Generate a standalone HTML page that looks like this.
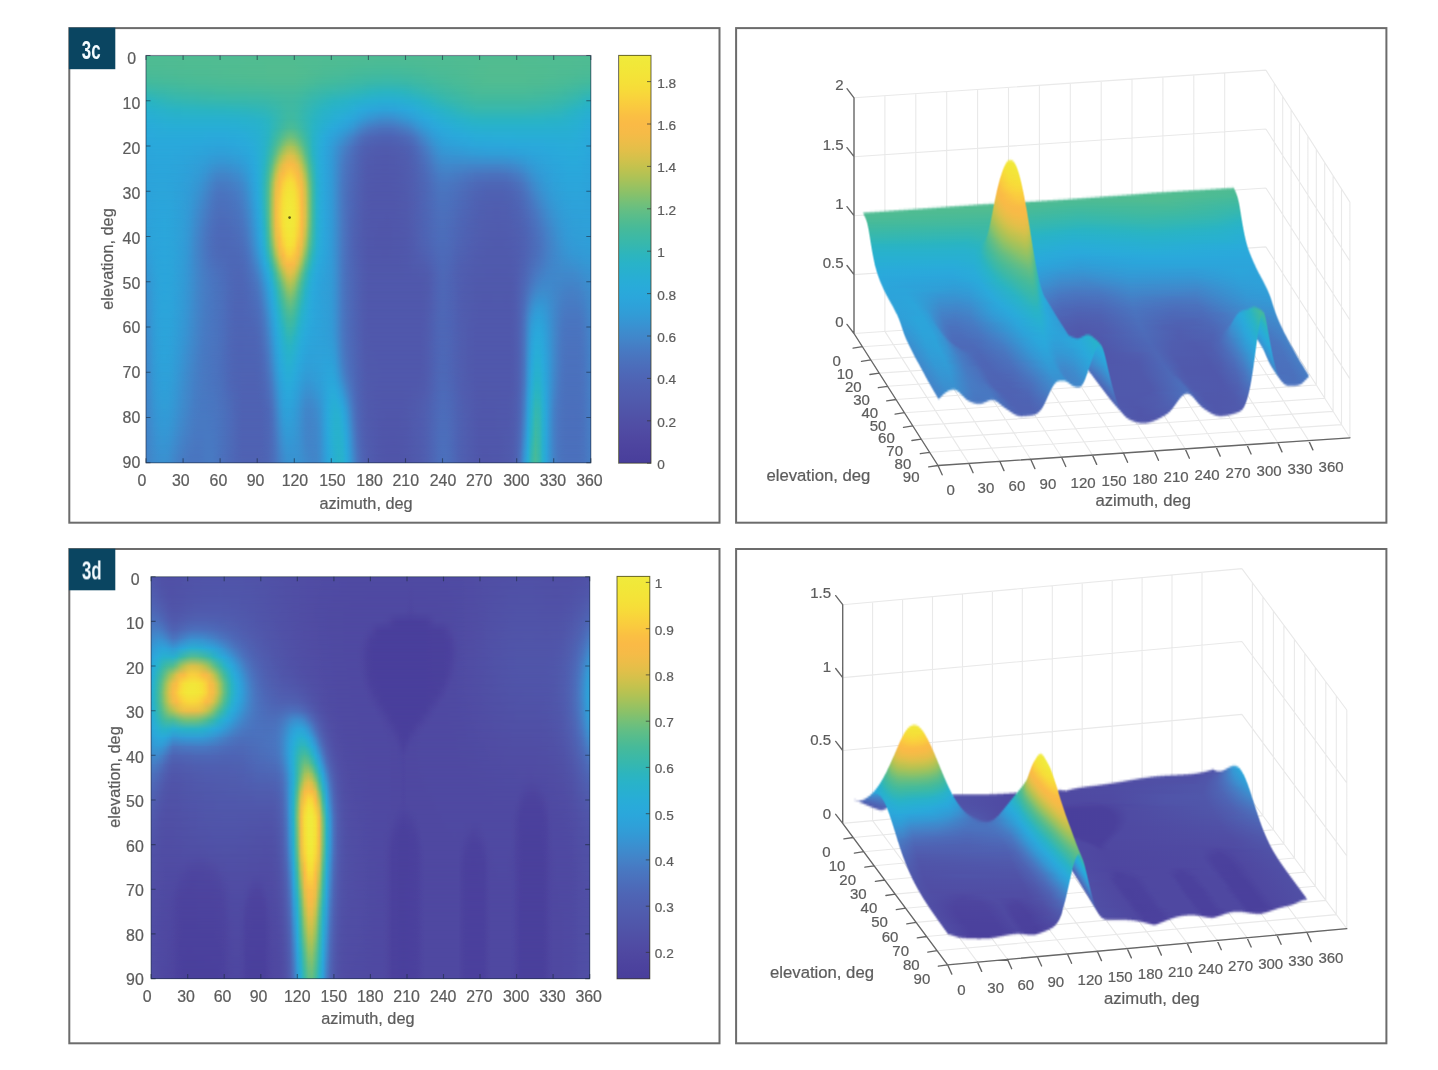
<!DOCTYPE html>
<html><head><meta charset="utf-8"><title>fig3</title>
<style>
html,body{margin:0;padding:0;background:#fff}
#c{position:relative;width:1438px;height:1070px;overflow:hidden;background:#fff;font-family:"Liberation Sans",sans-serif}
svg.l{position:absolute;left:0;top:0;will-change:transform}
svg text{font-family:"Liberation Sans",sans-serif;stroke:#5c5c5c;stroke-width:.22px}
.h{position:absolute;overflow:hidden}
.h div{position:absolute;left:0;width:100%}
.m{-webkit-mask-image:linear-gradient(180deg,transparent,#000);mask-image:linear-gradient(180deg,transparent,#000)}
.r{position:absolute;isolation:isolate;overflow:hidden}
.r div{position:absolute;left:0;width:100%;height:2px}
.u{-webkit-mask-image:linear-gradient(180deg,#000,transparent);mask-image:linear-gradient(180deg,#000,transparent)}
.d{-webkit-mask-image:linear-gradient(180deg,transparent,#000);mask-image:linear-gradient(180deg,transparent,#000);mix-blend-mode:plus-lighter}
#c{--c0:linear-gradient(90deg,#4fbc92,#4fbc92,#4fbc92,#4fbc92,#4fbc92,#4fbc92,#4fbc92,#4fbc92,#4fbc92,#50bc92,#50bc92,#50bc92,#50bc92,#50bc92,#50bc92,#50bc92,#50bc92,#50bc92,#50bc92,#50bc92,#50bc92,#50bc92,#50bc92,#50bc92,#50bc92,#50bc92,#50bc92,#50bc91,#50bc91,#50bc91,#50bc91,#50bc91,#50bc91,#50bc91,#50bc91,#50bc91,#50bc91,#50bc91,#50bc91,#50bc91,#50bc91,#50bc91,#50bc91,#50bc92,#50bc92,#50bc92,#50bc92,#50bc92,#4fbc92,#4fbc92,#4fbc92,#4fbc92,#4fbc92,#4fbc92,#4fbc92,#4fbc92,#4fbb92,#4fbb92,#4fbb92,#4fbb93,#4fbb93,#4fbb93,#4fbb93,#4ebb93,#4ebb93,#4ebb93,#4ebb93,#4ebb93,#4fbb93,#4fbb93,#4fbb93,#4fbb93,#4fbb92,#4fbb92,#4fbb92,#4fbc92,#4fbc92,#4fbc92,#4fbc92,#4fbc92,#4fbc92,#4fbc92,#4fbc92,#4fbc92,#50bc92,#50bc92,#50bc92,#50bc92,#50bc92,#50bc92,#50bc91,#50bc91,#50bc91,#50bc91,#50bc91,#50bc91,#50bc91,#50bc91,#50bc91,#50bc91,#50bc91,#50bc91,#50bc91,#50bc91,#50bc91,#50bc91,#50bc92,#50bc92,#50bc92,#50bc92,#50bc92,#50bc92,#50bc92,#50bc92,#50bc92,#50bc92,#50bc92,#4fbc92,#4fbc92,#4fbc92,#4fbc92);--c1:linear-gradient(90deg,#4ebb93,#4ebb93,#4ebb93,#4ebb93,#4ebb93,#4ebb93,#4fbb93,#4fbb93,#4fbb93,#4fbb92,#4fbb92,#4fbc92,#4fbc92,#4fbc92,#4fbc92,#4fbc92,#4fbc92,#4fbc92,#50bc92,#50bc92,#50bc92,#50bc92,#50bc92,#50bc91,#50bc91,#50bc91,#51bc91,#51bc91,#51bc91,#51bc91,#51bc91,#51bc91,#51bc90,#52bc90,#52bc90,#52bc90,#52bc90,#52bc90,#52bc90,#52bc90,#52bc90,#51bc91,#51bc91,#50bc91,#50bc92,#4fbc92,#4fbc92,#4fbb93,#4ebb93,#4ebb93,#4ebb93,#4ebb93,#4dbb94,#4dbb94,#4dbb94,#4cbb94,#4cbb95,#4cbb95,#4bbb95,#4bbb95,#4bbb96,#4bbb96,#4abb96,#4abb96,#4abb96,#4abb96,#4abb96,#4abb96,#4abb96,#4bbb96,#4bbb96,#4bbb95,#4bbb95,#4cbb95,#4cbb95,#4cbb94,#4dbb94,#4dbb94,#4dbb94,#4ebb93,#4ebb93,#4ebb93,#4ebb93,#4fbb93,#4fbb92,#4fbc92,#4fbc92,#50bc92,#50bc92,#50bc91,#51bc91,#51bc91,#51bc91,#52bc90,#52bc90,#52bc90,#52bc90,#52bc90,#52bc90,#52bc90,#52bc90,#51bc90,#51bc91,#51bc91,#51bc91,#51bc91,#51bc91,#50bc91,#50bc91,#50bc92,#50bc92,#50bc92,#4fbc92,#4fbc92,#4fbc92,#4fbb92,#4fbb93,#4fbb93,#4ebb93,#4ebb93,#4ebb93);--c2:linear-gradient(90deg,#4abb96,#4abb96,#4bbb96,#4bbb96,#4bbb95,#4cbb95,#4cbb95,#4cbb95,#4cbb94,#4dbb94,#4dbb94,#4dbb94,#4dbb94,#4ebb93,#4ebb93,#4ebb93,#4ebb93,#4ebb93,#4fbb93,#4fbb93,#4fbb92,#4fbc92,#4fbc92,#50bc92,#50bc92,#50bc92,#50bc91,#50bc91,#51bc91,#51bc91,#51bc91,#51bc91,#51bc91,#52bc90,#52bc90,#52bc90,#52bc90,#52bc90,#52bc90,#52bc90,#52bc90,#51bc91,#51bc91,#50bc92,#4fbb92,#4ebb93,#4dbb94,#4cbb94,#4bbb95,#4bbb96,#4abb96,#49bb97,#49bb97,#48bb98,#47bb99,#47ba99,#46ba9a,#45ba9b,#45ba9b,#44ba9c,#44ba9c,#43ba9d,#43ba9d,#43ba9d,#42ba9e,#42ba9e,#42ba9e,#43ba9d,#43ba9d,#43ba9d,#44ba9c,#44ba9c,#45ba9b,#46ba9a,#46ba9a,#47ba99,#48bb98,#49bb98,#49bb97,#4abb96,#4bbb96,#4bbb95,#4cbb95,#4cbb94,#4dbb94,#4ebb93,#4ebb93,#4fbb92,#4fbc92,#50bc91,#51bc91,#51bc91,#52bc90,#52bc90,#52bc90,#52bc90,#52bc90,#52bc90,#52bc90,#52bc90,#52bc90,#52bc90,#52bc90,#51bc91,#51bc91,#51bc91,#50bc91,#50bc91,#50bc92,#4fbc92,#4fbc92,#4fbb93,#4ebb93,#4ebb93,#4dbb93,#4dbb94,#4cbb94,#4cbb95,#4bbb95,#4bbb96,#4abb96);--c3:linear-gradient(90deg,#42ba9f,#42ba9e,#43ba9d,#43ba9d,#44ba9c,#45ba9b,#45ba9b,#46ba9a,#46ba9a,#47ba99,#47ba99,#48bb98,#48bb98,#48bb98,#49bb97,#49bb97,#49bb97,#4abb97,#4abb96,#4abb96,#4bbb96,#4bbb96,#4bbb95,#4bbb95,#4bbb95,#4cbb95,#4cbb95,#4cbb95,#4cbb94,#4cbb94,#4dbb94,#4dbb94,#4dbb94,#4dbb93,#4ebb93,#4ebb93,#4ebb93,#4ebb93,#4ebb93,#4ebb93,#4ebb93,#4dbb94,#4cbb95,#4bbb96,#49bb97,#48bb98,#46ba9a,#45ba9b,#44ba9c,#43ba9d,#42ba9e,#41ba9f,#41b9a0,#40b9a1,#3fb9a2,#3eb9a3,#3db9a4,#3cb9a5,#3cb9a6,#3bb8a7,#3ab8a8,#3ab8a9,#39b8aa,#39b8aa,#39b8ab,#39b8ab,#39b8ab,#39b8aa,#39b8aa,#3ab8a9,#3ab8a8,#3bb8a7,#3cb9a6,#3db9a4,#3eb9a3,#3fb9a2,#40b9a0,#41ba9f,#43ba9e,#44ba9c,#45ba9b,#46ba9a,#47ba99,#48bb98,#49bb97,#4abb97,#4bbb96,#4cbb95,#4dbb94,#4ebb93,#4ebb93,#4fbc92,#4fbc92,#50bc92,#50bc92,#50bc92,#50bc92,#50bc92,#50bc92,#50bc92,#50bc92,#4fbc92,#4fbc92,#4fbb92,#4ebb93,#4ebb93,#4ebb93,#4dbb94,#4dbb94,#4cbb95,#4cbb95,#4bbb96,#4abb96,#49bb97,#48bb98,#47ba99,#46ba9a,#45ba9b,#44ba9c,#43ba9d,#42ba9e);--c4:linear-gradient(90deg,#36b8ae,#37b8ad,#38b8ac,#39b8aa,#3ab8a9,#3ab8a8,#3bb9a7,#3cb9a6,#3db9a5,#3db9a4,#3eb9a3,#3eb9a3,#3fb9a2,#3fb9a2,#3fb9a1,#40b9a1,#40b9a1,#40b9a0,#41b9a0,#41ba9f,#41ba9f,#41ba9f,#42ba9f,#42ba9e,#42ba9e,#42ba9e,#42ba9e,#42ba9e,#43ba9d,#43ba9d,#43ba9d,#43ba9d,#44ba9c,#44ba9c,#45ba9b,#46ba9a,#46ba9a,#46ba9a,#46ba9a,#46ba9a,#46ba9a,#45ba9b,#43ba9d,#41ba9f,#3fb9a1,#3db9a4,#3cb9a6,#3bb8a8,#39b8a9,#38b8ab,#37b8ac,#37b8ae,#36b7af,#35b7b1,#34b7b2,#33b7b4,#32b6b6,#30b6b7,#2fb6b9,#2eb5bb,#2cb5bd,#2bb5bf,#2bb4c0,#2ab4c1,#2ab4c2,#2ab4c2,#2ab4c2,#2ab4c1,#2bb4c0,#2bb5bf,#2cb5bd,#2eb5bb,#30b6b8,#32b6b6,#33b7b3,#35b7b0,#37b8ae,#38b8ab,#3ab8a9,#3bb8a7,#3cb9a5,#3eb9a3,#3fb9a2,#40b9a0,#41ba9f,#43ba9d,#44ba9c,#46ba9a,#47ba99,#48bb98,#49bb98,#49bb97,#49bb97,#49bb97,#49bb97,#49bb97,#49bb97,#49bb97,#49bb97,#49bb97,#49bb97,#49bb97,#49bb97,#48bb98,#48bb98,#47ba99,#47ba99,#46ba9a,#45ba9b,#44ba9c,#44ba9c,#43ba9d,#42ba9f,#40b9a0,#3fb9a2,#3eb9a3,#3cb9a5,#3bb8a7,#39b8aa,#38b8ac,#36b8ae);--c5:linear-gradient(90deg,#2ab4c3,#2ab4c2,#2bb5bf,#2db5bd,#2eb6bb,#30b6b9,#31b6b7,#32b6b5,#33b7b4,#33b7b3,#34b7b2,#34b7b1,#35b7b1,#35b7b0,#35b7af,#36b7af,#36b7ae,#36b8ae,#37b8ae,#37b8ad,#37b8ad,#37b8ad,#37b8ac,#38b8ac,#38b8ac,#38b8ac,#38b8ab,#38b8ab,#39b8ab,#39b8aa,#39b8aa,#3ab8a9,#3ab8a8,#3bb8a7,#3cb9a5,#3db9a4,#3eb9a2,#40b9a1,#40b9a0,#41b9a0,#40b9a1,#3eb9a3,#3cb9a6,#3ab8a9,#37b8ad,#35b7b0,#33b7b3,#31b6b6,#2fb6b9,#2db5bc,#2bb5bf,#2ab4c1,#2ab4c3,#29b3c5,#29b3c7,#29b2c9,#28b2cb,#28b1cc,#28b1ce,#28b0d0,#28b0d1,#28afd2,#28afd3,#28aed3,#28aed4,#28aed4,#28aed4,#28aed3,#28afd3,#28afd2,#28b0d0,#28b0cf,#28b1cd,#28b2cb,#29b2c8,#29b3c5,#2ab4c2,#2cb5be,#2fb6ba,#31b6b6,#33b7b3,#35b7b0,#36b8ae,#38b8ac,#39b8aa,#3bb8a8,#3cb9a6,#3db9a4,#3fb9a2,#40b9a1,#40b9a0,#40b9a0,#40b9a0,#40b9a0,#40b9a0,#40b9a0,#40b9a0,#40b9a0,#40b9a0,#40b9a0,#40b9a0,#40b9a0,#40b9a1,#40b9a1,#3fb9a2,#3fb9a2,#3eb9a3,#3db9a4,#3cb9a5,#3cb9a6,#3bb8a7,#3ab8a9,#39b8aa,#37b8ac,#36b7af,#34b7b1,#32b7b4,#30b6b8,#2db5bc,#2bb4c0,#2ab4c3);--c6:linear-gradient(90deg,#28b1ce,#28b1ce,#28b1cc,#28b2cb,#29b2ca,#29b2c9,#29b3c7,#29b3c6,#29b3c5,#29b3c5,#2ab4c4,#2ab4c4,#2ab4c3,#2ab4c3,#2ab4c2,#2ab4c2,#2ab4c2,#2ab4c1,#2ab4c1,#2bb4c1,#2bb4c0,#2bb4c0,#2bb5c0,#2bb5bf,#2cb5be,#2cb5be,#2db5bd,#2db5bc,#2eb5bb,#2eb6ba,#2fb6b9,#30b6b8,#31b6b6,#33b7b3,#35b7b0,#37b8ad,#39b8aa,#3cb9a6,#3eb9a3,#3fb9a2,#3eb9a3,#3cb9a6,#38b8ab,#35b7b0,#32b7b5,#2fb6b9,#2cb5be,#2ab4c2,#29b3c6,#29b3c8,#28b2cb,#28b1cd,#28b1cf,#28b0d0,#28afd2,#28aed4,#29add7,#29abd9,#2aa9db,#2aa8db,#2ba6db,#2ba5da,#2ca4da,#2da3da,#2da2d9,#2da2d9,#2da3da,#2ca3da,#2ca5da,#2ba6db,#2aa7db,#2aa9db,#29aada,#29acd8,#28add6,#28afd3,#28b0d1,#28b1ce,#28b2cc,#29b2c9,#29b3c6,#2ab4c3,#2bb4c0,#2db5bd,#2fb6b9,#31b6b7,#33b7b4,#34b7b2,#35b7b0,#36b8ae,#37b8ae,#37b8ae,#37b8ae,#37b8ae,#37b8ae,#37b8ae,#37b8ae,#37b8ae,#37b8ae,#37b8ae,#37b8ae,#36b8ae,#36b8ae,#36b7af,#36b7af,#35b7b0,#35b7b1,#34b7b2,#33b7b3,#33b7b4,#32b6b5,#31b6b7,#30b6b9,#2eb5bc,#2bb5bf,#2ab4c2,#29b3c5,#29b3c8,#28b2ca,#28b1cd,#28b1ce);--c7:linear-gradient(90deg,#28aed5,#28aed5,#28aed4,#28afd3,#28afd2,#28b0d1,#28b0d0,#28b0d0,#28b0cf,#28b0cf,#28b1cf,#28b1cf,#28b1ce,#28b1ce,#28b1ce,#28b1ce,#28b1ce,#28b1ce,#28b1ce,#28b1ce,#28b1ce,#28b1ce,#28b1cd,#28b1cd,#28b1cd,#28b1cc,#28b2cb,#28b2cb,#29b2ca,#29b2c9,#29b3c8,#29b3c6,#2ab4c3,#2bb5bf,#2fb6b9,#33b7b3,#37b8ad,#3bb8a7,#3eb9a2,#40b9a0,#3fb9a2,#3bb9a7,#37b8ac,#33b7b3,#2fb6b9,#2bb4c0,#29b3c5,#29b2c9,#28b1cd,#28b0cf,#28afd2,#28aed5,#29add7,#29abd9,#2aa9db,#2aa7db,#2ca4da,#2ea0d9,#319cd7,#3498d4,#3794d3,#3992d1,#3b8fcf,#3c8dce,#3d8cce,#3e8ccd,#3d8cce,#3c8ecf,#3a91d0,#3794d2,#3597d4,#329ad6,#309ed7,#2ea1d9,#2ca5da,#2aa7db,#2aa9db,#29abd9,#29add7,#28aed4,#28afd2,#28b0d0,#28b1ce,#28b1cc,#28b2ca,#29b2c9,#29b3c7,#29b3c5,#2ab4c3,#2ab4c2,#2ab4c1,#2ab4c1,#2ab4c1,#2ab4c1,#2ab4c1,#2ab4c1,#2ab4c1,#2ab4c1,#2ab4c1,#2ab4c1,#2ab4c1,#2ab4c1,#2ab4c2,#2ab4c2,#2ab4c2,#2ab4c3,#2ab4c3,#2ab4c4,#2ab3c4,#29b3c5,#29b3c5,#29b3c6,#29b3c7,#29b2c9,#28b2cb,#28b1cc,#28b1ce,#28b0d0,#28afd2,#28aed4,#28aed5);--c8:linear-gradient(90deg,#29abd9,#29abd9,#29acd9,#29acd8,#29acd7,#29add7,#28add7,#28add6,#28add6,#28add6,#28add6,#28add6,#28add6,#28add6,#28add6,#28add6,#28add6,#28add6,#28add6,#28add6,#28add6,#28add6,#28add6,#28aed5,#28aed5,#28aed4,#28afd3,#28afd2,#28b0d1,#28b0d0,#28b1ce,#28b2cc,#29b3c8,#2ab4c3,#2fb6ba,#34b7b1,#3ab8a8,#41b9a0,#47ba99,#4abb96,#48bb98,#42ba9f,#3bb9a7,#35b7b0,#2fb6ba,#2ab4c4,#28b2ca,#28b0cf,#28aed3,#29acd7,#29aada,#2aa8db,#2ba5db,#2da2d9,#2f9fd8,#329ad6,#3795d3,#3c8dce,#4186ca,#4580c6,#477bc3,#4878c2,#4976c0,#4a74bf,#4a73be,#4a73be,#4a73bf,#4a75c0,#4978c1,#477bc3,#457fc5,#4383c8,#3f89cc,#3b90d0,#3696d3,#329bd6,#2f9fd8,#2da3da,#2ba6db,#2aa8db,#29aada,#29abd9,#29acd8,#28add6,#28aed5,#28aed4,#28afd2,#28b0d1,#28b0d0,#28b0cf,#28b1cf,#28b1ce,#28b1ce,#28b1ce,#28b1ce,#28b1ce,#28b1ce,#28b1ce,#28b1ce,#28b1ce,#28b1ce,#28b1ce,#28b1ce,#28b1ce,#28b1ce,#28b1ce,#28b1ce,#28b1ce,#28b1cf,#28b1cf,#28b0cf,#28b0cf,#28b0d0,#28b0d0,#28b0d1,#28afd2,#28afd3,#28aed5,#28add6,#29acd8,#29abd9);--c9:linear-gradient(90deg,#2aa9db,#2aa9db,#2aa9db,#29aada,#29aada,#29aada,#29aada,#29aada,#29aada,#29aada,#29aada,#29aada,#29aada,#29aada,#29aada,#29aada,#2aaadb,#2aa9db,#2aa9db,#2aa9db,#2aa9db,#2aa9db,#2aaadb,#29aada,#29aada,#29abda,#29abd9,#29acd8,#28add6,#28aed4,#28afd2,#28b1ce,#29b2c9,#2ab4c1,#33b7b3,#3cb9a5,#48bb98,#58bd8c,#67be81,#6ebf7c,#68be81,#59bd8b,#49bb97,#3cb9a6,#32b6b5,#29b3c5,#28b1cf,#28aed5,#29abda,#2aa7db,#2da3da,#309fd8,#339ad5,#3794d2,#3c8dce,#4186ca,#457fc6,#4977c1,#4b70bc,#4d6bb9,#4d68b7,#4e66b6,#4e65b5,#4e64b4,#4e63b4,#4e63b4,#4e63b4,#4e64b5,#4e66b6,#4d68b7,#4d6ab9,#4c6ebb,#4a73be,#477ac3,#4383c8,#3f8acc,#3a91d0,#3597d4,#319cd7,#2ea0d8,#2da3da,#2ca5da,#2ba6db,#2aa7db,#2aa8db,#2aa9db,#2aaadb,#29aada,#29abd9,#29acd8,#29acd8,#29acd8,#29acd7,#29acd7,#29add7,#29add7,#29add7,#29add7,#29add7,#28add7,#28add6,#28add6,#28add6,#28add6,#28add6,#28add6,#28add6,#28add6,#28add6,#28add6,#28add6,#28add6,#28add5,#28add5,#28add5,#28add6,#28add7,#29acd8,#29abd9,#29aada,#2aa9db);--c10:linear-gradient(90deg,#2aa7db,#2aa7db,#2aa8db,#2aa8db,#2aa8db,#2aa8db,#2aa8db,#2aa8db,#2aa8db,#2aa8db,#2aa7db,#2aa7db,#2aa7db,#2ba6db,#2ba6db,#2ba6db,#2ba5db,#2ba5da,#2ca5da,#2ca4da,#2ca4da,#2ca4da,#2ca5da,#2ba5db,#2ba6db,#2ba7db,#2aa8db,#2aa9db,#29abda,#29acd8,#28aed4,#28b0d0,#29b2c9,#2eb5bb,#3ab8a9,#4cbb95,#66be82,#85c16c,#9fc25d,#a9c258,#9fc25d,#85c16c,#65be83,#49bb97,#37b8ad,#29b3c5,#28b0d0,#29acd8,#2aa8db,#2da3da,#319dd7,#3696d4,#3c8ecf,#4186ca,#457fc5,#4977c1,#4b70bd,#4d6ab9,#4e65b5,#4f61b2,#4f5fb1,#505eb0,#505daf,#505caf,#505cae,#505cae,#505caf,#505daf,#505eb0,#4f5fb1,#4f61b2,#4e63b4,#4d67b7,#4c6dbb,#4a74bf,#477bc4,#4383c8,#3e8bcd,#3992d1,#3597d4,#329bd6,#319dd7,#309ed7,#2f9fd8,#2fa0d8,#2ea1d9,#2da2d9,#2da3da,#2ca4da,#2ca5da,#2ba5da,#2ba5db,#2ba6db,#2ba6db,#2ba6db,#2ba6db,#2ba6db,#2ba7db,#2aa7db,#2aa7db,#2aa7db,#2aa8db,#2aa8db,#2aa8db,#2aa9db,#2aa9db,#2aa9db,#2aa9db,#29aada,#29aada,#29aada,#29abda,#29abd9,#29abd9,#29acd9,#29acd9,#29abd9,#29abda,#29aada,#2aa9db,#2aa7db);--c11:linear-gradient(90deg,#2ba6db,#2ba6db,#2ba6db,#2ba7db,#2aa7db,#2aa7db,#2aa7db,#2ba7db,#2ba6db,#2ba6db,#2ba5db,#2ca5da,#2ca4da,#2ca3da,#2da2d9,#2ea2d9,#2ea1d9,#2f9fd8,#309ed8,#309dd7,#319dd7,#319dd7,#309ed7,#309fd8,#2fa0d8,#2ea1d9,#2da3da,#2ba5da,#2aa7db,#29aada,#28add6,#28b0d0,#29b3c7,#34b7b2,#45ba9b,#68be81,#95c263,#bac251,#d3c14b,#dcc04a,#d2c14b,#b6c252,#8ec267,#5fbd87,#3eb9a3,#2bb4c0,#28b0d0,#29abd9,#2ba7db,#2ea1d9,#329bd6,#3892d1,#3f89cc,#4580c6,#4977c1,#4b71bd,#4d6bb9,#4e66b5,#4f61b2,#505eb0,#505cae,#505bae,#505aad,#505aad,#5059ad,#5059ac,#505aad,#505aad,#505bae,#505cae,#505daf,#4f5fb1,#4e63b3,#4d67b7,#4c6dba,#4a73be,#4879c2,#4481c7,#4088cb,#3c8ecf,#3992d1,#3893d2,#3794d3,#3695d3,#3696d3,#3696d4,#3597d4,#3498d4,#3499d5,#3399d5,#339ad5,#339ad6,#329ad6,#329bd6,#329bd6,#329bd6,#329bd6,#319cd6,#319cd7,#319dd7,#309ed7,#2f9fd8,#2ea0d8,#2ea2d9,#2da3da,#2ca4da,#2ca5da,#2ba6db,#2ba6db,#2aa7db,#2aa8db,#2aa8db,#2aa9db,#2aa9db,#29aada,#29aada,#29aada,#2aa9db,#2aa9db,#2aa7db,#2ba6db);--c12:linear-gradient(90deg,#2ca5da,#2ba5da,#2ba5db,#2ba6db,#2ba6db,#2ba6db,#2ba6db,#2ba5db,#2ca5da,#2ca4da,#2ca3da,#2da2d9,#2ea1d9,#2fa0d8,#309fd8,#319dd7,#329bd6,#3498d5,#3696d3,#3794d2,#3893d2,#3893d2,#3794d2,#3695d3,#3597d4,#3399d5,#319cd6,#2f9fd8,#2ca4da,#2aa8db,#29acd8,#28b0d0,#2ab4c2,#3bb8a7,#5abd8b,#93c263,#c7c24d,#e7be48,#f6bb47,#f9ba46,#f4bb47,#e1bf49,#b9c251,#80c16f,#4cbb95,#32b6b5,#28b1ce,#29acd9,#2ba7db,#2ea1d9,#329ad6,#3991d1,#4186ca,#477cc4,#4a74bf,#4c6ebb,#4d69b8,#4e64b4,#4f60b1,#505caf,#505aad,#505aad,#5059ac,#5059ac,#5058ac,#5058ac,#5059ac,#5059ac,#505aad,#505bae,#505cae,#505eb0,#4f61b2,#4e64b4,#4d69b7,#4c6dbb,#4a73be,#4879c2,#4580c6,#4285c9,#4088cb,#3f89cc,#3f8acc,#3f89cc,#3f89cc,#4089cb,#4089cb,#4088cb,#4088cb,#4088cb,#4088cb,#4088cb,#4088cb,#4088cb,#4088cb,#4088cb,#4089cb,#3f8acc,#3e8bcd,#3d8dce,#3b8fcf,#3992d1,#3695d3,#3499d5,#329bd6,#309ed7,#2fa0d8,#2ea1d9,#2da3da,#2ca4da,#2ba5db,#2ba6db,#2aa7db,#2aa8db,#2aa8db,#2aa9db,#2aa9db,#2aa8db,#2aa7db,#2ba6db,#2ba5da);--c13:linear-gradient(90deg,#2ca4da,#2ca4da,#2ca5da,#2ba5da,#2ba5db,#2ba5db,#2ba5da,#2ca4da,#2ca4da,#2da3da,#2da2d9,#2ea0d9,#2f9fd8,#319dd7,#329bd6,#3498d5,#3795d3,#3a90d0,#3e8ccd,#4088cb,#4187ca,#4187ca,#4088cb,#3f8acc,#3d8cce,#3b8fcf,#3894d2,#3399d5,#2f9fd8,#2ba5db,#29abd9,#28b0d0,#2eb5bb,#44ba9c,#76c077,#bec24f,#ecbd48,#faba46,#fac640,#facc3e,#fac342,#f8ba47,#ddc049,#a4c25b,#5fbd87,#38b8ab,#28b2cc,#29acd8,#2ba7db,#2ea1d9,#329ad6,#3a90d0,#4285c9,#487ac3,#4b72be,#4c6cba,#4e67b7,#4e63b3,#4f5fb0,#505bae,#5059ad,#5059ac,#5058ac,#5058ac,#5058ab,#5058ab,#5058ac,#5058ac,#5059ac,#505aad,#505bae,#505daf,#4f5fb1,#4f62b3,#4e66b5,#4d69b8,#4c6ebb,#4a73be,#4878c2,#467dc4,#457fc6,#4580c6,#457fc6,#457ec5,#467dc4,#477cc4,#477ac3,#4879c2,#4978c1,#4976c0,#4976c0,#4a75c0,#4a75bf,#4a74bf,#4a74bf,#4a74bf,#4a75c0,#4976c0,#4878c2,#477bc3,#467ec5,#4382c8,#4087cb,#3d8dce,#3893d1,#3597d4,#329ad6,#319dd7,#2f9fd8,#2ea1d9,#2da3da,#2ca4da,#2ba5db,#2ba6db,#2aa7db,#2aa7db,#2aa7db,#2aa7db,#2ba6db,#2ba5da,#2ca4da);--c14:linear-gradient(90deg,#2da3da,#2ca4da,#2ca4da,#2ca5da,#2ca5da,#2ca5da,#2ca4da,#2ca4da,#2da3da,#2da2d9,#2ea0d9,#309fd8,#319dd7,#339ad5,#3597d4,#3893d2,#3c8ecf,#4088cb,#4383c8,#457ec5,#467dc4,#467dc4,#467ec5,#4480c6,#4383c8,#4186ca,#3e8bcd,#3992d1,#329bd6,#2da3da,#29aada,#28b0d0,#31b6b6,#4ebb93,#91c265,#dcc04a,#faba46,#facd3e,#f7da39,#f6de38,#f8d63b,#fac242,#f1bc47,#bfc24f,#72bf79,#3eb9a3,#29b2c9,#29acd8,#2ba7db,#2ea1d9,#329ad6,#3a90d0,#4284c9,#4878c2,#4b71bd,#4d6bb9,#4e66b6,#4f62b3,#505eb0,#505bae,#5059ac,#5058ac,#5058ab,#5058ab,#5057ab,#5057ab,#5058ab,#5058ac,#5059ac,#505aad,#505bae,#505caf,#505eb0,#4f61b2,#4e64b4,#4e67b6,#4d6ab9,#4c6fbc,#4a73be,#4977c1,#4878c2,#4878c2,#4977c1,#4976c0,#4a74bf,#4b72be,#4b70bd,#4c6ebb,#4c6dba,#4d6bb9,#4d6ab8,#4d69b8,#4d69b7,#4d68b7,#4d68b7,#4d68b7,#4d68b7,#4d69b8,#4d6bb9,#4c6ebb,#4b71bd,#4a75bf,#477bc3,#4382c8,#3f89cc,#3b8fcf,#3794d2,#3498d5,#319cd6,#309ed8,#2ea1d9,#2da2d9,#2ca4da,#2ba5da,#2ba6db,#2ba6db,#2ba6db,#2ba6db,#2ba5da,#2ca4da,#2ca3da);--c15:linear-gradient(90deg,#2da2d9,#2ca3da,#2ca4da,#2ca4da,#2ca5da,#2ca5da,#2ca4da,#2ca4da,#2da2d9,#2ea1d9,#2f9fd8,#309dd7,#329ad6,#3597d4,#3893d1,#3c8ecf,#4088cb,#4382c7,#477cc4,#4977c1,#4a75c0,#4976c0,#4977c1,#4879c2,#477bc4,#457fc6,#4284c9,#3d8ccd,#3696d3,#2fa0d8,#2aa8db,#28b0d0,#33b7b4,#54bc8e,#9fc25d,#e9be48,#fac242,#f8d83a,#f4e238,#f3e438,#f5e038,#face3e,#f9ba47,#cdc24c,#7ec171,#41ba9f,#29b3c8,#29acd8,#2ba7db,#2ea1d9,#329ad6,#3b90d0,#4383c8,#4978c1,#4b70bc,#4d6ab8,#4e65b5,#4f61b2,#505daf,#505aad,#5058ac,#5058ab,#5057ab,#5057ab,#5057ab,#5057ab,#5057ab,#5058ab,#5058ac,#5059ac,#505aad,#505cae,#505eb0,#4f60b1,#4f63b3,#4e65b5,#4d69b7,#4c6cba,#4b70bc,#4a73be,#4a74bf,#4a74bf,#4a72be,#4b71bd,#4c6fbc,#4c6dba,#4d6bb9,#4d69b7,#4e67b6,#4e65b5,#4e64b4,#4e63b4,#4f62b3,#4f62b3,#4f62b3,#4f62b3,#4f62b3,#4e63b4,#4e64b5,#4e66b6,#4d69b8,#4c6dba,#4b72be,#4879c2,#4481c7,#4088cb,#3c8ece,#3893d2,#3597d4,#329bd6,#309ed7,#2fa0d8,#2ea2d9,#2da3da,#2ca4da,#2ca4da,#2ca5da,#2ca4da,#2ca4da,#2ca3da,#2da2d9);--c16:linear-gradient(90deg,#2da2d9,#2da3da,#2ca4da,#2ca5da,#2ba5da,#2ba5da,#2ca5da,#2ca4da,#2da2d9,#2ea1d9,#309fd8,#319cd6,#3499d5,#3794d2,#3b8fcf,#3f89cc,#4383c8,#467dc4,#4977c1,#4a73be,#4b71bd,#4b71bd,#4b72be,#4a74bf,#4976c1,#487ac3,#457fc6,#4187cb,#3992d1,#319dd7,#2ba7db,#28afd2,#32b7b5,#56bc8d,#a5c25a,#eebd47,#fac940,#f6de38,#f3e638,#f2e739,#f4e338,#f9d43b,#faba46,#d3c14b,#82c16e,#42ba9e,#29b3c8,#29acd8,#2ba7db,#2ea1d9,#329ad6,#3b90d0,#4383c8,#4978c1,#4b6fbc,#4d69b8,#4e64b5,#4f60b2,#505daf,#505aad,#5058ac,#5057ab,#5057ab,#5057ab,#5057ab,#5057ab,#5057ab,#5057ab,#5058ac,#5059ac,#505aad,#505bae,#505daf,#4f5fb1,#4f62b3,#4e65b5,#4d68b7,#4d6bb9,#4c6ebb,#4b71bd,#4b72bd,#4b71bd,#4b70bc,#4c6ebb,#4c6cba,#4d6ab8,#4d68b7,#4e66b5,#4e64b4,#4f62b3,#4f61b2,#4f60b2,#4f60b1,#4f5fb1,#4f5fb1,#4f5fb1,#4f5fb1,#4f60b1,#4f61b2,#4e63b3,#4e65b5,#4d68b7,#4c6dba,#4a72be,#4879c2,#4480c6,#4187ca,#3d8dce,#3992d1,#3597d4,#339ad6,#319dd7,#2f9fd8,#2ea1d9,#2da2d9,#2da3da,#2da3da,#2da3da,#2da3da,#2da2d9,#2da2d9);--c17:linear-gradient(90deg,#2da2d9,#2da3da,#2ca4da,#2ca5da,#2ba5db,#2ba5db,#2ba5da,#2ca4da,#2da2d9,#2ea0d9,#309ed7,#329bd6,#3597d4,#3991d1,#3e8bcd,#4285c9,#457fc6,#4879c2,#4a74bf,#4b70bc,#4c6fbb,#4c6fbc,#4b70bc,#4b71bd,#4a73be,#4976c0,#477bc3,#4383c8,#3c8dce,#3399d5,#2ca4da,#28aed4,#30b6b7,#55bc8e,#a7c259,#f0bc47,#facc3e,#f5e038,#f2e739,#f1e93a,#f3e538,#f8d73a,#fabb45,#d6c14b,#83c16d,#42ba9e,#29b3c8,#29acd8,#2ba7db,#2ea1d9,#329ad6,#3b90d0,#4383c8,#4978c1,#4c6fbc,#4d69b8,#4e64b4,#4f60b1,#505caf,#505aad,#5058ac,#5057ab,#5057ab,#5057ab,#5057ab,#5057ab,#5057ab,#5057ab,#5058ab,#5059ac,#5059ad,#505bae,#505daf,#4f5fb1,#4f62b3,#4e64b4,#4e67b6,#4d6ab8,#4c6dba,#4c6fbc,#4b70bc,#4b70bc,#4c6ebb,#4c6cba,#4d6ab8,#4d68b7,#4e66b6,#4e64b4,#4f62b3,#4f61b2,#4f5fb1,#4f5fb0,#505eb0,#505eb0,#505daf,#505daf,#505eb0,#505eb0,#4f5fb1,#4f61b2,#4f62b3,#4e65b5,#4d69b8,#4c6ebb,#4a73bf,#4879c2,#4580c6,#4186ca,#3d8cce,#3992d1,#3696d3,#339ad5,#319cd7,#309fd8,#2fa0d8,#2ea1d9,#2ea1d9,#2ea2d9,#2ea2d9,#2ea1d9,#2ea1d9);--c18:linear-gradient(90deg,#2ea1d9,#2da3da,#2ca4da,#2ba5da,#2ba5db,#2ba6db,#2ba5da,#2ca4da,#2da2d9,#2ea0d8,#309ed7,#339ad6,#3695d3,#3b8fcf,#4088cb,#4382c8,#477cc4,#4976c0,#4b71bd,#4c6ebb,#4c6cba,#4c6cba,#4c6dbb,#4c6fbb,#4b70bd,#4a73be,#4977c1,#457fc6,#3f89cc,#3696d3,#2da2d9,#29add7,#2db5bc,#52bc90,#a5c25a,#f0bc47,#facc3e,#f5e138,#f2e839,#f1e93a,#f3e638,#f8d83a,#fabb45,#d5c14b,#82c16e,#41ba9f,#29b3c8,#29acd8,#2ba7db,#2ea1d9,#329ad6,#3a90d0,#4384c8,#4978c1,#4c6fbc,#4d68b7,#4e63b4,#4f5fb1,#505cae,#5059ac,#5058ab,#5057ab,#5057ab,#5057ab,#5057ab,#5056aa,#5057ab,#5057ab,#5058ab,#5058ac,#5059ac,#505bad,#505daf,#4f5fb1,#4f61b2,#4e64b4,#4e66b6,#4d69b8,#4c6cba,#4c6ebb,#4c6fbc,#4c6ebb,#4c6dba,#4d6bb9,#4d68b7,#4e66b6,#4e64b5,#4f63b3,#4f61b2,#4f5fb1,#505eb0,#505eb0,#505daf,#505daf,#505caf,#505caf,#505daf,#505daf,#505eb0,#4f5fb1,#4f61b2,#4f63b3,#4e66b6,#4d6ab9,#4c6fbc,#4a74bf,#477ac3,#4481c7,#4087cb,#3d8dce,#3992d1,#3696d3,#339ad5,#319cd7,#309ed7,#2f9fd8,#2fa0d8,#2ea0d8,#2ea1d9,#2ea1d9,#2ea1d9);--c19:linear-gradient(90deg,#2ea1d9,#2da2d9,#2ca4da,#2ba5da,#2ba5db,#2ba6db,#2ba5da,#2ca4da,#2da2d9,#2fa0d8,#319dd7,#3399d5,#3794d2,#3d8dce,#4186ca,#457fc6,#4879c2,#4a73bf,#4c6fbc,#4c6cba,#4d6ab9,#4d6ab9,#4d6bb9,#4c6cba,#4c6ebb,#4b70bc,#4a74bf,#477bc3,#4186ca,#3992d1,#2f9fd8,#29abd9,#2ab4c2,#4dbb94,#9ec25e,#ecbd48,#fac840,#f6df38,#f2e739,#f1e839,#f3e438,#f9d43b,#faba46,#cec24c,#7ac074,#3fb9a2,#29b2c9,#29acd8,#2ba7db,#2ea1d9,#329ad6,#3a90d0,#4384c8,#4978c1,#4c6fbc,#4d68b7,#4f63b3,#4f5fb1,#505cae,#5059ac,#5058ab,#5057ab,#5057ab,#5056aa,#5056aa,#5056aa,#5056aa,#5057ab,#5057ab,#5058ac,#5059ac,#505aad,#505caf,#4f5fb0,#4f61b2,#4e63b4,#4e66b6,#4d69b7,#4d6bb9,#4c6dba,#4c6ebb,#4c6dba,#4d6bb9,#4d69b8,#4e67b6,#4e65b5,#4e63b4,#4f61b2,#4f60b1,#4f5fb0,#505eb0,#505daf,#505caf,#505cae,#505cae,#505bae,#505cae,#505caf,#505daf,#505eb0,#4f5fb1,#4f61b2,#4e64b4,#4d67b7,#4c6cba,#4b70bd,#4976c0,#477cc4,#4382c8,#4088cb,#3c8ece,#3893d1,#3597d4,#339ad6,#319cd7,#309ed7,#309fd8,#2f9fd8,#2fa0d8,#2fa0d8,#2fa0d8);--c20:linear-gradient(90deg,#2fa0d8,#2da2d9,#2ca4da,#2ca5da,#2ba5db,#2ba6db,#2ba5da,#2ca4da,#2da2d9,#2fa0d8,#319dd7,#3499d5,#3893d1,#3e8bcd,#4284c9,#467dc5,#4977c1,#4b72bd,#4c6dbb,#4d6ab9,#4d69b8,#4d69b8,#4d69b8,#4d6ab9,#4d6bb9,#4c6dbb,#4b71bd,#4977c1,#4482c7,#3c8ecf,#319cd7,#2aa9db,#29b3c8,#45ba9b,#8fc266,#e2bf49,#fabe44,#f8d83a,#f4e338,#f3e638,#f5e138,#facc3e,#f5bb47,#bec24f,#6cbf7e,#3bb9a7,#28b2cb,#29acd8,#2ba6db,#2ea1d9,#329ad6,#3a90d0,#4284c8,#4978c1,#4c6fbc,#4d68b7,#4f62b3,#4f5fb0,#505bae,#5059ac,#5057ab,#5057ab,#5056aa,#5056aa,#5056aa,#5056aa,#5056aa,#5057ab,#5057ab,#5058ab,#5058ac,#505aad,#505cae,#505eb0,#4f61b2,#4e63b4,#4e65b5,#4d68b7,#4d6ab9,#4c6cba,#4c6dba,#4c6cba,#4d6ab9,#4d68b7,#4e66b6,#4e64b4,#4f62b3,#4f61b2,#4f5fb1,#505eb0,#505daf,#505caf,#505cae,#505bae,#505bae,#505bae,#505bae,#505bae,#505caf,#505daf,#505eb0,#4f60b1,#4f62b3,#4e66b5,#4d69b8,#4c6ebb,#4a73be,#4878c2,#457fc6,#4285c9,#3e8acc,#3b90d0,#3794d2,#3498d5,#329bd6,#319cd7,#309dd7,#309ed7,#309ed8,#2f9fd8,#2f9fd8);--c21:linear-gradient(90deg,#309fd8,#2ea1d9,#2da3da,#2ca4da,#2ba5db,#2ba6db,#2ba5da,#2ca4da,#2da2d9,#2f9fd8,#319cd7,#3498d5,#3992d1,#3f8acc,#4383c8,#467cc4,#4976c0,#4b71bd,#4c6dba,#4d6ab8,#4d69b7,#4d68b7,#4d69b7,#4d69b8,#4d6ab8,#4d6bb9,#4c6ebb,#4a74bf,#467dc5,#3f8acc,#3498d5,#2ba6db,#28b1ce,#3cb9a5,#77c076,#ccc24c,#f9ba47,#facc3e,#f6dd39,#f5e038,#f8d83a,#fabf43,#e7be48,#a6c25a,#5bbd8a,#36b7af,#28b1ce,#29abd9,#2ba6db,#2ea1d9,#329ad6,#3a90d0,#4284c9,#4978c1,#4c6fbc,#4d68b7,#4f62b3,#4f5eb0,#505bae,#5059ac,#5057ab,#5057ab,#5056aa,#5056aa,#5056aa,#5056aa,#5056aa,#5057aa,#5057ab,#5057ab,#5058ac,#5059ad,#505bae,#505eb0,#4f60b1,#4f62b3,#4e64b4,#4e67b6,#4d69b8,#4d6bb9,#4c6bb9,#4d6bb9,#4d69b8,#4e67b6,#4e64b5,#4f63b3,#4f61b2,#4f5fb1,#505eb0,#505daf,#505caf,#505cae,#505bae,#505bad,#505aad,#505aad,#505aad,#505bae,#505bae,#505caf,#505db0,#4f5fb1,#4f62b3,#4e65b5,#4d69b8,#4c6dba,#4b71bd,#4977c1,#467dc5,#4383c8,#4088cb,#3d8dce,#3992d1,#3696d3,#3498d5,#339ad6,#329bd6,#319cd7,#319dd7,#309dd7,#309ed7);--c22:linear-gradient(90deg,#319cd7,#2f9fd8,#2da2d9,#2ca4da,#2ba5db,#2ba6db,#2ba5da,#2ca4da,#2da2d9,#2f9fd8,#319cd6,#3498d4,#3991d1,#3f8acc,#4383c8,#467dc4,#4977c1,#4b72be,#4c6ebb,#4d6bb9,#4d6ab8,#4d69b8,#4d69b8,#4d68b7,#4d68b7,#4d69b8,#4c6cb9,#4b70bd,#4878c2,#4284c9,#3992d1,#2ea1d9,#28add5,#31b6b6,#59bd8b,#a8c259,#e5be48,#faba46,#facc3f,#fad13c,#fac641,#f5bb47,#cac24d,#82c16e,#47ba99,#2cb5bd,#28afd2,#29aada,#2ba5da,#2ea0d9,#339ad6,#3a90d0,#4284c9,#4978c1,#4c6fbc,#4d68b7,#4e63b3,#4f5fb1,#505cae,#5059ac,#5057ab,#5057ab,#5057ab,#5057ab,#5056aa,#5056aa,#5057aa,#5057ab,#5057ab,#5058ab,#5058ac,#5059ac,#505bad,#505caf,#505eb0,#4f60b1,#4f62b3,#4e64b5,#4e67b6,#4d69b8,#4d6ab9,#4d69b8,#4d68b7,#4e65b5,#4e63b3,#4f61b2,#4f60b1,#505eb0,#505daf,#505cae,#505bae,#505bae,#505aad,#505aad,#505aad,#505aad,#505aad,#505aad,#505bae,#505cae,#505daf,#4f5fb1,#4f62b3,#4e66b5,#4d6ab8,#4c6ebb,#4a73be,#4878c1,#467ec5,#4383c8,#4087cb,#3e8bcd,#3b8fcf,#3992d1,#3795d3,#3596d4,#3498d4,#3399d5,#339ad6,#329bd6,#329bd6);--c23:linear-gradient(90deg,#3399d5,#319dd7,#2ea1d9,#2ca4da,#2ba5da,#2ba6db,#2ba5da,#2ca4da,#2ea1d9,#2f9fd8,#329cd6,#3597d4,#3991d1,#3e8acc,#4284c9,#467ec5,#4879c2,#4a74bf,#4b71bd,#4c6ebb,#4c6cba,#4d6bb9,#4d69b8,#4d68b7,#4d67b7,#4d68b7,#4d69b8,#4c6dbb,#4a74bf,#467dc5,#3f89cc,#3399d5,#2aa8db,#28b1cc,#3db9a4,#73bf79,#b8c252,#e6be48,#f9ba47,#faba46,#f6bb47,#d6c14a,#9bc25f,#59bd8b,#36b8ae,#28b2cb,#29acd7,#2aa7db,#2ca3da,#2f9fd8,#339ad6,#3a91d0,#4284c9,#4878c1,#4c6fbc,#4d69b8,#4e64b4,#4f60b1,#505caf,#5059ad,#5058ab,#5057ab,#5057ab,#5057ab,#5057ab,#5057ab,#5057ab,#5057ab,#5057ab,#5058ab,#5058ac,#5059ac,#505aad,#505bae,#505cae,#505daf,#4f5fb1,#4f62b3,#4e65b5,#4d67b7,#4d69b8,#4d68b7,#4e66b6,#4e64b4,#4f61b2,#4f5fb1,#505eb0,#505daf,#505cae,#505bae,#505bad,#505aad,#505aad,#505aad,#505aad,#505aad,#505aad,#505aad,#505aad,#505bae,#505daf,#4f60b1,#4e63b4,#4d68b7,#4c6dba,#4b72bd,#4976c0,#477bc4,#4480c6,#4284c9,#4087cb,#3f89cc,#3e8ccd,#3c8ece,#3b8fcf,#3a91d0,#3992d1,#3794d2,#3696d3,#3597d4,#3598d4);--c24:linear-gradient(90deg,#3696d3,#329bd6,#2fa0d8,#2da3da,#2ba5da,#2ba5db,#2ba5da,#2ca4da,#2ea1d9,#309ed8,#329bd6,#3597d4,#3991d1,#3e8bcd,#4285c9,#457fc6,#477bc3,#4977c1,#4a74bf,#4b71bd,#4c6fbc,#4c6cba,#4d6ab9,#4d68b7,#4e67b6,#4e66b6,#4d68b7,#4d6bb9,#4b70bc,#4976c1,#4481c7,#3b8fcf,#2f9fd8,#29acd8,#2ab4c1,#49bb97,#7ec171,#b5c252,#dac04a,#e5bf48,#d3c14b,#a5c25a,#68be80,#3eb9a3,#29b3c5,#28aed4,#2aa9db,#2ba5da,#2ea2d9,#309ed8,#339ad6,#3a91d1,#4285c9,#4878c2,#4b6fbc,#4d69b8,#4e65b5,#4f61b2,#505daf,#505aad,#5058ac,#5058ab,#5058ab,#5058ab,#5058ab,#5058ab,#5058ab,#5058ab,#5058ab,#5058ab,#5058ac,#5058ac,#5059ac,#5059ac,#505aad,#505aad,#505cae,#4f5fb1,#4f63b3,#4e66b6,#4d68b7,#4e67b6,#4e65b5,#4f62b3,#4f60b1,#505eb0,#505daf,#505cae,#505bae,#505aad,#505aad,#505aad,#5059ad,#5059ad,#5059ac,#5059ac,#5059ad,#5059ad,#505aad,#505bae,#505daf,#4f61b2,#4e65b5,#4d6bb9,#4b71bd,#4977c1,#477cc4,#4480c6,#4284c9,#4186ca,#4087cb,#4088cb,#4089cb,#3f89cc,#3f8acc,#3f8acc,#3e8ccd,#3c8ecf,#3a90d0,#3992d1,#3893d2);--c25:linear-gradient(90deg,#3893d2,#3499d5,#309ed8,#2da2d9,#2ca5da,#2ba5db,#2ba5da,#2ca3da,#2ea1d9,#309ed7,#329bd6,#3597d4,#3a91d0,#3e8bcd,#4285c9,#4580c6,#477cc4,#4878c2,#4a75c0,#4a73be,#4b70bc,#4c6dbb,#4d6ab9,#4d68b7,#4e66b6,#4e66b5,#4e66b6,#4d69b8,#4c6dba,#4b72be,#4879c2,#4186ca,#3596d4,#2ba5db,#28b0d1,#36b7af,#55bc8e,#85c16c,#aec256,#bcc250,#a7c259,#76c077,#49bb97,#31b6b6,#28b0cf,#29abd9,#2aa7db,#2ca3da,#2ea0d9,#309ed7,#339ad5,#3991d1,#4285c9,#4878c2,#4b70bc,#4d6ab8,#4e65b5,#4f61b2,#505daf,#505aad,#5058ac,#5058ac,#5058ac,#5058ac,#5058ac,#5058ac,#5058ac,#5058ac,#5058ac,#5058ac,#5058ac,#5058ac,#5058ac,#5058ac,#5058ac,#5059ac,#505bad,#505eb0,#4f62b3,#4e65b5,#4e67b6,#4e66b6,#4e64b4,#4f62b3,#4f5fb1,#505eb0,#505caf,#505bae,#505aad,#5059ad,#5059ac,#5059ac,#5059ac,#5059ac,#5059ac,#5059ac,#5059ac,#5059ac,#5059ac,#505aad,#505db0,#4f62b3,#4e67b7,#4c6ebb,#4976c0,#467dc5,#4382c8,#4186ca,#4087cb,#4088cb,#4087cb,#4187ca,#4186ca,#4285c9,#4285c9,#4285c9,#4186ca,#4088cb,#3e8bcd,#3c8ece,#3b90d0);--c26:linear-gradient(90deg,#3a91d0,#3597d4,#309ed7,#2da2d9,#2ca4da,#2ba5db,#2ca5da,#2da3da,#2ea1d9,#309ed7,#329ad6,#3696d3,#3a91d0,#3e8bcd,#4285c9,#4580c6,#477cc4,#4879c2,#4976c0,#4a73be,#4b71bd,#4c6ebb,#4d6bb9,#4d68b7,#4e66b6,#4e65b5,#4e66b5,#4d67b7,#4d6ab9,#4c6ebb,#4a74bf,#457fc5,#3c8ecf,#2f9fd8,#29abd9,#2ab4c4,#40b9a0,#61bd86,#86c16b,#95c262,#7fc170,#57bc8d,#3bb8a8,#29b3c5,#28aed4,#2aa9db,#2ba6db,#2da2d9,#2fa0d8,#309ed7,#339ad5,#3991d1,#4285c9,#4878c2,#4b70bc,#4d6ab8,#4e65b5,#4f61b2,#505daf,#505aad,#5058ac,#5058ac,#5058ac,#5058ac,#5058ac,#5058ac,#5058ac,#5058ac,#5058ac,#5058ac,#5058ac,#5058ac,#5058ac,#5058ac,#5058ac,#5059ac,#505aad,#505eb0,#4f62b3,#4e65b5,#4e67b6,#4e66b6,#4e64b4,#4f62b3,#4f5fb1,#505daf,#505cae,#505bae,#505aad,#5059ac,#5059ac,#5059ac,#5059ac,#5059ac,#5059ac,#5059ac,#5059ac,#5059ac,#5059ac,#505aad,#505eb0,#4f63b3,#4d6ab8,#4a73be,#467dc5,#4285c9,#3f8acc,#3e8ccd,#3e8bcd,#3f8acc,#4087cb,#4285c9,#4383c8,#4481c7,#4480c6,#4580c6,#4481c7,#4383c8,#4187ca,#3f8acc,#3d8dce);--c27:linear-gradient(90deg,#3b8fcf,#3696d3,#319dd7,#2ea1d9,#2ca4da,#2ba5da,#2ca5da,#2da3da,#2ea0d9,#319dd7,#339ad5,#3695d3,#3a90d0,#3f8acc,#4284c9,#4580c6,#477cc4,#4878c2,#4976c0,#4a73be,#4b71bd,#4c6ebb,#4d6ab9,#4d68b7,#4e66b5,#4e65b5,#4e65b5,#4e66b6,#4d69b8,#4c6cba,#4b70bd,#4879c2,#4088cb,#3499d5,#2aa7db,#28b1ce,#35b7b0,#4abb96,#65be82,#72bf7a,#60bd86,#44ba9c,#31b6b6,#28b1cc,#29add7,#2aa8db,#2ba5da,#2da2d9,#2fa0d8,#309ed7,#339ad5,#3991d1,#4285c9,#4878c2,#4b70bc,#4d6ab8,#4e65b5,#4f61b2,#505daf,#505aad,#5058ac,#5058ac,#5058ac,#5058ac,#5058ac,#5058ac,#5058ac,#5058ac,#5058ac,#5058ac,#5058ac,#5058ac,#5058ac,#5058ac,#5058ac,#5059ac,#505bae,#505eb0,#4f62b3,#4e65b5,#4e67b6,#4e66b6,#4e64b4,#4f62b3,#4f5fb1,#505daf,#505cae,#505bad,#505aad,#5059ac,#5059ac,#5058ac,#5058ac,#5058ac,#5059ac,#5059ac,#5059ac,#5058ac,#5059ac,#505aad,#505eb0,#4e64b4,#4c6cba,#4879c2,#4186ca,#3b8fcf,#3892d1,#3892d1,#3a90d0,#3d8ccd,#4088cb,#4384c8,#4580c6,#467dc5,#477cc4,#477cc4,#467dc4,#457fc6,#4382c8,#4187ca,#3e8acc);--c28:linear-gradient(90deg,#3c8ece,#3795d3,#319cd7,#2ea1d9,#2ca4da,#2ca5da,#2ca4da,#2da3da,#2fa0d8,#319dd7,#3399d5,#3795d3,#3b8fcf,#3f89cc,#4284c9,#457fc6,#477bc3,#4878c2,#4976c0,#4a73be,#4b71bd,#4c6ebb,#4d6ab9,#4d67b7,#4e65b5,#4e65b5,#4e65b5,#4e66b6,#4d67b7,#4d6ab8,#4c6dbb,#4a74bf,#4482c7,#3893d1,#2da3da,#28aed4,#2bb4c0,#3db9a5,#4fbb93,#58bd8c,#4bbb96,#38b8ab,#2ab3c4,#28b0d1,#29abd9,#2aa7db,#2ca4da,#2da2d9,#2fa0d8,#309ed7,#339ad5,#3991d1,#4285c9,#4878c2,#4b70bc,#4d6ab8,#4e65b5,#4f61b2,#505daf,#505aad,#5058ac,#5058ac,#5058ac,#5058ac,#5058ac,#5058ac,#5058ac,#5058ac,#5058ac,#5058ac,#5058ac,#5058ac,#5058ac,#5058ac,#5058ac,#5059ac,#505bae,#4f5eb0,#4f62b3,#4e65b5,#4e67b6,#4e66b6,#4e64b4,#4f62b3,#4f5fb1,#505daf,#505cae,#505bad,#5059ad,#5059ac,#5058ac,#5058ac,#5058ac,#5058ac,#5058ac,#5058ac,#5058ac,#5058ac,#5058ac,#505aad,#505eb0,#4e65b5,#4b6fbc,#4580c6,#3b8fcf,#3498d5,#329bd6,#3399d5,#3795d3,#3c8ecf,#4088cb,#4382c8,#467dc4,#487ac3,#4879c2,#4879c2,#4879c2,#477bc3,#457ec5,#4284c8,#4089cb);--c29:linear-gradient(90deg,#3d8cce,#3794d2,#329cd6,#2ea1d9,#2ca3da,#2ca4da,#2ca4da,#2da2d9,#2f9fd8,#319cd6,#3498d5,#3794d2,#3c8ecf,#4089cb,#4383c8,#457fc5,#477bc3,#4878c1,#4975c0,#4a73be,#4b70bd,#4c6dbb,#4d6ab9,#4e67b7,#4e65b5,#4e64b5,#4e64b5,#4e65b5,#4e66b6,#4d68b7,#4d6bb9,#4b71bd,#467cc4,#3d8dce,#309ed7,#29abd9,#28b2ca,#34b7b3,#40b9a1,#45ba9b,#3db9a4,#2fb6ba,#28b1cc,#28aed5,#29aada,#2ba7db,#2ca4da,#2da2d9,#2fa0d8,#309ed7,#339ad5,#3992d1,#4285c9,#4878c2,#4b70bc,#4d6ab8,#4e65b5,#4f61b2,#505daf,#505aad,#5058ac,#5058ac,#5058ac,#5058ac,#5058ac,#5058ac,#5058ac,#5058ac,#5058ac,#5058ac,#5058ac,#5058ac,#5058ac,#5058ac,#5058ac,#5059ad,#505cae,#4f5fb1,#4f63b3,#4e66b5,#4e67b6,#4e66b6,#4e64b5,#4f62b3,#4f5fb1,#505daf,#505cae,#505bad,#5059ad,#5059ac,#5058ac,#5058ac,#5058ac,#5058ac,#5058ac,#5058ac,#5058ac,#5058ac,#5058ac,#505aad,#505eb0,#4e65b5,#4b72be,#4186ca,#3597d4,#2f9fd8,#2ea1d9,#309ed7,#3498d5,#3a90d0,#4088cb,#4481c7,#477bc3,#4977c1,#4976c0,#4976c0,#4976c0,#4977c1,#477bc3,#4481c7,#4187ca);--c30:linear-gradient(90deg,#3e8bcd,#3893d2,#329bd6,#2fa0d8,#2da3da,#2ca4da,#2ca4da,#2da2d9,#2f9fd8,#329bd6,#3597d4,#3893d2,#3c8dce,#4088cb,#4382c8,#467ec5,#477ac3,#4978c1,#4a75c0,#4a73be,#4b70bd,#4c6dbb,#4d6ab8,#4e67b6,#4e65b5,#4e64b4,#4e64b4,#4e65b5,#4e65b5,#4e66b6,#4d69b7,#4c6ebb,#4878c1,#4088cb,#3399d5,#2aa8db,#28b0d1,#2ab4c1,#37b8ae,#3ab8a8,#34b7b2,#29b3c7,#28afd2,#29acd9,#2aa8db,#2ba5db,#2ca3da,#2ea2d9,#2fa0d8,#309ed7,#339ad6,#3992d1,#4285c9,#4878c2,#4b70bc,#4d6ab8,#4e65b5,#4f61b2,#505daf,#505aad,#5058ac,#5058ac,#5058ac,#5058ac,#5058ac,#5058ac,#5058ac,#5058ac,#5058ac,#5058ac,#5058ac,#5058ac,#5058ac,#5058ac,#5058ac,#5059ad,#505cae,#4f5fb1,#4e63b3,#4e66b6,#4e67b6,#4e66b6,#4e64b5,#4f62b3,#4f5fb1,#505daf,#505cae,#505aad,#5059ad,#5058ac,#5058ac,#5058ac,#5058ac,#5058ac,#5058ac,#5058ac,#5058ac,#5058ac,#5058ac,#505aad,#505eb0,#4e66b5,#4a73bf,#3e8acc,#319dd7,#2ca4da,#2ba6db,#2da2d9,#329bd6,#3992d1,#4088cb,#4580c6,#4879c2,#4975c0,#4a74bf,#4a74bf,#4a74bf,#4a75c0,#4879c2,#457fc6,#4186ca);--c31:linear-gradient(90deg,#3f8acc,#3992d1,#329ad6,#2fa0d8,#2da3da,#2ca4da,#2da3da,#2ea1d9,#309ed7,#329ad6,#3596d4,#3992d1,#3d8cce,#4187ca,#4482c7,#467dc5,#487ac3,#4977c1,#4a75c0,#4a73be,#4b70bd,#4c6dbb,#4d6ab8,#4e67b6,#4e65b5,#4e64b4,#4e64b4,#4e64b4,#4e65b5,#4e65b5,#4e67b6,#4c6cb9,#4a75bf,#4383c8,#3795d3,#2ca4da,#28add6,#29b2c9,#2eb6ba,#32b6b6,#2ab4c1,#28b1ce,#28add7,#2aa9db,#2ba6db,#2ca4da,#2da3da,#2ea1d9,#2ea0d8,#309ed8,#329bd6,#3893d2,#4186ca,#4879c2,#4b70bd,#4d6ab9,#4e66b5,#4f61b2,#505daf,#505aad,#5059ac,#5058ac,#5058ac,#5058ac,#5058ac,#5058ac,#5058ac,#5058ac,#5058ac,#5058ac,#5058ac,#5058ac,#5058ac,#5058ac,#5058ac,#505aad,#505cae,#4f5fb1,#4e63b4,#4e66b6,#4e67b7,#4e67b6,#4e65b5,#4f62b3,#4f60b1,#505daf,#505cae,#505aad,#5059ad,#5058ac,#5058ac,#5058ac,#5058ac,#5058ac,#5058ac,#5058ac,#5058ac,#5058ac,#5058ac,#505aad,#505eb0,#4e66b6,#4a74bf,#3c8dce,#2ea0d8,#2aa8db,#2aa9db,#2ca5da,#319dd7,#3893d2,#4089cb,#4580c6,#4878c2,#4a74bf,#4a73bf,#4a73be,#4a73be,#4a74bf,#4978c1,#467ec5,#4284c9);--c32:linear-gradient(90deg,#3f89cc,#3991d1,#339ad5,#2f9fd8,#2da2d9,#2ca3da,#2da3da,#2ea0d9,#319dd7,#3399d5,#3695d3,#3a90d0,#3e8bcd,#4186ca,#4481c7,#467cc4,#4879c2,#4977c1,#4a75bf,#4a73be,#4b70bc,#4c6dba,#4d69b8,#4e66b6,#4e64b5,#4e63b4,#4e63b4,#4e64b4,#4e64b4,#4e64b5,#4e66b6,#4d6ab8,#4b72be,#457fc6,#3a90d0,#2ea1d9,#29abd9,#28b0cf,#29b3c6,#2ab4c3,#28b2cb,#28aed3,#29aada,#2aa7db,#2ca4da,#2da3da,#2da2d9,#2ea2d9,#2ea1d9,#2fa0d8,#319dd7,#3696d3,#4088cb,#477bc3,#4b71bd,#4d6bb9,#4e66b6,#4f62b3,#505eb0,#505aad,#5059ac,#5058ac,#5058ac,#5058ac,#5058ac,#5058ac,#5058ac,#5058ac,#5058ac,#5058ac,#5058ac,#5058ac,#5058ac,#5058ac,#5058ac,#505aad,#505caf,#4f60b1,#4e63b4,#4e66b6,#4d67b7,#4e67b6,#4e65b5,#4f62b3,#4f60b1,#505daf,#505cae,#505aad,#5059ad,#5058ac,#5058ac,#5058ac,#5058ac,#5058ac,#5058ac,#5058ac,#5058ac,#5058ac,#5058ac,#505aad,#505eb0,#4e66b6,#4a75bf,#3b8fcf,#2da3da,#29abda,#29abd9,#2ba7db,#309ed8,#3794d2,#4089cb,#457fc6,#4978c1,#4a74bf,#4b72be,#4b72be,#4b72be,#4a73bf,#4977c1,#467dc5,#4384c8);--c33:linear-gradient(90deg,#4089cb,#3a91d0,#3399d5,#309fd8,#2da2d9,#2da3da,#2da2d9,#2fa0d8,#319cd7,#3498d5,#3893d2,#3c8ecf,#3f89cc,#4284c9,#457fc6,#477bc3,#4878c2,#4976c0,#4a74bf,#4b72be,#4b70bc,#4c6cba,#4d69b8,#4e66b6,#4e64b4,#4e63b4,#4e63b4,#4e63b4,#4e63b4,#4e64b4,#4e65b5,#4d68b7,#4b6fbc,#477bc3,#3d8ccd,#309dd7,#2aa8db,#28aed3,#28b1cc,#28b2cb,#28b0d1,#29acd8,#2aa8db,#2ca4da,#2da2d9,#2da2d9,#2ea2d9,#2ea2d9,#2da2d9,#2ea2d9,#2f9fd8,#3499d5,#3e8bcd,#467dc5,#4a73be,#4c6cba,#4e67b6,#4f62b3,#505eb0,#505bad,#5059ac,#5059ac,#5058ac,#5058ac,#5058ac,#5058ac,#5058ac,#5058ac,#5058ac,#5058ac,#5058ac,#5058ac,#5058ac,#5058ac,#5058ac,#505aad,#505caf,#4f60b1,#4e63b4,#4e66b6,#4d68b7,#4e67b6,#4e65b5,#4f62b3,#4f60b1,#505daf,#505cae,#505aad,#5059ac,#5058ac,#5058ac,#5058ac,#5058ac,#5058ac,#5058ac,#5058ac,#5058ac,#5058ac,#5058ac,#505aad,#505eb0,#4e66b5,#4a75c0,#3a91d0,#2ba5db,#29add7,#28add6,#2aa8db,#2fa0d8,#3795d3,#4089cb,#457fc6,#4977c1,#4a73be,#4b72be,#4b72be,#4b72be,#4a73be,#4976c0,#467cc4,#4383c8);--c34:linear-gradient(90deg,#4088cb,#3a90d0,#3499d5,#309ed7,#2ea1d9,#2da2d9,#2ea1d9,#2f9fd8,#329bd6,#3597d4,#3992d1,#3d8dce,#4088cb,#4383c8,#457ec5,#477bc3,#4978c1,#4976c0,#4a74bf,#4b72be,#4b6fbc,#4c6cba,#4d69b8,#4e66b6,#4e64b4,#4e63b4,#4e63b3,#4e63b4,#4e63b4,#4e63b4,#4e64b4,#4e67b6,#4c6dbb,#4978c1,#4088cb,#339ad5,#2ba6db,#29acd7,#28b0d1,#28b0d1,#28add6,#2aa9db,#2ba5da,#2ea1d9,#2fa0d8,#2fa0d8,#2ea1d9,#2ea2d9,#2da3da,#2ca3da,#2da2d9,#319cd7,#3b8fcf,#4480c6,#4a75c0,#4c6dbb,#4d68b7,#4f63b3,#505eb0,#505bae,#5059ac,#5059ac,#5059ac,#5058ac,#5058ac,#5058ac,#5058ac,#5058ac,#5058ac,#5058ac,#5058ac,#5058ac,#5058ac,#5058ac,#5058ac,#505aad,#505caf,#4f60b1,#4e63b4,#4e67b6,#4d68b7,#4d67b7,#4e65b5,#4f62b3,#4f60b1,#505db0,#505cae,#505aad,#5059ac,#5058ac,#5058ac,#5058ac,#5058ac,#5058ac,#5058ac,#5058ac,#5058ac,#5058ac,#5058ac,#505aad,#505eb0,#4e66b5,#4975c0,#3893d2,#2aa7db,#28afd3,#28afd3,#2aaadb,#2ea1d9,#3695d3,#4089cb,#457fc5,#4977c1,#4b72be,#4b71bd,#4b71bd,#4b71bd,#4b72be,#4975c0,#477cc4,#4382c7);--c35:linear-gradient(90deg,#4087cb,#3b8fcf,#3498d4,#309dd7,#2ea0d9,#2ea1d9,#2ea1d9,#309ed7,#339ad6,#3695d3,#3a90d0,#3e8bcd,#4186ca,#4482c7,#467dc5,#487ac3,#4978c1,#4976c0,#4a74bf,#4b72be,#4b6fbc,#4c6cba,#4d69b8,#4e66b6,#4e64b4,#4e63b4,#4f63b3,#4f63b3,#4f63b3,#4f63b3,#4e63b4,#4e66b5,#4d6bb9,#4a75bf,#4383c8,#3696d3,#2da3da,#29aada,#28add6,#28add6,#29abda,#2ba6db,#2ea2d9,#309ed7,#319dd7,#309ed7,#2f9fd8,#2ea1d9,#2da3da,#2ca5da,#2ca5da,#2fa0d8,#3794d2,#4285c9,#4878c2,#4b6fbc,#4d69b8,#4e63b4,#4f5fb1,#505bae,#5059ad,#5059ac,#5059ac,#5059ac,#5058ac,#5058ac,#5058ac,#5058ac,#5058ac,#5058ac,#5058ac,#5058ac,#5058ac,#5058ac,#5058ac,#505aad,#505caf,#4f60b1,#4e64b4,#4e67b6,#4d68b7,#4d68b7,#4e65b5,#4f63b3,#4f60b1,#505eb0,#505cae,#505aad,#5059ad,#5058ac,#5058ac,#5058ac,#5058ac,#5058ac,#5058ac,#5058ac,#5058ac,#5058ac,#5058ac,#505aad,#505eb0,#4e66b6,#4976c0,#3795d3,#2aa9db,#28b0cf,#28b0cf,#29abd9,#2da2d9,#3695d3,#4088cb,#467ec5,#4976c0,#4b72be,#4b71bd,#4b71bd,#4b71bd,#4b72be,#4a75c0,#477bc3,#4481c7);--c36:linear-gradient(90deg,#4187ca,#3c8ecf,#3597d4,#319cd7,#2f9fd8,#2ea0d9,#2f9fd8,#319dd7,#3499d5,#3894d2,#3b8fcf,#3f8acc,#4285c9,#4480c7,#467dc4,#487ac3,#4978c1,#4976c0,#4a74bf,#4a72be,#4b70bc,#4c6dba,#4d69b8,#4e66b6,#4e64b4,#4e63b4,#4f63b3,#4f62b3,#4f62b3,#4f62b3,#4f63b3,#4e65b5,#4d69b8,#4b71bd,#457ec5,#3a91d0,#2f9fd8,#2aa7db,#29abd9,#29abda,#2aa8db,#2da3da,#309dd7,#3399d5,#3498d5,#339ad6,#319dd7,#2f9fd8,#2da3da,#2ba6db,#2aa7db,#2ca4da,#329bd6,#3d8ccd,#467ec5,#4a73be,#4d6bb9,#4e64b4,#4f5fb1,#505cae,#505aad,#5059ac,#5059ac,#5058ac,#5058ac,#5058ac,#5058ac,#5058ac,#5058ac,#5058ac,#5058ac,#5058ac,#5058ac,#5058ac,#5059ac,#505aad,#505daf,#4f61b2,#4e64b5,#4d68b7,#4d69b8,#4d68b7,#4e66b6,#4e63b4,#4f60b2,#505eb0,#505cae,#505bad,#5059ad,#5058ac,#5058ac,#5058ab,#5058ab,#5058ac,#5058ac,#5058ac,#5058ac,#5058ac,#5058ac,#505aad,#505eb0,#4e66b6,#4977c1,#3597d4,#29abd9,#28b2ca,#28b2cb,#29acd8,#2da2d9,#3695d3,#4087cb,#467dc4,#4a75c0,#4b71bd,#4b70bd,#4b70bd,#4b70bd,#4b71bd,#4a74bf,#477ac3,#4481c7);--c37:linear-gradient(90deg,#4186ca,#3d8dce,#3696d3,#329bd6,#309ed8,#2f9fd8,#309ed7,#329bd6,#3597d4,#3992d1,#3d8dce,#4088cb,#4284c9,#457fc6,#477cc4,#487ac2,#4978c1,#4976c0,#4a75c0,#4a73be,#4b71bd,#4c6dbb,#4d6ab9,#4e67b7,#4e65b5,#4e63b4,#4f62b3,#4f62b3,#4f62b3,#4f62b3,#4f62b3,#4e64b4,#4e67b7,#4c6ebb,#4879c2,#3e8bcd,#329bd6,#2ca4da,#2aa8db,#2aa8db,#2ca4da,#2f9fd8,#3498d5,#3893d2,#3992d1,#3794d2,#3498d5,#319cd7,#2ea2d9,#2ba7db,#2aaadb,#2aa9db,#2da3da,#3597d4,#4187ca,#4878c2,#4c6dbb,#4e65b5,#4f60b1,#505cae,#505aad,#5059ac,#5058ac,#5058ac,#5058ab,#5058ab,#5058ab,#5058ab,#5058ab,#5058ab,#5058ac,#5058ac,#5059ac,#5059ac,#505aad,#505bae,#505eb0,#4f61b2,#4e65b5,#4d68b7,#4d6ab8,#4d69b8,#4e67b6,#4e64b4,#4f61b2,#505eb0,#505caf,#505bae,#505aad,#5058ac,#5058ab,#5058ab,#5058ab,#5058ab,#5058ab,#5058ab,#5058ac,#5058ac,#5058ac,#505aad,#4f5eb0,#4e67b6,#4879c2,#339ad6,#28add6,#2ab4c4,#29b3c5,#28aed5,#2da3da,#3794d2,#4186ca,#477bc3,#4a74bf,#4b71bd,#4b70bc,#4b70bc,#4b70bc,#4b71bd,#4a74bf,#487ac3,#4580c6);--c38:linear-gradient(90deg,#4285c9,#3d8ccd,#3794d2,#339ad5,#319dd7,#309ed7,#319dd7,#339ad5,#3696d3,#3a90d0,#3e8ccd,#4187ca,#4383c8,#457ec5,#477bc3,#4879c2,#4878c2,#4977c1,#4976c0,#4a74bf,#4b71bd,#4c6fbb,#4c6cb9,#4d69b7,#4e66b5,#4e64b4,#4f62b3,#4f62b3,#4f62b3,#4f62b3,#4f62b3,#4e63b3,#4e66b5,#4d6bb9,#4a75bf,#4186ca,#3597d4,#2ea1d9,#2ba5db,#2ca5da,#2ea1d9,#329bd6,#3893d2,#3d8dce,#3e8bcd,#3c8ece,#3992d1,#3498d5,#2fa0d8,#2aa7db,#29acd8,#29add7,#2aa9db,#2ea0d9,#3a91d0,#457fc6,#4b70bd,#4e66b6,#4f60b2,#505caf,#505aad,#5059ac,#5058ac,#5058ab,#5057ab,#5057ab,#5057ab,#5057ab,#5057ab,#5057ab,#5058ab,#5058ac,#5059ac,#505aad,#505bae,#505daf,#4f5fb1,#4f63b3,#4e66b6,#4d69b8,#4d6bb9,#4d6ab9,#4d68b7,#4e65b5,#4f62b3,#4f5fb1,#505daf,#505bae,#505aad,#5058ac,#5058ab,#5057ab,#5058ab,#5058ab,#5058ab,#5058ab,#5058ac,#5058ac,#5059ac,#505bad,#4f5fb1,#4d68b7,#477cc4,#319dd7,#28afd3,#2eb5bb,#2cb5be,#28afd3,#2ca3da,#3893d2,#4383c8,#4879c2,#4a73bf,#4b70bd,#4b70bc,#4b6fbc,#4b70bc,#4b70bd,#4a73bf,#4879c2,#457fc6);--c39:linear-gradient(90deg,#4284c9,#3e8bcd,#3893d1,#3498d5,#329bd6,#319cd6,#329bd6,#3498d5,#3894d2,#3b8fcf,#3f8acc,#4186ca,#4481c7,#467dc5,#477bc3,#4879c2,#4878c2,#4977c1,#4976c0,#4a75bf,#4b72be,#4b70bc,#4c6dba,#4d6ab8,#4e66b6,#4e64b4,#4f62b3,#4f62b3,#4f62b3,#4f62b3,#4f62b3,#4f62b3,#4e64b5,#4d68b7,#4b71bd,#4482c7,#3893d2,#309ed7,#2da2d9,#2ea1d9,#309dd7,#3597d4,#3b8fcf,#4088cb,#4186ca,#4088cb,#3d8dce,#3794d2,#309fd8,#2aa8db,#28add6,#28afd2,#28aed5,#2aa7db,#339ad5,#4186ca,#4a74bf,#4d68b7,#4f61b2,#505daf,#505aad,#5059ac,#5058ac,#5058ab,#5057ab,#5057ab,#5057ab,#5057ab,#5057ab,#5057ab,#5058ab,#5059ac,#5059ad,#505bad,#505cae,#505eb0,#4f60b2,#4e64b4,#4e67b7,#4d6ab9,#4c6cba,#4d6bb9,#4d69b8,#4e66b5,#4f62b3,#4f60b1,#505daf,#505cae,#505aad,#5058ac,#5058ab,#5057ab,#5057ab,#5057ab,#5057ab,#5058ab,#5058ac,#5058ac,#5059ac,#505bae,#4f5fb1,#4d69b8,#457ec5,#2fa0d8,#28b0cf,#33b7b3,#31b6b6,#28b0d1,#2ca4da,#3992d1,#4481c7,#4978c1,#4a73be,#4b70bc,#4b6fbc,#4b6fbc,#4b6fbc,#4b70bd,#4a73be,#4879c2,#457fc6);--c40:linear-gradient(90deg,#4384c8,#3f8acc,#3991d1,#3596d4,#3399d5,#329ad6,#3399d5,#3696d3,#3991d1,#3d8cce,#4088cb,#4384c8,#457fc6,#477cc4,#487ac3,#4879c2,#4879c2,#4878c1,#4977c1,#4a75c0,#4a73be,#4b70bc,#4c6dbb,#4d6ab9,#4e67b6,#4e64b4,#4f62b3,#4f62b3,#4f62b3,#4f62b3,#4f62b3,#4f62b3,#4e64b4,#4d67b7,#4b6fbc,#457ec5,#3b8fcf,#329bd6,#2f9fd8,#309ed8,#329bd6,#3795d3,#3d8dce,#4186ca,#4284c9,#4186ca,#3f8acc,#3992d1,#309ed7,#2aa8db,#28aed5,#28b0cf,#28b0d0,#29abd9,#2f9fd8,#3d8ccd,#4977c1,#4d69b8,#4f62b3,#505daf,#505aad,#5059ac,#5058ac,#5057ab,#5057ab,#5056aa,#5056aa,#5056aa,#5056aa,#5057ab,#5058ab,#5059ac,#505aad,#505bae,#505caf,#505eb0,#4f61b2,#4e64b4,#4d68b7,#4d6bb9,#4c6dba,#4c6cba,#4d6ab8,#4e66b6,#4e63b3,#4f60b1,#505eb0,#505cae,#505aad,#5058ac,#5057ab,#5057ab,#5057ab,#5057ab,#5057ab,#5058ab,#5058ac,#5058ac,#5059ac,#505bae,#4f60b1,#4d6ab8,#4482c7,#2da2d9,#28b2cb,#38b8ac,#34b7b2,#28b0d0,#2ca4da,#3a91d1,#4480c7,#4977c1,#4b72be,#4b70bc,#4b6fbc,#4c6fbc,#4b6fbc,#4b70bc,#4a73be,#4879c2,#457ec5);--c41:linear-gradient(90deg,#4383c8,#3f89cc,#3b90d0,#3795d3,#3498d4,#3498d5,#3597d4,#3794d2,#3b8fcf,#3f8acc,#4186ca,#4482c7,#467ec5,#477bc3,#4879c2,#4879c2,#4879c2,#4878c2,#4977c1,#4975c0,#4a73be,#4b70bc,#4c6dbb,#4d6ab9,#4e67b6,#4e64b4,#4f62b3,#4f62b3,#4f62b3,#4f62b3,#4f62b3,#4f62b3,#4e64b4,#4e67b6,#4c6ebb,#477cc4,#3e8bcd,#3597d4,#319cd6,#329cd6,#3499d5,#3894d2,#3d8ccd,#4186ca,#4383c8,#4285c9,#4088cb,#3a90d0,#319dd7,#2aa8db,#28aed5,#28b1ce,#28b1ce,#28add6,#2da3da,#3a91d0,#477bc3,#4d6bb9,#4f62b3,#505eb0,#505bae,#5059ac,#5058ac,#5057ab,#5056aa,#5056aa,#5056aa,#5056aa,#5056aa,#5057ab,#5057ab,#5058ac,#505aad,#505bae,#505caf,#505eb0,#4f61b2,#4e65b5,#4d68b7,#4c6cba,#4c6dbb,#4c6dba,#4d6ab9,#4e67b6,#4e63b4,#4f60b1,#505eb0,#505cae,#505aad,#5058ac,#5057ab,#5057ab,#5057ab,#5057ab,#5057ab,#5058ab,#5058ac,#5058ac,#5059ad,#505cae,#4f61b2,#4c6cba,#4285c9,#2ba5da,#29b3c7,#3bb9a7,#36b7af,#28b0cf,#2ca4da,#3a91d0,#4480c6,#4977c1,#4b72be,#4b70bc,#4b6fbc,#4b6fbc,#4b6fbc,#4b70bd,#4a73be,#4879c2,#467ec5);--c42:linear-gradient(90deg,#4383c8,#4088cb,#3c8ecf,#3893d2,#3696d3,#3596d4,#3795d3,#3991d1,#3d8cce,#4087cb,#4383c8,#457fc6,#477cc4,#4879c2,#4878c2,#4878c2,#4879c2,#4879c2,#4878c1,#4976c0,#4a73be,#4b70bc,#4c6dba,#4d6ab8,#4e67b6,#4e64b4,#4f62b3,#4f62b3,#4f62b3,#4f62b3,#4f62b3,#4f62b3,#4e64b4,#4e67b6,#4c6dbb,#4879c2,#4088cb,#3893d2,#3399d5,#3399d5,#3597d4,#3893d1,#3d8cce,#4186ca,#4384c8,#4285c9,#4088cb,#3b8fcf,#319cd6,#2aa7db,#28aed5,#28b1ce,#28b1cc,#28afd3,#2ba6db,#3795d3,#457fc6,#4c6dbb,#4e64b4,#505eb0,#505bae,#5059ad,#5058ac,#5057ab,#5056aa,#5056aa,#5055aa,#5055aa,#5056aa,#5056aa,#5057ab,#5058ac,#5059ad,#505bae,#505caf,#505eb0,#4f61b2,#4e65b5,#4d69b8,#4c6cba,#4c6ebb,#4c6ebb,#4d6bb9,#4e67b7,#4e63b4,#4f60b1,#505eb0,#505cae,#505aad,#5058ac,#5057ab,#5057ab,#5057ab,#5057ab,#5057ab,#5057ab,#5058ab,#5059ac,#5059ad,#505cae,#4f62b3,#4c6ebb,#3f89cc,#2aa8db,#2ab4c1,#3fb9a2,#37b8ad,#28b0cf,#2ca4da,#3a91d0,#4480c7,#4977c1,#4b72be,#4b70bc,#4b6fbc,#4b6fbc,#4b6fbc,#4b70bd,#4a73bf,#4879c2,#467ec5);--c43:linear-gradient(90deg,#4382c8,#4088cb,#3d8dce,#3991d1,#3894d2,#3794d2,#3892d1,#3c8ecf,#3f89cc,#4284c9,#4580c6,#467cc4,#487ac2,#4978c1,#4977c1,#4978c1,#4879c2,#4879c2,#4878c2,#4976c0,#4a73be,#4b70bc,#4c6dba,#4d6ab8,#4e67b6,#4e64b4,#4f62b3,#4f62b3,#4f62b3,#4f62b3,#4f62b3,#4f62b3,#4e64b4,#4e67b6,#4c6dba,#4977c1,#4285c9,#3b90d0,#3696d3,#3596d4,#3795d3,#3992d1,#3d8dce,#4187ca,#4284c9,#4285c9,#4087cb,#3c8ecf,#329bd6,#2ba6db,#28add6,#28b1ce,#28b2cb,#28b0d0,#2aa8db,#3498d5,#4382c8,#4b70bc,#4e65b5,#4f5fb1,#505cae,#505aad,#5058ac,#5057ab,#5056aa,#5055aa,#5055aa,#5055a9,#5055aa,#5056aa,#5057ab,#5058ac,#5059ac,#505bad,#505cae,#505eb0,#4f61b2,#4e65b5,#4d69b8,#4c6dba,#4c6fbc,#4c6ebb,#4c6bb9,#4d67b7,#4e63b4,#4f60b1,#505eb0,#505cae,#505aad,#5058ac,#5057ab,#5057ab,#5057ab,#5057ab,#5057ab,#5057ab,#5058ab,#5059ac,#505aad,#505daf,#4e63b4,#4b70bd,#3c8ecf,#29aada,#30b6b8,#43ba9d,#38b8ab,#28b0cf,#2ca4da,#3991d1,#4481c7,#4977c1,#4a73be,#4b70bd,#4b70bc,#4b70bc,#4b70bc,#4b71bd,#4a74bf,#4879c2,#467ec5);--c44:linear-gradient(90deg,#4382c7,#4187ca,#3e8ccd,#3b8fd0,#3991d1,#3992d1,#3a90d0,#3e8bcd,#4186ca,#4481c7,#467dc4,#487ac3,#4977c1,#4976c0,#4976c0,#4977c1,#4879c2,#487ac2,#4879c2,#4976c0,#4a72be,#4c6fbc,#4c6cba,#4d69b8,#4e66b6,#4e64b4,#4f62b3,#4f62b3,#4f62b3,#4f62b3,#4f62b3,#4f63b3,#4e64b4,#4e67b6,#4c6dba,#4976c0,#4382c8,#3d8cce,#3893d1,#3794d2,#3894d2,#3992d1,#3c8ece,#4089cb,#4186ca,#4285c9,#4187ca,#3c8ece,#339ad6,#2ba5da,#29acd8,#28b0cf,#29b2ca,#28b1cf,#29aada,#329bd6,#4186ca,#4a73be,#4e67b6,#4f60b2,#505caf,#505aad,#5058ac,#5057ab,#5056aa,#5055aa,#5055a9,#5055a9,#5055a9,#5056aa,#5057ab,#5058ab,#5059ac,#505aad,#505cae,#505eb0,#4f61b2,#4e65b5,#4d69b8,#4c6dbb,#4b6fbc,#4c6fbc,#4c6cba,#4d68b7,#4e63b4,#4f60b1,#505eb0,#505cae,#505aad,#5058ac,#5057ab,#5056aa,#5056aa,#5057ab,#5057ab,#5057ab,#5058ab,#5059ac,#505aad,#505daf,#4e64b4,#4a74bf,#3893d2,#29acd8,#34b7b1,#47ba99,#39b8aa,#28b1cf,#2ca4da,#3992d1,#4481c7,#4878c1,#4a73be,#4b71bd,#4b70bd,#4b70bd,#4b70bd,#4b71bd,#4a74bf,#4879c2,#467ec5);--c45:linear-gradient(90deg,#4482c7,#4186ca,#3e8bcd,#3c8ecf,#3b90d0,#3a90d0,#3c8ecf,#3f89cc,#4383c8,#467ec5,#477ac3,#4978c1,#4976c0,#4a75c0,#4a75c0,#4977c1,#4879c2,#487ac3,#4879c2,#4976c0,#4b72be,#4c6fbb,#4d6bb9,#4d69b7,#4e66b6,#4e64b4,#4f63b3,#4f62b3,#4f62b3,#4f62b3,#4f62b3,#4f63b3,#4e64b4,#4e67b6,#4c6cba,#4a75c0,#4480c6,#3f8acc,#3a90d0,#3893d1,#3893d2,#3992d1,#3b8fcf,#3e8bcd,#4088cb,#4186ca,#4187ca,#3c8dce,#3399d5,#2ca4da,#29abd9,#28b0cf,#29b2c9,#28b1ce,#29abda,#319dd7,#4089cb,#4a75c0,#4d68b7,#4f61b2,#505daf,#505aad,#5058ac,#5057ab,#5056aa,#5055aa,#5055a9,#5055a9,#5055a9,#5055aa,#5056aa,#5057ab,#5059ac,#505aad,#505bae,#505eb0,#4f61b2,#4e65b5,#4d69b8,#4c6dbb,#4b70bc,#4c6fbc,#4c6cba,#4d68b7,#4e64b4,#4f60b1,#505eb0,#505cae,#505aad,#5058ac,#5057ab,#5056aa,#5056aa,#5056aa,#5057ab,#5057ab,#5058ab,#5059ac,#505aad,#505db0,#4e65b5,#4976c0,#3597d4,#28aed5,#38b8ac,#4abb97,#3ab8a9,#28b1cf,#2ca4da,#3992d1,#4482c7,#4879c2,#4a74bf,#4b71bd,#4b71bd,#4b71bd,#4b71bd,#4b72bd,#4a74bf,#4879c2,#467ec5);--d0:linear-gradient(90deg,#5057ab,#5055a9,#5053a8,#5051a7,#5051a6,#5050a6,#5051a6,#5051a7,#5051a7,#5052a7,#5052a7,#5053a8,#5053a8,#5053a8,#5054a8,#5054a9,#5054a9,#5054a9,#5054a9,#5054a9,#5055a9,#5054a9,#5054a9,#5054a9,#5054a9,#5054a9,#5053a8,#5053a8,#5053a8,#5052a8,#5052a7,#5052a7,#5051a7,#5051a6,#5050a6,#5050a6,#504fa5,#504fa5,#504ea5,#504ea5,#504da4,#504da4,#504da4,#504ca4,#504ca4,#504ca3,#504ca3,#4f4ba3,#4f4ba3,#4f4ba3,#4f4ba3,#4f4ba3,#4f4aa3,#4f4aa3,#4f4aa3,#4f4aa2,#4f4aa2,#4f4aa2,#4f4aa2,#4f4aa2,#4f4aa2,#4f4aa2,#4f4aa2,#4f4aa2,#4f4aa2,#4f4aa2,#4f4aa2,#4f4aa2,#4f4aa2,#4f4aa2,#4f4aa2,#4f4aa2,#4f4aa2,#4f4aa2,#4f4aa2,#4f4aa2,#4f4aa2,#4f4aa2,#4f4aa2,#4f4aa2,#4f4aa3,#4f4aa3,#4f4ba3,#4f4ba3,#4f4ba3,#4f4ba3,#504ca3,#504ca3,#504ca4,#504da4,#504da4,#504da4,#504ea5,#504ea5,#504fa5,#504fa5,#504fa5,#504fa6,#5050a6,#5050a6,#5050a6,#5050a6,#5050a6,#5050a6,#5050a6,#5050a6,#5050a6,#5050a6,#504fa6,#504fa5,#504fa5,#504fa5,#504fa5,#504fa5,#504fa5,#504fa6,#5050a6,#5050a6,#5051a7,#5052a7,#5053a8);--d1:linear-gradient(90deg,#505aad,#5058ab,#5055aa,#5053a8,#5052a7,#5051a7,#5051a7,#5052a7,#5052a7,#5053a8,#5053a8,#5053a8,#5054a9,#5054a9,#5055a9,#5055a9,#5055a9,#5055aa,#5055aa,#5055aa,#5055aa,#5055aa,#5055aa,#5055aa,#5055a9,#5055a9,#5054a9,#5054a9,#5054a8,#5053a8,#5053a8,#5052a7,#5052a7,#5051a7,#5051a6,#5050a6,#5050a6,#504fa5,#504fa5,#504ea5,#504ea5,#504da4,#504da4,#504ca4,#504ca4,#504ca3,#504ca3,#4f4ba3,#4f4ba3,#4f4ba3,#4f4ba3,#4f4ba3,#4f4aa3,#4f4aa3,#4f4aa2,#4f4aa2,#4f4aa2,#4f4aa2,#4f4aa2,#4f4aa2,#4f4aa2,#4f4aa2,#4f4aa2,#4f4aa2,#4f4aa2,#4f4aa2,#4f4aa2,#4f4aa2,#4f4aa2,#4f4aa2,#4f4aa2,#4f49a2,#4f4aa2,#4f4aa2,#4f4aa2,#4f4aa2,#4f4aa2,#4f4aa2,#4f4aa2,#4f4aa2,#4f4aa3,#4f4aa3,#4f4ba3,#4f4ba3,#4f4ba3,#4f4ba3,#504ca3,#504ca4,#504ca4,#504da4,#504da4,#504ea5,#504ea5,#504fa5,#504fa5,#504fa6,#5050a6,#5050a6,#5050a6,#5051a6,#5051a7,#5051a7,#5051a7,#5051a7,#5051a7,#5051a6,#5051a6,#5050a6,#5050a6,#5050a6,#5050a6,#5050a6,#5050a6,#5050a6,#5050a6,#5051a6,#5051a7,#5052a7,#5053a8,#5054a9,#5056aa);--d2:linear-gradient(90deg,#505eb0,#505cae,#5059ac,#5056aa,#5054a8,#5052a8,#5052a7,#5052a8,#5053a8,#5053a8,#5054a9,#5055a9,#5055a9,#5055aa,#5056aa,#5056aa,#5056aa,#5056aa,#5056aa,#5057ab,#5056aa,#5056aa,#5056aa,#5056aa,#5056aa,#5055aa,#5055a9,#5055a9,#5054a9,#5054a8,#5053a8,#5053a8,#5052a7,#5051a7,#5051a7,#5050a6,#5050a6,#504fa5,#504fa5,#504ea5,#504ea5,#504da4,#504da4,#504ca4,#504ca4,#504ca3,#4f4ba3,#4f4ba3,#4f4ba3,#4f4ba3,#4f4aa3,#4f4aa3,#4f4aa2,#4f4aa2,#4f4aa2,#4f4aa2,#4f4aa2,#4f4aa2,#4f4aa2,#4f49a2,#4f49a2,#4f49a2,#4f49a2,#4f49a2,#4f49a2,#4f49a2,#4f49a2,#4f49a2,#4f49a2,#4f49a2,#4f49a2,#4f48a1,#4f49a2,#4f49a2,#4f49a2,#4f49a2,#4f4aa2,#4f4aa2,#4f4aa2,#4f4aa2,#4f4aa2,#4f4aa2,#4f4aa3,#4f4ba3,#4f4ba3,#4f4ba3,#504ca3,#504ca4,#504ca4,#504da4,#504da4,#504ea5,#504ea5,#504fa5,#504fa6,#5050a6,#5050a6,#5051a6,#5051a7,#5051a7,#5051a7,#5052a7,#5052a7,#5052a7,#5052a7,#5051a7,#5051a7,#5051a7,#5051a6,#5051a6,#5050a6,#5050a6,#5051a6,#5051a7,#5051a7,#5052a7,#5053a8,#5054a9,#5055aa,#5057ab,#5059ac);--d3:linear-gradient(90deg,#4f62b3,#4f60b2,#505daf,#505aad,#5057ab,#5054a9,#5053a8,#5054a8,#5054a9,#5055a9,#5056aa,#5056aa,#5057ab,#5057ab,#5058ab,#5058ab,#5058ac,#5058ac,#5058ac,#5058ac,#5058ac,#5058ab,#5057ab,#5057ab,#5057ab,#5056aa,#5056aa,#5055aa,#5055a9,#5054a9,#5054a8,#5053a8,#5052a8,#5052a7,#5051a7,#5051a6,#5050a6,#504fa6,#504fa5,#504ea5,#504ea5,#504da4,#504da4,#504ca4,#504ca3,#504ba3,#4f4ba3,#4f4ba3,#4f4ba3,#4f4aa3,#4f4aa2,#4f4aa2,#4f4aa2,#4f4aa2,#4f4aa2,#4f49a2,#4f49a2,#4f49a2,#4f49a2,#4f49a2,#4f49a2,#4f49a2,#4f49a2,#4f49a2,#4f49a2,#4f49a2,#4f49a2,#4f49a2,#4f49a2,#4f49a2,#4f49a2,#4e47a1,#4f49a2,#4f49a2,#4f49a2,#4f49a2,#4f49a2,#4f49a2,#4f49a2,#4f4aa2,#4f4aa2,#4f4aa2,#4f4aa2,#4f4aa3,#4f4ba3,#4f4ba3,#504ca3,#504ca4,#504ca4,#504da4,#504ea4,#504ea5,#504fa5,#504fa6,#5050a6,#5050a6,#5051a6,#5051a7,#5052a7,#5052a7,#5052a7,#5052a7,#5052a7,#5052a7,#5052a7,#5052a7,#5052a7,#5052a7,#5051a7,#5051a7,#5051a7,#5051a7,#5051a7,#5052a7,#5052a8,#5053a8,#5055a9,#5056aa,#5058ac,#505bad,#505daf);--d4:linear-gradient(90deg,#4d69b8,#4e67b6,#4e64b4,#4f60b1,#505cae,#5058ac,#5056aa,#5056aa,#5057ab,#5058ac,#5059ac,#505aad,#505bad,#505bae,#505bae,#505bae,#505bae,#505bae,#505bae,#505bae,#505aad,#505aad,#5059ad,#5059ac,#5058ac,#5058ab,#5057ab,#5056aa,#5056aa,#5055a9,#5054a9,#5054a8,#5053a8,#5052a7,#5052a7,#5051a7,#5050a6,#5050a6,#504fa5,#504ea5,#504ea5,#504da4,#504da4,#504ca4,#504ca3,#4f4ba3,#4f4ba3,#4f4ba3,#4f4aa3,#4f4aa2,#4f4aa2,#4f4aa2,#4f4aa2,#4f49a2,#4f49a2,#4f49a2,#4f49a2,#4f49a2,#4f49a2,#4f49a2,#4f49a2,#4f49a2,#4f49a2,#4f49a2,#4f49a2,#4f49a2,#4f49a2,#4f49a2,#4f49a2,#4f49a2,#4f48a1,#4e46a0,#4f48a1,#4f49a2,#4f49a2,#4f49a2,#4f49a2,#4f49a2,#4f49a2,#4f49a2,#4f4aa2,#4f4aa2,#4f4aa2,#4f4aa3,#4f4ba3,#4f4ba3,#504ca3,#504ca4,#504da4,#504da4,#504ea5,#504ea5,#504fa5,#5050a6,#5050a6,#5051a6,#5051a7,#5052a7,#5052a7,#5052a8,#5053a8,#5053a8,#5053a8,#5053a8,#5053a8,#5053a8,#5052a8,#5052a7,#5052a7,#5052a7,#5052a7,#5052a7,#5052a8,#5053a8,#5054a9,#5055aa,#5057ab,#5059ac,#505cae,#4f5fb0,#4f62b3);--d5:linear-gradient(90deg,#4b71bd,#4b71bd,#4c6ebb,#4d69b8,#4e63b4,#505eb0,#505bae,#505bae,#505daf,#505eb0,#4f60b1,#4f61b2,#4f62b3,#4f62b3,#4f62b3,#4f62b3,#4f61b2,#4f61b2,#4f60b2,#4f5fb1,#4f5fb0,#505eb0,#505daf,#505cae,#505bae,#505aad,#5059ac,#5058ac,#5057ab,#5056aa,#5055aa,#5054a9,#5054a8,#5053a8,#5052a7,#5051a7,#5051a6,#5050a6,#504fa6,#504fa5,#504ea5,#504da4,#504da4,#504ca4,#504ca3,#504ba3,#4f4ba3,#4f4ba3,#4f4aa3,#4f4aa2,#4f4aa2,#4f4aa2,#4f4aa2,#4f49a2,#4f49a2,#4f49a2,#4f49a2,#4f49a2,#4f49a2,#4f49a2,#4f49a2,#4f49a2,#4f49a2,#4f49a2,#4f48a1,#4e46a0,#4c429d,#4a409c,#493f9c,#493f9c,#493f9c,#493f9c,#493f9c,#493f9c,#4a3f9c,#4a409c,#4c429e,#4e46a0,#4f49a2,#4f49a2,#4f49a2,#4f4aa2,#4f4aa2,#4f4aa3,#4f4ba3,#4f4ba3,#504ca3,#504ca4,#504da4,#504da4,#504ea5,#504fa5,#504fa6,#5050a6,#5051a6,#5051a7,#5052a7,#5052a7,#5053a8,#5053a8,#5053a8,#5053a8,#5053a8,#5053a8,#5053a8,#5053a8,#5053a8,#5053a8,#5053a8,#5053a8,#5053a8,#5053a8,#5054a8,#5055a9,#5056aa,#5057ab,#505aad,#505caf,#4f60b1,#4e64b4,#4d69b8);--d6:linear-gradient(90deg,#467dc4,#457fc6,#467ec5,#4879c2,#4b71bd,#4d69b8,#4e64b4,#4e65b5,#4d68b7,#4d6bb9,#4c6ebb,#4b70bc,#4b71bd,#4b71bd,#4b70bd,#4b6fbc,#4c6ebb,#4c6cba,#4d6ab9,#4d68b7,#4e66b6,#4e64b4,#4f62b3,#4f61b2,#4f5fb1,#505daf,#505cae,#505aad,#5059ac,#5058ab,#5057ab,#5056aa,#5055a9,#5054a9,#5053a8,#5052a7,#5051a7,#5050a6,#5050a6,#504fa5,#504ea5,#504ea5,#504da4,#504da4,#504ca4,#504ca3,#4f4ba3,#4f4ba3,#4f4aa3,#4f4aa2,#4f4aa2,#4f4aa2,#4f4aa2,#4f49a2,#4f49a2,#4f49a2,#4f49a2,#4f49a2,#4f49a2,#4f48a1,#4e47a1,#4d439e,#4a409c,#493f9c,#493f9c,#493f9c,#493f9c,#493f9c,#493f9c,#493f9c,#493f9c,#493f9c,#493f9c,#493f9c,#493f9c,#493f9c,#4a3f9c,#4a409c,#4a409c,#4a409c,#4b419d,#4d449f,#4f48a1,#4f4aa2,#4f4ba3,#4f4ba3,#504ca3,#504ca4,#504da4,#504ea4,#504ea5,#504fa5,#5050a6,#5050a6,#5051a7,#5052a7,#5052a7,#5053a8,#5053a8,#5054a8,#5054a9,#5054a9,#5054a9,#5054a9,#5054a9,#5054a9,#5054a9,#5054a8,#5053a8,#5054a8,#5054a9,#5054a9,#5055a9,#5056aa,#5058ab,#505aad,#505daf,#4f60b1,#4e65b5,#4d6bb9,#4b72be);--d7:linear-gradient(90deg,#3f8acc,#3b8fcf,#3992d1,#3b90d0,#3f89cc,#4580c6,#4977c1,#487ac3,#4481c7,#4087cb,#3d8dce,#3a91d1,#3992d1,#3991d1,#3b90d0,#3d8dce,#3f89cc,#4285c9,#4580c6,#477ac3,#4a75c0,#4b71bd,#4c6cba,#4d68b7,#4e65b5,#4f62b3,#4f60b1,#505eb0,#505cae,#505aad,#5059ac,#5057ab,#5056aa,#5055a9,#5054a9,#5053a8,#5052a7,#5051a7,#5050a6,#504fa6,#504fa5,#504ea5,#504da4,#504da4,#504ca4,#504ca3,#4f4ba3,#4f4ba3,#4f4ba3,#4f4aa3,#4f4aa2,#4f4aa2,#4f4aa2,#4f49a2,#4f49a2,#4f49a2,#4f49a2,#4f49a2,#4f48a1,#4e459f,#4b419d,#4a409c,#493f9c,#493f9c,#493f9c,#493f9c,#493f9c,#493f9c,#493f9c,#493f9c,#493f9c,#493f9c,#493f9c,#493f9c,#493f9c,#493f9c,#4a3f9c,#4a409c,#4a409c,#4a409c,#4a409c,#4b419d,#4d439e,#4f48a1,#4f4aa3,#4f4ba3,#504ca3,#504ca4,#504da4,#504ea5,#504ea5,#504fa5,#5050a6,#5051a6,#5051a7,#5052a7,#5053a8,#5053a8,#5054a8,#5054a9,#5054a9,#5054a9,#5055a9,#5055a9,#5055a9,#5054a9,#5054a9,#5054a9,#5054a9,#5054a9,#5055a9,#5055aa,#5056aa,#5058ab,#505aad,#505caf,#4f60b1,#4e64b4,#4d6ab9,#4a73be,#467ec5);--d8:linear-gradient(90deg,#3596d4,#309ed7,#2da2d9,#2ca4da,#2da3da,#2f9fd8,#339ad5,#309ed8,#2ca5da,#2aa9db,#29acd7,#28afd3,#28afd3,#28aed4,#28add6,#29abd9,#2aa8db,#2ca4da,#2f9fd8,#3498d5,#3b90d0,#4187ca,#467ec5,#4976c0,#4b70bc,#4d6ab9,#4e66b6,#4f62b3,#4f60b1,#505daf,#505bae,#5059ac,#5058ab,#5056aa,#5055a9,#5054a8,#5053a8,#5052a7,#5051a6,#5050a6,#504fa5,#504ea5,#504ea5,#504da4,#504ca4,#504ca3,#504ba3,#4f4ba3,#4f4ba3,#4f4aa3,#4f4aa2,#4f4aa2,#4f4aa2,#4f49a2,#4f49a2,#4f49a2,#4f49a2,#4f48a1,#4e46a0,#4c429e,#4a409c,#493f9c,#493f9c,#493f9c,#493f9c,#493f9c,#493f9c,#493f9c,#493f9c,#493f9c,#493f9c,#493f9c,#493f9c,#493f9c,#493f9c,#493f9c,#4a3f9c,#4a409c,#4a409c,#4a409c,#4a409c,#4a409d,#4c429e,#4e46a0,#4f4aa2,#4f4ba3,#504ca3,#504da4,#504da4,#504ea5,#504fa5,#504fa6,#5050a6,#5051a7,#5052a7,#5052a7,#5053a8,#5053a8,#5054a9,#5054a9,#5055a9,#5055a9,#5055a9,#5055a9,#5055a9,#5055a9,#5055a9,#5055a9,#5055a9,#5055a9,#5055aa,#5056aa,#5057ab,#5059ac,#505cae,#4f5fb0,#4e63b4,#4d69b8,#4b71bd,#467cc4,#3f8acc);--d9:linear-gradient(90deg,#2fa0d8,#2aa8db,#29add7,#28b0d0,#28b1cd,#28b1cd,#28b1ce,#2ab4c4,#35b7b0,#40b9a1,#4cbb95,#57bc8d,#57bc8d,#52bc90,#4abb96,#41b9a0,#37b8ac,#2cb5bd,#28b2cc,#28add6,#2aa8db,#2fa0d8,#3696d4,#3e8bcd,#4580c6,#4976c0,#4c6ebb,#4d69b8,#4e64b4,#4f61b2,#505eb0,#505cae,#505aad,#5058ab,#5056aa,#5055a9,#5054a8,#5052a8,#5051a7,#5050a6,#504fa6,#504fa5,#504ea5,#504da4,#504da4,#504ca4,#504ca3,#4f4ba3,#4f4ba3,#4f4aa3,#4f4aa2,#4f4aa2,#4f4aa2,#4f49a2,#4f49a2,#4f49a2,#4f49a2,#4f48a1,#4e45a0,#4b419d,#4a409c,#493f9c,#493f9c,#493f9c,#493f9c,#493f9c,#493f9c,#493f9c,#493f9c,#493f9c,#493f9c,#493f9c,#493f9c,#493f9c,#493f9c,#493f9c,#4a3f9c,#4a409c,#4a409c,#4a409c,#4a409c,#4b409d,#4c429e,#4e47a0,#4f4aa2,#4f4ba3,#504ca4,#504da4,#504da4,#504ea5,#504fa5,#504fa6,#5050a6,#5051a7,#5052a7,#5052a8,#5053a8,#5054a8,#5054a9,#5054a9,#5055a9,#5055a9,#5055a9,#5055a9,#5055a9,#5055a9,#5055a9,#5055a9,#5055a9,#5055aa,#5056aa,#5057ab,#5058ac,#505bad,#505daf,#4f61b2,#4e66b6,#4c6ebb,#4878c1,#4186ca,#3695d3);--d10:linear-gradient(90deg,#2ba6db,#28aed5,#29b3c7,#34b7b2,#3fb9a1,#4abb96,#54bc8e,#71bf7a,#97c261,#b6c252,#ccc24c,#dac04a,#d9c04a,#d2c14b,#c3c24e,#adc256,#8fc266,#6bbf7e,#4ebb93,#39b8aa,#2ab4c4,#28afd3,#2aa8db,#309ed7,#3992d1,#4285c9,#4879c2,#4b71bd,#4d6ab8,#4e65b5,#4f61b2,#505eb0,#505cae,#505aad,#5058ab,#5056aa,#5055a9,#5053a8,#5052a7,#5051a7,#5050a6,#504fa5,#504ea5,#504ea4,#504da4,#504ca4,#504ca3,#4f4ba3,#4f4ba3,#4f4ba3,#4f4aa2,#4f4aa2,#4f4aa2,#4f4aa2,#4f49a2,#4f49a2,#4f49a2,#4f48a1,#4e46a0,#4c429d,#4a409c,#493f9c,#493f9c,#493f9c,#493f9c,#493f9c,#493f9c,#493f9c,#493f9c,#493f9c,#493f9c,#493f9c,#493f9c,#493f9c,#493f9c,#493f9c,#4a3f9c,#4a409c,#4a409c,#4a409c,#4a409c,#4b419d,#4d449f,#4f48a1,#4f4ba3,#4f4ba3,#504ca3,#504da4,#504da4,#504ea5,#504fa5,#504fa6,#5050a6,#5051a7,#5052a7,#5052a7,#5053a8,#5053a8,#5054a9,#5054a9,#5055a9,#5055a9,#5055a9,#5055a9,#5055a9,#5055a9,#5055a9,#5055a9,#5055aa,#5056aa,#5056aa,#5058ab,#5059ac,#505cae,#4f5fb1,#4e63b4,#4d69b8,#4b72be,#457fc6,#3c8ecf,#309ed7);--d11:linear-gradient(90deg,#29aada,#28b1cc,#35b7b0,#4bbb96,#6dbf7d,#96c262,#b8c251,#dec049,#f5bb47,#fabc45,#fac840,#facf3d,#face3e,#fac93f,#fabe44,#f8ba47,#e8be48,#c7c24d,#9bc25f,#6abe7f,#45ba9a,#31b6b7,#28b0cf,#2aa9db,#2f9fd8,#3892d1,#4285c9,#4879c2,#4b70bd,#4d6ab8,#4e65b5,#4f61b2,#505eb0,#505cae,#505aad,#5058ac,#5056aa,#5055a9,#5054a9,#5053a8,#5051a7,#5050a6,#504fa6,#504ea5,#504ea4,#504da4,#504ca4,#504ba3,#4f4ba3,#4f4ba3,#4f4aa3,#4f4aa2,#4f4aa2,#4f4aa2,#4f49a2,#4f49a2,#4f49a2,#4f49a2,#4e47a0,#4c439e,#4a409c,#4a3f9c,#493f9c,#493f9c,#493f9c,#493f9c,#493f9c,#493f9c,#493f9c,#493f9c,#493f9c,#493f9c,#493f9c,#493f9c,#493f9c,#493f9c,#4a3f9c,#4a409c,#4a409c,#4a409c,#4a409c,#4c429d,#4e46a0,#4f49a2,#4f4ba3,#4f4ba3,#504ca3,#504ca4,#504da4,#504ea5,#504ea5,#504fa5,#5050a6,#5051a6,#5051a7,#5052a7,#5053a8,#5053a8,#5054a8,#5054a9,#5054a9,#5055a9,#5055a9,#5055a9,#5055a9,#5055a9,#5055a9,#5055a9,#5055aa,#5056aa,#5057ab,#5058ab,#505aad,#505caf,#4f60b1,#4e65b5,#4c6cba,#4976c0,#4285c9,#3795d3,#2da3da);--d12:linear-gradient(90deg,#29add7,#2ab4c4,#3fb9a2,#64be83,#9bc25f,#cdc24c,#efbd47,#fabd44,#fad13d,#f6df38,#f3e438,#f2e639,#f3e639,#f4e338,#f6de38,#fad03d,#fabd44,#efbd47,#ccc24c,#99c260,#63be84,#40b9a1,#2ab4c1,#28aed4,#2ba6db,#329ad6,#3d8dce,#4480c6,#4976c0,#4c6ebb,#4d68b7,#4e64b4,#4f61b2,#4f5fb0,#505daf,#505bae,#5059ac,#5058ac,#5057ab,#5056aa,#5054a9,#5053a8,#5052a7,#5050a6,#504fa5,#504ea5,#504da4,#504ca4,#4f4ba3,#4f4ba3,#4f4aa3,#4f4aa2,#4f4aa2,#4f4aa2,#4f4aa2,#4f49a2,#4f49a2,#4f49a2,#4f48a1,#4e45a0,#4b419d,#4a409c,#493f9c,#493f9c,#493f9c,#493f9c,#493f9c,#493f9c,#493f9c,#493f9c,#493f9c,#493f9c,#493f9c,#493f9c,#493f9c,#493f9c,#4a3f9c,#4a3f9c,#4a409c,#4a409c,#4b419d,#4e45a0,#4f49a2,#4f4aa2,#4f4ba3,#4f4ba3,#504ca3,#504ca4,#504da4,#504ea4,#504ea5,#504fa5,#5050a6,#5050a6,#5051a7,#5052a7,#5052a7,#5053a8,#5053a8,#5054a8,#5054a9,#5054a9,#5054a9,#5054a9,#5054a9,#5054a9,#5054a9,#5055a9,#5055a9,#5055aa,#5056aa,#5058ab,#505aad,#505daf,#4f60b2,#4e66b6,#4c6dbb,#4879c2,#4088cb,#3399d5,#2ba6db);--d13:linear-gradient(90deg,#28aed5,#2bb5bf,#44ba9c,#71bf7a,#adc256,#dfbf49,#f9ba47,#fac840,#f7da39,#f4e338,#f2e739,#f2e839,#f2e739,#f3e538,#f5e038,#f9d33c,#fabf43,#f3bc47,#d2c14b,#a0c25d,#68be80,#42ba9e,#2cb5be,#28afd2,#2aa7db,#319dd7,#3a90d0,#4384c8,#4879c2,#4b71bd,#4c6cba,#4d67b7,#4e64b4,#4f62b3,#4f60b1,#505eb0,#505daf,#505caf,#505bae,#505aad,#5059ac,#5057ab,#5055aa,#5053a8,#5051a7,#504fa6,#504ea5,#504da4,#504ca3,#4f4ba3,#4f4ba3,#4f4aa2,#4f4aa2,#4f4aa2,#4f4aa2,#4f49a2,#4f49a2,#4f49a2,#4f49a2,#4f48a1,#4e45a0,#4b419d,#4a409c,#493f9c,#493f9c,#493f9c,#493f9c,#493f9c,#493f9c,#493f9c,#493f9c,#493f9c,#493f9c,#493f9c,#493f9c,#493f9c,#4a3f9c,#4a409c,#4a409c,#4c429e,#4e46a0,#4f49a2,#4f4aa2,#4f4aa2,#4f4ba3,#4f4ba3,#504ca3,#504ca4,#504da4,#504da4,#504ea5,#504fa5,#504fa5,#5050a6,#5051a6,#5051a7,#5052a7,#5052a7,#5053a8,#5053a8,#5053a8,#5053a8,#5054a8,#5054a8,#5054a8,#5054a9,#5054a9,#5054a9,#5054a9,#5055a9,#5056aa,#5058ab,#505aad,#505daf,#4f61b2,#4e66b6,#4c6ebb,#487ac3,#3f8acc,#329bd6,#2aa7db);--d14:linear-gradient(90deg,#28aed5,#2bb4c0,#42ba9e,#6abe7f,#a0c25c,#cfc14c,#edbd48,#faba46,#fac640,#fad13c,#f8d73a,#f8d93a,#f8d83a,#f9d33c,#fac93f,#fabb45,#f2bc47,#d8c04a,#adc256,#7bc073,#50bc92,#37b8ad,#29b2c9,#29acd8,#2ca4da,#339ad5,#3c8ecf,#4383c8,#487ac3,#4a73bf,#4c6ebb,#4d6ab9,#4d67b7,#4e65b5,#4e63b4,#4f62b3,#4f61b2,#4f61b2,#4f61b2,#4f60b1,#4f5fb0,#505daf,#505aad,#5057ab,#5054a9,#5052a7,#504fa6,#504da4,#504ca4,#4f4ba3,#4f4ba3,#4f4aa3,#4f4aa2,#4f4aa2,#4f4aa2,#4f49a2,#4f49a2,#4f49a2,#4f49a2,#4f49a2,#4f48a1,#4e46a0,#4c429e,#4a409c,#493f9c,#493f9c,#493f9c,#493f9c,#493f9c,#493f9c,#493f9c,#493f9c,#493f9c,#493f9c,#493f9c,#493f9c,#4a409c,#4b419d,#4d449f,#4f48a1,#4f49a2,#4f4aa2,#4f4aa2,#4f4aa2,#4f4aa3,#4f4ba3,#4f4ba3,#504ca3,#504ca4,#504da4,#504da4,#504ea5,#504fa5,#504fa6,#5050a6,#5050a6,#5051a7,#5051a7,#5052a7,#5052a7,#5052a8,#5053a8,#5053a8,#5053a8,#5053a8,#5053a8,#5053a8,#5053a8,#5054a9,#5054a9,#5056aa,#5057ab,#5059ad,#505caf,#4f60b1,#4e66b5,#4c6ebb,#4879c2,#3f89cc,#339ad6,#2aa7db);--d15:linear-gradient(90deg,#29acd8,#29b3c7,#3ab8a9,#53bc8f,#77c076,#99c261,#b0c255,#cac24d,#dfbf49,#eabe48,#eebd47,#eebd47,#edbd47,#e9be48,#ddc049,#c9c24d,#acc257,#88c16b,#61be85,#44ba9c,#33b7b4,#28b2cb,#29acd8,#2ba5da,#319cd6,#3992d1,#4088cb,#4580c6,#4879c2,#4a74bf,#4b70bd,#4c6dbb,#4d6bb9,#4d6ab8,#4d69b8,#4d6ab8,#4d6bb9,#4c6dba,#4c6fbc,#4b6fbc,#4c6ebb,#4d6bb9,#4e66b6,#4f60b2,#505bae,#5056aa,#5052a8,#504fa6,#504da4,#504ca3,#4f4ba3,#4f4aa3,#4f4aa2,#4f4aa2,#4f4aa2,#4f4aa2,#4f49a2,#4f49a2,#4f49a2,#4f49a2,#4f49a2,#4f49a2,#4e47a1,#4d449f,#4b419d,#4a3f9c,#493f9c,#493f9c,#493f9c,#493f9c,#493f9c,#493f9c,#493f9c,#493f9c,#4a3f9c,#4a409c,#4d439e,#4e47a1,#4f49a2,#4f49a2,#4f49a2,#4f49a2,#4f4aa2,#4f4aa2,#4f4aa3,#4f4ba3,#4f4ba3,#504ba3,#504ca4,#504ca4,#504da4,#504ea4,#504ea5,#504fa5,#504fa6,#5050a6,#5050a6,#5051a6,#5051a7,#5051a7,#5052a7,#5052a7,#5052a7,#5052a7,#5052a7,#5052a7,#5052a8,#5053a8,#5053a8,#5054a9,#5055a9,#5056aa,#5058ac,#505bae,#4f5fb1,#4e64b5,#4c6cba,#4977c1,#4186ca,#3597d4,#2ba5db);--d16:linear-gradient(90deg,#2aa9db,#28b0cf,#2db5bd,#3bb8a7,#46ba9a,#4dbb94,#4dbb94,#5abd8b,#68be80,#73bf78,#78c075,#76c077,#76c076,#70bf7b,#64be83,#56bc8d,#46ba9a,#3ab8a9,#2eb5bc,#28b1cc,#28add6,#2aa7db,#2fa0d8,#3597d4,#3c8ecf,#4186ca,#457fc6,#487ac3,#4976c0,#4a73bf,#4b71bd,#4b70bc,#4c6fbc,#4c6fbc,#4b70bc,#4a73be,#4978c1,#457fc6,#4187ca,#3d8dce,#3b8fcf,#3d8cce,#4284c8,#4976c1,#4d6ab8,#4f60b2,#5059ac,#5054a9,#5050a6,#504da4,#504ca3,#4f4ba3,#4f4aa3,#4f4aa2,#4f4aa2,#4f4aa2,#4f4aa2,#4f49a2,#4f49a2,#4f49a2,#4f49a2,#4f49a2,#4f49a2,#4f48a1,#4e46a0,#4c429e,#4a409c,#493f9c,#493f9c,#493f9c,#493f9c,#493f9c,#493f9c,#4a409c,#4c429e,#4e46a0,#4f48a1,#4f49a2,#4f49a2,#4f49a2,#4f49a2,#4f49a2,#4f4aa2,#4f4aa2,#4f4aa2,#4f4aa3,#4f4ba3,#4f4ba3,#504ca3,#504ca4,#504da4,#504da4,#504ea4,#504ea5,#504fa5,#504fa5,#504fa6,#5050a6,#5050a6,#5050a6,#5051a6,#5051a7,#5051a7,#5051a7,#5051a7,#5051a7,#5051a7,#5052a7,#5052a7,#5053a8,#5054a9,#5055aa,#5057ab,#505aad,#505eb0,#4f63b3,#4d69b8,#4a73bf,#4482c7,#3992d1,#2ea1d9);--d17:linear-gradient(90deg,#2ca5da,#29acd8,#28b0d0,#29b2c9,#29b3c7,#28b2ca,#28b0d1,#28b1ce,#29b2ca,#29b3c7,#29b3c6,#29b3c7,#29b3c6,#29b3c8,#28b2cb,#28b0cf,#28aed4,#29abd9,#2aa7db,#2da2d9,#329bd6,#3794d2,#3d8ccd,#4285c9,#457fc6,#487ac3,#4977c1,#4a75bf,#4a73bf,#4b72be,#4b72be,#4b71bd,#4b71bd,#4b72be,#4a74bf,#4879c2,#4481c7,#3d8ccd,#3498d4,#2fa0d8,#2ca5da,#2ca5da,#2fa0d8,#3794d2,#4481c7,#4c6ebb,#4f61b2,#5059ac,#5053a8,#504fa6,#504da4,#4f4ba3,#4f4ba3,#4f4aa2,#4f4aa2,#4f4aa2,#4f4aa2,#4f49a2,#4f49a2,#4f49a2,#4f49a2,#4f49a2,#4f49a2,#4f49a2,#4f48a1,#4e47a1,#4d449f,#4b419d,#4a3f9c,#493f9c,#493f9c,#4a409c,#4c429d,#4e46a0,#4f48a1,#4f49a2,#4f49a2,#4f49a2,#4f49a2,#4f49a2,#4f49a2,#4f49a2,#4f49a2,#4f4aa2,#4f4aa2,#4f4aa2,#4f4aa3,#4f4ba3,#4f4ba3,#504ca3,#504ca4,#504da4,#504da4,#504da4,#504ea5,#504ea5,#504fa5,#504fa5,#504fa6,#5050a6,#5050a6,#5050a6,#5050a6,#5050a6,#5050a6,#5050a6,#5050a6,#5051a6,#5051a7,#5052a7,#5053a8,#5054a9,#5056aa,#5059ac,#505caf,#4f60b2,#4e66b6,#4c6fbc,#477bc4,#3e8bcd,#329bd6);--d18:linear-gradient(90deg,#309ed7,#2ca5da,#2aa8db,#2aa9db,#2aa7db,#2ea1d9,#3498d4,#3498d5,#329bd6,#319cd7,#319dd7,#319dd7,#319dd7,#319dd7,#329cd6,#3399d5,#3696d3,#3992d1,#3d8dce,#4087cb,#4482c7,#467dc4,#4878c2,#4a75bf,#4b72be,#4b71bd,#4b70bc,#4b70bc,#4b70bd,#4b71bd,#4b71bd,#4b72be,#4a73be,#4a74bf,#4976c1,#477cc4,#4186ca,#3893d2,#2fa0d8,#2aa9db,#28aed5,#28b0d1,#28aed5,#2aa8db,#339ad6,#4383c8,#4c6dba,#4f60b1,#5057ab,#5052a7,#504ea5,#504ca4,#4f4ba3,#4f4aa3,#4f4aa2,#4f4aa2,#4f4aa2,#4f4aa2,#4f49a2,#4f49a2,#4f49a2,#4f49a2,#4f49a2,#4f49a2,#4f49a2,#4f48a1,#4f48a1,#4e459f,#4b419d,#4a409c,#4a409d,#4d449f,#4e47a1,#4f48a1,#4f49a2,#4f49a2,#4f49a2,#4f49a2,#4f49a2,#4f49a2,#4f49a2,#4f49a2,#4f49a2,#4f49a2,#4f4aa2,#4f4aa2,#4f4aa2,#4f4ba3,#4f4ba3,#4f4ba3,#504ca3,#504ca4,#504ca4,#504da4,#504da4,#504ea4,#504ea5,#504ea5,#504ea5,#504fa5,#504fa5,#504fa5,#504fa5,#504fa5,#504fa5,#504fa6,#504fa6,#5050a6,#5050a6,#5051a6,#5052a7,#5053a8,#5055a9,#5057ab,#505aad,#505eb0,#4e63b4,#4d6ab9,#4a74bf,#4383c8,#3992d1);--d19:linear-gradient(90deg,#3794d2,#339ad5,#329bd6,#3498d5,#3b90d0,#4383c8,#4976c0,#4976c0,#4978c1,#4879c2,#487ac3,#487ac3,#477bc3,#477bc4,#477bc3,#487ac3,#4878c1,#4976c0,#4a74bf,#4b71bd,#4c6fbc,#4c6dbb,#4c6cba,#4d6bb9,#4d6ab8,#4d6ab8,#4d6bb9,#4c6cba,#4c6dba,#4c6ebb,#4b70bc,#4b71bd,#4b72be,#4a73bf,#4976c0,#467cc4,#4187ca,#3696d3,#2ca4da,#28add5,#29b3c7,#30b6b8,#2fb6b9,#29b2c9,#29abd9,#329bd6,#4480c6,#4d6ab8,#505daf,#5055aa,#5050a6,#504da4,#504ca3,#4f4ba3,#4f4aa3,#4f4aa2,#4f4aa2,#4f4aa2,#4f49a2,#4f49a2,#4f49a2,#4f49a2,#4f49a2,#4f49a2,#4f49a2,#4f49a2,#4f48a1,#4f48a1,#4d459f,#4b419d,#4d459f,#4f48a1,#4f48a1,#4f49a1,#4f49a2,#4f49a2,#4f49a2,#4f49a2,#4f49a2,#4f49a2,#4f49a2,#4f49a2,#4f49a2,#4f49a2,#4f4aa2,#4f4aa2,#4f4aa2,#4f4aa2,#4f4aa3,#4f4ba3,#4f4ba3,#4f4ba3,#504ca3,#504ca4,#504ca4,#504da4,#504da4,#504da4,#504ea4,#504ea5,#504ea5,#504ea5,#504ea5,#504ea5,#504ea5,#504ea5,#504ea5,#504fa5,#504fa5,#5050a6,#5050a6,#5052a7,#5053a8,#5055aa,#5058ac,#505cae,#4f60b1,#4e66b6,#4c6ebb,#4879c2,#4187ca);--d20:linear-gradient(90deg,#4088cb,#3e8bcd,#4088cb,#4481c7,#4976c0,#4d6bb9,#4e64b4,#4e64b4,#4e65b5,#4e66b6,#4e66b6,#4e67b6,#4d68b7,#4d68b7,#4d68b7,#4d68b7,#4d68b7,#4e67b7,#4e67b6,#4e66b6,#4e65b5,#4e65b5,#4e64b5,#4e64b5,#4e65b5,#4e65b5,#4e67b6,#4d68b7,#4d6ab8,#4d6bb9,#4c6dba,#4c6ebb,#4b6fbc,#4b71bd,#4a73bf,#4879c2,#4285c9,#3695d3,#2ba5da,#28b0d1,#31b6b6,#41b9a0,#48bb98,#3fb9a2,#2bb5bf,#29acd8,#3498d5,#487ac3,#4e65b5,#505aad,#5053a8,#504fa6,#504da4,#4f4ba3,#4f4ba3,#4f4aa3,#4f4aa2,#4f4aa2,#4f4aa2,#4f49a2,#4f49a2,#4f49a2,#4f49a2,#4f49a2,#4f49a2,#4f49a2,#4f48a1,#4f48a1,#4e47a1,#4e46a0,#4f48a1,#4f48a1,#4f48a1,#4f49a1,#4f49a2,#4f49a2,#4f49a2,#4f49a2,#4f49a2,#4f49a2,#4f49a2,#4f49a2,#4f49a2,#4f49a2,#4f49a2,#4f4aa2,#4f4aa2,#4f4aa2,#4f4aa2,#4f4aa3,#4f4ba3,#4f4ba3,#4f4ba3,#504ca3,#504ca3,#504ca4,#504ca4,#504da4,#504da4,#504da4,#504da4,#504da4,#504da4,#504da4,#504da4,#504da4,#504ea4,#504ea5,#504ea5,#504fa5,#504fa6,#5050a6,#5052a7,#5053a8,#5056aa,#5059ac,#505daf,#4f62b3,#4d68b7,#4b70bd,#477bc3);--d21:linear-gradient(90deg,#467cc4,#477cc4,#4976c0,#4c6fbc,#4e66b6,#4f60b1,#505cae,#505cae,#505caf,#505daf,#505eb0,#505eb0,#4f5fb1,#4f5fb1,#4f60b1,#4f60b2,#4f60b2,#4f60b2,#4f60b2,#4f60b1,#4f60b1,#4f60b1,#4f60b2,#4f61b2,#4f61b2,#4f62b3,#4e63b4,#4e65b5,#4e66b6,#4d68b7,#4d69b8,#4d6ab8,#4d6bb9,#4c6cba,#4c6ebb,#4a73be,#467ec5,#3b8fcf,#2da3da,#28b0d0,#37b8ac,#55bc8e,#6ebf7c,#6abe7f,#4cbb95,#2db5bc,#2aa9db,#3b8fd0,#4b71bd,#4f60b1,#5057ab,#5051a7,#504ea5,#504ca4,#4f4ba3,#4f4ba3,#4f4aa3,#4f4aa2,#4f4aa2,#4f49a2,#4f49a2,#4f49a2,#4f49a2,#4f49a2,#4f49a2,#4f49a2,#4f48a1,#4f48a1,#4e48a1,#4e46a0,#4f48a1,#4f48a1,#4f48a1,#4f48a1,#4f49a2,#4f49a2,#4f49a2,#4f49a2,#4f49a2,#4f49a2,#4f49a2,#4f49a2,#4f49a2,#4f49a2,#4f49a2,#4f49a2,#4f49a2,#4f4aa2,#4f4aa2,#4f4aa2,#4f4aa3,#4f4ba3,#4f4ba3,#4f4ba3,#4f4ba3,#4f4ba3,#504ca3,#504ca3,#504ca4,#504ca4,#504ca4,#504ca4,#504ca4,#504ca4,#504ca4,#504ca4,#504da4,#504da4,#504da4,#504ea4,#504ea5,#504fa5,#5050a6,#5052a7,#5054a9,#5056aa,#505aad,#505eb0,#4e63b4,#4d69b8,#4b71bd);--d22:linear-gradient(90deg,#4b72be,#4b6fbc,#4d6ab8,#4e63b4,#505eb0,#5059ad,#5057ab,#5057ab,#5058ac,#5059ac,#5059ad,#505aad,#505bad,#505bae,#505cae,#505caf,#505caf,#505daf,#505daf,#505daf,#505daf,#505daf,#505eb0,#505eb0,#4f5fb0,#4f5fb1,#4f60b2,#4f61b2,#4f63b3,#4e64b4,#4e65b5,#4e65b5,#4e66b6,#4e67b6,#4d68b7,#4c6cba,#4a75c0,#4187ca,#309ed7,#28afd3,#3ab8a8,#6abe7f,#9cc25f,#aac258,#8ec267,#53bc8f,#2ab4c3,#2ca4da,#4384c8,#4d68b7,#505bae,#5054a9,#504fa6,#504da4,#504ca3,#4f4ba3,#4f4ba3,#4f4aa3,#4f4aa2,#4f4aa2,#4f49a2,#4f49a2,#4f49a2,#4f49a2,#4f49a2,#4f49a2,#4f48a1,#4f48a1,#4f48a1,#4e46a0,#4f48a1,#4f48a1,#4f48a1,#4f48a1,#4f49a1,#4f49a2,#4f49a2,#4f49a2,#4f49a2,#4f49a2,#4f49a2,#4f49a2,#4f49a2,#4f49a2,#4f49a2,#4f49a2,#4f49a2,#4f49a2,#4f4aa2,#4f4aa2,#4f4aa2,#4f4aa2,#4f4aa3,#4f4aa3,#4f4ba3,#4f4ba3,#4f4ba3,#4f4ba3,#4f4ba3,#4f4ba3,#504ba3,#504ca3,#504ca3,#504ba3,#504ba3,#504ca3,#504ca3,#504ca4,#504ca4,#504da4,#504da4,#504ea5,#504fa5,#5050a6,#5052a7,#5054a9,#5057ab,#505bae,#4f5fb1,#4e64b4,#4d69b8);--d23:linear-gradient(90deg,#4d6ab9,#4e67b6,#4f62b3,#505daf,#5058ac,#5056aa,#5054a9,#5055a9,#5055aa,#5056aa,#5057ab,#5057ab,#5058ac,#5059ac,#5059ac,#505aad,#505aad,#505aad,#505bad,#505bae,#505bae,#505bae,#505cae,#505cae,#505caf,#505daf,#505eb0,#4f5eb0,#4f5fb1,#4f60b1,#4f61b2,#4f61b2,#4f61b2,#4f62b3,#4e63b4,#4e67b6,#4c6fbc,#4481c7,#319cd6,#28afd2,#41ba9f,#8bc268,#ccc24c,#e2bf49,#d3c14b,#98c261,#46ba9a,#28afd2,#3696d3,#4b72be,#4f60b1,#5056aa,#5051a7,#504ea5,#504ca4,#4f4ba3,#4f4ba3,#4f4aa3,#4f4aa2,#4f4aa2,#4f49a2,#4f49a2,#4f49a2,#4f49a2,#4f49a2,#4f49a2,#4f48a1,#4f48a1,#4f48a1,#4e46a0,#4f48a1,#4f48a1,#4f48a1,#4f48a1,#4f48a1,#4f49a1,#4f49a2,#4f49a2,#4f49a2,#4f49a2,#4f49a2,#4f49a2,#4f49a2,#4f49a2,#4f49a2,#4f49a2,#4f49a2,#4f49a2,#4f49a2,#4f49a2,#4f4aa2,#4f4aa2,#4f4aa2,#4f4aa2,#4f4aa2,#4f4aa3,#4f4aa3,#4f4ba3,#4f4ba3,#4f4ba3,#4f4ba3,#4f4ba3,#4f4aa3,#4f4aa2,#4f49a2,#4f4aa2,#4f4aa3,#4f4ba3,#4f4ba3,#504ca3,#504ca4,#504da4,#504ea4,#504fa5,#5050a6,#5052a7,#5055a9,#5058ac,#505cae,#4f5fb1,#4e63b3);--d24:linear-gradient(90deg,#4e64b5,#4f61b2,#505daf,#5058ac,#5055a9,#5053a8,#5053a8,#5053a8,#5054a9,#5055a9,#5055aa,#5056aa,#5057ab,#5057ab,#5058ab,#5058ac,#5058ac,#5059ac,#5059ac,#5059ac,#5059ad,#505aad,#505aad,#505aad,#505aad,#505bae,#505bae,#505cae,#505caf,#505daf,#505daf,#505daf,#505daf,#505eb0,#4f5fb1,#4e63b4,#4c6cba,#457fc6,#309dd7,#28b2cc,#56bc8d,#bcc250,#f5bb47,#fabe44,#faba46,#dcc04a,#79c074,#2eb5bb,#2ea2d9,#477cc4,#4e63b4,#5058ac,#5052a7,#504ea5,#504da4,#504ca3,#4f4ba3,#4f4ba3,#4f4aa3,#4f4aa2,#4f49a2,#4f49a2,#4f49a2,#4f49a2,#4f49a2,#4f49a2,#4f48a1,#4f48a1,#4f48a1,#4e46a0,#4f48a1,#4f48a1,#4f48a1,#4f48a1,#4f48a1,#4f48a1,#4f49a1,#4f49a2,#4f49a2,#4f49a2,#4f49a2,#4f49a2,#4f49a2,#4f49a2,#4f49a2,#4f49a2,#4f49a2,#4f49a2,#4f49a2,#4f49a2,#4f49a2,#4f49a2,#4f4aa2,#4f4aa2,#4f4aa2,#4f4aa2,#4f4aa2,#4f4aa2,#4f4aa2,#4f4aa3,#4f4aa2,#4f49a2,#4e47a1,#4e45a0,#4d459f,#4e459f,#4e47a0,#4f49a2,#4f4aa3,#4f4ba3,#4f4ba3,#504ca3,#504ca4,#504da4,#504fa5,#5050a6,#5053a8,#5056aa,#5059ac,#505cae,#505eb0);--d25:linear-gradient(90deg,#4f60b1,#505daf,#5059ac,#5055a9,#5053a8,#5052a7,#5052a7,#5052a7,#5053a8,#5054a8,#5054a9,#5055a9,#5055aa,#5056aa,#5056aa,#5057ab,#5057ab,#5057ab,#5058ab,#5058ac,#5058ac,#5058ac,#5058ac,#5058ac,#5059ac,#5059ac,#5059ac,#5059ac,#5059ad,#505aad,#505aad,#505aad,#505aad,#505aad,#505cae,#4f60b1,#4d68b7,#477cc4,#309dd7,#29b3c7,#69be80,#dcc04a,#fac441,#f7da39,#f9d53b,#faba46,#b1c254,#40b9a0,#2aa9db,#4285c9,#4e67b6,#505aad,#5053a8,#504fa5,#504da4,#504ca4,#4f4ba3,#4f4ba3,#4f4aa3,#4f4aa2,#4f4aa2,#4f49a2,#4f49a2,#4f49a2,#4f49a2,#4f49a2,#4f48a1,#4f48a1,#4f48a1,#4e46a0,#4f48a1,#4f48a1,#4f48a1,#4f48a1,#4f48a1,#4f48a1,#4f48a1,#4f49a1,#4f49a2,#4f49a2,#4f49a2,#4f49a2,#4f49a2,#4f49a2,#4f49a2,#4f49a2,#4f49a2,#4f49a2,#4f49a2,#4f49a2,#4f49a2,#4f49a2,#4f49a2,#4f49a2,#4f4aa2,#4f4aa2,#4f4aa2,#4f4aa2,#4f4aa2,#4f4aa2,#4f49a2,#4e46a0,#4c439e,#4c429d,#4c429d,#4c429d,#4c439e,#4e459f,#4f48a1,#4f4aa2,#4f4ba3,#4f4ba3,#504ca3,#504ca4,#504da4,#504fa5,#5051a7,#5053a8,#5056aa,#5059ac,#505bae);--d26:linear-gradient(90deg,#505caf,#5059ac,#5056aa,#5053a8,#5051a7,#5051a6,#5051a7,#5051a7,#5052a7,#5053a8,#5053a8,#5054a9,#5054a9,#5055a9,#5055aa,#5056aa,#5056aa,#5056aa,#5057aa,#5057ab,#5057ab,#5057ab,#5057ab,#5057ab,#5057ab,#5057ab,#5057ab,#5057ab,#5057ab,#5057ab,#5057ab,#5057ab,#5057ab,#5057ab,#5059ac,#505daf,#4e66b5,#4879c2,#319dd7,#2ab3c4,#78c075,#ecbd48,#f9d53b,#f3e639,#f3e538,#facd3e,#dbc04a,#5abd8b,#28afd3,#3c8ecf,#4d6bb9,#505cae,#5054a9,#5050a6,#504ea4,#504ca4,#504ca3,#4f4ba3,#4f4ba3,#4f4aa2,#4f4aa2,#4f49a2,#4f49a2,#4f49a2,#4f49a2,#4f49a2,#4f48a1,#4f48a1,#4e47a1,#4e46a0,#4e47a1,#4f48a1,#4f48a1,#4f48a1,#4f48a1,#4f48a1,#4f48a1,#4f48a1,#4f49a1,#4f49a2,#4f49a2,#4f49a2,#4f49a2,#4f49a2,#4f49a2,#4f49a2,#4f49a2,#4f49a2,#4f49a2,#4f49a2,#4f49a2,#4f49a2,#4f49a2,#4f49a2,#4f49a2,#4f49a2,#4f49a2,#4f49a2,#4f49a2,#4f49a2,#4e47a0,#4c439e,#4b419d,#4b419d,#4b419d,#4b419d,#4b419d,#4c429e,#4e45a0,#4f49a2,#4f4aa2,#4f4aa3,#4f4ba3,#4f4ba3,#504ca4,#504ea4,#504fa6,#5052a7,#5054a9,#5056aa,#5058ab);--d27:linear-gradient(90deg,#5059ad,#5057aa,#5053a8,#5051a7,#5050a6,#5050a6,#5050a6,#5051a6,#5051a7,#5052a7,#5052a7,#5053a8,#5053a8,#5054a9,#5054a9,#5055a9,#5055a9,#5055a9,#5055aa,#5055aa,#5056aa,#5056aa,#5056aa,#5056aa,#5055aa,#5055aa,#5055aa,#5055a9,#5055a9,#5055a9,#5054a9,#5054a9,#5054a9,#5055a9,#5057ab,#505bae,#4e63b4,#4976c0,#329bd6,#2ab3c4,#80c170,#f4bc47,#f5df38,#f0ea3c,#f0ea3c,#f6de38,#f2bc47,#77c076,#29b2ca,#3596d4,#4b6fbc,#505eb0,#5055a9,#5050a6,#504ea5,#504da4,#504ca4,#4f4ba3,#4f4ba3,#4f4aa3,#4f4aa2,#4f49a2,#4f49a2,#4f49a2,#4f49a2,#4f48a1,#4f48a1,#4e46a0,#4d449f,#4c429e,#4d439e,#4d459f,#4e47a0,#4f48a1,#4f48a1,#4f48a1,#4f48a1,#4f48a1,#4f48a1,#4f48a1,#4f49a2,#4f49a2,#4f49a2,#4f49a2,#4f49a2,#4f49a2,#4f49a2,#4f49a2,#4f49a2,#4f49a2,#4f49a2,#4f49a2,#4f49a2,#4f49a2,#4f49a2,#4f49a2,#4f49a2,#4f49a2,#4f49a2,#4f48a1,#4d459f,#4b419d,#4b419d,#4b419d,#4b419d,#4b419d,#4b419d,#4b419d,#4d439e,#4f48a1,#4f49a2,#4f4aa2,#4f4aa2,#4f4ba3,#4f4ba3,#504da4,#504ea5,#5050a6,#5053a8,#5054a9,#5055aa);--d28:linear-gradient(90deg,#5057ab,#5054a9,#5052a7,#5050a6,#504fa5,#504fa5,#504fa5,#5050a6,#5050a6,#5051a6,#5051a7,#5052a7,#5052a7,#5053a8,#5053a8,#5053a8,#5054a8,#5054a9,#5054a9,#5054a9,#5054a9,#5054a9,#5054a9,#5054a9,#5054a9,#5054a9,#5054a8,#5053a8,#5053a8,#5053a8,#5053a8,#5052a8,#5052a8,#5053a8,#5055a9,#5059ac,#4f61b2,#4a73be,#3498d5,#29b3c8,#79c075,#f2bc47,#f6de38,#f0ea3c,#f0ea3c,#f5e038,#f6bb47,#81c16f,#29b3c6,#3499d5,#4b71bd,#505eb0,#5056aa,#5051a7,#504ea5,#504da4,#504ca4,#504ca3,#4f4ba3,#4f4aa3,#4f4aa2,#4f49a2,#4f49a2,#4f49a2,#4f49a2,#4f48a1,#4e46a0,#4c439e,#4b419d,#4a409c,#4b419d,#4b429d,#4d449e,#4e47a0,#4f48a1,#4f48a1,#4f48a1,#4f48a1,#4f48a1,#4f48a1,#4f48a1,#4f49a1,#4f49a2,#4f49a2,#4f49a2,#4f49a2,#4f48a1,#4f48a1,#4e47a1,#4e47a1,#4f48a1,#4f49a2,#4f49a2,#4f49a2,#4f49a2,#4f49a2,#4f49a2,#4f49a2,#4f49a2,#4f48a1,#4d449f,#4b419d,#4b409d,#4a409d,#4b409d,#4b409d,#4b409d,#4b419d,#4c429e,#4e47a1,#4f49a2,#4f49a2,#4f4aa2,#4f4aa2,#4f4ba3,#504ca3,#504da4,#504fa6,#5051a7,#5053a8,#5054a8);--d29:linear-gradient(90deg,#5055a9,#5053a8,#5051a6,#504fa5,#504ea5,#504ea5,#504ea5,#504fa5,#504fa6,#5050a6,#5050a6,#5051a6,#5051a7,#5052a7,#5052a7,#5052a7,#5052a8,#5053a8,#5053a8,#5053a8,#5053a8,#5053a8,#5053a8,#5053a8,#5053a8,#5052a8,#5052a7,#5052a7,#5052a7,#5051a7,#5051a7,#5051a7,#5051a7,#5051a7,#5053a8,#5057ab,#4f5fb1,#4b71bd,#3696d3,#28b2ca,#73bf79,#efbd47,#f6dc39,#f0ea3b,#f0ea3c,#f5df38,#f5bb47,#7ec171,#29b3c7,#3498d5,#4b71bd,#4f5eb0,#5056aa,#5051a7,#504fa5,#504da4,#504da4,#504ca3,#4f4ba3,#4f4aa3,#4f4aa2,#4f49a2,#4f49a2,#4f49a2,#4f48a1,#4e47a1,#4d439e,#4b419d,#4a409c,#4a409c,#4a409c,#4b419d,#4b419d,#4d449f,#4f48a1,#4f48a1,#4f48a1,#4f48a1,#4f48a1,#4f48a1,#4f48a1,#4f48a1,#4f48a1,#4f49a1,#4f48a1,#4f48a1,#4e47a1,#4d459f,#4d439e,#4d449f,#4e46a0,#4f48a1,#4f49a2,#4f49a2,#4f49a2,#4f49a2,#4f49a2,#4f49a2,#4f49a2,#4f48a1,#4d449e,#4b419d,#4a409c,#4a409c,#4a409c,#4a409c,#4a409c,#4b419d,#4c429e,#4e47a0,#4f49a2,#4f49a2,#4f49a2,#4f4aa2,#4f4aa2,#4f4ba3,#504da4,#504fa5,#5050a6,#5052a7,#5052a7);--d30:linear-gradient(90deg,#5053a8,#5052a7,#5050a6,#504ea5,#504da4,#504da4,#504ea4,#504ea5,#504ea5,#504fa5,#504fa6,#5050a6,#5050a6,#5050a6,#5051a6,#5051a7,#5051a7,#5051a7,#5052a7,#5052a7,#5052a7,#5052a7,#5052a7,#5052a7,#5051a7,#5051a7,#5051a7,#5051a6,#5050a6,#5050a6,#5050a6,#504fa6,#5050a6,#5050a6,#5052a7,#5056aa,#505eb0,#4c6fbc,#3893d2,#28b1cc,#6cbf7d,#ebbd48,#f8d93a,#f1e93a,#f1ea3b,#f6dd38,#f3bc47,#7bc073,#29b3c8,#3498d4,#4b71bd,#4f5eb0,#5056aa,#5051a7,#504fa5,#504ea4,#504da4,#504ca4,#4f4ba3,#4f4ba3,#4f4aa2,#4f49a2,#4f49a2,#4f49a2,#4f48a1,#4e46a0,#4c429d,#4b419d,#4a409c,#4a409c,#4a409c,#4b409d,#4b419d,#4c439e,#4e47a1,#4f48a1,#4f48a1,#4f48a1,#4f48a1,#4f48a1,#4f48a1,#4f48a1,#4f48a1,#4f48a1,#4f48a1,#4e47a1,#4d449f,#4b429d,#4b419d,#4b419d,#4c429e,#4e45a0,#4f48a1,#4f49a2,#4f49a2,#4f49a2,#4f49a2,#4f49a2,#4f49a2,#4e48a1,#4d439e,#4b419d,#4a409c,#4a409c,#4a409c,#4a409c,#4a409c,#4b409d,#4c429e,#4e47a0,#4f49a2,#4f49a2,#4f49a2,#4f49a2,#4f4aa2,#4f4ba3,#504ca4,#504ea5,#5050a6,#5051a7,#5051a7);--d31:linear-gradient(90deg,#5052a7,#5050a6,#504fa5,#504da4,#504da4,#504da4,#504da4,#504da4,#504da4,#504ea5,#504ea5,#504ea5,#504ea5,#504ea5,#504fa5,#504fa5,#5050a6,#5050a6,#5050a6,#5050a6,#5051a6,#5051a6,#5050a6,#5050a6,#5050a6,#5050a6,#5050a6,#504fa6,#504fa5,#504fa5,#504fa5,#504ea5,#504ea5,#504fa5,#5051a6,#5055a9,#505caf,#4d6bb9,#3c8ecf,#28b0d1,#5fbd87,#e2bf49,#fad23c,#f2e739,#f2e839,#f8d73a,#ebbd48,#6ebf7c,#28b1cc,#3795d3,#4c6fbc,#505eb0,#5055aa,#5051a7,#504fa5,#504ea5,#504da4,#504ca4,#504ba3,#4f4ba3,#4f4aa2,#4f49a2,#4f49a2,#4f49a2,#4f48a1,#4e459f,#4b419d,#4b419d,#4a409c,#4a409c,#4a409c,#4b409d,#4b419d,#4c429e,#4e46a0,#4f48a1,#4f48a1,#4f48a1,#4f48a1,#4f48a1,#4f48a1,#4f48a1,#4f48a1,#4f48a1,#4f48a1,#4e46a0,#4c429d,#4b419d,#4b419d,#4b419d,#4b419d,#4c439e,#4e47a1,#4f48a1,#4f49a2,#4f49a2,#4f49a2,#4f49a2,#4f49a1,#4e47a1,#4d439e,#4b419d,#4a409c,#4a409c,#4a409c,#4a409c,#4a409c,#4a409c,#4c429e,#4e46a0,#4f48a1,#4f49a2,#4f49a2,#4f49a2,#4f49a2,#4f4aa3,#504ca3,#504da4,#504fa6,#5050a6,#5050a6);--d32:linear-gradient(90deg,#5051a7,#5050a6,#504ea5,#504da4,#504ca4,#504ca3,#504ca3,#504ca4,#504ca4,#504ca4,#504ba3,#4f4ba3,#4f4aa3,#4f4aa2,#4f4aa3,#4f4ba3,#504ca3,#504da4,#504ea5,#504fa5,#504fa5,#504fa6,#504fa6,#504fa6,#504fa5,#504fa5,#504fa5,#504ea5,#504ea5,#504ea5,#504da4,#504da4,#504da4,#504ea5,#5050a6,#5053a8,#505bad,#4d68b7,#4088cb,#28add6,#50bc91,#cfc14c,#fac640,#f4e138,#f4e338,#facd3e,#dfbf49,#5fbd87,#28b0d1,#3a90d0,#4c6cba,#505daf,#5055a9,#5051a7,#504fa5,#504ea5,#504da4,#504ca4,#504ca3,#4f4ba3,#4f4aa2,#4f4aa2,#4f49a2,#4f49a2,#4f48a1,#4e459f,#4b419d,#4b419d,#4a409c,#4a409c,#4a409c,#4b409d,#4b419d,#4c429e,#4e46a0,#4f48a1,#4f48a1,#4f48a1,#4f48a1,#4f48a1,#4f48a1,#4f48a1,#4f48a1,#4f48a1,#4f48a1,#4d449f,#4b419d,#4b419d,#4b409d,#4b419d,#4b419d,#4b419d,#4e46a0,#4f48a1,#4f49a2,#4f49a2,#4f49a2,#4f49a2,#4f48a1,#4e47a1,#4d439e,#4b419d,#4a409c,#4a409c,#4a409c,#4a409c,#4a409c,#4a409c,#4c429d,#4e46a0,#4f48a1,#4f49a2,#4f49a2,#4f49a2,#4f49a2,#4f4aa2,#4f4ba3,#504da4,#504fa5,#5050a6,#5050a6);--d33:linear-gradient(90deg,#5050a6,#504fa5,#504da4,#504ca4,#4f4ba3,#4f4ba3,#4f4ba3,#4f4ba3,#4f4aa2,#4f49a2,#4e47a1,#4e46a0,#4e46a0,#4e46a0,#4e46a0,#4e47a0,#4e47a1,#4f48a1,#4f4aa2,#504ca4,#504da4,#504ea5,#504ea5,#504ea5,#504ea5,#504ea5,#504ea4,#504da4,#504da4,#504da4,#504ca4,#504ca4,#504ca4,#504da4,#504fa5,#5052a7,#5059ac,#4e65b5,#4382c8,#29aada,#43ba9d,#bac251,#fabb45,#f8d93a,#f7db39,#fac043,#ccc24c,#50bc91,#28add6,#3e8ccd,#4d6ab8,#505cae,#5054a9,#5051a6,#504fa5,#504ea5,#504da4,#504ca4,#504ca3,#4f4ba3,#4f4aa2,#4f4aa2,#4f49a2,#4f49a2,#4f48a1,#4e459f,#4b419d,#4b419d,#4a409c,#4a409c,#4a409c,#4b409d,#4b419d,#4c429e,#4e46a0,#4f48a1,#4f48a1,#4f48a1,#4f48a1,#4f48a1,#4f48a1,#4f48a1,#4f48a1,#4f48a1,#4f48a1,#4d439e,#4b419d,#4b409d,#4b409d,#4b409d,#4b419d,#4b419d,#4e45a0,#4f48a1,#4f48a1,#4f49a2,#4f49a2,#4f49a2,#4f48a1,#4e47a1,#4d439e,#4b409d,#4a409c,#4a409c,#4a409c,#4a409c,#4a409c,#4a409c,#4c429d,#4e46a0,#4f48a1,#4f49a2,#4f49a2,#4f49a2,#4f49a2,#4f4aa2,#4f4ba3,#504da4,#504fa5,#5050a6,#5050a6);--d34:linear-gradient(90deg,#5050a6,#504ea5,#504da4,#504ca3,#4f4ba3,#4f4aa3,#4f4aa2,#4f49a2,#4e47a1,#4e45a0,#4d459f,#4d449f,#4d449f,#4d459f,#4d459f,#4e459f,#4e459f,#4e46a0,#4e47a0,#4f48a1,#4f4ba3,#504ca4,#504da4,#504da4,#504da4,#504da4,#504ca4,#504ca3,#4f4aa3,#4f4aa2,#4f4aa3,#4f4ba3,#504ba3,#504ca4,#504ea4,#5051a7,#5057ab,#4f62b3,#477cc4,#2ba6db,#39b8aa,#a0c25d,#f5bb47,#facb3f,#facd3e,#f9ba46,#b5c253,#43ba9d,#29aada,#4187ca,#4d68b7,#505bad,#5054a9,#5050a6,#504fa5,#504ea5,#504da4,#504ca4,#504ca3,#4f4ba3,#4f4aa2,#4f4aa2,#4f49a2,#4f49a2,#4f48a1,#4e459f,#4b419d,#4b419d,#4a409c,#4a409c,#4a409d,#4b409d,#4b419d,#4c429e,#4e46a0,#4f48a1,#4f48a1,#4f48a1,#4f48a1,#4f48a1,#4f48a1,#4f48a1,#4f48a1,#4f48a1,#4f48a1,#4d439e,#4b419d,#4b409d,#4b409d,#4b409d,#4b419d,#4b419d,#4e45a0,#4f48a1,#4f48a1,#4f48a1,#4f48a1,#4f48a1,#4f48a1,#4e47a1,#4d439e,#4b409d,#4a409c,#4a409c,#4a409c,#4a409c,#4a409c,#4a409c,#4c429d,#4e46a0,#4f48a1,#4f49a2,#4f49a2,#4f49a2,#4f49a2,#4f4aa2,#4f4ba3,#504da4,#504ea5,#504fa6,#504fa6);--d35:linear-gradient(90deg,#504fa5,#504ea5,#504ca4,#4f4ba3,#4f4aa2,#4f4aa2,#4f49a2,#4e47a0,#4d459f,#4d449f,#4d439e,#4d439e,#4d449e,#4d449f,#4d449f,#4d449f,#4d449f,#4d449f,#4d459f,#4e46a0,#4f48a1,#4f4aa3,#504ca3,#504ca4,#504ca4,#504ca3,#4f4ba3,#4f48a1,#4e46a0,#4e459f,#4e46a0,#4f49a2,#4f4ba3,#4f4ba3,#504da4,#5050a6,#5056aa,#4f60b1,#4976c0,#2da2d9,#31b6b7,#85c16c,#e6be48,#fabc45,#fabf44,#eebd47,#9cc25f,#3ab8a9,#2aa7db,#4482c7,#4e65b5,#505aad,#5053a8,#5050a6,#504ea5,#504ea5,#504da4,#504ca4,#504ca3,#4f4ba3,#4f4aa2,#4f4aa2,#4f49a2,#4f49a2,#4f48a1,#4e459f,#4b419d,#4b419d,#4a409c,#4a409c,#4a409d,#4b409d,#4b419d,#4c429e,#4e46a0,#4f48a1,#4f48a1,#4f48a1,#4f48a1,#4f48a1,#4f48a1,#4f48a1,#4f48a1,#4f48a1,#4f48a1,#4d439e,#4b419d,#4b409d,#4b409d,#4b409d,#4b409d,#4b419d,#4e459f,#4f48a1,#4f48a1,#4f48a1,#4f48a1,#4f48a1,#4f48a1,#4e47a1,#4d439e,#4b409d,#4a409c,#4a409c,#4a409c,#4a409c,#4a409c,#4a409c,#4c429d,#4e46a0,#4f48a1,#4f48a1,#4f49a2,#4f49a2,#4f49a2,#4f4aa2,#4f4ba3,#504da4,#504ea5,#504fa6,#504fa5);--d36:linear-gradient(90deg,#504fa5,#504da4,#504ca3,#4f4ba3,#4f4aa2,#4f49a2,#4e47a1,#4e459f,#4d439e,#4c439e,#4c439e,#4c439e,#4c439e,#4d439e,#4d439e,#4d439e,#4d439e,#4d449e,#4d449f,#4d449f,#4e46a0,#4f49a2,#4f4aa3,#4f4ba3,#4f4ba3,#4f4ba3,#4f48a1,#4d449f,#4d439e,#4d439e,#4d439e,#4e45a0,#4f49a2,#4f4aa3,#504ca3,#504fa5,#5054a9,#505eb0,#4b72be,#319dd7,#2ab3c4,#6dbf7d,#d2c14b,#f7bb47,#f9ba46,#e0bf49,#86c16c,#33b7b4,#2ca4da,#467dc5,#4e64b4,#5059ac,#5053a8,#5050a6,#504ea5,#504ea5,#504da4,#504ca4,#504ca3,#4f4ba3,#4f4aa2,#4f4aa2,#4f49a2,#4f49a2,#4f48a1,#4e459f,#4b419d,#4b419d,#4a409c,#4a409c,#4a409d,#4b409d,#4b419d,#4c429e,#4e46a0,#4f48a1,#4f48a1,#4f48a1,#4f48a1,#4f48a1,#4f48a1,#4f48a1,#4f48a1,#4f48a1,#4f48a1,#4d439e,#4b419d,#4b409d,#4b409d,#4b409d,#4b409d,#4b419d,#4e459f,#4f48a1,#4f48a1,#4f48a1,#4f48a1,#4f48a1,#4f48a1,#4e47a1,#4d439e,#4b409d,#4a409c,#4a409c,#4a409c,#4a409c,#4a409c,#4a409c,#4c429d,#4e46a0,#4f48a1,#4f48a1,#4f49a2,#4f49a2,#4f49a2,#4f4aa2,#4f4ba3,#504da4,#504ea5,#504fa6,#504fa5);--d37:linear-gradient(90deg,#504ea5,#504da4,#504ca3,#4f4aa2,#4f49a2,#4f48a1,#4e47a0,#4d449f,#4c439e,#4c429e,#4c429e,#4c429e,#4c429e,#4c439e,#4c439e,#4c439e,#4c439e,#4c439e,#4d439e,#4d449f,#4e459f,#4e48a1,#4f4aa2,#4f4aa3,#4f4aa3,#4f49a2,#4d459f,#4c439e,#4c429e,#4c429e,#4c429e,#4d439e,#4e47a1,#4f4aa2,#4f4ba3,#504ea5,#5053a8,#505caf,#4c6ebb,#3498d5,#28b1cc,#5bbd8a,#bdc250,#ecbd48,#efbd47,#cdc24c,#70bf7b,#2bb4c0,#2fa0d8,#4879c2,#4f62b3,#5058ab,#5052a7,#504fa6,#504ea5,#504da4,#504da4,#504ca4,#504ca3,#4f4ba3,#4f4aa2,#4f4aa2,#4f49a2,#4f49a2,#4f48a1,#4e459f,#4b419d,#4b419d,#4a409c,#4a409c,#4a409d,#4b409d,#4b419d,#4c429e,#4e46a0,#4f48a1,#4f48a1,#4f48a1,#4f48a1,#4f48a1,#4f48a1,#4f48a1,#4f48a1,#4f48a1,#4f48a1,#4d439e,#4b419d,#4b409d,#4b409d,#4b409d,#4b409d,#4b419d,#4e459f,#4f48a1,#4f48a1,#4f48a1,#4f48a1,#4f48a1,#4f48a1,#4e47a1,#4d439e,#4a409d,#4a409c,#4a409c,#4a409c,#4a409c,#4a409c,#4a409c,#4c429d,#4e46a0,#4f48a1,#4f48a1,#4f49a1,#4f49a2,#4f49a2,#4f4aa2,#4f4ba3,#504da4,#504ea5,#504fa5,#504fa5);--d38:linear-gradient(90deg,#504ea5,#504da4,#4f4ba3,#4f4aa2,#4f49a2,#4f48a1,#4e46a0,#4d449f,#4c429e,#4c429d,#4c429d,#4c429d,#4c429d,#4c429e,#4c429e,#4c429e,#4c429e,#4c429e,#4c439e,#4d439e,#4d449f,#4e47a1,#4f49a2,#4f4aa2,#4f4aa2,#4f48a1,#4d439e,#4c429e,#4c429d,#4c429d,#4c429d,#4c429e,#4e46a0,#4f49a2,#4f4aa3,#504da4,#5052a7,#505bad,#4d6bb9,#3893d2,#28afd2,#4cbb95,#a7c259,#ddc049,#e2bf49,#b9c251,#5fbd87,#29b2c8,#319cd6,#4a75c0,#4f60b2,#5057ab,#5051a7,#504fa5,#504ea5,#504da4,#504da4,#504ca4,#504ba3,#4f4ba3,#4f4aa2,#4f49a2,#4f49a2,#4f49a2,#4f48a1,#4e459f,#4b419d,#4b419d,#4a409c,#4a409c,#4a409d,#4b409d,#4b419d,#4c429e,#4e46a0,#4f48a1,#4f48a1,#4f48a1,#4f48a1,#4f48a1,#4f48a1,#4f48a1,#4f48a1,#4f48a1,#4f48a1,#4d439e,#4b419d,#4b409d,#4b409d,#4b409d,#4b409d,#4b419d,#4e459f,#4f48a1,#4f48a1,#4f48a1,#4f48a1,#4f48a1,#4f48a1,#4e47a1,#4d439e,#4a409d,#4a409c,#4a409c,#4a409c,#4a409c,#4a409c,#4a409c,#4c429d,#4e46a0,#4f48a1,#4f48a1,#4f48a1,#4f49a2,#4f49a2,#4f4aa2,#4f4ba3,#504da4,#504ea5,#504fa5,#504fa5);--d39:linear-gradient(90deg,#504ea5,#504ca4,#4f4ba3,#4f49a2,#4f48a1,#4e48a1,#4e46a0,#4d449e,#4c429d,#4b419d,#4b419d,#4b419d,#4b419d,#4b429d,#4c429d,#4c429d,#4c429d,#4c429d,#4c429e,#4c439e,#4d449f,#4e46a0,#4f48a1,#4f49a2,#4f49a2,#4e47a1,#4c429e,#4c429d,#4b419d,#4b419d,#4b419d,#4b429d,#4d459f,#4f48a1,#4f4aa2,#504ca4,#5051a7,#5059ac,#4d68b7,#3c8ece,#29add7,#41ba9f,#93c264,#cbc24c,#d1c14b,#a6c25a,#51bc91,#28b1ce,#3498d4,#4b72be,#4f5fb1,#5056aa,#5051a7,#504ea5,#504da4,#504da4,#504da4,#504ca4,#4f4ba3,#4f4ba3,#4f4aa2,#4f49a2,#4f49a2,#4f49a2,#4f48a1,#4e459f,#4b419d,#4b419d,#4a409d,#4a409c,#4a409d,#4b409d,#4b419d,#4c429e,#4e46a0,#4f48a1,#4f48a1,#4f48a1,#4f48a1,#4f48a1,#4f48a1,#4f48a1,#4f48a1,#4f48a1,#4f48a1,#4d439e,#4b419d,#4b409d,#4b409d,#4b409d,#4b409d,#4b419d,#4e459f,#4f48a1,#4f48a1,#4f48a1,#4f48a1,#4f48a1,#4f48a1,#4e47a1,#4d439e,#4a409d,#4a409c,#4a409c,#4a409c,#4a409c,#4a409c,#4a409c,#4c429d,#4e46a0,#4f48a1,#4f48a1,#4f48a1,#4f49a2,#4f49a2,#4f4aa2,#4f4ba3,#504da4,#504ea5,#504fa5,#504fa5);--d40:linear-gradient(90deg,#504da4,#504ca4,#4f4ba3,#4f49a2,#4f48a1,#4e47a1,#4e46a0,#4d439e,#4c429d,#4b419d,#4b419d,#4b419d,#4b419d,#4b419d,#4b419d,#4b419d,#4b419d,#4b419d,#4c429d,#4c429e,#4d439e,#4e46a0,#4f48a1,#4f49a2,#4f49a2,#4e47a0,#4c429e,#4b419d,#4b419d,#4b419d,#4b419d,#4b419d,#4d449f,#4f48a1,#4f49a2,#504ba3,#5050a6,#5058ab,#4e65b5,#4088cb,#29aada,#3ab8a9,#7dc171,#b9c251,#bfc24f,#92c264,#46ba9a,#28afd3,#3893d2,#4c6fbc,#505eb0,#5055a9,#5050a6,#504ea5,#504da4,#504da4,#504ca4,#504ca3,#4f4ba3,#4f4aa3,#4f4aa2,#4f49a2,#4f49a2,#4f49a2,#4f48a1,#4e459f,#4b419d,#4b419d,#4a409d,#4a409c,#4a409d,#4b409d,#4b419d,#4c429e,#4e46a0,#4f48a1,#4f48a1,#4f48a1,#4f48a1,#4f48a1,#4f48a1,#4f48a1,#4f48a1,#4f48a1,#4f48a1,#4d439e,#4b419d,#4b409d,#4b409d,#4b409d,#4b409d,#4b419d,#4e459f,#4f48a1,#4f48a1,#4f48a1,#4f48a1,#4f48a1,#4f48a1,#4e47a1,#4d439e,#4a409d,#4a409c,#4a409c,#4a409c,#4a409c,#4a409c,#4a409c,#4c429d,#4e46a0,#4f48a1,#4f48a1,#4f48a1,#4f49a2,#4f49a2,#4f4aa2,#4f4ba3,#504da4,#504ea5,#504fa5,#504fa5);--d41:linear-gradient(90deg,#504da4,#504ca4,#4f4aa3,#4f49a2,#4f48a1,#4e47a1,#4e45a0,#4d439e,#4b419d,#4b419d,#4b419d,#4b419d,#4b419d,#4b419d,#4b419d,#4b419d,#4b419d,#4b419d,#4b419d,#4c429d,#4d439e,#4e45a0,#4e47a1,#4f48a1,#4f48a1,#4e46a0,#4c429d,#4b419d,#4b419d,#4b419d,#4b419d,#4b419d,#4d449f,#4f48a1,#4f49a2,#4f4ba3,#504fa5,#5056aa,#4e63b4,#4383c8,#2ba7db,#32b7b5,#69be80,#a3c25b,#aac257,#7dc072,#3db9a4,#29acd7,#3c8ecf,#4c6cba,#505caf,#5054a9,#5050a6,#504ea5,#504da4,#504ca4,#504ca4,#504ca3,#4f4ba3,#4f4aa3,#4f4aa2,#4f49a2,#4f49a2,#4f49a2,#4f48a1,#4e459f,#4b419d,#4b419d,#4a409d,#4a409c,#4a409d,#4b409d,#4b419d,#4c429e,#4e46a0,#4f48a1,#4f48a1,#4f48a1,#4f48a1,#4f48a1,#4f48a1,#4f48a1,#4f48a1,#4f48a1,#4f48a1,#4d439e,#4b419d,#4b409d,#4b409d,#4b409d,#4b409d,#4b419d,#4e459f,#4f48a1,#4f48a1,#4f48a1,#4f48a1,#4f48a1,#4f48a1,#4e47a1,#4d439e,#4a409d,#4a409c,#4a409c,#4a409c,#4a409c,#4a409c,#4a409c,#4c429d,#4e46a0,#4f48a1,#4f48a1,#4f48a1,#4f49a2,#4f49a2,#4f4aa2,#4f4ba3,#504da4,#504ea5,#504fa5,#504fa5);--d42:linear-gradient(90deg,#504da4,#504ca3,#4f4aa3,#4f49a2,#4f48a1,#4e47a0,#4e45a0,#4c439e,#4b419d,#4b419d,#4b409d,#4b409d,#4b419d,#4b419d,#4b419d,#4b419d,#4b419d,#4b419d,#4b419d,#4b419d,#4c439e,#4e459f,#4e47a1,#4f48a1,#4f48a1,#4e46a0,#4b419d,#4b419d,#4b419d,#4b409d,#4b409d,#4b419d,#4d449f,#4e47a1,#4f48a1,#4f4aa3,#504ea5,#5055aa,#4f61b2,#457ec5,#2da3da,#2ab4c2,#58bd8c,#8dc267,#95c263,#69be80,#36b8ae,#29aada,#3f8acc,#4d6ab8,#505bae,#5053a8,#504fa5,#504da4,#504ca4,#504ca4,#504ca3,#4f4ba3,#4f4ba3,#4f4aa2,#4f4aa2,#4f49a2,#4f49a2,#4f49a2,#4f48a1,#4e459f,#4b419d,#4b419d,#4a409d,#4a409c,#4a409d,#4b409d,#4b419d,#4c429e,#4e46a0,#4f48a1,#4f48a1,#4f48a1,#4f48a1,#4f48a1,#4f48a1,#4f48a1,#4f48a1,#4f48a1,#4f48a1,#4d439e,#4b419d,#4b409d,#4b409d,#4b409d,#4b409d,#4b419d,#4e459f,#4f48a1,#4f48a1,#4f48a1,#4f48a1,#4f48a1,#4f48a1,#4e47a1,#4d439e,#4a409d,#4a409c,#4a409c,#4a409c,#4a409c,#4a409c,#4a409c,#4c429d,#4e46a0,#4f48a1,#4f48a1,#4f48a1,#4f49a2,#4f49a2,#4f4aa2,#4f4ba3,#504da4,#504ea5,#504fa5,#504fa5);--d43:linear-gradient(90deg,#504da4,#504ca3,#4f4aa2,#4f49a2,#4e48a1,#4e47a0,#4e459f,#4c439e,#4b419d,#4a409d,#4a409c,#4a409c,#4a409c,#4a409d,#4a409d,#4b409d,#4b409d,#4b419d,#4b419d,#4b419d,#4c429e,#4e459f,#4e47a0,#4e47a1,#4e47a1,#4e46a0,#4b419d,#4a409d,#4a409c,#4a409c,#4a409c,#4b409d,#4d449f,#4e47a1,#4f48a1,#4f4aa2,#504da4,#5054a9,#4f5fb1,#487ac2,#2f9fd8,#29b2c9,#4bbb96,#79c075,#81c16f,#5abd8a,#30b6b8,#2aa7db,#4285c9,#4d68b7,#505aad,#5053a8,#504fa5,#504da4,#504ca4,#504ca3,#4f4ba3,#4f4ba3,#4f4ba3,#4f4aa2,#4f4aa2,#4f49a2,#4f49a2,#4f49a2,#4f48a1,#4e459f,#4b419d,#4b419d,#4a409d,#4a409c,#4a409d,#4b409d,#4b419d,#4c429e,#4e46a0,#4f48a1,#4f48a1,#4f48a1,#4f48a1,#4f48a1,#4f48a1,#4f48a1,#4f48a1,#4f48a1,#4f48a1,#4d439e,#4b419d,#4b409d,#4b409d,#4b409d,#4b409d,#4b419d,#4e459f,#4f48a1,#4f48a1,#4f48a1,#4f48a1,#4f48a1,#4f48a1,#4e47a1,#4d439e,#4a409d,#4a409c,#4a409c,#4a409c,#4a409c,#4a409c,#4a409c,#4c429d,#4e46a0,#4f48a1,#4f48a1,#4f48a1,#4f49a2,#4f49a2,#4f4aa2,#4f4ba3,#504da4,#504ea5,#504fa5,#504fa5);--d44:linear-gradient(90deg,#504da4,#504ca3,#4f4aa2,#4f48a1,#4e47a1,#4e46a0,#4e459f,#4c429e,#4b419d,#4a409c,#4a409c,#4a409c,#4a409c,#4a409c,#4a409c,#4a409c,#4a409c,#4a409c,#4a409d,#4b419d,#4c429e,#4d459f,#4e46a0,#4e47a1,#4e47a1,#4e45a0,#4b419d,#4a409c,#4a409c,#4a409c,#4a409c,#4a409c,#4d439e,#4e47a1,#4f48a1,#4f49a2,#504da4,#5053a8,#505eb0,#4976c0,#329bd6,#28b0cf,#41ba9f,#68be81,#6fbf7b,#4ebb93,#2ab4c2,#2ca4da,#4481c7,#4e66b5,#5059ac,#5052a7,#504ea5,#504ca4,#504ca3,#4f4ba3,#4f4ba3,#4f4ba3,#4f4aa3,#4f4aa2,#4f49a2,#4f49a2,#4f49a2,#4f49a2,#4f48a1,#4e459f,#4b419d,#4b419d,#4a409d,#4a409c,#4a409d,#4b409d,#4b419d,#4c429e,#4e46a0,#4f48a1,#4f48a1,#4f48a1,#4f48a1,#4f48a1,#4f48a1,#4f48a1,#4f48a1,#4f48a1,#4f48a1,#4d439e,#4b419d,#4b409d,#4b409d,#4b409d,#4b409d,#4b419d,#4e459f,#4f48a1,#4f48a1,#4f48a1,#4f48a1,#4f48a1,#4f48a1,#4e47a1,#4d439e,#4a409d,#4a409c,#4a409c,#4a409c,#4a409c,#4a409c,#4a409c,#4c429d,#4e46a0,#4f48a1,#4f48a1,#4f48a1,#4f49a2,#4f49a2,#4f4aa2,#4f4ba3,#504da4,#504ea5,#504fa5,#504fa5);--d45:linear-gradient(90deg,#504da4,#504ba3,#4f4aa2,#4f48a1,#4e47a1,#4e46a0,#4d459f,#4c429e,#4b419d,#4a409c,#4a409c,#4a409c,#4a409c,#4a409c,#4a409c,#4a409c,#4a409c,#4a409c,#4a409c,#4b419d,#4c429d,#4d449f,#4e46a0,#4e47a1,#4e47a1,#4e459f,#4b419d,#4a409c,#4a409c,#4a409c,#4a409c,#4a409c,#4d439e,#4e47a0,#4f48a1,#4f49a2,#504ca4,#5052a7,#505caf,#4a72be,#3597d4,#28aed3,#3bb8a7,#5bbd8a,#61be85,#45ba9b,#29b2c9,#2ea1d9,#467dc5,#4e64b4,#5058ac,#5051a7,#504ea4,#504ca3,#4f4ba3,#4f4ba3,#4f4ba3,#4f4aa3,#4f4aa2,#4f4aa2,#4f49a2,#4f49a2,#4f49a2,#4f49a2,#4f48a1,#4e459f,#4b419d,#4b419d,#4a409d,#4a409c,#4a409d,#4b409d,#4b419d,#4c429e,#4e46a0,#4f48a1,#4f48a1,#4f48a1,#4f48a1,#4f48a1,#4f48a1,#4f48a1,#4f48a1,#4f48a1,#4f48a1,#4d439e,#4b419d,#4b409d,#4b409d,#4b409d,#4b409d,#4b419d,#4e459f,#4f48a1,#4f48a1,#4f48a1,#4f48a1,#4f48a1,#4f48a1,#4e47a1,#4d439e,#4a409d,#4a409c,#4a409c,#4a409c,#4a409c,#4a409c,#4a409c,#4c429d,#4e46a0,#4f48a1,#4f48a1,#4f48a1,#4f49a2,#4f49a2,#4f4aa2,#4f4ba3,#504da4,#504ea5,#504fa5,#504fa5);--p9:linear-gradient(90deg,#0000 151px,#f2e7390e 152px,#f2e83915 153px,#f1e93a15 154px,#f1e93a07 155px,#0000 156px);--p10:linear-gradient(90deg,#0000 149px,#f3e5382a 150px,#f2e73987 151px,#f2e839cd 152px,#f1e839d4 153px,#f1e93ad4 154px,#f1e93ac6 155px,#f1e93a6a 156px,#f1e93a15 157px,#0000 158px);--p11:linear-gradient(90deg,#0000 148px,#f4e43863 149px,#f3e538ea 150px,#f2e639 151px,#f1e93a 156px,#f1e93ad4 157px,#f1e93a39 158px,#0000 159px);--p12:linear-gradient(90deg,#0000 147px,#f4e23871 148px,#f4e338f8 149px,#f3e538 150px,#f1e93a 157px,#f1e93aea 158px,#f2e8394e 159px,#0000 160px);--p13:linear-gradient(90deg,#0000 146px,#f5df3871 147px,#f4e138f8 148px,#f4e338 149px,#f2e839 158px,#f2e839f1 159px,#f2e73932 160px,#0000 161px);--p14:linear-gradient(90deg,#0000 145px,#f6dc3947 146px,#f5df38f8 147px,#f5e138 148px,#f2e739 159px,#f2e739d4 160px,#f3e6390e 161px,#0000 162px);--p15:linear-gradient(90deg,#0000 144px,#f8d83a15 145px,#f7db39ea 146px,#f6de38 147px,#f3e438 153px,#f2e639 160px,#f3e6388e 161px,#0000 162px);--p16:linear-gradient(90deg,#0000 144px,#f8d63baa 145px,#f7da39 146px,#f5e138 150px,#f3e538 157px,#f3e638 160px,#f3e538f8 161px,#f3e43840 162px,#0000 163px);--p17:linear-gradient(90deg,#0000 143px,#fad13c55 144px,#f9d53b 145px,#f5e038 151px,#f3e438 161px,#f4e338c6 162px,#f5e13807 163px,#0000 164px);--p18:linear-gradient(90deg,#0000 142px,#facc3e15 143px,#facf3dea 144px,#f9d33c 145px,#f5e038 152px,#f4e338 162px,#f4e1385c 163px,#0000 164px);--p19:linear-gradient(90deg,#0000 142px,#faca3fa3 143px,#face3e 144px,#f6de38 152px,#f4e238 162px,#f5e138dc 163px,#f6de3807 164px,#0000 165px);--p20:linear-gradient(90deg,#0000 141px,#fac34239 142px,#fac840f8 143px,#facc3e 144px,#f7dc39 152px,#f5e038 163px,#f6de385c 164px,#0000 165px);--p21:linear-gradient(90deg,#0000 141px,#fac242b1 142px,#fac641 143px,#f7da39 153px,#f6df38 163px,#f6dd39dc 164px,#0000 165px);--p22:linear-gradient(90deg,#0000 140px,#fabc4539 141px,#fac043 142px,#facc3e 146px,#f9d53b 151px,#f7dc39 158px,#f7dc39 164px,#f8d83a4e 165px,#0000 166px);--p23:linear-gradient(90deg,#0000 140px,#fabb45b1 141px,#fabd44 142px,#facb3f 147px,#f9d33c 152px,#f7da39 160px,#f7da39 164px,#f8d73ab8 165px,#0000 166px,#0000 369px,#4fbc9215 370px,#4fbc9215 374px,#4fbc9223 375px,#4fbc922a 376px,#4fbc9207 377px,#0000 378px);--p24:linear-gradient(90deg,#0000 139px,#f9ba4639 140px,#faba46 141px,#facc3e 149px,#f9d43c 155px,#f8d83a 162px,#f9d53b 165px,#fad23c23 166px,#0000 167px,#0000 336px,#50bc9207 337px,#50bc9215 338px,#50bc9215 342px,#50bc9223 343px,#50bc922a 344px,#50bc922a 347px,#50bc9232 348px,#50bc9240 349px,#50bc9240 353px,#50bc926a 354px,#50bc926a 358px,#4fbc9287 359px,#4fbc9295 360px,#4fbc9295 363px,#4fbc92a3 364px,#4fbc92bf 365px,#4fbc92bf 369px,#4fbc92d4 370px,#4fbc92d4 374px,#4fbc92e3 375px,#4fbb92ea 376px,#4fbb92aa 377px,#4ebb930e 378px,#0000 379px);--p25:linear-gradient(90deg,#0000 139px,#f9ba47aa 140px,#faba46 141px,#fad03d 154px,#f9d53b 161px,#f9d43c 165px,#fad03d9c 166px,#0000 167px,#0000 182px,#0000 304px,#51bc9115 305px,#51bc9115 309px,#51bc912a 310px,#51bc912a 314px,#51bc9139 315px,#51bc9140 316px,#51bc9140 319px,#51bc914e 320px,#50bc916a 321px,#50bc916a 325px,#50bc9187 326px,#50bc9195 327px,#50bc9195 331px,#50bc91bf 332px,#50bc91bf 336px,#50bc91c6 337px,#50bc92d4 338px,#50bc92d4 342px,#50bc92e3 343px,#50bc92ea 344px,#50bc92ea 347px,#50bc92f1 348px,#50bc92 349px,#4ebb93 377px,#4ebb93b1 378px,#4dbb940e 379px,#0000 380px);--p26:linear-gradient(90deg,#0000 138px,#f3bc4723 139px,#f7bb47f8 140px,#f9ba46 141px,#fabc45 144px,#face3e 155px,#fad13c 165px,#face3df1 166px,#fac93f0e 167px,#0000 168px,#0000 172px,#0000 277px,#50bc9207 278px,#50bc9215 279px,#50bc9215 281px,#50bc921c 282px,#50bc912a 283px,#50bc912a 285px,#50bc9132 286px,#50bc9140 287px,#51bc9140 289px,#51bc914e 290px,#51bc916a 291px,#51bc916a 294px,#51bc9195 295px,#51bc9195 299px,#51bc91bf 300px,#51bc91bf 304px,#51bc91d4 305px,#51bc91d4 309px,#51bc91ea 310px,#51bc91ea 314px,#51bc91f8 315px,#51bc91 316px,#4cbb94 378px,#4cbb9595 379px,#0000 380px);--p27:linear-gradient(90deg,#0000 138px,#f2bc4787 139px,#f5bb47 140px,#fabb45 145px,#face3e 159px,#facd3e 166px,#fac93f63 167px,#0000 168px,#0000 250px,#4fbc9207 251px,#4fbc9215 252px,#4fbc9215 255px,#4fbc9223 256px,#4fbc922a 257px,#4fbc922a 260px,#4fbc9240 261px,#4fbc9240 264px,#4fbc925c 265px,#4fbc926a 266px,#4fbc926a 269px,#50bc9295 270px,#50bc9295 273px,#50bc92a3 274px,#50bc92bf 275px,#50bc92bf 277px,#50bc92c6 278px,#50bc92d4 279px,#50bc92d4 281px,#50bc91dc 282px,#50bc91ea 283px,#50bc91ea 285px,#51bc91f1 286px,#51bc91 287px,#51bc91 326px,#4abb96 379px,#49bb9755 380px,#0000 381px);--p28:linear-gradient(90deg,#0000 137px,#e9be4807 138px,#efbd47ea 139px,#f3bc47 140px,#faba46 144px,#faca3f 158px,#facb3f 166px,#fac740cd 167px,#0000 168px,#0000 224px,#4fbb930e 225px,#4fbb9315 226px,#4ebb9315 228px,#4fbb931c 229px,#4fbb932a 230px,#4fbb932a 233px,#4fbb9340 234px,#4fbb9340 237px,#4fbb935c 238px,#4fbb936a 239px,#4fbb936a 242px,#4fbb9295 243px,#4fbb9295 246px,#4fbb92b1 247px,#4fbb92bf 248px,#4fbb92bf 250px,#4fbb92c6 251px,#4fbb92d4 252px,#4fbb92d4 255px,#4fbb92e3 256px,#4fbb92ea 257px,#4fbc92ea 260px,#4fbc92 261px,#52bc90 315px,#48bb98 379px,#47bb99ea 380px,#46ba9a15 381px,#0000 382px);--p29:linear-gradient(90deg,#0000 137px,#e7be485c 138px,#ecbd48 139px,#f6bb47 142px,#faba46 145px,#fac940 161px,#fac93f 165px,#fac541 167px,#fac04323 168px,#0000 169px,#0000 173px,#0000 195px,#4ebb930e 196px,#4ebb9315 197px,#4ebb9315 200px,#4ebb9323 201px,#4ebb932a 202px,#4ebb932a 205px,#4ebb9332 206px,#4ebb9340 207px,#4ebb9340 210px,#4ebb935c 211px,#4ebb936a 212px,#4ebb936a 215px,#4ebb9395 216px,#4ebb9395 219px,#4ebb93a3 220px,#4ebb93bf 221px,#4ebb93bf 224px,#4ebb93cd 225px,#4ebb93d4 226px,#4ebb93d4 228px,#4ebb93dc 229px,#4ebb93ea 230px,#4ebb93ea 233px,#4ebb93 234px,#51bc91 307px,#45ba9b 380px,#44ba9c87 381px,#0000 382px);--p30:linear-gradient(90deg,#0000 137px,#e4bf48cd 138px,#e9be48 139px,#f5bb47 143px,#f9ba46 146px,#fac641 162px,#fac342 167px,#eabe4b95 168px,#4fbc922a 169px,#4fbb922a 172px,#4fbb9232 173px,#4fbb9340 174px,#4fbb9340 178px,#4fbb935c 179px,#4fbb936a 180px,#4ebb936a 184px,#4ebb9395 185px,#4ebb9395 189px,#4ebb93a3 190px,#4ebb93bf 191px,#4ebb93bf 195px,#4ebb93cd 196px,#4ebb93d4 197px,#4dbb94d4 200px,#4dbb94e3 201px,#4dbb94ea 202px,#4dbb94ea 205px,#4dbb94f1 206px,#4dbb94 207px,#50bc92 303px,#42ba9e 380px,#42ba9eea 381px,#41b9a015 382px,#0000 383px);--p31:linear-gradient(90deg,#0000 125px,#51bc910e 126px,#51bc9115 127px,#51bc9115 131px,#50bc912a 132px,#50bc912a 136px,#a8bf644e 137px,#e1bf49 138px,#f2bc47 143px,#f9ba46 147px,#fac342 163px,#fac043 167px,#f0bd49f8 168px,#4fbb93ea 169px,#4ebb93ea 172px,#4ebb93f1 173px,#4ebb93 174px,#4abb96 230px,#4dbb94 304px,#40b9a1 381px,#3fb9a178 382px,#0000 383px);--p32:linear-gradient(90deg,#0000 97px,#50bc9115 98px,#50bc9115 101px,#50bc911c 102px,#50bc912a 103px,#51bc912a 106px,#51bc9139 107px,#51bc9140 108px,#51bc9140 111px,#51bc916a 112px,#51bc916a 115px,#51bc9178 116px,#51bc9195 117px,#51bc9195 120px,#51bc91b1 121px,#51bc91bf 122px,#51bc91bf 125px,#51bc91cd 126px,#51bc91d4 127px,#51bc91d4 131px,#51bc91ea 132px,#51bc91ea 136px,#a7bf63f1 137px,#ddc049 138px,#ecbd48 142px,#f8ba47 148px,#fabf43 164px,#fabc45 168px,#7dbb7e 169px,#4dbb94 170px,#48bb98 224px,#4abb97 314px,#3db9a4 381px,#3db9a4dc 382px,#0000 383px);--p33:linear-gradient(90deg,#0000 70px,#50bc9215 71px,#50bc9215 74px,#50bc9223 75px,#50bc922a 76px,#50bc922a 79px,#50bc9240 80px,#50bc9140 83px,#50bc915c 84px,#50bc916a 85px,#50bc916a 88px,#50bc9195 89px,#50bc9195 92px,#50bc91b1 93px,#50bc91bf 94px,#51bc91bf 97px,#51bc91d4 98px,#51bc91d4 101px,#51bc91dc 102px,#51bc91ea 103px,#51bc91ea 106px,#51bc91f8 107px,#51bc91 108px,#51bc90 135px,#58bc8d 136px,#cac14f 137px,#d9c04a 138px,#ecbd48 143px,#f7bb47 149px,#fabb46 168px,#bbba63 169px,#4cbb95 170px,#45ba9b 221px,#47ba99 313px,#3bb8a8 382px,#3ab8a932 383px,#0000 384px);--p34:linear-gradient(90deg,#0000 41px,#50bc9215 42px,#50bc9215 46px,#50bc922a 47px,#50bc922a 50px,#50bc9232 51px,#50bc9240 52px,#50bc9240 55px,#50bc925c 56px,#50bc926a 57px,#50bc926a 60px,#50bc9287 61px,#50bc9295 62px,#50bc9295 65px,#50bc92b1 66px,#50bc92bf 67px,#50bc92bf 70px,#50bc92d4 71px,#50bc92d4 74px,#50bc92e3 75px,#50bc92ea 76px,#50bc92ea 79px,#50bc91 80px,#51bc91 135px,#7ebe77 136px,#cdc24c 137px,#d9c04a 139px,#e8be48 143px,#f6bb47 150px,#faba46 168px,#efba4b 169px,#53bb92 170px,#49bb97 171px,#43ba9e 221px,#45ba9b 308px,#40b9a0 346px,#38b8ab 382px,#38b8ab87 383px,#0000 384px);--p35:linear-gradient(90deg,#0000 12px,#4fbc920e 13px,#4fbc9215 14px,#4fbc9215 17px,#4fbc922a 18px,#4fbc922a 22px,#4fbc9240 23px,#4fbc9240 26px,#4fbc924e 27px,#4fbc926a 28px,#4fbc926a 31px,#4fbc9287 32px,#4fbc9295 33px,#4fbc9295 36px,#4fbc92b1 37px,#4fbc92bf 38px,#4fbc92bf 41px,#4fbc92d4 42px,#4fbc92d4 46px,#4fbc92ea 47px,#4fbc92ea 50px,#4fbc92f1 51px,#4fbc92 52px,#50bc92 135px,#a4c05f 136px,#c9c24d 137px,#cfc14c 138px,#e4bf48 143px,#f3bc47 150px,#f8ba47 156px,#faba46 166px,#f8ba47 169px,#86bb7b 170px,#47ba99 171px,#40b9a0 220px,#44ba9d 289px,#41ba9f 321px,#36b8ae 382px,#36b7afdc 383px,#0000 384px);--p36:linear-gradient(90deg,#0000 5px,#4fbc9232 6px,#4fbc9295 7px,#4fbc92a3 8px,#4fbc92bf 9px,#4fbc92bf 12px,#4fbc92cd 13px,#4fbc92d4 14px,#4fbc92d4 17px,#4fbc92ea 18px,#4fbc92ea 22px,#4fbc92 23px,#4dbb93 134px,#5bbc8b 135px,#bcc250 136px,#c9c24d 138px,#e0bf49 143px,#eebd47 149px,#f6bb47 156px,#f9ba46 166px,#f7bb47 169px,#bebb61 170px,#44ba9b 171px,#3eb9a3 223px,#41ba9f 290px,#3fb9a2 320px,#3ab8a8 355px,#34b7b2 383px,#33b7b332 384px,#0000 385px);--p37:linear-gradient(90deg,#0000 5px,#4fbc9207 6px,#4fbb938e 7px,#4ebb93 8px,#4bbb96 134px,#b7c252 136px,#bec24f 137px,#d7c14a 142px,#e7be48 147px,#f3bc47 156px,#f8bb47 165px,#f5bb47 169px,#ecbc4a 170px,#4bba99 171px,#42ba9f 172px,#3bb9a7 224px,#3fb9a2 289px,#3cb9a5 321px,#38b8ac 357px,#31b6b6 383px,#31b6b678 384px,#0000 385px);--p38:linear-gradient(90deg,#0000 6px,#4ebb9307 7px,#4dbb948e 8px,#4dbb94 9px,#48bb98 133px,#4bbb96 134px,#a1c15e 135px,#b2c254 136px,#b9c251 137px,#d5c14b 143px,#e5bf48 148px,#f0bc47 156px,#f5bb47 166px,#efbd47 170px,#7dbb81 171px,#3fb9a1 172px,#39b8aa 224px,#3cb9a5 290px,#3ab8a9 323px,#36b7af 358px,#2fb6ba 383px,#2eb6bacd 384px,#0000 385px);--p39:linear-gradient(90deg,#0000 7px,#4dbb9407 8px,#4bbb95aa 9px,#4bbb95 10px,#46ba9a 133px,#62bd87 134px,#a4c25b 135px,#b8c251 138px,#d3c14b 144px,#e2bf49 149px,#edbd48 157px,#f2bc47 165px,#ecbd48 170px,#b4bc64 171px,#3db9a5 172px,#37b8ad 222px,#3ab8a9 289px,#37b8ad 329px,#33b7b3 360px,#2cb5bf 384px,#2bb4c023 385px,#0000 386px);--p40:linear-gradient(90deg,#0000 8px,#4abb9615 9px,#49bb97ea 10px,#49bb98 11px,#44ba9d 133px,#82c070 134px,#9fc25d 135px,#b2c254 138px,#cec24c 144px,#e0bf49 150px,#e9be48 157px,#efbd47 166px,#e9be48 170px,#e0be4b 171px,#44b9a2 172px,#3ab8a8 173px,#35b7b1 220px,#38b8ac 289px,#35b7b0 325px,#31b6b7 361px,#2ab4c2 384px,#2ab4c378 385px,#0000 386px);--p41:linear-gradient(90deg,#0000 9px,#47ba995c 10px,#46ba9a 11px,#42ba9f 132px,#4fbb95 133px,#90c265 134px,#a0c25d 136px,#b6c252 140px,#cfc14c 146px,#ddc049 151px,#e7be48 158px,#ebbd48 166px,#e9be48 169px,#e2bf49 171px,#73bb88 172px,#38b8ab 173px,#32b7b5 222px,#36b7af 289px,#33b7b3 324px,#2fb6ba 359px,#29b3c5 384px,#29b3c6cd 385px,#0000 386px);--p42:linear-gradient(90deg,#0000 9px,#46ba9a07 10px,#43ba9ddc 11px,#43ba9d 12px,#40b9a1 132px,#69be81 133px,#8cc268 134px,#9ac260 136px,#b5c253 141px,#ccc24c 147px,#dbc04a 153px,#e3bf49 159px,#e8be48 167px,#dfbf49 171px,#a6be69 172px,#36b7af 173px,#2fb6b9 227px,#33b7b4 301px,#2db5bc 351px,#29b3c8 385px,#29b2c923 386px,#0000 387px);--p43:linear-gradient(90deg,#0000 10px,#41ba9f78 11px,#41b9a0 12px,#3db9a5 110px,#3eb9a3 131px,#42ba9f 132px,#79c074 133px,#86c16c 134px,#aec256 141px,#c6c24d 147px,#d3c14b 152px,#dec049 159px,#e4bf49 166px,#dfbf49 170px,#dbc04a 171px,#cfc14e 172px,#3cb8ad 173px,#34b7b2 174px,#2cb5be 229px,#31b6b7 298px,#2bb4c0 353px,#28b2ca 385px,#28b2cb87 386px,#0000 387px);--p44:linear-gradient(90deg,#0000 10px,#40b9a115 11px,#3eb9a3f8 12px,#3eb9a3 13px,#3ab8a8 111px,#3db9a5 131px,#57bc8f 132px,#77c076 133px,#8dc267 136px,#acc257 142px,#c0c24f 147px,#cdc24c 152px,#dbc04a 161px,#dfbf49 167px,#dbc04a 170px,#d0c14b 172px,#68bb90 173px,#31b6b6 174px,#2ab4c2 225px,#2eb5bb 296px,#29b3c5 359px,#28b1cd 385px,#28b1cddc 386px,#0000 387px);--p45:linear-gradient(90deg,#0000 11px,#3cb9a6b1 12px,#3cb9a6 13px,#38b8ab 112px,#3bb8a7 130px,#3eb9a4 131px,#65be83 132px,#72bf79 133px,#8dc267 137px,#aac258 143px,#c7c24d 152px,#d7c14a 162px,#dac04a 167px,#d6c14b 170px,#ccc24c 172px,#96be6f 173px,#2eb6ba 174px,#29b3c5 215px,#2bb5bf 294px,#29b3c8 360px,#28b1cf 386px,#28b0cf47 387px,#0000 388px);--p46:linear-gradient(90deg,#0000 11px,#3ab8a95c 12px,#39b8aa 13px,#36b7af 111px,#39b8a9 130px,#65be83 132px,#6dbf7d 133px,#8bc268 138px,#a3c25b 143px,#b9c251 149px,#c4c24e 154px,#d5c14b 167px,#d3c14b 169px,#cdc24c 171px,#c7c24d 172px,#bbc252 173px,#2fb5bc 174px,#2bb5bf 175px,#29b3c8 215px,#2ab4c3 294px,#29b2ca 361px,#28b0d0 386px,#28b0d1aa 387px,#0000 388px);--p47:linear-gradient(90deg,#0000 11px,#39b8ab0e 12px,#37b8adf8 13px,#37b8ad 14px,#34b7b2 110px,#38b8ac 129px,#3db9a5 130px,#57bc8d 131px,#62be85 132px,#8ac269 139px,#a5c25a 145px,#bec24f 154px,#cfc14c 167px,#ccc24c 170px,#bcc250 173px,#54b8a0 174px,#2ab4c3 175px,#28b2cb 216px,#29b3c6 294px,#28b2cc 359px,#28afd2 386px,#28afd2f8 387px,#28afd315 388px,#0000 389px);--p48:linear-gradient(90deg,#0000 12px,#35b7b0b1 13px,#35b7b1 14px,#32b6b6 111px,#36b7af 128px,#38b8ac 129px,#49bb98 130px,#56bc8d 131px,#5ebd88 132px,#88c16a 140px,#9ec25e 145px,#b5c253 153px,#c9c24d 167px,#c6c24d 170px,#b7c252 173px,#7ebd7e 174px,#29b3c6 175px,#28b1cd 214px,#29b2c9 295px,#28b1cf 366px,#28aed4 387px,#28aed487 388px,#0000 389px);--p49:linear-gradient(90deg,#0000 12px,#32b7b463 13px,#32b7b4 14px,#2fb6b9 112px,#34b7b2 127px,#36b7af 128px,#4bbb95 130px,#53bc8f 131px,#93c264 144px,#a4c25b 149px,#b0c255 154px,#bec24f 162px,#c4c24e 168px,#c1c24e 170px,#b9c251 172px,#b2c254 173px,#a2c15e 174px,#2cb3c5 175px,#29b2c8 176px,#28b0cf 217px,#28b2cb 296px,#28b0d0 368px,#28aed5 387px,#28add5ea 388px,#28add60e 389px,#0000 390px);--p50:linear-gradient(90deg,#0000 12px,#31b6b615 13px,#30b6b8 14px,#2cb5be 110px,#31b6b7 125px,#34b7b1 127px,#42ba9e 129px,#50bc91 131px,#8cc268 144px,#9dc25e 149px,#a9c258 154px,#bbc251 164px,#bec24f 168px,#b9c251 171px,#a5c25a 174px,#48b6ad 175px,#28b2cb 176px,#28afd2 218px,#28b1cd 297px,#28afd2 371px,#29add7 388px,#29add771 389px,#0000 390px);--p51:linear-gradient(90deg,#0000 13px,#2db5bdbf 14px,#2db5bd 15px,#2ab4c1 109px,#2eb5bc 123px,#33b7b4 126px,#4dbb94 131px,#8cc268 146px,#a2c25c 154px,#b8c252 168px,#b4c253 171px,#a0c25c 174px,#69bb8e 175px,#28b1cd 176px,#28aed4 221px,#28b0cf 295px,#28aed4 372px,#29acd8 388px,#29acd8ea 389px,#29abd90e 390px,#0000 391px);--p52:linear-gradient(90deg,#0000 13px,#2bb4c16a 14px,#2ab4c1 15px,#29b3c4 108px,#2bb5bf 122px,#30b6b8 125px,#49bb97 131px,#88c16a 147px,#a1c25c 157px,#b2c254 168px,#b1c255 170px,#a9c258 172px,#9cc25f 174px,#89c06d 175px,#28b1cf 176px,#28add6 219px,#28afd1 295px,#29abd9 389px,#29abd987 390px,#0000 391px);--p53:linear-gradient(90deg,#0000 13px,#2ab4c315 14px,#2ab3c4 15px,#29b3c7 107px,#2ab4c1 122px,#30b6b8 125px,#46ba9a 131px,#81c16f 147px,#96c262 155px,#acc257 168px,#a9c258 171px,#9ec25e 173px,#8ec267 175px,#3fb4b8 176px,#28b0d1 177px,#29acd8 216px,#28afd3 295px,#29abda 389px,#29aadaf1 390px,#29aada2a 391px,#0000 392px);--p54:linear-gradient(90deg,#0000 14px,#29b3c7bf 15px,#29b3c7 16px,#29b2ca 108px,#29b3c7 118px,#2ab4c1 123px,#43ba9d 131px,#7dc072 148px,#97c262 159px,#a5c25a 169px,#9fc25d 172px,#89c16a 175px,#5ab999 176px,#28afd2 177px,#29abd9 219px,#28aed5 294px,#29aada 390px,#2aa9dbbf 391px,#2aa9db07 392px,#0000 393px);--p55:linear-gradient(90deg,#0000 14px,#29b2c96a 15px,#29b2ca 16px,#28b2cc 107px,#29b2ca 117px,#2ab4c2 123px,#40b9a1 131px,#6fbf7b 146px,#8dc267 158px,#9fc25d 169px,#9ac260 172px,#84c16d 175px,#72bf7d 176px,#28aed4 177px,#29aada 215px,#29add7 295px,#2aa9db 391px,#2aa9db87 392px,#0000 393px);--p56:linear-gradient(90deg,#0000 14px,#28b2cb15 15px,#28b1ccf8 16px,#28b1cc 17px,#28b1ce 107px,#28b2cb 117px,#2ab4c4 123px,#3bb9a7 130px,#47ba99 135px,#60bd86 143px,#81c16f 156px,#96c262 166px,#99c260 170px,#8fc266 173px,#75c077 176px,#39b2c0 177px,#28add6 178px,#2aa9db 208px,#29acd8 298px,#2aa8db 391px,#2aa8dbf8 392px,#2aa8db47 393px,#0000 394px);--p57:linear-gradient(90deg,#0000 15px,#28b1ceaa 16px,#28b1ce 17px,#28b0cf 109px,#28b1cc 118px,#2ab4c3 124px,#39b8aa 130px,#43ba9d 135px,#5abd8a 143px,#89c26a 163px,#93c264 170px,#8bc269 173px,#71bf7a 176px,#4db7a5 177px,#29acd8 178px,#2ba7db 222px,#29abda 296px,#2aa8db 392px,#2aa7dbea 393px,#2aa7db2a 394px,#0000 395px);--p58:linear-gradient(90deg,#0000 15px,#28b0cf47 16px,#28b0d0 17px,#28b0d1 107px,#28b1ce 118px,#29b3c4 124px,#39b8ab 131px,#52bc90 142px,#80c170 162px,#8cc268 170px,#86c16c 173px,#6dbf7d 176px,#5ebc8b 177px,#2aacd7 178px,#29abd9 179px,#2ba5da 224px,#2aa9db 295px,#2aa7db 393px,#2aa7dbcd 394px,#2ba6db0e 395px,#0000 396px);--p59:linear-gradient(90deg,#0000 16px,#28afd1dc 17px,#28afd2 18px,#28afd3 96px,#28b0cf 118px,#28b2ca 122px,#2bb4c0 126px,#38b8ac 132px,#53bc90 144px,#7fc171 165px,#86c16c 170px,#81c16f 173px,#60bd86 177px,#37b0c2 178px,#29aada 179px,#2ca3da 223px,#2aa8db 294px,#2ba6db 394px,#2ba6dbb1 395px,#2ba6db07 396px,#0000 397px);--p60:linear-gradient(90deg,#0000 16px,#28afd378 17px,#28afd3 18px,#28aed5 98px,#28b0d1 117px,#28b1cc 122px,#2bb4c0 127px,#39b8aa 134px,#4ebb93 144px,#7ac074 166px,#7fc170 171px,#7cc073 173px,#76c077 174px,#5dbd88 177px,#46b6a8 178px,#2aa9db 179px,#2ea1d9 223px,#2ba6db 282px,#2ba6db 395px,#2ba5db8e 396px,#0000 397px);--p61:linear-gradient(90deg,#0000 16px,#28aed415 17px,#28aed5f8 18px,#28aed5 19px,#28add7 98px,#28afd2 117px,#28b1cc 123px,#2bb4c0 128px,#3ab8a9 136px,#49bb97 144px,#74c078 167px,#79c075 171px,#72bf79 174px,#50bb93 178px,#2ca9d7 179px,#2aa7db 180px,#2f9fd8 222px,#2ba5da 276px,#2ba5db 396px,#2ba5da71 397px,#0000 398px);--p62:linear-gradient(90deg,#0000 17px,#28add6a3 18px,#28add6 19px,#29acd8 95px,#28aed4 116px,#28b1ce 123px,#2ab4c1 129px,#37b8ac 136px,#47ba99 145px,#73bf79 171px,#6ebf7d 174px,#4fbb93 178px,#36aec1 179px,#2ba6db 180px,#309dd7 224px,#2ca3da 277px,#2ba5da 396px,#2ca5daf8 397px,#2ca4da71 398px,#0000 399px);--p63:linear-gradient(90deg,#0000 17px,#29acd723 18px,#29acd8f1 19px,#29acd8 20px,#29abd9 96px,#28add6 116px,#28b0cf 123px,#2ab4c2 130px,#38b8ab 138px,#45ba9b 146px,#68be81 167px,#6dbf7d 172px,#64be83 175px,#4cbb94 178px,#40b6a8 179px,#2ca4da 180px,#329bd6 224px,#2ea2d9 274px,#2ca4da 397px,#2ca4daf8 398px,#2ca4da4e 399px,#0000 400px);--p64:linear-gradient(90deg,#0000 18px,#29abd978 19px,#29abd9 20px,#29aada 97px,#29acd7 116px,#28b1ce 125px,#2bb4c1 132px,#36b7af 138px,#40b9a1 145px,#67be81 172px,#61be85 175px,#43ba9d 179px,#30a7cf 180px,#2da2d9 181px,#3499d5 223px,#2fa0d8 274px,#2f9fd8 337px,#2ba5db 382px,#2ca4da 398px,#2ca4daf1 399px,#2ca3da4e 400px,#0000 401px);--p65:linear-gradient(90deg,#0000 18px,#29abd90e 19px,#29abdaea 20px,#29aada 21px,#2aa9db 95px,#29acd8 117px,#28b1cf 126px,#2ab4c2 133px,#3db9a5 145px,#62be85 172px,#5ebd88 175px,#41ba9f 179px,#2ea1d9 181px,#3499d5 204px,#3596d4 225px,#309ed7 273px,#319dd7 338px,#2ca5da 382px,#2ca3da 399px,#2da3daf1 400px,#2da3da4e 401px,#0000 402px);--p66:linear-gradient(90deg,#0000 19px,#29aada55 20px,#29aada 21px,#2aa8db 94px,#29acd9 118px,#28b1ce 128px,#2bb4c1 135px,#3bb8a7 146px,#55bc8e 165px,#5ebd88 173px,#56bc8d 176px,#40b9a1 179px,#3ab7ab 180px,#30a0d6 181px,#309ed8 182px,#3596d4 203px,#3894d2 226px,#319cd6 271px,#329bd6 337px,#2ca4da 383px,#2da3da 400px,#2da3daf1 401px,#2da2d94e 402px,#0000 403px);--p67:linear-gradient(90deg,#0000 20px,#2aa9dbaa 21px,#2aa9db 22px,#2ba7db 95px,#29abd9 119px,#28b1ce 129px,#2ab4c2 136px,#39b8aa 147px,#52bc90 166px,#59bd8b 173px,#53bc8f 176px,#3ab8a9 180px,#33a9c6 181px,#319dd7 182px,#3893d2 204px,#3a91d0 225px,#339ad6 271px,#3399d5 336px,#2da3da 383px,#2da2d9 401px,#2da2d9f1 402px,#2da2d971 403px,#0000 404px);--p68:linear-gradient(90deg,#0000 20px,#2aa9db15 21px,#2aa8dbea 22px,#2aa8db 23px,#2ba5db 96px,#29abda 120px,#28b1ce 131px,#2ab4c1 138px,#37b8ac 148px,#4bbb95 165px,#55bc8e 173px,#51bc91 176px,#44ba9c 178px,#38b8ab 180px,#33b3b7 181px,#329bd5 182px,#339ad6 183px,#3a91d0 204px,#3c8ecf 226px,#3498d5 272px,#3597d4 336px,#2da2d9 383px,#2da2d9 402px,#2da2d9f8 403px,#2da2d971 404px,#0000 405px);--p69:linear-gradient(90deg,#0000 21px,#2aa8db47 22px,#2aa7dbf8 23px,#2aa7db 24px,#2ca4da 97px,#29aada 121px,#28b0d0 131px,#2ab4c3 139px,#39b8ab 152px,#49bb97 166px,#50bc91 174px,#4abb97 177px,#33b7b4 181px,#32a2cc 182px,#3498d5 183px,#3c8fcf 202px,#3e8bcd 227px,#3696d3 272px,#3794d2 336px,#2ea1d9 383px,#2ea1d9 403px,#2ea1d9f8 404px,#2ea1d987 405px,#2ea1d907 406px,#0000 407px);--p70:linear-gradient(90deg,#0000 22px,#2aa7db87 23px,#2aa7db 24px,#2da2d9 98px,#29aada 122px,#28b0cf 133px,#2ab4c3 141px,#40b9a0 162px,#4cbb94 174px,#48bb98 177px,#31b6b6 181px,#2eaec3 182px,#3696d3 183px,#3e8bcd 203px,#4088cb 227px,#3794d2 273px,#3992d1 339px,#2fa0d8 384px,#2ea1d9 405px,#2ea1d98e 406px,#2ea1d907 407px,#0000 408px);--p71:linear-gradient(90deg,#0000 22px,#2ba7db07 23px,#2ba6dba3 24px,#2ba6db 25px,#2ea1d9 96px,#2da3da 111px,#29aada 124px,#2ab4c1 144px,#3eb9a3 163px,#49bb98 174px,#48bb98 176px,#42ba9f 178px,#2bb4c0 182px,#339dce 183px,#3893d2 184px,#4089cb 203px,#4285c9 230px,#3992d1 273px,#3b8fcf 339px,#309fd8 384px,#2ea1d9 406px,#2ea0d98e 407px,#2ea0d807 408px,#0000 409px);--p72:linear-gradient(90deg,#0000 23px,#2ba6db0e 24px,#2ba6dbbf 25px,#2ba6db 26px,#2f9fd8 97px,#2ea1d9 110px,#2aa9db 125px,#2ab4c2 146px,#3fb9a2 166px,#45ba9b 175px,#41b9a0 178px,#37b8ae 180px,#2ab4c2 182px,#2cadc9 183px,#3992d0 184px,#4285c9 205px,#4383c8 234px,#3b8fcf 273px,#3d8cce 339px,#309ed7 385px,#2fa0d8 407px,#2fa0d88e 408px,#2fa0d807 409px,#0000 410px);--p73:linear-gradient(90deg,#0000 24px,#2ba5db1c 25px,#2ba5dacd 26px,#2ba5da 27px,#309dd7 98px,#2ea1d9 113px,#29aada 127px,#2ab4c2 149px,#3bb8a7 165px,#42ba9e 175px,#41ba9f 177px,#3cb9a6 179px,#37b8ad 180px,#2ab4c3 182px,#29b3c8 183px,#359bce 184px,#3c8ece 185px,#3d8dce 186px,#4384c8 201px,#4580c6 218px,#4481c7 241px,#3d8dce 274px,#3f8acc 340px,#319dd7 386px,#2fa0d8 408px,#2f9fd88e 409px,#2f9fd807 410px,#0000 411px);--p74:linear-gradient(90deg,#0000 25px,#2ca5da2a 26px,#2ca4dae3 27px,#2ca4da 28px,#2ba5da 46px,#329cd6 98px,#2f9fd8 113px,#29aada 129px,#2ab4c2 152px,#3ab8a8 167px,#40b9a1 175px,#3bb8a8 179px,#37b8ae 180px,#2ab4c4 182px,#2aaecd 184px,#3c8ecd 185px,#3e8acc 186px,#4480c7 202px,#467dc4 218px,#467ec5 242px,#3e8bcd 274px,#4187cb 340px,#319cd6 387px,#2f9fd8 409px,#2f9fd88e 410px,#309fd807 411px,#0000 412px);--p75:linear-gradient(90deg,#0000 26px,#2ca4da32 27px,#2ca4dae3 28px,#2ca4da 29px,#2ca5da 48px,#339ad5 96px,#319dd7 112px,#2aa9db 130px,#2ab4c3 154px,#39b8ab 168px,#3db9a4 176px,#3ab8a9 179px,#31b6b6 181px,#2ab4c3 182px,#28b1ce 184px,#30a3d0 185px,#4088cb 186px,#467ec5 201px,#4879c2 221px,#477bc3 242px,#4088cb 274px,#4284c9 340px,#329bd6 388px,#309ed8 410px,#309ed778 411px,#0000 412px);--p76:linear-gradient(90deg,#0000 27px,#2ca4da32 28px,#2ca3dae3 29px,#2ca4da 30px,#2ca4da 49px,#3499d5 82px,#3498d4 99px,#329bd6 113px,#2aa9db 132px,#2ab4c4 156px,#36b7af 168px,#3bb8a7 176px,#3ab8a8 178px,#36b7af 180px,#28b2cb 183px,#28afd2 185px,#3895ce 186px,#4285c9 187px,#477bc3 202px,#4977c1 218px,#4878c2 243px,#4186ca 274px,#4481c7 338px,#329bd6 390px,#309dd7 410px,#309dd7f8 411px,#319dd75c 412px,#0000 413px);--p77:linear-gradient(90deg,#0000 28px,#2ca3da32 29px,#2da3dae3 30px,#2da3da 31px,#2ca4da 50px,#3596d4 82px,#3695d3 97px,#3499d5 112px,#2aa9db 133px,#2ab3c4 158px,#34b7b1 169px,#39b8aa 176px,#35b7b0 180px,#29b2ca 183px,#2aabd5 186px,#3d8ccc 187px,#4382c8 188px,#4878c2 201px,#4a74bf 218px,#4976c0 244px,#4284c8 275px,#457fc5 338px,#3399d5 390px,#319cd7 411px,#319cd7f1 412px,#319cd632 413px,#0000 414px);--p78:linear-gradient(90deg,#0000 29px,#2da3da23 30px,#2da3dacd 31px,#2da3da 32px,#2ca5da 51px,#3794d2 83px,#3893d2 98px,#3597d4 112px,#2aa9db 135px,#29b3c5 160px,#35b7b0 173px,#36b7af 179px,#30b6b7 181px,#29b3c8 183px,#28b0d0 184px,#28add6 186px,#2ca7d7 187px,#3c8dcd 188px,#457fc6 189px,#4a75c0 203px,#4b72bd 224px,#4a74bf 247px,#4481c7 274px,#477bc4 316px,#477cc4 339px,#3498d5 391px,#329bd6 412px,#329bd6d4 413px,#329bd60e 414px,#0000 415px);--p79:linear-gradient(90deg,#0000 30px,#2da2d91c 31px,#2da2d9c6 32px,#2da3da 33px,#2ca5da 53px,#3992d1 82px,#3a91d0 98px,#3695d3 113px,#2aa9db 137px,#29b3c7 161px,#33b7b4 173px,#34b7b2 179px,#30b6b8 181px,#29b3c6 183px,#28aed3 185px,#2ba7d9 188px,#467dc5 190px,#477bc3 191px,#4a73be 202px,#4b6fbc 224px,#4b72be 247px,#457fc6 275px,#4878c2 318px,#4879c2 339px,#3597d4 391px,#339ad6 413px,#339ad58e 414px,#0000 415px);--p80:linear-gradient(90deg,#0000 31px,#2da2d915 32px,#2da2d9b1 33px,#2da2d9 34px,#2ba5da 54px,#3b90d0 83px,#3b8fcf 102px,#3894d2 114px,#2aa9db 139px,#28aed4 150px,#29b3c7 163px,#32b6b5 175px,#31b6b6 180px,#2bb4c0 182px,#28afd3 185px,#2aa8db 189px,#3695d2 190px,#467dc4 191px,#4978c1 192px,#4b71bd 202px,#4c6dbb 223px,#4c6fbc 245px,#467dc4 275px,#4976c0 319px,#4977c1 339px,#3795d3 390px,#3499d5 413px,#3499d5f8 414px,#3498d540 415px,#0000 416px);--p81:linear-gradient(90deg,#0000 32px,#2da2d90e 33px,#2da2d99c 34px,#2da2d9 35px,#2ba5da 56px,#3c8ece 83px,#3d8ccd 101px,#3a90d0 113px,#2aa9db 142px,#29b2ca 163px,#30b6b8 176px,#2fb6b9 180px,#29b3c6 183px,#29add7 186px,#2aa7db 190px,#329bd5 191px,#457dc4 192px,#4a75c0 193px,#4c6ebb 204px,#4d6bb9 224px,#4c6dba 244px,#477bc3 276px,#4a74bf 314px,#4a75bf 340px,#3893d2 390px,#3597d4 414px,#3597d4c6 415px,#3596d407 416px,#0000 417px);--p82:linear-gradient(90deg,#0000 33px,#2da2d907 34px,#2da2d987 35px,#2da2d9f8 36px,#2da2d9 37px,#2ca5da 58px,#3d8ccd 82px,#3f89cc 99px,#3c8ecf 113px,#2da2d9 134px,#2aa9db 144px,#28aed4 155px,#2db5bc 177px,#2db5bc 180px,#29abd9 187px,#2ba6db 191px,#2f9ed7 192px,#4182c7 193px,#4a73be 194px,#4c6cba 204px,#4d69b8 223px,#4d6ab9 243px,#4879c2 276px,#4b71bd 320px,#4b72be 340px,#3a91d0 390px,#3696d3 415px,#3695d371 416px,#0000 417px);--p83:linear-gradient(90deg,#0000 35px,#2ea1d971 36px,#2ea1d9f8 37px,#2da2d9 38px,#2ca5da 59px,#4089cb 84px,#4087cb 101px,#3e8ccd 113px,#2da2d9 136px,#2aa9db 146px,#29acd8 153px,#2bb4c0 177px,#2bb4c0 180px,#28b1ce 185px,#29aada 188px,#2ea0d8 193px,#4a71bd 195px,#4c6fbc 196px,#4d6ab8 205px,#4e67b6 222px,#4d69b8 244px,#4977c1 277px,#4c6fbc 319px,#4b71bd 343px,#3a90d0 392px,#3798cd 394px,#37a8bd 397px,#39a0c2 399px,#3994ce 401px,#3992d1 402px,#3794d2 415px,#3794d2f1 416px,#3893d22a 417px,#0000 418px);--p84:linear-gradient(90deg,#0000 36px,#2ea1d971 37px,#2ea1d9f8 38px,#2ea1d9 39px,#2ca5da 60px,#4187ca 84px,#4285c9 99px,#3f8acc 114px,#2ea1d9 136px,#2aa8db 148px,#29acd7 156px,#2ab4c3 177px,#2ab4c4 181px,#29aada 188px,#2ea0d8 194px,#4a71bd 196px,#4c6dba 197px,#4d67b7 206px,#4e65b5 223px,#4e67b7 245px,#4975c0 277px,#4c6dbb 317px,#4b70bc 345px,#3e8bcd 386px,#3896ce 390px,#359bcd 391px,#30a6c9 392px,#2eb3be 394px,#3ab8a8 399px,#3eb1ab 401px,#3d9dc0 403px,#3a90d0 405px,#3992d1 416px,#3992d1bf 417px,#3991d107 418px,#0000 419px);--p85:linear-gradient(90deg,#0000 37px,#2ea1d971 38px,#2ea1d9f8 39px,#2ea1d9 40px,#2ca4da 62px,#309ed8 68px,#3a90d0 75px,#4285c9 84px,#4382c8 99px,#4187ca 113px,#309ed7 135px,#2aa8db 150px,#29acd8 157px,#29b3c6 177px,#29b3c7 182px,#2aa9db 189px,#2ea1d9 195px,#3890cf 196px,#4971bd 197px,#4d6ab9 198px,#4e66b6 206px,#4e64b4 223px,#4e65b5 243px,#4a74bf 278px,#4d6bb9 317px,#4c6ebb 344px,#4187ca 381px,#4088cb 382px,#2ea4d4 386px,#29b0cd 390px,#2ab4c3 393px,#34b7b1 397px,#43ba9d 403px,#44b4a2 404px,#42a8af 405px,#3e96c6 406px,#3c8ecf 407px,#3a91d0 417px,#3a90d071 418px,#0000 419px);--p86:linear-gradient(90deg,#0000 38px,#2ea0d871 39px,#2fa0d8f1 40px,#2ea0d9 41px,#2ca4da 63px,#309ed8 69px,#3c8fcf 76px,#4382c8 85px,#4580c6 99px,#4285c9 113px,#319dd7 136px,#2aa8db 152px,#29acd8 159px,#29b3c8 178px,#29b2c9 182px,#2aa8db 190px,#2fa0d8 196px,#3594d2 197px,#4774be 198px,#4d68b7 199px,#4f62b3 222px,#4e64b4 243px,#4a73be 278px,#4d69b8 317px,#4c6cba 345px,#4977c1 365px,#4383c8 379px,#4185c9 380px,#3b8ece 381px,#309ed6 382px,#2ba7da 383px,#29aada 384px,#2ab4c2 394px,#44ba9c 404px,#42b6a2 406px,#41a4b4 407px,#3d8dce 408px,#3b8fcf 417px,#3b8fcff1 418px,#3b8fcf32 419px,#0000 420px);--p87:linear-gradient(90deg,#0000 39px,#2fa0d84e 40px,#2fa0d8f8 41px,#2fa0d8 42px,#2ca4da 64px,#319dd7 71px,#3d8dce 77px,#4481c7 85px,#467dc5 98px,#4383c8 113px,#339ad5 135px,#2aa7db 153px,#29abd9 160px,#28b2ca 178px,#28b2cb 183px,#2aa9da 190px,#2f9fd8 197px,#3398d4 198px,#4578c1 199px,#4e67b6 200px,#4f61b2 221px,#4f62b3 244px,#4b72be 279px,#4d68b7 316px,#4d6bb9 345px,#4976c0 366px,#4481c7 378px,#4087ca 379px,#339bd5 380px,#2ca5da 381px,#2aa9db 383px,#28add6 387px,#29b3c5 394px,#3fb9a1 403px,#40b9a1 404px,#39b8aa 405px,#40b8a2 407px,#3f96c1 408px,#3e8bcd 409px,#3c8ece 418px,#3c8ecfd4 419px,#3c8dce0e 420px,#0000 421px);--p88:linear-gradient(90deg,#0000 40px,#2f9fd871 41px,#2f9fd8 42px,#2ba5db 59px,#2ca4da 66px,#319cd7 72px,#3e8bcd 78px,#457fc6 85px,#477bc3 98px,#4480c6 113px,#3399d5 137px,#2ba7db 155px,#29abd9 162px,#28b1cc 178px,#28b1cd 183px,#2aa9db 191px,#2f9fd8 198px,#329bd5 199px,#4d66b6 201px,#4e64b4 202px,#4f5fb1 221px,#4f61b2 243px,#4b71bd 280px,#4e67b6 313px,#4d6ab8 346px,#4a75c0 367px,#457fc6 377px,#3e8acc 378px,#309dd7 379px,#2ca3da 380px,#2aa8db 383px,#29add7 387px,#2ab4c4 395px,#3db9a4 403px,#36b7b0 404px,#34b7b2 405px,#3bb8a8 407px,#3eaeac 408px,#3f89cb 409px,#3d8cce 419px,#3d8ccea3 420px,#3d8ccd07 421px,#0000 422px);--p89:linear-gradient(90deg,#0000 41px,#309ed795 42px,#309ed7 43px,#2ba5da 60px,#2ca4da 67px,#319cd7 73px,#3e8bcd 78px,#467dc4 86px,#4879c2 98px,#457fc6 114px,#3498d4 138px,#2ba6db 157px,#28b1ce 183px,#2aa9db 191px,#309dd7 200px,#3c87c9 201px,#4c68b7 202px,#4f62b3 203px,#505eb0 222px,#4f60b1 244px,#4b70bc 281px,#4e65b5 318px,#4e65b5 336px,#4d6ab9 351px,#477bc3 375px,#467dc5 376px,#319dd7 378px,#2aa8db 384px,#28add7 388px,#2ab4c4 396px,#38b8ab 402px,#38b8ac 403px,#2cb5bf 404px,#39b8a9 408px,#3f96c0 409px,#4087cb 410px,#3e8bcd 420px,#3e8bcd78 421px,#0000 422px);--p90:linear-gradient(90deg,#0000 41px,#309dd70e 42px,#319dd7cd 43px,#319dd7 44px,#2ba5da 61px,#2ca4da 68px,#329ad6 75px,#3f8acc 79px,#477cc4 86px,#4977c1 91px,#4977c1 98px,#467dc5 115px,#3696d3 138px,#2ba6db 159px,#29aada 165px,#28b0d0 179px,#28b0d0 184px,#2aa9db 191px,#309ed7 201px,#3890cf 202px,#486fbb 203px,#4f61b2 204px,#505daf 223px,#4f5fb0 243px,#4b6fbc 281px,#4e65b5 305px,#4e63b4 321px,#4e64b4 338px,#4d6ab9 354px,#4879c2 374px,#467cc4 375px,#329bd6 377px,#2aa8db 385px,#28add6 389px,#2ab4c3 397px,#36b8ae 402px,#29b3c6 404px,#35b7b0 408px,#3aaab4 409px,#4285c9 410px,#3f8acc 420px,#3f8accf8 421px,#3f8acc5c 422px,#0000 423px);--p91:linear-gradient(90deg,#0000 42px,#319cd62a 43px,#329cd6f1 44px,#319cd6 45px,#2ca4da 61px,#2ca4da 69px,#329ad6 76px,#4088cb 80px,#487ac2 87px,#4a75c0 99px,#477cc4 116px,#2ba6db 160px,#28b0d1 184px,#2aa9db 191px,#309ed7 202px,#3497d4 203px,#4574be 204px,#4f60b1 205px,#505cae 222px,#505eb0 244px,#4c6fbb 282px,#4f62b3 319px,#4f63b3 336px,#4d69b8 355px,#4977c1 373px,#477bc3 374px,#3d8ccd 375px,#3597d4 376px,#2aa9db 386px,#28b2cc 395px,#2ab4c3 398px,#34b7b2 402px,#2ab2ca 403px,#28b2cb 404px,#2ab4c3 406px,#34b7b2 409px,#418bc5 410px,#4384c8 411px,#4088cb 421px,#3f89ccf1 422px,#3f89cb40 423px,#0000 424px);--p92:linear-gradient(90deg,#0000 43px,#329bd671 44px,#329bd6 45px,#2ca4da 62px,#2ca4da 70px,#329bd6 77px,#4186ca 81px,#4879c2 87px,#4a74bf 92px,#4a74bf 99px,#487ac3 116px,#2ba6db 162px,#28aed4 177px,#28afd3 185px,#2aa8db 192px,#329bd6 204px,#4e62b2 206px,#505eb0 207px,#505bad 222px,#505daf 244px,#4c6ebb 283px,#4e63b3 307px,#4f61b2 323px,#4e63b3 342px,#4d6ab8 359px,#4a74bf 371px,#477cc4 373px,#3e8acc 374px,#3893d1 375px,#2aa7db 386px,#29abd9 389px,#28b1ce 395px,#2ab4c3 399px,#2fb6ba 401px,#30b5bc 402px,#28afd2 403px,#29b3c5 407px,#2fb6ba 409px,#4482c7 411px,#4087cb 422px,#4088cbe3 423px,#4088cb40 424px,#0000 425px);--p93:linear-gradient(90deg,#0000 43px,#339ad607 44px,#3399d5bf 45px,#3399d5 46px,#2ca4da 64px,#2ca3da 72px,#3498d5 79px,#4285c9 82px,#4977c1 88px,#4b72be 93px,#4b72be 100px,#4879c2 118px,#2ca4da 162px,#28aed4 185px,#2aa9db 191px,#319dd7 205px,#398ccd 206px,#4c64b4 207px,#505daf 208px,#505aad 223px,#505daf 246px,#4c6dbb 284px,#4f62b3 307px,#4f60b1 321px,#4e67b6 356px,#4b71bd 369px,#4977c1 371px,#4088cb 373px,#3991d1 375px,#2aa7db 387px,#28b0d0 395px,#2cb5be 401px,#28add6 403px,#2ab4c2 409px,#30aebe 410px,#4580c6 411px,#4186ca 423px,#4187cae3 424px,#4187ca32 425px,#0000 426px);--p94:linear-gradient(90deg,#0000 44px,#3498d52a 45px,#3498d4f1 46px,#3498d5 47px,#2ca4da 64px,#2ca3da 73px,#3498d5 80px,#4480c6 84px,#4977c1 88px,#4b71bd 93px,#4b71bd 100px,#4878c2 119px,#2ca4da 164px,#28add5 185px,#2aa8db 191px,#309ed7 206px,#3693d1 207px,#486cb9 208px,#505cae 209px,#5059ac 223px,#505caf 247px,#4c6dba 285px,#4f61b2 308px,#4f5fb1 321px,#4e66b6 357px,#4b70bc 368px,#4977c1 370px,#3f89cc 373px,#3b8fcf 375px,#2ba6db 387px,#29acd8 392px,#2ab4c2 401px,#2aabd6 402px,#29abd9 403px,#2ab4c3 410px,#4088c4 411px,#467ec5 412px,#4185ca 424px,#4186cae3 425px,#4186ca32 426px,#0000 427px);--p95:linear-gradient(90deg,#0000 45px,#3596d471 46px,#3596d4 47px,#2ca3da 65px,#2da3da 74px,#3498d5 81px,#3695d3 82px,#457fc6 85px,#4a75c0 89px,#4b70bc 94px,#4b70bc 101px,#4977c1 120px,#2ca3da 165px,#29acd9 178px,#29add7 186px,#2aa8db 191px,#309ed8 207px,#3399d5 208px,#4378c0 209px,#4f5daf 210px,#5059ac 224px,#505caf 248px,#4c6cba 286px,#505eb0 321px,#4f60b1 340px,#4e66b5 358px,#4c6fbc 367px,#3e8bcd 374px,#2ca5da 387px,#29abd9 392px,#29b2c8 400px,#2ab1c8 401px,#2aa7db 402px,#29acd7 405px,#29b2c9 410px,#359cc5 411px,#477cc4 412px,#4285c9 425px,#4285c9d4 426px,#4285c91c 427px,#0000 428px);--p96:linear-gradient(90deg,#0000 45px,#3696d307 46px,#3695d3bf 47px,#3695d3 48px,#2da3da 65px,#2da3da 75px,#3696d3 83px,#457fc6 86px,#4a74bf 90px,#4c6fbc 95px,#4c6fbc 103px,#4976c0 121px,#3e8bcd 144px,#2ca3da 167px,#29acd8 186px,#2aa8db 191px,#2f9fd8 208px,#319cd6 209px,#3d83c7 210px,#4d60b1 211px,#505aad 212px,#5058ac 225px,#505cae 250px,#4d6bb9 287px,#505eb0 322px,#4e64b4 357px,#4d6bb9 365px,#4089cb 374px,#2ca5da 388px,#29abd9 393px,#28b2cb 400px,#2ca4da 402px,#2aa9db 404px,#28b1cd 410px,#2badc9 411px,#477ac3 412px,#4284c9 426px,#4284c9cd 427px,#4284c91c 428px,#0000 429px);--p97:linear-gradient(90deg,#0000 46px,#3794d21c 47px,#3794d2ea 48px,#3794d2 49px,#2da2d9 66px,#2da3da 76px,#3696d3 84px,#3992d1 85px,#487ac3 88px,#4a74bf 90px,#4c6ebb 95px,#4c6ebb 104px,#4a75c0 123px,#4088cb 144px,#2ca3da 169px,#29abd9 187px,#2ca3da 196px,#2ea1d9 210px,#3691cf 211px,#4670bb 212px,#4f5bae 214px,#5058ab 225px,#4f5aad 226px,#4a64b1 227px,#4472b7 228px,#3b86bf 229px,#398cc0 231px,#3b87be 232px,#4f5bad 235px,#5058ac 236px,#4d6bb9 288px,#505daf 321px,#4f62b3 356px,#4c6cba 365px,#4186ca 374px,#2ca5da 389px,#29aada 393px,#28b1cd 400px,#2ea3d4 401px,#2ea1d9 402px,#29aada 406px,#28b1ce 411px,#3f89c5 412px,#4879c2 413px,#4383c8 427px,#4284c9cd 428px,#4284c932 429px,#0000 430px);--p98:linear-gradient(90deg,#0000 47px,#3893d147 48px,#3893d1f1 49px,#3893d2 50px,#2da2d9 67px,#2da3da 77px,#3696d3 85px,#3d8dce 87px,#477cc4 89px,#4a73be 91px,#4c6dbb 95px,#4c6cba 102px,#4a75c0 125px,#3f89cc 147px,#319cd6 163px,#2aa9db 179px,#29aada 187px,#2da2d9 198px,#2da2d9 212px,#3493d0 214px,#3d80c4 215px,#4374bd 216px,#4c61b1 218px,#5058ac 220px,#5058ab 221px,#4b63b2 223px,#4471b9 224px,#319acc 226px,#28afd3 228px,#28b1ce 233px,#2baaca 234px,#319dc5 235px,#4c62af 237px,#5058ac 238px,#4d6ab8 289px,#505daf 322px,#4f62b3 356px,#4e67b6 362px,#4a73bf 368px,#4186ca 375px,#2da3da 389px,#29aada 394px,#28afd1 399px,#29afcf 400px,#3498d4 401px,#2aa7db 406px,#28afd1 411px,#349cca 412px,#4977c1 413px,#4382c8 428px,#4383c8e3 429px,#4383c832 430px,#0000 431px);--p99:linear-gradient(90deg,#0000 48px,#3992d16a 49px,#3992d1f8 50px,#3893d1 51px,#2ea2d9 68px,#2da2d9 78px,#3992d1 87px,#4088cb 89px,#4877c1 91px,#4b70bc 93px,#4c6cba 98px,#4c6cba 107px,#4b70bc 120px,#4480c7 141px,#2ba6db 177px,#2aaadb 187px,#2ea1d9 200px,#2ca5da 216px,#2ca3d9 217px,#309bd4 218px,#3494cf 220px,#3394cf 221px,#29abd9 224px,#28b1cc 236px,#2ea5c7 237px,#398cbe 238px,#476cb3 239px,#4f5bad 240px,#5058ac 241px,#4d69b8 290px,#505caf 323px,#4f61b2 356px,#4d68b7 363px,#4a75c0 369px,#2ea1d9 389px,#2aa9db 394px,#28aed3 399px,#2da7d0ea 400px,#3b90d0f8 401px,#3596d4 402px,#2ca4da 406px,#29aada 409px,#2aacd1 412px,#4779c1 413px,#4976c0 414px,#4482c7 429px,#4383c8e3 430px,#4383c832 431px,#0000 432px);--p100:linear-gradient(90deg,#0000 49px,#3a91d080 50px,#3a91d0f8 51px,#3992d1 52px,#2ea1d9 69px,#2da2d9 79px,#3992d1 88px,#4284c9 91px,#4a74bf 93px,#4c6dbb 95px,#4d6bb9 109px,#4b6fbc 122px,#457fc6 142px,#339ad5 165px,#2ba6db 179px,#2aa8db 188px,#2ea1d9 196px,#2fa0d8 202px,#2aa9db 222px,#28b2cb 238px,#2aafca 239px,#3399c2 240px,#4571b4 241px,#4f5bac 242px,#5058ac 243px,#4d69b7 292px,#505eb0 315px,#505cae 336px,#4f5fb0 352px,#4e65b5 361px,#467dc4 373px,#2f9fd8 389px,#2aa9db 395px,#28aed5 399px,#28aed46a 400px,#3f89cc55 401px,#3c8ecfea 402px,#3695d3 403px,#2ba6db 408px,#28add6 412px,#3e8ac7 413px,#4a75c0 414px,#4878c1 421px,#4481c7 430px,#4382c7e3 431px,#4382c84e 432px,#0000 433px);--p101:linear-gradient(90deg,#0000 50px,#3b90d078 51px,#3a90d0 52px,#2fa0d8 68px,#2da2d9 79px,#3992d1 89px,#4482c7 93px,#4a73be 95px,#4d6bb9 97px,#4d6bb9 111px,#4c6ebb 122px,#467dc5 143px,#329bd6 168px,#2ba6db 181px,#2aa8db 188px,#2f9fd8 197px,#2f9fd8 205px,#2aa9db 223px,#28b2cb 240px,#2ab0c9 241px,#3499c1 242px,#476cb2 243px,#5058ac 244px,#4d68b7 293px,#505daf 316px,#505bae 337px,#505eb0 353px,#4e66b6 362px,#467cc4 374px,#329cd6 388px,#2aa8db 395px,#29add7 399px,#28aed523 400px,#0000 401px,#4087cb39 402px,#3d8dcecd 403px,#3794d2 404px,#2da3da 408px,#29abd9 412px,#329dd1 413px,#4a74bf 414px,#4976c1 421px,#4481c7 431px,#4481c7f1 432px,#4482c74e 433px,#0000 434px);--p102:linear-gradient(90deg,#0000 50px,#3b8fcf07 51px,#3b8fcf8e 52px,#3b8fcf 53px,#2f9fd8 69px,#2da2d9 80px,#3991d1 90px,#4580c6 95px,#4d6bb9 99px,#4d6ab9 116px,#467cc4 145px,#339ad6 169px,#2ba5da 182px,#2ba7db 189px,#309ed8 197px,#309ed7 205px,#2aa9db 224px,#28b2cc 240px,#28b0ce 242px,#2ca9cb 243px,#3b87bd 244px,#4f5aac 245px,#5058ac 246px,#4d67b7 294px,#505daf 316px,#505bad 337px,#505eb0 353px,#4e66b6 363px,#477cc4 375px,#3399d5 388px,#29aada 398px,#29abd9dc 399px,#0000 400px,#0000 402px,#4187ca1c 403px,#3e8ccdb1 404px,#3893d2 405px,#2da2d9 409px,#29abd9 413px,#467bc2 414px,#4a74bf 415px,#4976c0 422px,#4580c6 432px,#4481c7f1 433px,#4481c76a 434px,#4481c707 435px,#0000 436px);--p103:linear-gradient(90deg,#0000 51px,#3c8ecf07 52px,#3c8ecf8e 53px,#3c8ecf 54px,#2f9fd8 70px,#2ea2d9 81px,#3894d2 90px,#4383c8 95px,#4d69b7 103px,#4d6ab8 118px,#477cc4 147px,#339ad6 171px,#2ca5da 184px,#2ba6db 189px,#319dd7 198px,#319dd7 205px,#2aa9db 225px,#28b1ce 239px,#29add7 241px,#28b0d1 244px,#3593c3 245px,#4f5aac 246px,#5058ab 247px,#4e67b6 295px,#505daf 316px,#505aad 339px,#505daf 353px,#4e67b6 364px,#477bc4 376px,#3399d5 389px,#2aa9db 398px,#29aada9c 399px,#0000 400px,#0000 403px,#4285c90e 404px,#3d8ccd8e 405px,#3893d2f8 406px,#3498d5 407px,#2aa8db 413px,#4a73be 415px,#4a75c0 423px,#4480c7 434px,#4481c78e 435px,#4481c707 436px,#0000 437px);--p104:linear-gradient(90deg,#0000 52px,#3c8dce07 53px,#3c8dce8e 54px,#3c8ece 55px,#309ed8 71px,#2ea1d9 82px,#3893d2 91px,#4481c7 97px,#4878c2 101px,#4d6bb9 105px,#4d69b8 119px,#477bc3 148px,#3399d5 172px,#2ca3da 184px,#2ca4da 190px,#329cd6 198px,#329bd6 205px,#2f9fd8 215px,#2aa9db 226px,#28b0d1 238px,#2aa9da 240px,#28afd2 245px,#5057ab 247px,#4e67b6 296px,#505daf 315px,#505aad 340px,#505daf 354px,#4e67b6 365px,#467dc5 378px,#3399d5 390px,#2aa8db 398px,#2aa9db55 399px,#0000 400px,#0000 404px,#4383c807 405px,#3d8dce71 406px,#3992d1f8 407px,#3597d4 408px,#2ba6db 413px,#2fa0d7 414px,#4a73be 415px,#4a75bf 424px,#4580c6 435px,#4480c69c 436px,#4480c70e 437px,#0000 438px);--p105:linear-gradient(90deg,#0000 53px,#3d8dce07 54px,#3d8dce8e 55px,#3d8dce 56px,#309ed7 72px,#2ea1d9 83px,#3992d1 92px,#457ec5 99px,#4d6bb9 109px,#4d68b7 121px,#4976c0 146px,#3498d5 173px,#2da2d9 184px,#2ca4da 190px,#329ad6 198px,#339ad5 205px,#309dd7 215px,#2aa8db 227px,#28aed4 237px,#2ba6da 239px,#29aada 243px,#29acd3 246px,#4966b2 247px,#5057ab 248px,#4e67b6 298px,#505caf 315px,#505aad 343px,#505daf 355px,#4d68b7 367px,#467dc4 379px,#3597d4 390px,#2ba6db 398px,#2aa8db0e 399px,#0000 400px,#0000 406px,#3c8dce71 407px,#3991d1 408px,#2ba5da 414px,#4281c6 415px,#4b72be 416px,#4a74bf 425px,#457fc6 436px,#4580c6b1 437px,#4580c60e 438px,#0000 439px);--p106:linear-gradient(90deg,#0000 54px,#3d8ccd07 55px,#3d8ccd8e 56px,#3d8cce 57px,#309dd7 73px,#2fa0d8 84px,#3a91d1 93px,#457ec5 100px,#4c6cb9 112px,#4d68b7 122px,#4976c0 148px,#3597d4 174px,#2ea1d9 186px,#2da2d9 191px,#3498d5 199px,#3498d4 204px,#319cd6 215px,#2aa7db 227px,#28add6 236px,#29acd5 237px,#2da2d8 238px,#2da2d9 239px,#29acd8 246px,#3298cb 247px,#5057ab 248px,#505eb0 281px,#4e67b6 299px,#505caf 315px,#505aad 346px,#4f5fb1 359px,#4c6ebb 372px,#457fc5 381px,#2ca3da 397px,#2ca5dacd 398px,#0000 399px,#0000 407px,#3d8cce8e 408px,#3a91d0 409px,#2da2d9 414px,#3693d1 415px,#4b72be 416px,#4a74bf 426px,#457fc6 437px,#457fc6bf 438px,#457fc61c 439px,#0000 440px);--p107:linear-gradient(90deg,#0000 55px,#3e8bcd07 56px,#3e8bcd8e 57px,#3e8ccd 58px,#319dd7 74px,#2f9fd8 85px,#339ad6 89px,#477bc3 103px,#4d69b8 116px,#4e67b6 124px,#4a75bf 149px,#3597d4 176px,#2ea0d9 187px,#2ea1d9 192px,#3597d4 199px,#3696d3 205px,#329bd6 216px,#2ba7db 228px,#29acd9 235px,#29acd8 236px,#2fa0d7 237px,#309ed7 238px,#2aa7db 244px,#29abd9 247px,#4471b9 248px,#5057ab 249px,#505daf 282px,#4e67b6 300px,#505cae 316px,#505aad 347px,#505eb0 359px,#4c6cba 372px,#457ec5 382px,#2ea1d9 397px,#2da3da87 398px,#0000 399px,#0000 407px,#3f89cc07 408px,#3e8bcdb1 409px,#3b90d0 410px,#2fa0d8 415px,#4875c0 416px,#4b71bd 417px,#4a73bf 427px,#467ec5 438px,#457fc6cd 439px,#457fc61c 440px,#0000 441px);--p108:linear-gradient(90deg,#0000 56px,#3e8bcd07 57px,#3e8bcd8e 58px,#3e8bcd 59px,#329cd6 74px,#309fd8 86px,#3399d5 90px,#477bc3 104px,#4d68b7 118px,#4e67b6 125px,#4a74bf 150px,#3597d4 178px,#2f9fd8 188px,#309fd8 194px,#3794d2 201px,#3794d2 207px,#3399d5 216px,#2ba5db 228px,#29abda 235px,#3399d5 237px,#2aa9db 247px,#3298cf 248px,#5057ab 249px,#505caf 282px,#4e67b6 301px,#505bae 318px,#5059ad 349px,#4f5fb1 361px,#4c6fbc 375px,#467ec5 383px,#2fa0d8 397px,#2ea1d947 398px,#0000 399px,#0000 408px,#4088cb0e 409px,#3f8acccd 410px,#3c8ecf 411px,#309ed7 415px,#4b71bd 417px,#4b72be 427px,#467ec5 439px,#457ec5dc 440px,#457fc532 441px,#0000 442px);--p109:linear-gradient(90deg,#0000 57px,#3f8acc07 58px,#3f8acc78 59px,#3e8accf8 60px,#3e8ccd 61px,#329bd6 75px,#309ed7 87px,#3499d5 91px,#467cc4 104px,#4d68b7 119px,#4e66b6 126px,#4a73be 151px,#3795d3 178px,#309ed7 188px,#309ed7 194px,#3893d2 200px,#3992d1 206px,#3597d4 216px,#2aa9db 234px,#2da3d8 235px,#3794d2 236px,#2aa8db 248px,#4470b9 249px,#5057ab 250px,#505bae 282px,#4e67b6 303px,#505aad 319px,#5059ac 350px,#4f5fb0 362px,#4c6ebb 376px,#4480c6 385px,#329cd6 396px,#309ed7f8 397px,#2ea1d907 398px,#0000 399px,#0000 409px,#4186ca1c 410px,#4088cbd4 411px,#3c8dce 412px,#339ad5 415px,#3399d5 416px,#4a72be 417px,#4b71bd 418px,#4b72be 428px,#467dc5 440px,#467ec5e3 441px,#457ec54e 442px,#0000 443px);--p110:linear-gradient(90deg,#0000 59px,#3f89cc71 60px,#3f8accf1 61px,#3e8bcd 62px,#329ad6 76px,#319dd7 88px,#477cc4 105px,#4e67b7 121px,#4e66b5 127px,#4b71bd 152px,#319dd7 189px,#319dd7 195px,#3a91d0 201px,#3a90d0 207px,#3795d3 216px,#2aa7db 233px,#2ba6da 234px,#3992d0 235px,#3b8fcf 236px,#2ba6db 248px,#3395d0 249px,#5057ab 250px,#505aad 281px,#4e67b6 304px,#505aad 321px,#5059ac 351px,#4f5fb0 363px,#4c6ebb 377px,#467ec5 385px,#339ad5 396px,#329cd6b8 397px,#0000 398px,#0000 410px,#4284c932 411px,#4187cae3 412px,#3d8ccd 413px,#3499d5 416px,#4280c6 417px,#4b71bd 418px,#4b72be 429px,#467dc4 441px,#467ec5f1 442px,#467ec563 443px,#0000 444px);--p111:linear-gradient(90deg,#0000 60px,#3f89cc4e 61px,#3f89ccea 62px,#3f8acc 63px,#329ad6 78px,#319cd6 89px,#477cc4 106px,#4d67b7 122px,#4e65b5 129px,#4b71bd 153px,#4580c6 166px,#319cd6 190px,#329bd6 196px,#3b90d0 201px,#3c8ecf 207px,#3893d1 216px,#2ba6db 233px,#3992d0 234px,#3f89cc 235px,#2ca5da 249px,#4869b6 250px,#5057ab 251px,#5059ad 281px,#4e67b7 305px,#505aad 322px,#5059ac 352px,#505eb0 364px,#4c6cba 377px,#467dc5 386px,#3597d4 396px,#3399d56a 397px,#0000 398px,#0000 411px,#4383c832 412px,#4285c9e3 413px,#3e8acc 414px,#3894d2 416px,#3892d1 417px,#4b71bd 418px,#4b70bd 419px,#4b71bd 430px,#477cc4 442px,#467dc5f8 443px,#467ec587 444px,#467ec50e 445px,#0000 446px);--p112:linear-gradient(90deg,#0000 61px,#4089cb39 62px,#3f89cce3 63px,#3f8acc 64px,#3399d5 78px,#329cd6 89px,#3498d4 93px,#477bc3 107px,#4e66b6 124px,#4e65b5 130px,#4c6fbc 153px,#467dc5 166px,#3893d2 183px,#329bd6 192px,#3399d5 198px,#3d8cce 203px,#3d8ccd 208px,#3a91d0 216px,#2ca3da 232px,#3498d4 233px,#4383c8 234px,#2ea2d9 249px,#378ccc 250px,#5058ab 251px,#5059ac 281px,#4d67b7 307px,#505aad 323px,#5058ac 352px,#505daf 363px,#4d6ab9 377px,#477bc3 386px,#3795d3 396px,#3597d432 397px,#0000 398px,#0000 412px,#4480c732 413px,#4284c9cd 414px,#3f89cb 415px,#3992d1 417px,#447dc4 418px,#4b70bd 419px,#4b71bd 431px,#467dc4 444px,#467ec5bf 445px,#467ec51c 446px,#0000 447px);--p113:linear-gradient(90deg,#0000 62px,#4088cb32 63px,#4088cbe3 64px,#3f89cc 65px,#3498d5 79px,#329bd6 90px,#3596d4 94px,#477cc4 107px,#4b72bd 118px,#4e66b6 125px,#4e65b5 131px,#4c6fbc 155px,#477cc4 167px,#3893d2 185px,#339ad6 193px,#3399d5 198px,#3e8bcd 203px,#3f8acc 207px,#3c8ecf 216px,#2ea1d9 231px,#309ed7 232px,#457fc6 233px,#467ec5 234px,#3e8bcd 241px,#2ea0d8 250px,#4b62b2 251px,#5058ac 252px,#5059ac 282px,#4d68b7 308px,#5059ac 325px,#5058ac 353px,#505cae 363px,#4d69b8 377px,#4878c2 386px,#3a90d0 395px,#3893d1ea 396px,#0000 397px,#0000 413px,#4580c61c 414px,#4382c8bf 415px,#4087ca 416px,#3d8cce 417px,#3d8ccd 418px,#4b71bd 419px,#4b70bc 420px,#4b71bd 432px,#467cc4 445px,#467dc5dc 446px,#467ec539 447px,#0000 448px);--p114:linear-gradient(90deg,#0000 63px,#4088cb23 64px,#4088cbcd 65px,#4089cb 66px,#3597d4 80px,#339ad5 91px,#3695d3 95px,#477cc4 108px,#4b72bd 119px,#4e67b6 126px,#4e65b5 133px,#4c6ebb 156px,#457fc5 171px,#3498d4 192px,#3498d4 199px,#3794d2 201px,#3f89cc 204px,#4088cb 208px,#3c8dce 217px,#2f9fd8 231px,#4182c7 232px,#4976c0 233px,#4089cb 242px,#319dd7 250px,#3c83c6 251px,#5058ac 252px,#5059ac 282px,#4d68b7 310px,#505daf 319px,#5059ac 326px,#5058ac 354px,#505cae 364px,#4d68b7 378px,#4878c2 387px,#3c8dce 395px,#3b90d09c 396px,#0000 397px,#0000 414px,#457fc60e 415px,#4481c78e 416px,#4185c9f8 417px,#3e8bcd 418px,#4b70bc 420px,#4b70bd 433px,#477cc4 446px,#467dc5ea 447px,#467dc555 448px,#0000 449px);--p115:linear-gradient(90deg,#0000 64px,#4087cb1c 65px,#4087cbcd 66px,#4088cb 67px,#3597d4 82px,#3499d5 92px,#487ac3 110px,#4b72bd 120px,#4e66b5 128px,#4e65b5 135px,#4c6cba 156px,#477cc4 171px,#3597d4 193px,#3696d3 201px,#3f89cc 204px,#4186ca 208px,#3e8ccd 217px,#319dd7 230px,#309ed795 231px,#4c6dbaaa 232px,#4b70bcf8 233px,#4a73be 234px,#4089cb 244px,#3399d5 250px,#3398d4 251px,#4d5eaf 252px,#5058ac 253px,#5059ac 283px,#4d68b7 311px,#5059ac 327px,#5058ac 358px,#4d68b7 379px,#4878c2 388px,#3e8bcd 395px,#3d8dce55 396px,#0000 397px,#0000 415px,#477cc407 416px,#4480c663 417px,#4284c8ea 418px,#4186ca 419px,#4a73be 420px,#4b70bc 422px,#4b71bd 435px,#477cc4 447px,#467dc4f8 448px,#467dc578 449px,#467ec507 450px,#0000 451px);--p116:linear-gradient(90deg,#0000 65px,#4187ca1c 66px,#4187cab1 67px,#4087cb 68px,#3696d3 82px,#3498d5 92px,#3794d2 96px,#477bc3 110px,#4b72be 121px,#4e66b5 129px,#4e64b5 137px,#4c6cba 158px,#477cc4 173px,#3795d3 193px,#3795d3 202px,#4186ca 206px,#4285c9 209px,#3e8bcd 218px,#339ad5 229px,#329bd6d4 230px,#319dd70e 231px,#4d69b807 232px,#4d6bb955 233px,#4c6cbadc 234px,#4b6fbc 235px,#4284c9 244px,#3597d4 251px,#407cc3 252px,#5058ac 253px,#5059ac 284px,#4d69b7 313px,#505eb0 321px,#5059ac 329px,#5058ac 359px,#4e67b6 379px,#4a74bf 387px,#4186ca 394px,#4088cbf8 395px,#3e8ccd0e 396px,#0000 397px,#0000 417px,#457fc639 418px,#4382c8c6 419px,#457fc5 420px,#4b71bd 421px,#4b6fbc 425px,#4b71bd 436px,#467dc4 449px,#467dc5aa 450px,#467dc515 451px,#0000 452px);--p117:linear-gradient(90deg,#0000 66px,#4186ca0e 67px,#4186cab1 68px,#4187ca 69px,#3695d3 83px,#3597d4 93px,#477bc3 111px,#4b72be 122px,#4e66b5 130px,#4e64b4 138px,#4e66b6 151px,#4c6cba 160px,#477bc3 174px,#3794d2 195px,#3893d2 204px,#4285c9 207px,#4284c9 209px,#3f89cc 218px,#3596d4 228px,#3498d4f8 229px,#3399d540 230px,#0000 231px,#0000 233px,#4d68b71c 234px,#4d6ab895 235px,#4c6cbaf8 236px,#4c6fbc 237px,#457fc6 244px,#3893d2 251px,#3792d1 252px,#4f5bae 253px,#5058ac 254px,#5059ac 285px,#4d69b8 314px,#505daf 323px,#5059ac 330px,#5058ac 360px,#4e65b5 379px,#4b72be 387px,#4383c8 394px,#4185cab1 395px,#0000 396px,#0000 418px,#467ec515 419px,#4480c69c 420px,#4779c2f8 421px,#4b71bd 422px,#4b70bc 436px,#467cc4 450px,#467dc5c6 451px,#467dc532 452px,#0000 453px);--p118:linear-gradient(90deg,#0000 67px,#4186ca0e 68px,#4186caaa 69px,#4186ca 70px,#3794d2 84px,#3696d3 94px,#467dc5 110px,#4b72be 123px,#4e66b5 131px,#4e64b4 141px,#4d6bb9 160px,#4879c2 175px,#3893d2 196px,#3893d1 205px,#4186ca 208px,#4384c8 210px,#4089cb 219px,#3794d2 228px,#3696d378 229px,#0000 230px,#0000 235px,#4e66b655 236px,#4d69b8dc 237px,#4c6cba 238px,#467dc4 245px,#3a91d0 252px,#5058ac 254px,#5059ac 286px,#4d6ab8 316px,#4d68b7 319px,#505eb0 323px,#505aad 330px,#5058ac 361px,#4e65b5 380px,#4b72be 388px,#4480c7 394px,#4383c863 395px,#0000 396px,#0000 419px,#477bc307 420px,#467ec555 421px,#4977c1dc 422px,#4b72be 423px,#4b70bc 437px,#477ac3 449px,#477bc3f8 450px,#467cc4b8 451px,#467dc532 452px,#0000 453px);--p119:linear-gradient(90deg,#0000 68px,#4285c907 69px,#4285c98e 70px,#4186ca 71px,#3893d2 85px,#3695d3 94px,#467dc4 111px,#4a73be 124px,#4e65b5 132px,#4e64b4 142px,#4e66b5 154px,#4c6dba 164px,#4878c1 176px,#3f8acc 189px,#3992d1 198px,#3992d1 207px,#4284c9 210px,#4384c8 211px,#4088cb 220px,#3a91d0 227px,#3892d1b8 228px,#3795d307 229px,#0000 230px,#0000 236px,#4e64b41c 237px,#4e66b69c 238px,#4d69b8f8 239px,#4c6cba 240px,#3d8ccd 252px,#3d8acc 253px,#4f5bae 254px,#5058ac 255px,#5059ac 288px,#4d6bb9 318px,#4d68b7 321px,#505eb0 325px,#505aad 331px,#5058ac 362px,#4e65b5 381px,#467ec5 394px,#4481c715 395px,#0000 396px,#0000 421px,#477bc41c 422px,#4977c1aa 423px,#4a73bef8 424px,#4b71bd 425px,#4b70bc 437px,#4977c1 447px,#4978c1f8 448px,#4879c2b8 449px,#477ac347 450px,#477cc407 451px,#0000 452px);--p120:linear-gradient(90deg,#0000 69px,#4285c907 70px,#4285c987 71px,#4285c9f8 72px,#4186ca 73px,#3992d1 85px,#3794d2 95px,#467dc5 111px,#4a73bf 125px,#4e65b5 133px,#4e64b4 149px,#4b71bd 171px,#3a91d0 198px,#3991d1f8 199px,#3892d1a3 201px,#3893d26a 203px,#3992d16a 207px,#3992d187 208px,#3d8ccddc 210px,#4087caf8 211px,#4285c9 212px,#4186ca 219px,#3c8dce 226px,#3b8fcfcd 227px,#3a91d015 228px,#0000 229px,#0000 230px,#0000 237px,#4f60b207 238px,#4e64b455 239px,#4e66b6dc 240px,#4d69b8 241px,#3f8acc 253px,#5058ac 255px,#5059ac 289px,#4c6cba 320px,#4d69b8 323px,#505eb0 326px,#5059ad 333px,#5058ac 365px,#4e64b4 381px,#4879c2 393px,#477bc3b8 394px,#0000 395px,#0000 422px,#477bc307 423px,#4977c163 424px,#4a74bfd4 425px,#4b72be 426px,#4b70bc 436px,#4a74bf 445px,#4a75c0f8 446px,#4976c0b8 447px,#4977c147 448px,#4878c207 449px,#0000 450px);--p121:linear-gradient(90deg,#0000 71px,#4284c955 72px,#4285c9f1 73px,#4186ca 74px,#3a91d0 86px,#3893d1 96px,#477cc4 113px,#4a73bf 127px,#4e65b5 134px,#4e63b4 150px,#4e65b5 158px,#4b70bd 173px,#3d8dce 196px,#3c8ecff8 197px,#3b8fcfb8 198px,#3a90d047 199px,#3991d10e 200px,#0000 201px,#0000 209px,#3a90d01c 210px,#3c8dce47 211px,#3f8acc95 212px,#4187cadc 213px,#4186ca 214px,#3f8acc 225px,#3e8ccdc6 226px,#3c8ece1c 227px,#0000 228px,#0000 239px,#4f62b31c 240px,#4e64b49c 241px,#4e67b6f8 242px,#4d6ab8 243px,#4285c9 253px,#4184c8 254px,#4f5bad 255px,#5058ac 256px,#5059ac 291px,#4c6dba 322px,#4c6cba 324px,#505daf 328px,#505aad 333px,#5058ac 364px,#4f63b3 381px,#4976c1 393px,#4879c25c 394px,#0000 395px,#0000 424px,#4977c115 425px,#4a74bf6a 426px,#4a73bed4 427px,#4b72be 428px,#4b72be 443px,#4a73bee3 444px,#4a73bfb1 445px,#4a74bf47 446px,#4a75c007 447px,#0000 448px);--p122:linear-gradient(90deg,#0000 72px,#4284c94e 73px,#4284c9e3 74px,#4285c9 75px,#3a90d0 87px,#3992d1 96px,#477cc4 113px,#4a74bf 129px,#4e64b5 136px,#4e63b4 151px,#4c6fbb 173px,#3f8acc 195px,#3e8bcdea 196px,#3d8dce63 197px,#3c8ecf07 198px,#0000 199px,#0000 202px,#0000 212px,#3d8ccd1c 213px,#3f89cc5c 214px,#4088cbb1 215px,#4187cadc 216px,#4186caf8 217px,#4186ca 218px,#4187ca 223px,#4088cbea 224px,#3f89cc95 225px,#3e8bcd15 226px,#0000 227px,#0000 231px,#0000 240px,#4f5fb107 241px,#4f62b355 242px,#4e64b4dc 243px,#4d67b7 244px,#4383c8 254px,#5058ac 256px,#5059ac 292px,#4c6ebb 323px,#4c6cba 326px,#505daf 330px,#505aad 335px,#5058ac 367px,#4f61b2 381px,#4b72be 392px,#4a74bff1 393px,#4977c10e 394px,#0000 395px,#0000 426px,#4a74bf15 427px,#4b71bdbf 430px,#4b71bdd4 431px,#4b70bdd4 438px,#4b71bdc6 439px,#4b71bdbf 440px,#4b71bda3 441px,#4b72be23 444px,#0000 445px);--p123:linear-gradient(90deg,#0000 73px,#4384c832 74px,#4284c8dc 75px,#4284c9 76px,#3b8fcf 88px,#3a91d0 97px,#477bc4 114px,#4a75c0 130px,#4e65b5 137px,#4e63b3 152px,#4c6ebb 174px,#4187ca 194px,#4088cbdc 195px,#3f8acc39 196px,#0000 197px,#0000 203px,#0000 215px,#4088cb39 217px,#4187ca5c 218px,#4186ca87 219px,#4186ca95 220px,#4186ca95 222px,#4187ca6a 223px,#4087cb2a 224px,#0000 225px,#0000 242px,#4f61b21c 243px,#4e63b395 244px,#4e65b5f8 245px,#4d68b7 246px,#457fc5 255px,#4f5cae 256px,#5058ac 257px,#5059ac 293px,#4c6ebb 325px,#4c6cba 328px,#505daf 332px,#505aad 336px,#5058ac 366px,#4f5fb1 380px,#4b70bd 392px,#4b72be9c 393px,#0000 394px,#0000 430px,#4b71bd15 431px,#4b71bd15 438px,#4b71bd07 439px,#0000 440px);--p124:linear-gradient(90deg,#0000 74px,#4383c81c 75px,#4383c8c6 76px,#4284c9 77px,#3b90d0 92px,#3a90d0f1 93px,#3a90d0dc 94px,#3a90d0d4 95px,#3a90d0bf 96px,#3a90d0c6 97px,#3b90d0d4 98px,#3b8fcff1 99px,#3c8ece 100px,#477bc3 115px,#4976c0 131px,#4b70bc 135px,#4e64b4 139px,#4e63b3 143px,#4e63b4 158px,#4d6ab8 171px,#4284c9 193px,#4285c9cd 194px,#4187ca1c 195px,#0000 196px,#0000 198px,#0000 244px,#4f62b347 245px,#4e63b4d4 246px,#4e66b6 247px,#477cc4 255px,#4a6ebb 256px,#5058ac 257px,#5059ac 294px,#4c6fbc 327px,#4d6bb9 330px,#4f5eb0 333px,#5059ad 338px,#5058ac 369px,#4f60b2 382px,#4c6ebb 392px,#4b70bd32 393px,#0000 394px);--p125:linear-gradient(90deg,#0000 75px,#4383c815 76px,#4383c8b1 77px,#4384c8 78px,#3d8cce 88px,#3d8dcef8 89px,#3c8ececd 90px,#3c8ecf87 91px,#3b8fcf4e 92px,#3b8fd032 93px,#3b90d01c 94px,#3a90d015 95px,#0000 96px,#3a90d007 97px,#3b90d015 98px,#3b8fcf32 99px,#3c8ece5c 100px,#3d8cceb8 101px,#3e8bcdea 102px,#4089cb 103px,#487ac3 116px,#4977c1 132px,#4b70bc 137px,#4e64b5 141px,#4f63b3 145px,#4f63b3 159px,#4d68b7 171px,#4480c6 192px,#4482c7cd 193px,#4284c91c 194px,#0000 195px,#0000 200px,#0000 245px,#4f61b215 246px,#4f62b395 247px,#4e64b4f8 248px,#4e67b7 249px,#4879c2 256px,#4f5daf 257px,#5059ac 258px,#5059ac 295px,#4b6fbc 328px,#4c6dba 331px,#505eb0 335px,#505aad 339px,#5058ac 365px,#505caf 378px,#4d6bb9 391px,#4c6dbab8 392px,#0000 393px);--p126:linear-gradient(90deg,#0000 76px,#4383c80e 77px,#4383c88e 78px,#4383c8f8 79px,#4284c9 80px,#3f89cc 86px,#3f8accd4 87px,#3e8bcd95 88px,#3d8cce39 89px,#3c8dce0e 90px,#0000 91px,#0000 100px,#3d8ccd07 101px,#3e8bcd2a 102px,#3f89cc95 103px,#4187caea 104px,#4285c9 105px,#4879c2 117px,#4977c1 133px,#4b6fbc 139px,#4e65b5 143px,#4f62b3 148px,#4f63b3 161px,#4d67b7 172px,#467dc4 191px,#467ec5d4 192px,#4480c71c 193px,#0000 194px,#0000 220px,#0000 247px,#4f61b247 248px,#4f63b3d4 249px,#4e65b5 250px,#4a75c0 256px,#4b6dba 257px,#5059ac 258px,#5058ac 292px,#4c6fbc 327px,#4b6fbce3 328px,#4b70bcd4 329px,#4b6fbcbf 330px,#4c6fbcd4 331px,#4c6ebbe3 332px,#4d6bb9 333px,#505eb0 337px,#5058ab 348px,#5059ac 374px,#4d69b8 391px,#4d6bb94e 392px,#0000 393px);--p127:linear-gradient(90deg,#0000 77px,#4382c807 78px,#4382c871 79px,#4383c8f1 80px,#4384c8 81px,#4186ca 84px,#4087cbd4 85px,#4088cb6a 86px,#3f8acc15 87px,#0000 88px,#0000 91px,#0000 103px,#4087cb2a 104px,#4285c995 105px,#4383c8ea 106px,#4482c7 107px,#4878c2 118px,#4878c2 134px,#4c6ebb 141px,#4e65b5 145px,#4f62b3 150px,#4e66b5 171px,#4879c2 190px,#477bc3e3 191px,#467dc432 192px,#0000 193px,#0000 212px,#0000 248px,#4f60b215 249px,#4f61b295 250px,#4e63b4f8 251px,#4e66b6 252px,#4a73be 257px,#4f5fb1 258px,#5059ac 259px,#5058ac 288px,#505bae 299px,#4c6cba 324px,#4c6dbbea 325px,#4c6ebba3 326px,#4c6fbc4e 327px,#4b6fbc23 328px,#4b70bc15 329px,#0000 330px,#4b6fbc15 331px,#4c6fbc23 332px,#4c6ebb4e 333px,#4c6cbaa3 334px,#4d68b7ea 335px,#4e64b4 336px,#505eb0 338px,#5059ac 344px,#5058ab 365px,#505bae 378px,#4e67b6 390px,#4d68b7bf 391px,#0000 392px);--p128:linear-gradient(90deg,#0000 79px,#4382c84e 80px,#4382c8ea 81px,#4383c8 82px,#4284c9d4 83px,#4285c96a 84px,#4187ca15 85px,#0000 86px,#0000 104px,#0000 105px,#4383c82a 106px,#4482c795 107px,#4580c6ea 108px,#457ec5 109px,#4977c1 120px,#4879c2 135px,#4e64b5 147px,#4f62b3 152px,#4e65b5 172px,#4976c0 189px,#4977c1f1 190px,#4879c232 191px,#0000 192px,#0000 209px,#0000 250px,#4f60b247 251px,#4f62b3c6 252px,#4e64b5 253px,#4c6ebb 257px,#4c6dba 258px,#505aad 259px,#5058ac 260px,#5058ac 285px,#505caf 301px,#4d6ab8 322px,#4d6bb9ea 323px,#4c6cba95 324px,#4c6dba2a 325px,#0000 326px,#0000 334px,#4d6bb92a 335px,#4d69b895 336px,#4e65b5ea 337px,#4f61b2 338px,#5058ac 347px,#5058ab 367px,#505bae 379px,#4e65b5 390px,#4e67b639 391px,#0000 392px);--p129:linear-gradient(90deg,#0000 80px,#4482c739 81px,#4382c84e 82px,#4383c815 83px,#0000 84px,#0000 107px,#4580c62a 108px,#457ec595 109px,#467dc4d4 110px,#477cc4 111px,#4976c0 121px,#4879c2 132px,#487ac2f1 133px,#487ac3ea 134px,#4879c2ea 136px,#4878c2f1 137px,#4977c1 138px,#4e64b4 149px,#4f62b3 154px,#4e64b4 172px,#4a73be 188px,#4a74bff1 189px,#4976c04e 190px,#0000 191px,#0000 202px,#0000 251px,#4f5fb115 252px,#4f61b287 253px,#4f63b3ea 254px,#4e65b5 255px,#4c6dba 258px,#5058ac 260px,#5058ab 280px,#505cae 301px,#4d68b7 321px,#4d69b8b8 322px,#4d6ab839 323px,#0000 324px,#0000 336px,#4d68b72a 337px,#4e66b5b8 338px,#4f62b3f8 339px,#4f5fb1 340px,#5058ac 348px,#5058ab 365px,#505aad 378px,#4f63b3 389px,#4e64b4aa 390px,#0000 391px);--p130:linear-gradient(90deg,#0000 109px,#467dc415 110px,#477bc387 112px,#487ac3c6 113px,#4879c2e3 114px,#4878c2f8 115px,#4978c1 116px,#4977c1 127px,#4977c1f1 128px,#4978c1dc 129px,#4878c2b1 130px,#4879c278 131px,#4879c24e 132px,#487ac232 133px,#487ac32a 134px,#487ac22a 136px,#4879c232 137px,#4878c25c 138px,#4977c1a3 139px,#4a75c0d4 140px,#4a74bff8 141px,#4b72be 142px,#4e63b4 151px,#4f62b3 157px,#4e63b4 172px,#4b70bc 187px,#4b71bdf8 188px,#4a73be6a 189px,#0000 190px,#0000 253px,#4f60b139 254px,#4f61b2b8 255px,#4e63b4f8 256px,#4e66b6 257px,#4d6ab8 259px,#4f5cae 260px,#5058ac 261px,#5057ab 275px,#505bad 298px,#4e65b5 319px,#4e66b6ea 320px,#4d68b707 322px,#0000 323px,#0000 337px,#4e67b707 338px,#4e65b555 339px,#4f63b3d4 340px,#4f60b1 341px,#5059ac 348px,#5057ab 356px,#5059ac 377px,#4f60b2 388px,#4f62b3ea 389px,#4e63b315 390px,#0000 391px);--p131:linear-gradient(90deg,#0000 112px,#4879c207 113px,#4879c223 114px,#4878c139 115px,#4977c16a 116px,#4977c195 117px,#4976c0b1 118px,#4976c0c6 119px,#4975c0d4 120px,#4a75c0d4 123px,#4a75c0cd 124px,#4975c0bf 125px,#4976c095 126px,#4976c05c 127px,#4977c132 128px,#4977c11c 129px,#0000 130px,#0000 139px,#4976c015 140px,#4a75bf47 141px,#4a73bfa3 142px,#4b72bdea 143px,#4b70bc 144px,#4e64b4 152px,#4f62b3 157px,#4e63b3 172px,#4c6dbb 186px,#4c6fbbf8 187px,#4b70bc71 188px,#0000 189px,#0000 254px,#4f5fb107 255px,#4f60b163 256px,#4f62b3d4 257px,#4e64b4 258px,#4e66b5 260px,#5059ad 261px,#5058ac 262px,#5057ab 277px,#505bae 300px,#4e64b4 318px,#4e65b5c6 319px,#4e66b539 320px,#0000 321px,#0000 339px,#4e64b515 340px,#4f62b387 341px,#4f61b2ea 342px,#4f5fb0 343px,#5058ac 350px,#5057ab 357px,#5059ac 377px,#4f5fb0 387px,#4f5fb1f8 388px,#4f61b255 389px,#0000 390px);--p132:linear-gradient(90deg,#0000 118px,#4976c007 119px,#4a75c015 120px,#4a75c015 123px,#4a75c00e 124px,#0000 125px,#0000 142px,#4b72be2a 143px,#4b71bd6a 144px,#4b70bcd4 145px,#4c6ebbf8 146px,#4c6dba 147px,#4e63b3 154px,#4f62b3 159px,#4f63b3 173px,#4d6bb9 185px,#4c6cbaf8 186px,#4c6dbb71 187px,#0000 188px,#0000 196px,#0000 256px,#4f5fb115 257px,#4f60b187 258px,#4f62b3ea 259px,#4e64b5 260px,#4e62b3 261px,#5059ac 262px,#5057ab 275px,#5059ac 294px,#4f62b3 316px,#4f62b3f8 317px,#4e64b415 319px,#0000 320px,#0000 341px,#4f62b32a 342px,#4f60b295 343px,#4f5fb1ea 344px,#505eb0 345px,#5057ab 358px,#5059ac 378px,#505eb0 387px,#4f5fb078 388px,#0000 389px);--p133:linear-gradient(90deg,#0000 144px,#4b70bc15 145px,#4c6fbc47 146px,#4c6ebba3 147px,#4c6cbae3 148px,#4d6bb9 149px,#4f62b3 159px,#4f62b3 173px,#4d69b8 184px,#4d6ab8f1 185px,#4d6bb963 186px,#0000 187px,#0000 190px,#0000 258px,#4f5fb12a 259px,#4f61b295 260px,#4f62b3f8 261px,#4f5fb1 262px,#5059ac 263px,#5058ac 264px,#5056aa 280px,#4f60b1 315px,#4f61b2d4 316px,#4f62b347 317px,#0000 318px,#0000 343px,#4f60b12a 344px,#4f5fb195 345px,#505eb0dc 346px,#505daf 347px,#5057ab 358px,#505bae 385px,#505caef8 386px,#505daf87 387px,#505eb007 388px,#0000 389px);--p134:linear-gradient(90deg,#0000 147px,#4c6dba23 148px,#4c6cba5c 149px,#4d6bb9b1 150px,#4d6ab8e3 151px,#4d68b7 152px,#4f62b3 161px,#4f62b3 174px,#4e67b6 183px,#4d68b7c6 184px,#4d69b840 185px,#0000 186px,#0000 190px,#0000 260px,#4f5fb147 261px,#4f61b2b8 262px,#4f5eb0f8 263px,#5059ad 264px,#5056aa 284px,#505eb0 313px,#4f5fb0ea 314px,#4f5fb195 315px,#4f60b215 316px,#0000 317px,#0000 345px,#4f5eb01c 346px,#505eb05c 347px,#505dafb8 348px,#505caee3 349px,#505bae 350px,#5057ab 360px,#505aad 384px,#505baed4 385px,#505cae55 386px,#0000 387px);--p135:linear-gradient(90deg,#0000 150px,#4d6ab823 151px,#4d69b85c 152px,#4d68b7b1 153px,#4e67b6ea 154px,#4e66b5 155px,#4f62b3 163px,#4e65b5 181px,#4e66b5d4 182px,#4e67b66a 183px,#4d67b715 184px,#0000 185px,#0000 192px,#0000 261px,#4f5fb007 262px,#4f60b147 263px,#505dafc6 264px,#505aad 265px,#5056aa 283px,#505daf 311px,#505daff1 312px,#505eb0b8 313px,#505eb02a 314px,#0000 315px,#0000 347px,#505daf07 348px,#505caf23 349px,#505cae5c 350px,#505baeb1 351px,#505aade3 352px,#5059ad 353px,#5057ab 361px,#5059ac 380px,#5059acf1 381px,#5059acdc 382px,#5059ada3 383px,#505aad4e 384px,#505aad15 385px,#0000 386px);--p136:linear-gradient(90deg,#0000 153px,#4e67b72a 154px,#4e66b66a 155px,#4e65b5b1 156px,#4e64b5e3 157px,#4e64b4 158px,#4e63b4 178px,#4e64b4e3 179px,#4e64b4b8 180px,#4e65b56a 181px,#4e65b515 182px,#0000 183px,#0000 198px,#0000 263px,#4f5eb015 264px,#505daf6a 265px,#505baee3 266px,#5059ad 267px,#5056aa 283px,#505bae 309px,#505caedc 310px,#505caf95 311px,#505daf32 312px,#505daf07 313px,#0000 314px,#0000 351px,#505bad23 352px,#505aad4e 353px,#5059aca3 354px,#5059accd 355px,#5058acf1 356px,#5058ab 357px,#5057ab 374px,#5058abe3 376px,#5058abcd 377px,#5058abb1 378px,#5059ac32 381px,#5059ac1c 382px,#0000 383px);--p137:linear-gradient(90deg,#0000 156px,#4e65b523 157px,#4e64b44e 158px,#4e63b4bf 160px,#4f62b3ea 162px,#4f62b3ea 163px,#4f62b3f8 164px,#4f62b3 165px,#4f62b3ea 166px,#4f62b3ea 169px,#4f62b3dc 170px,#4f62b3d4 171px,#4f62b3d4 172px,#4f62b3b1 175px,#4f63b395 176px,#4f63b36a 177px,#4e63b44e 178px,#4e63b423 179px,#4e64b407 180px,#0000 181px,#0000 265px,#505daf23 266px,#505bae95 267px,#505aadea 268px,#5059ac 269px,#5055aa 283px,#5059ad 305px,#505aadf8 306px,#505aadd4 307px,#505aada3 308px,#505bae4e 309px,#505bae1c 310px,#0000 311px,#0000 354px,#5059ac0e 355px,#5058ac32 356px,#5057ab87 358px,#5057abbf 359px,#5057abcd 360px,#5057abd4 361px,#5056aaea 362px,#5056aaea 365px,#5056aadc 366px,#5056aad4 367px,#5056aad4 368px,#5057aabf 369px,#5057abbf 370px,#5057ab95 371px,#5057ab87 372px,#5057ab32 375px,#0000 378px);--p138:linear-gradient(90deg,#0000 160px,#4f63b32a 162px,#4f62b32a 163px,#4f62b339 164px,#4f62b340 165px,#4f62b32a 166px,#4f62b32a 169px,#4f62b31c 170px,#4f62b315 171px,#4f62b315 172px,#4f62b307 173px,#0000 174px,#0000 267px,#505bae2a 268px,#505aad95 269px,#5059addc 270px,#5059ac 271px,#5055a9 284px,#5058ac 302px,#5059acc6 304px,#5059ac78 305px,#5059ad39 306px,#505aad15 307px,#0000 308px,#0000 359px,#5057ab0e 360px,#5057ab15 361px,#5056aa2a 362px,#5056aa2a 365px,#5056aa1c 366px,#5056aa15 367px,#5056aa15 368px,#0000 369px);--p139:linear-gradient(90deg,#0000 269px,#505aad1c 270px,#5059ad4e 271px,#5059aca3 272px,#5058accd 273px,#5058abf1 274px,#5057ab 275px,#5056aa 297px,#5057abf8 298px,#5057abe3 299px,#5057abc6 300px,#5057ab87 301px,#5058ab4e 302px,#5058ac23 303px,#5058ac07 304px,#0000 305px);--p140:linear-gradient(90deg,#0000 272px,#5058ac0e 273px,#5058ac32 274px,#5057ab87 276px,#5057abbf 277px,#5056aa 280px,#5055aa 292px,#5055aaf1 293px,#5056aac6 295px,#5056aaa3 296px,#5056aa78 297px,#5056aa39 298px,#5057ab23 299px,#5057ab07 300px,#0000 301px);--p141:linear-gradient(90deg,#0000 277px,#5056aa40 280px,#5055aa5c 281px,#5055aa6a 282px,#5055a987 283px,#5055a995 284px,#5055a995 289px,#5055a96a 290px,#5055a96a 291px,#5055a940 292px,#5055aa32 293px,#5055aa07 295px,#0000 296px);--q12:linear-gradient(90deg,#0000 60px,#f2e73907 61px,#f2e83923 62px,#f2e8394e 63px,#f2e8396a 64px,#f1e83995 65px,#f1e83978 66px,#f2e8396a 67px,#f2e83939 68px,#f2e73915 69px,#0000 70px);--q13:linear-gradient(90deg,#0000 58px,#f3e43815 59px,#f3e5386a 60px,#f2e739b8 61px,#f2e739e3 62px,#f2e739 63px,#f2e839 67px,#f2e739f8 68px,#f2e739d4 69px,#f3e63995 70px,#f3e5382a 71px,#0000 72px);--q14:linear-gradient(90deg,#0000 56px,#f5e03807 57px,#f4e33855 58px,#f3e438d4 59px,#f3e538 60px,#f3e538 70px,#f3e438ea 71px,#f4e33895 72px,#f4e13823 73px,#0000 74px);--q15:linear-gradient(90deg,#0000 55px,#f6de381c 56px,#f5e038aa 57px,#f4e238f8 58px,#f4e338 59px,#f4e238 72px,#f5e138e3 73px,#f5df3863 74px,#f7db3907 75px,#0000 76px);--q16:linear-gradient(90deg,#0000 54px,#f7d93a39 55px,#f6dd38dc 56px,#f5df38 57px,#f5e138 71px,#f5df38 73px,#f6de38f8 74px,#f7db399c 75px,#f8d83a0e 76px,#0000 77px);--q17:linear-gradient(90deg,#0000 53px,#f9d43b4e 54px,#f8d83aea 55px,#f7db39 56px,#f5df38 65px,#f7da39 75px,#f8d63bbf 76px,#f9d33c1c 77px,#0000 78px);--q18:linear-gradient(90deg,#0000 52px,#face3e4e 53px,#f9d23cf1 54px,#f9d53b 55px,#f7db39 64px,#f9d43b 76px,#fad13ccd 77px,#facd3e23 78px,#0000 79px);--q19:linear-gradient(90deg,#0000 51px,#fac8404e 52px,#facc3ef1 53px,#facf3d 54px,#f8d63b 64px,#f9d43b 72px,#face3e 77px,#facb3fe3 78px,#fac74032 79px,#0000 80px);--q20:linear-gradient(90deg,#0000 50px,#fac0434e 51px,#fac541f1 52px,#fac93f 53px,#fad03d 60px,#fad13d 66px,#facd3e 74px,#fac840 78px,#fac441e3 79px,#fac04332 80px,#0000 81px);--q21:linear-gradient(90deg,#0000 49px,#fabb4532 50px,#fabe44f1 51px,#fac242 52px,#faca3f 58px,#facc3f 65px,#fac840 74px,#fac143 79px,#fabe44e3 80px,#fabb4532 81px,#0000 82px);--q22:linear-gradient(90deg,#0000 48px,#f9ba471c 49px,#faba46e3 50px,#fabc45 51px,#fac342 57px,#fac641 64px,#fac342 73px,#fabb45 80px,#faba46e3 81px,#f9ba4632 82px,#0000 83px);--q23:linear-gradient(90deg,#0000 47px,#f4bc470e 48px,#f8bb47cd 49px,#faba46 50px,#fac043 63px,#f9ba46 81px,#f8bb47e3 82px,#f4bc472a 83px,#0000 84px);--q24:linear-gradient(90deg,#0000 46px,#ebbd4807 47px,#f1bc47b1 48px,#f6bb47 49px,#faba46 54px,#fabb46 72px,#f5bb47 82px,#f2bc47cd 83px,#ebbd481c 84px,#0000 85px);--q25:linear-gradient(90deg,#0000 46px,#e9be488e 47px,#eebd47 48px,#f8bb47 54px,#faba46 63px,#f7bb47 77px,#eebd47 83px,#eabe48bf 84px,#e3bf490e 85px,#0000 86px);--q26:linear-gradient(90deg,#0000 45px,#dfbf4971 46px,#e6be48 47px,#f3bc47 53px,#f7bb47 63px,#f2bc47 77px,#e6be48 84px,#e0bf49a3 85px,#d5c14b07 86px,#0000 87px,#0000 190px,#f0ea3c1c 191px,#f0ea3c23 192px,#f0ea3c07 193px,#0000 194px);--q27:linear-gradient(90deg,#0000 44px,#d1c14b4e 45px,#dbc04af8 46px,#e1bf49 47px,#ebbd48 51px,#efbd47 55px,#f1bc47 67px,#e9be48 80px,#e4bf49 83px,#dcc04a 85px,#d3c14b87 86px,#0000 87px,#0000 188px,#f1e93a47 189px,#f0ea3bb1 190px,#f0ea3cdc 191px,#f0ea3ce3 192px,#f0ea3cb8 193px,#f0ea3c55 194px,#f0ea3c07 195px,#0000 196px);--q28:linear-gradient(90deg,#0000 43px,#c2c24e47 44px,#cdc24cf1 45px,#d5c14b 46px,#dec049 48px,#e5bf48 51px,#ebbd48 63px,#e5be48 78px,#dfbf49 82px,#d5c14b 85px,#cfc14cf8 86px,#c5c24e5c 87px,#0000 88px,#0000 94px,#0000 186px,#f3e5380e 187px,#f2e73995 188px,#f1e93af8 189px,#f1e93a 190px,#f0ea3c 193px,#f0ea3cf8 194px,#f0ea3c9c 195px,#f0ea3c0e 196px,#0000 197px);--q29:linear-gradient(90deg,#0000 42px,#b2c25432 43px,#bec24fea 44px,#c7c24d 45px,#d2c14b 47px,#dbc04a 50px,#e4bf48 61px,#dec049 77px,#d4c14b 83px,#c8c24d 86px,#c1c24ff1 87px,#b6c25240 88px,#0000 89px,#0000 95px,#0000 185px,#f5e0381c 186px,#f4e338bf 187px,#f3e639 188px,#f0ea3c 195px,#f0ea3cbf 196px,#f0ea3c1c 197px,#0000 198px);--q30:linear-gradient(90deg,#0000 41px,#a2c25c1c 42px,#aec256e3 43px,#b9c251 44px,#c9c24d 47px,#d3c14b 51px,#dcc04a 62px,#d9c04a 72px,#d3c14b 78px,#cac24d 83px,#bbc251 87px,#b1c254e3 88px,#a5c25a1c 89px,#0000 90px,#0000 97px,#0000 184px,#f8d93a40 185px,#f6df38dc 186px,#f4e238 187px,#f0ea3c 196px,#f0ea3cdc 197px,#f0ea3c32 198px,#0000 199px);--q31:linear-gradient(90deg,#0000 40px,#91c26515 41px,#9ec25ecd 42px,#a9c258 43px,#bbc250 46px,#c9c24d 51px,#d1c14b 63px,#cdc24c 74px,#c6c24d 80px,#bac251 85px,#acc257 88px,#a2c25cbf 89px,#94c2630e 90px,#0000 91px,#0000 104px,#0000 183px,#fad03d4e 184px,#f8d73af1 185px,#f6dd39 186px,#f5e038 187px,#f0ea3b 197px,#f0ea3ce3 198px,#f0ea3b40 199px,#0000 200px);--q32:linear-gradient(90deg,#0000 39px,#7fc1700e 40px,#8dc267b8 41px,#98c261 42px,#adc256 45px,#bcc250 49px,#c6c24d 62px,#c3c24e 73px,#bdc250 79px,#b0c255 85px,#9cc25f 89px,#91c265a3 90px,#7fc17007 91px,#0000 92px,#0000 182px,#fac84047 183px,#face3ef1 184px,#f9d43b 185px,#f5df38 188px,#f1e93a 196px,#f1ea3b 198px,#f1ea3bf1 199px,#f1e93a4e 200px,#0000 201px,#0000 382px,#339ad62a 384px,#2fa0d82a 386px,#2da2d91c 387px,#2ca4da07 388px,#0000 389px);--q33:linear-gradient(90deg,#0000 38px,#6cbf7d0e 39px,#7ac074b1 40px,#87c16b 41px,#9ec25e 44px,#b1c254 49px,#bbc251 59px,#bbc250 64px,#b5c253 76px,#aec256 81px,#a2c25c 86px,#94c263 89px,#8cc268 90px,#7fc17078 91px,#0000 92px,#0000 181px,#fabd442a 182px,#fac441ea 183px,#facb3f 184px,#f9d53b 186px,#f5e038 190px,#f1e93a 199px,#f1e93af1 200px,#f1e8394e 201px,#0000 202px,#0000 377px,#477cc407 378px,#4481c723 379px,#4187ca4e 380px,#3a91d0bf 382px,#3399d5ea 384px,#2f9fd8ea 386px,#2ea2d9dc 387px,#2ca3dab8 388px,#2ba5da78 389px,#2ba6db2a 390px,#0000 391px);--q34:linear-gradient(90deg,#0000 37px,#5dbd880e 38px,#69be80b1 39px,#76c077 40px,#8ec267 43px,#a3c25b 48px,#abc257 53px,#afc255 60px,#afc255 67px,#a6c25a 79px,#96c262 86px,#84c16d 90px,#7bc073f8 91px,#6ebf7c4e 92px,#0000 93px,#0000 104px,#0000 180px,#f9ba460e 181px,#fabc45bf 182px,#fac143 183px,#facc3e 185px,#f6dc39 190px,#f2e839 200px,#f2e839f1 201px,#f2e73932 202px,#0000 203px,#0000 360px,#5052a707 361px,#5053a832 363px,#5054a840 364px,#5055aa07 366px,#0000 367px,#0000 374px,#4b71bd39 376px,#477cc4b8 378px,#4482c7e3 379px,#4187ca 380px,#3498d4 384px,#2ca4da 389px,#2ba5dbea 390px,#2ba6db95 391px,#2ba7db15 392px,#0000 393px);--q35:linear-gradient(90deg,#0000 36px,#52bc9007 37px,#5cbd8995 38px,#66be82 39px,#84c16d 43px,#98c261 48px,#9fc25d 52px,#a3c25b 63px,#9ec25e 75px,#96c262 81px,#87c16b 87px,#74c078 91px,#6abe7ff1 92px,#5fbd8732 93px,#0000 94px,#0000 180px,#f8ba478e 181px,#faba46 182px,#facb3f 186px,#f6dd38 192px,#f2e739 201px,#f2e639d4 202px,#f3e5380e 203px,#0000 204px,#0000 211px,#0000 352px,#5050a607 353px,#5051a740 357px,#5051a76a 358px,#5052a787 359px,#5052a7b1 360px,#5054a9f1 363px,#5055a9 364px,#5057abc6 366px,#5058aca3 367px,#505aad78 368px,#505cae6a 369px,#4f63b36a 372px,#4e66b695 373px,#4d6ab8b1 374px,#4c6ebbdc 375px,#4a73bef8 376px,#4978c1 377px,#3696d3 384px,#2ba5da 391px,#2ba6dbc6 392px,#2ba6db40 393px,#0000 394px);--q36:linear-gradient(90deg,#0000 35px,#47ba9907 36px,#4fbc928e 37px,#59bd8b 38px,#79c074 43px,#8ec266 49px,#97c262 62px,#93c264 73px,#8bc268 80px,#7cc073 87px,#65be83 92px,#5dbd89d4 93px,#51bc911c 94px,#0000 95px,#0000 134px,#0000 179px,#efbd4755 180px,#f6bb47f8 181px,#f9ba46 182px,#fabb45 183px,#f6de38 194px,#f3e538 202px,#f3e438a3 203px,#0000 204px,#0000 212px,#0000 338px,#504fa507 339px,#504fa515 340px,#504fa515 342px,#504fa523 343px,#504fa52a 344px,#504fa52a 345px,#504fa540 346px,#504fa640 347px,#504fa65c 348px,#5050a66a 349px,#5050a687 350px,#5050a695 351px,#5050a6bf 352px,#5050a6c6 353px,#5052a7 357px,#5057ab 365px,#4f60b1 370px,#4a75bf 376px,#3894d2 384px,#2ca4da 392px,#2ba5dbf1 393px,#2ba6db40 394px,#0000 395px);--q37:linear-gradient(90deg,#0000 34px,#3eb9a30e 35px,#44ba9caa 36px,#4dbb94 37px,#6fbf7c 43px,#83c16e 49px,#8ac169 60px,#89c16a 68px,#7dc072 81px,#6dbf7d 88px,#59bd8b 93px,#50bc91bf 94px,#47ba990e 95px,#0000 96px,#0000 100px,#0000 178px,#e2bf4915 179px,#ebbd48ea 180px,#f2bc47 181px,#fabb46 184px,#f7da39 194px,#f5e138 198px,#f4e338 203px,#f4e23855 204px,#0000 205px,#0000 213px,#0000 307px,#5050a615 308px,#5050a615 310px,#5050a61c 311px,#5050a62a 312px,#5050a62a 315px,#5050a640 316px,#5050a640 320px,#5050a64e 321px,#5050a66a 322px,#5050a66a 327px,#5050a678 328px,#5050a695 329px,#504fa695 334px,#504fa6bf 335px,#504fa6bf 338px,#504fa6c6 339px,#504fa6d4 340px,#504fa6d4 342px,#504fa6e3 343px,#504fa6ea 344px,#5050a6ea 345px,#5050a6 346px,#5054a9 359px,#505eb0 368px,#4a75c0 376px,#3894d2 385px,#2da3da 393px,#2ca4daf1 394px,#2ca5da71 395px,#0000 396px);--q38:linear-gradient(90deg,#0000 33px,#38b8ac0e 34px,#3db9a5b1 35px,#43ba9d 36px,#61be85 42px,#76c076 49px,#7dc072 64px,#77c076 75px,#6fbf7c 82px,#64be84 88px,#4dbb94 94px,#46ba9a95 95px,#3eb9a407 96px,#0000 97px,#0000 98px,#0000 177px,#cac24c07 178px,#ddc049aa 179px,#e7be48 180px,#f7bb47 183px,#faba46 185px,#f7dc39 197px,#f4e238 203px,#f5e138ea 204px,#f5df3815 205px,#0000 206px,#0000 214px,#0000 291px,#504fa607 292px,#504fa615 293px,#504fa615 294px,#5050a62a 295px,#5050a62a 296px,#5050a639 297px,#5050a640 298px,#5050a64e 299px,#5050a66a 300px,#5050a66a 301px,#5050a695 302px,#5050a695 304px,#5050a6bf 305px,#5050a6bf 307px,#5051a6d4 308px,#5051a6d4 310px,#5051a6dc 311px,#5051a6ea 312px,#5051a6ea 315px,#5051a6 316px,#5050a6 347px,#5057ab 362px,#4f62b3 369px,#4a75bf 376px,#3893d2 386px,#2da2d9 394px,#2da3daf8 395px,#2ca3da4e 396px,#0000 397px);--q39:linear-gradient(90deg,#0000 32px,#31b6b61c 33px,#36b8aebf 34px,#3cb9a6 35px,#51bc91 40px,#6abe7f 48px,#6ebf7c 51px,#70bf7b 63px,#6bbe7f 76px,#64be83 82px,#55bc8e 90px,#44ba9d 95px,#3eb9a487 96px,#0000 97px,#0000 105px,#0000 177px,#c8c24d78 178px,#d8c04a 179px,#e2bf49 180px,#f2bc47 183px,#fabb46 187px,#f7d939 198px,#f5e038 204px,#f6de38aa 205px,#0000 206px,#0000 217px,#0000 280px,#504ea515 281px,#504ea532 284px,#504fa54e 286px,#504fa56a 287px,#504fa578 288px,#504fa595 289px,#504fa5a3 290px,#504fa6bf 291px,#504fa6c6 292px,#504fa6d4 293px,#5050a6d4 294px,#5050a6ea 295px,#5050a6ea 296px,#5050a6f8 297px,#5050a6 298px,#5051a6 345px,#5057ab 360px,#4f61b2 368px,#4a74bf 376px,#3893d1 387px,#2ea0d9 395px,#2ea2d9f1 396px,#2da2d940 397px,#0000 398px);--q40:linear-gradient(90deg,#0000 31px,#2ab4c132 32px,#30b6b8dc 33px,#35b7b0 34px,#44ba9c 38px,#51bc91 42px,#60bd86 48px,#64be83 53px,#64be83 68px,#5ebd88 79px,#50bc92 89px,#40b9a0 95px,#3cb9a5f8 96px,#37b8ad6a 97px,#0000 98px,#0000 100px,#0000 175px,#9ac2600e 176px,#acc25787 177px,#c3c24ef8 178px,#d1c14b 179px,#e8be48 182px,#f7bb47 186px,#fabb45 189px,#f9d53b 198px,#f7dc39 202px,#f6dd39 205px,#f7da3955 206px,#0000 207px,#0000 208px,#0000 268px,#504da423 271px,#504da440 274px,#504da46a 275px,#504da46a 276px,#504da495 277px,#504ea495 278px,#504ea5bf 279px,#504ea5bf 280px,#504ea5d4 281px,#504ea5f1 284px,#504fa5 285px,#5051a7 344px,#5056aa 358px,#4f62b3 368px,#4a75c0 377px,#3d8dce 386px,#2f9fd8 396px,#2fa0d8d4 397px,#2f9fd815 398px,#0000 399px);--q41:linear-gradient(90deg,#0000 30px,#29b2c955 31px,#2ab4c3e3 32px,#2fb6ba 33px,#39b8a9 36px,#48bb99 41px,#54bc8f 46px,#5abd8a 51px,#5abd8b 69px,#54bc8e 79px,#47ba9a 90px,#3ab8a9 96px,#36b7aef1 97px,#31b6b74e 98px,#0000 99px,#0000 106px,#0000 174px,#88c16a23 175px,#96c262bf 176px,#acc257 177px,#bec250 178px,#c8c24d 179px,#e1bf49 182px,#f3bc47 186px,#faba46 190px,#f9d43b 200px,#f7da39 205px,#f8d93aea 206px,#f9d53b15 207px,#0000 208px,#0000 209px,#0000 255px,#4f4ba30e 256px,#4f4ba31c 258px,#504ba340 261px,#504ca340 262px,#504ca36a 263px,#504ca36a 264px,#504ca395 265px,#504ca495 266px,#504ca4b1 267px,#504ca4cd 269px,#504ca4d4 270px,#504da4e3 271px,#504da4 274px,#5052a7 344px,#5056aa 357px,#4f62b3 368px,#4a73be 377px,#3b90d0 389px,#319dd7 397px,#309ed7b8 398px,#319dd707 399px,#0000 400px);--q42:linear-gradient(90deg,#0000 28px,#28afd30e 29px,#28b0cf87 30px,#29b2caf8 31px,#2ab3c4 32px,#33b7b3 35px,#3db9a4 39px,#49bb98 44px,#51bc91 50px,#51bc91 66px,#4abb96 81px,#3eb9a3 92px,#34b7b2 97px,#30b6b9f1 98px,#2ab4c240 99px,#0000 100px,#0000 125px,#0000 172px,#69be8007 173px,#76c07763 174px,#84c16de3 175px,#94c263 176px,#a8c259 177px,#b5c253 178px,#dfbf49 183px,#f4bc47 188px,#fabb45 192px,#fad13d 201px,#f8d63b 206px,#f9d33caa 207px,#0000 208px,#0000 210px,#0000 240px,#4f4aa215 241px,#4f4aa315 242px,#4f4aa31c 243px,#4f4aa32a 244px,#4f4aa32a 245px,#4f4aa339 246px,#4f4aa340 247px,#4f4aa340 248px,#4f4ba36a 249px,#4f4ba36a 250px,#4f4ba387 251px,#4f4ba395 252px,#4f4ba395 253px,#4f4ba3bf 254px,#4f4ba3bf 255px,#4f4ba3cd 256px,#4f4ba3dc 258px,#4f4ba3 261px,#5056aa 356px,#4f62b3 368px,#4a73bf 378px,#3d8ccd 389px,#329bd6 398px,#0000 400px);--q43:linear-gradient(90deg,#0000 27px,#29acd839 28px,#28aed3bf 29px,#28b0cf 30px,#2ab4c3 33px,#33b7b4 36px,#3bb9a7 40px,#44ba9c 45px,#4abb97 51px,#43ba9d 81px,#39b8a9 92px,#33b7b3 96px,#2db5bc 98px,#2ab4c3e3 99px,#29b2c932 100px,#0000 101px,#0000 121px,#0000 171px,#5bbd8a2a 172px,#67be82aa 173px,#72bf79f8 174px,#7ec171 175px,#a0c25d 177px,#b5c253 179px,#cfc14c 182px,#eabe48 187px,#f5bb47 190px,#faba46 193px,#fad03d 203px,#fad13c 207px,#face3e55 208px,#0000 209px,#0000 210px,#0000 226px,#4f4aa207 227px,#4f4aa223 229px,#4f4aa240 232px,#4f4aa24e 233px,#4f4aa26a 234px,#4f4aa26a 235px,#4f4aa295 236px,#4f4aa295 237px,#4f4aa2b1 238px,#4f4aa2bf 239px,#4f4aa2bf 240px,#4f4aa2d4 241px,#4f4aa2d4 242px,#4f4aa3dc 243px,#4f4aa3ea 244px,#4f4aa3ea 245px,#4f4aa3f8 246px,#4f4aa3 247px,#5056aa 355px,#4f61b2 368px,#4a73be 379px,#3498d4 398px,#3399d5f1 399px,#3499d532 400px,#0000 401px);--q44:linear-gradient(90deg,#0000 25px,#2ba7db15 26px,#29aada78 27px,#29acd7ea 28px,#28aed4 29px,#2ab4c3 34px,#37b8ac 40px,#3fb9a2 45px,#43ba9d 51px,#42ba9e 67px,#3cb9a5 83px,#35b7b0 92px,#2fb6b9 96px,#29b3c5 99px,#29b2cae3 100px,#28b1cf32 101px,#0000 102px,#0000 106px,#0000 169px,#48bb980e 170px,#50bc916a 171px,#5abd8bea 172px,#63be84 173px,#78c075 175px,#97c262 177px,#b4c253 180px,#ccc24c 183px,#ecbd48 189px,#f6bb47 192px,#faba46 195px,#facc3e 204px,#facf3d 207px,#facc3edc 208px,#a589711c 209px,#4f4aa215 210px,#4f4aa215 212px,#4f4aa207 213px,#0000 214px,#0000 218px,#4f4aa215 219px,#4f4aa240 222px,#4f4aa26a 223px,#4f4aa287 224px,#4f4aa295 225px,#4f4aa2bf 226px,#4f4aa2c6 227px,#4f4aa2e3 229px,#4f4aa2 232px,#5056aa 355px,#4f61b2 368px,#4a73be 380px,#3695d3 399px,#3696d4d4 400px,#3695d315 401px,#0000 402px);--q45:linear-gradient(90deg,#0000 23px,#2ea1d907 24px,#2ca4da47 25px,#2aa7dbc6 26px,#29aada 27px,#2ab3c4 35px,#37b8ae 42px,#3eb9a3 51px,#3cb9a6 70px,#37b8ad 84px,#2fb6b9 93px,#28b2cc 100px,#28b0cfe3 101px,#28afd332 102px,#0000 103px,#0000 114px,#0000 168px,#40b9a147 169px,#47ba99bf 170px,#4ebb93 171px,#64be83 174px,#8cc268 177px,#a0c25d 179px,#bac251 182px,#cec14c 185px,#e1bf49 188px,#edbd48 191px,#f6bb47 194px,#faba46 197px,#fac93f 205px,#faca3f 208px,#b89666dc 209px,#4f4aa2d4 210px,#4f4aa2d4 212px,#4f4aa2c6 213px,#4f4aa2bf 214px,#4f4aa2bf 216px,#4f4aa295 217px,#4f4aa2bf 218px,#4f4aa2d4 219px,#4f4aa2 222px,#4f4ba3 263px,#5056aa 354px,#4e66b6 373px,#4879c2 385px,#3893d1 400px,#3893d287 401px,#0000 402px);--q46:linear-gradient(90deg,#0000 21px,#3499d507 22px,#319dd747 23px,#2ea1d9b8 24px,#2da3d9f8 25px,#2ca4d9 26px,#29add7 29px,#29b3c6 36px,#34b7b2 43px,#39b8aa 51px,#32b7b4 84px,#28b0d1 101px,#28aed4e3 102px,#29acd832 103px,#0000 104px,#0000 139px,#504ca307 140px,#504ca315 141px,#4f4ba315 147px,#4f4ba31c 148px,#4f4ba32a 149px,#4f4ba32a 154px,#4f4ba340 155px,#4f4ba340 159px,#4f4aa34e 160px,#4f4aa36a 161px,#4f4aa36a 164px,#4f4aa378 165px,#4f4aa395 166px,#4a5fa595 167px,#3cafa8a3 168px,#3fb9a2f8 169px,#44ba9c 170px,#55bc8e 173px,#8bc268 178px,#b6c252 183px,#e3bf49 190px,#f4bb47 195px,#faba46 199px,#fac640 207px,#fac740 208px,#f1be47 209px,#6c5d92 210px,#4f4aa2 211px,#4f4ba3 261px,#5056aa 354px,#4e66b5 374px,#4977c1 386px,#3c8ecf 400px,#3b90d0f8 401px,#3b8fcf40 402px,#0000 403px);--q47:linear-gradient(90deg,#0000 19px,#3b8fcf15 20px,#3b8fcf47 21px,#3992d1b8 22px,#3893d1f8 23px,#3a91d0 24px,#3b8fcf 27px,#3894d0 29px,#30a1d3 30px,#28afd3 32px,#2ab4c4 39px,#31b6b7 44px,#35b7b1 52px,#2fb6ba 80px,#28b0d1 100px,#28aed5 102px,#29acd8e3 103px,#4075bcbf 104px,#5051a6bf 105px,#504ca3bf 139px,#504ca3c6 140px,#504ca3d4 141px,#4f4ba3d4 147px,#4f4ba3dc 148px,#4f4ba3ea 149px,#4f4ba3ea 154px,#4f4ba3 155px,#4f4aa3 164px,#4e4da3 165px,#4277ac 166px,#38a8af 167px,#39b8aa 168px,#4fbb93 173px,#8ac269 179px,#b9c251 185px,#dac04a 190px,#e7be48 193px,#f6bb47 198px,#fabc45 203px,#fac242 209px,#c69b60 210px,#4f49a2 211px,#4f4aa3 261px,#5054a9 315px,#5057ab 355px,#4e65b5 375px,#4976c0 387px,#3e8ccd 401px,#3d8cced4 402px,#3e8bcd0e 403px,#0000 404px);--q48:linear-gradient(90deg,#0000 16px,#477cc40e 17px,#457ec539 18px,#4383c8d4 20px,#4383c8f8 21px,#4382c7 22px,#4186ca 30px,#3f89cb 31px,#2aabd2 33px,#28b1ce 36px,#2eb5bb 46px,#30b6b8 52px,#2db5bd 59px,#2bb4c0 77px,#28b1cf 96px,#29abd9 103px,#2ca4d8 104px,#4272bb 105px,#5051a7 106px,#4f4aa3 163px,#4761ab 164px,#3497ba 165px,#2eb6ba 166px,#49bb97 173px,#97c261 182px,#bcc250 187px,#dbc04a 192px,#ebbd48 196px,#f8bb47 201px,#fabd44 210px,#886f83 211px,#4f49a2 212px,#4f4aa3 262px,#5054a9 316px,#5057ab 356px,#4e66b6 377px,#4977c1 390px,#4089cb 402px,#3f89cc78 403px,#0000 404px);--q49:linear-gradient(90deg,#0000 4px,#5058ac1c 6px,#0000 8px,#0000 12px,#4d69b80e 13px,#4c6cba23 14px,#4c6fbc4e 15px,#4b72bd87 16px,#4a74bfcd 17px,#4976c0f8 18px,#4976c0 19px,#457fc5 32px,#3f89c9 33px,#2ca7d2 34px,#28afd3 35px,#2ab4c3 46px,#2bb4c0 51px,#28b0cf 92px,#29abd9 102px,#2ca4d9 105px,#4f54a8 107px,#5051a7 108px,#4f4aa3 161px,#4c53a6 162px,#3b80b9 163px,#2caac6 164px,#2ab3c4 165px,#3bb8a7 171px,#44ba9c 173px,#69be80 178px,#8bc269 182px,#b8c252 188px,#dbc04a 194px,#eebd47 199px,#f9ba46 204px,#fabb45 210px,#e2ab52 211px,#584f9d 212px,#4f49a2 213px,#4f4aa2 262px,#5054a9 316px,#5057ab 357px,#4e65b5 378px,#4284c9 402px,#4186caf1 403px,#4285c932 404px,#0000 405px);--q50:linear-gradient(90deg,#0000 4px,#505aad2a 7px,#505bae47 8px,#505caf47 9px,#505eb063 10px,#4f5fb087 11px,#4f61b2bf 12px,#4e63b4cd 13px,#4e65b5e3 14px,#4d67b7 15px,#4977c1 33px,#457dc3 34px,#319ecf 35px,#28aed4 36px,#29b3c6 50px,#28b0d0 87px,#29abd9 100px,#2ca3da 106px,#3a86c8 107px,#4d5aac 108px,#5052a7 109px,#4f4aa3 159px,#4e4da4 160px,#426bb4 161px,#2f9eca 162px,#28b1cf 163px,#2ab3c4 166px,#37b8ad 171px,#45ba9b 174px,#5fbd87 178px,#8ec267 184px,#b3c253 189px,#d7c14a 195px,#e8be48 199px,#f7bb47 205px,#faba46 211px,#ae886f 212px,#4f49a2 213px,#4f4aa2 258px,#5054a9 317px,#5056aa 357px,#4e63b4 378px,#4481c7 403px,#4382c8d4 404px,#4481c70e 405px,#0000 406px);--q51:linear-gradient(90deg,#0000 9px,#505aad0e 10px,#505bae32 11px,#505cae4e 12px,#505cae87 13px,#4f5eb0dc 15px,#4f5eb0f8 16px,#4f60b1 17px,#4b71bd 34px,#4876bf 35px,#339ace 36px,#28add6 37px,#28b2cb 50px,#28afd2 84px,#29aada 99px,#2ea0d8 107px,#3592d0 108px,#4964b3 109px,#5052a7 110px,#4f4aa3 158px,#495aac 159px,#3885c4 160px,#2aaad5 161px,#28afd3 162px,#29b3c5 167px,#33b7b3 171px,#4abb96 176px,#6abe7f 181px,#91c265 186px,#afc255 190px,#d7c04a 197px,#e4bf48 200px,#f3bc47 205px,#f9ba46 211px,#f4b749 212px,#79658b 213px,#4f49a2 214px,#4e46a0 242px,#5054a8 316px,#5056aa 358px,#4e63b4 380px,#457ec5 404px,#457ec56a 405px,#0000 406px);--q52:linear-gradient(90deg,#0000 14px,#5059ac39 16px,#505aad5c 17px,#505aada3 18px,#505baec6 19px,#505daf 21px,#4d6bb9 35px,#4b6ebb 36px,#319dd1 37px,#29acd7 38px,#28b0cf 49px,#28aed4 79px,#2aa8db 98px,#319dd7 108px,#3595d3 109px,#4e58ab 111px,#5052a8 112px,#4f4aa3 156px,#4d4fa6 157px,#4070ba 158px,#2da1d6 159px,#29aada 160px,#2ab4c4 169px,#44ba9d 176px,#54bc8f 179px,#66be82 182px,#8dc268 187px,#aac258 191px,#c2c24e 195px,#e4bf49 202px,#f2bc47 207px,#f7bb47 212px,#d9a856 213px,#574d9b 214px,#4e47a0 215px,#4d449f 253px,#5052a8 311px,#5056aa 359px,#4f62b3 381px,#487ac3 404px,#477bc3f1 405px,#477ac32a 406px,#0000 407px);--q53:linear-gradient(90deg,#0000 18px,#5057ab07 19px,#5059ac40 21px,#5059ac78 22px,#505baecd 24px,#505caeea 25px,#505caf 26px,#4e65b5 36px,#4771bb 37px,#2da2d5 38px,#29abd9 39px,#28afd2 50px,#29abd9 83px,#2ba6db 99px,#3399d5 109px,#3696d3 110px,#3e83c8 111px,#4b63b3 112px,#5055a9 113px,#5053a8 114px,#4f4ba3 155px,#4662b1 156px,#358dcc 157px,#2ba5db 158px,#29acd8 162px,#29b3c6 170px,#3bb8a7 175px,#57bc8d 181px,#6abe7f 184px,#88c16a 188px,#aac258 193px,#c3c24e 197px,#e0bf49 203px,#eebd47 208px,#f4bb47 212px,#f4bc47 213px,#a8876e 214px,#4d439e 215px,#4b419d 252px,#4f4ba3 275px,#5056aa 361px,#4f61b2 382px,#4977c1 405px,#4978c1bf 406px,#0000 407px);--q54:linear-gradient(90deg,#0000 23px,#5057ab0e 24px,#5058ab2a 25px,#5059ac40 26px,#505aadbf 29px,#505baed4 30px,#505caee3 31px,#505dafea 32px,#505eb0ea 33px,#4f5eb0dc 34px,#4f5fb1c6 35px,#4f5fb195 36px,#4f5eb06a 37px,#378ecb4e 38px,#2aaadaf1 39px,#29aada 40px,#28add5 50px,#2aa9da 81px,#2ea1d9 101px,#3399d5 108px,#3992d1 111px,#3d8cce 112px,#4577c0 113px,#4e5cae 114px,#5054a9 115px,#4f4ba3 153px,#4c54a8 154px,#309dd6 156px,#2da2d9 157px,#29aada 162px,#28b1cd 169px,#29b3c6 171px,#36b8ae 175px,#4ebb93 181px,#66be82 185px,#8ac269 190px,#abc257 195px,#c2c24e 199px,#dfbf49 205px,#ebbd48 209px,#f0bc47 213px,#eab94a 214px,#736087 215px,#4a409c 216px,#4a409c 257px,#504ca3 278px,#5056aa 363px,#4f60b2 383px,#4a74bf 406px,#4a74bf55 407px,#0000 408px);--q55:linear-gradient(90deg,#0000 29px,#5057ab15 30px,#5058ac23 31px,#5059ac2a 32px,#505aad2a 33px,#505bae1c 34px,#505bae07 35px,#0000 36px,#0000 38px,#2aa8db71 39px,#2aa8db 40px,#29acd8 50px,#2aa7db 81px,#309ed8 101px,#3795d3 109px,#3e8bcd 113px,#4283c8 114px,#4e5cae 116px,#5055a9 117px,#504ca3 151px,#4e4fa6 152px,#4669b7 153px,#388dcd 154px,#329bd6 155px,#2ba6db 160px,#29abd9 164px,#28b0d1 169px,#29b3c6 172px,#39b8ab 177px,#50bc91 183px,#8bc268 192px,#a6c25a 196px,#bdc250 200px,#dbc04a 206px,#e5bf48 209px,#ecbd48 213px,#ecbd48 214px,#cfa956 215px,#524797 216px,#493f9c 217px,#4a409c 260px,#4f4ba3 278px,#5055a9 363px,#4f60b1 385px,#4b71bd 406px,#4b72bdea 407px,#4b71bd15 408px,#0000 409px);--q56:linear-gradient(90deg,#0000 38px,#2aa7db07 39px,#2ba6dba3 40px,#2ba7db 41px,#29aada 51px,#2ca4da 83px,#329bd6 101px,#3a90d0 110px,#4285c9 115px,#457dc4 116px,#4e60b1 118px,#5058ac 119px,#5056aa 120px,#504ca4 150px,#4b5daf 151px,#407ec4 152px,#3893d2 153px,#2fa0d8 158px,#29aada 165px,#28aed4 169px,#2ab4c3 174px,#41b9a0 181px,#53bc90 185px,#6abe7f 189px,#8dc268 194px,#acc257 199px,#c2c24e 203px,#dac04a 208px,#e3bf49 211px,#e8be48 214px,#e8be48 215px,#9f866e 216px,#493f9c 217px,#4a409c 262px,#4f4ba3 279px,#5055a9 364px,#505eb0 384px,#4c6fbc 407px,#4c6fbcb8 408px,#0000 409px);--q57:linear-gradient(90deg,#0000 39px,#2ba5db0e 40px,#2ca4dadc 41px,#2ba5da 42px,#2aa7db 51px,#2da3da 61px,#2fa0d8 85px,#3498d4 101px,#3d8dce 110px,#457fc6 117px,#477bc3 118px,#4f5eaf 121px,#5057ab 123px,#504da4 148px,#4e56aa 149px,#3e89cc 151px,#3b8fcf 152px,#309dd7 158px,#2aa9db 166px,#29add7 169px,#2ab3c4 175px,#4bbb96 185px,#65be82 190px,#8dc267 196px,#a6c25a 200px,#bdc250 204px,#d5c14b 209px,#dfbf49 212px,#e4bf49 215px,#debb4b 216px,#6e5f87 217px,#493f9c 218px,#4a409c 264px,#4f4ba3 279px,#5054a9 365px,#4f5fb1 389px,#4c6cba 408px,#4c6cba55 409px,#0000 410px);--q58:linear-gradient(90deg,#0000 40px,#2da3da55 41px,#2da2d9 42px,#2ca5da 52px,#2f9fd8 61px,#329bd6 89px,#3794d3 100px,#4187ca 112px,#477bc3 119px,#4a74bf 121px,#4f60b1 124px,#5057ab 127px,#504ea5 145px,#504fa6 146px,#4d5bad 147px,#4870bc 148px,#447fc5 149px,#4187ca 150px,#3499d5 157px,#2aa8db 167px,#29acd7 170px,#29b3c6 176px,#3db9a5 183px,#4cbb95 187px,#66be82 192px,#a0c25d 201px,#bdc250 206px,#cfc14c 210px,#ddc049 214px,#dfbf49 216px,#cbb253 217px,#554a95 218px,#493f9c 219px,#4a409c 265px,#4f4ba3 279px,#5054a8 367px,#4d6ab8 408px,#4d6ab8ea 409px,#4d69b81c 410px,#0000 411px);--q59:linear-gradient(90deg,#0000 41px,#2ea0d895 42px,#2ea0d8 43px,#2da2d9 52px,#319cd6 61px,#3499d5 85px,#3a90d0 100px,#4976c0 122px,#5057ab 131px,#5050a6 142px,#4f56aa 144px,#4d60b1 145px,#467cc4 147px,#4480c6 148px,#329bd6 160px,#2aa9db 169px,#2ab4c4 178px,#41ba9f 186px,#52bc90 190px,#6dbf7d 195px,#9ac260 202px,#c1c24f 209px,#d2c14b 213px,#d9c04a 216px,#d9c04a 217px,#a69666 218px,#493f9c 219px,#4a409c 265px,#4f4ba3 280px,#5053a8 367px,#4d67b7 409px,#4d68b7bf 410px,#0000 411px);--q60:linear-gradient(90deg,#0000 41px,#2f9fd80e 42px,#309ed7ea 43px,#309ed7 44px,#2f9fd8 52px,#3498d4 61px,#3794d2 84px,#3c8dce 98px,#4b72be 126px,#4f5daf 134px,#4f58ac 138px,#4f5aad 140px,#4878c2 145px,#2ca5da 168px,#29acd8 172px,#29b3c6 179px,#3fb9a2 187px,#4fbb93 191px,#6ebf7c 197px,#95c263 203px,#c0c24f 211px,#cfc14c 215px,#d3c14b 217px,#d2c14b 218px,#7f767b 219px,#493f9c 220px,#4a409c 266px,#4f4aa3 279px,#5052a7 368px,#4e66b5 410px,#4e65b55c 411px,#0000 412px);--q61:linear-gradient(90deg,#0000 42px,#329bd655 43px,#329bd6 44px,#319cd6 52px,#3893d2 62px,#3d8cce 92px,#4878c2 118px,#4c6ebb 137px,#4481c7 150px,#2ba6db 170px,#29acd7 174px,#2ab3c5 181px,#3ab8a8 187px,#4bbb96 192px,#6ebf7c 199px,#94c263 205px,#bfc24f 213px,#cdc24c 218px,#c3bb51 219px,#61598d 220px,#493f9c 221px,#4a409c 266px,#4f4aa2 278px,#5052a7 370px,#4e63b4 410px,#4e64b4f1 411px,#4e63b432 412px,#0000 413px);--q62:linear-gradient(90deg,#0000 43px,#3498d5aa 44px,#3498d5 45px,#3499d5 52px,#3c8ecf 62px,#4087cb 93px,#4a74bf 121px,#4b72be 137px,#467cc4 149px,#3e8bcd 158px,#2aa7db 172px,#28add6 176px,#29b3c7 182px,#3db9a4 190px,#4cbb95 194px,#69be80 200px,#95c263 207px,#bac251 214px,#c4c24e 217px,#c6c24d 219px,#aeac5b 220px,#504698 221px,#493f9c 222px,#4a409c 265px,#4f4aa2 277px,#5051a7 371px,#4f62b3 411px,#4f62b3c6 412px,#4f61b20e 413px,#0000 414px);--q63:linear-gradient(90deg,#0000 43px,#3596d415 44px,#3795d3f1 45px,#3695d3 46px,#3794d3 53px,#3f89cc 62px,#4285c9 88px,#4a73be 119px,#4b72be 138px,#4977c1 146px,#457fc6 153px,#3992d1 164px,#2ba6db 173px,#29acd7 177px,#29b3c5 184px,#4cbb95 196px,#69be80 202px,#9bc260 210px,#b4c253 215px,#c0c24f 219px,#bfc24f 220px,#91936c 221px,#493f9c 222px,#4a409c 264px,#4f49a2 276px,#5050a6 372px,#4f60b2 412px,#4f60b195 413px,#0000 414px);--q64:linear-gradient(90deg,#0000 44px,#3992d171 45px,#3991d1 46px,#3a90d0 53px,#4285c9 62px,#4580c6 89px,#4b72be 116px,#4b72be 140px,#4976c0 148px,#4580c6 156px,#3c8dce 164px,#2aa7db 175px,#29add7 179px,#2ab4c4 186px,#4cbb94 198px,#6abe7f 204px,#95c263 211px,#b2c254 217px,#b9c251 220px,#b7c252 221px,#74767e 222px,#493f9c 223px,#4a409c 264px,#4f49a2 275px,#5050a6 373px,#4f5fb0 413px,#4f5fb063 414px,#0000 415px);--q65:linear-gradient(90deg,#0000 44px,#3a90d007 45px,#3c8ecfbf 46px,#3c8ecf 47px,#3d8dce 53px,#457fc6 63px,#477cc4 86px,#4b6fbc 115px,#4b71bd 142px,#4977c1 152px,#4580c6 159px,#2ba6db 176px,#29acd8 180px,#29b3c6 187px,#2cb5bf 189px,#49bb97 199px,#6abe7f 206px,#89c16a 211px,#a3c25b 216px,#afc255 219px,#b2c254 221px,#a9bb59 222px,#595591 223px,#493f9c 224px,#4a409c 262px,#4f49a2 273px,#504fa6 375px,#505daf 413px,#505dafea 414px,#505daf32 415px,#0000 416px);--q66:linear-gradient(90deg,#0000 45px,#3e8ccd2a 46px,#3f8accf8 47px,#3f8acc 48px,#4088cb 54px,#477bc3 63px,#4977c1 87px,#4c6cba 118px,#4b70bd 145px,#4976c0 154px,#457fc6 161px,#3498d5 171px,#2aa7db 178px,#29add7 182px,#29b3c6 189px,#3fb9a2 198px,#4dbb94 202px,#6bbe7f 208px,#8ec266 214px,#a1c25c 218px,#aac257 221px,#aac258 222px,#93a967 223px,#4e4698 224px,#493f9c 225px,#4a409c 261px,#4f49a2 271px,#504fa5 377px,#505cae 414px,#505caee3 415px,#505bae1c 416px,#0000 417px);--q67:linear-gradient(90deg,#0000 46px,#4187ca8e 47px,#4187ca 48px,#4284c9 54px,#4976c0 64px,#4a73bf 88px,#4d6ab9 118px,#4b6fbc 148px,#477ac3 161px,#2ba6db 179px,#29acd8 183px,#29b2c8 190px,#2db5bd 193px,#46ba9a 202px,#61bd86 208px,#8ec267 216px,#9fc25d 220px,#a3c25b 222px,#a2c25c 223px,#798c78 224px,#493f9c 225px,#4a409c 259px,#4f49a2 269px,#504ea5 379px,#505aad 415px,#505aadbf 416px,#505aad0e 417px,#0000 418px);--q68:linear-gradient(90deg,#0000 46px,#4285c90e 47px,#4383c8d4 48px,#4383c8 49px,#4580c6 54px,#4b72be 64px,#4d68b7 117px,#4c6dbb 149px,#4976c1 161px,#4087cb 168px,#3498d4 174px,#29aada 183px,#2ab3c5 193px,#3db9a4 201px,#5cbd89 209px,#87c16b 217px,#98c261 221px,#9cc25f 223px,#99c260 224px,#636c8a 225px,#4b419d 226px,#4a409c 227px,#4a409c 257px,#4f49a2 267px,#504ea5 381px,#5059ac 416px,#5059acb1 417px,#5058ac07 418px,#0000 419px);--q69:linear-gradient(90deg,#0000 47px,#4580c655 48px,#457fc6 49px,#4c6ebb 65px,#4e66b6 118px,#4d6bb9 151px,#4a75bf 162px,#4383c8 168px,#3499d5 176px,#2aa9db 184px,#28b1cc 192px,#2db5bc 197px,#4bbb96 207px,#8bc269 220px,#94c263 224px,#8bb86a 225px,#585b98 226px,#4e46a0 227px,#4a409c 233px,#4a3f9c 255px,#4f49a2 265px,#504da4 383px,#5058ac 417px,#5058ab8e 418px,#5057ab07 419px,#0000 420px);--q70:linear-gradient(90deg,#0000 47px,#457fc607 48px,#477cc4b8 49px,#477bc4 50px,#4d6bb9 65px,#4e65b5 117px,#4d6ab8 153px,#4a75c0 164px,#4186ca 171px,#339ad5 178px,#2aa9db 186px,#28b1ce 193px,#2bb4c0 198px,#4bbb95 209px,#7fc170 220px,#8bc268 223px,#8dc267 225px,#79a379 226px,#514f9f 227px,#4f49a2 228px,#4a409c 238px,#4a3f9c 253px,#4f48a1 263px,#504da4 385px,#5057ab 418px,#5057ab8e 419px,#5056aa07 420px,#0000 421px);--q71:linear-gradient(90deg,#0000 48px,#487ac315 49px,#4878c2ea 50px,#4978c1 51px,#4d68b7 65px,#4e63b4 118px,#4d68b7 154px,#4a73bf 165px,#4285c9 172px,#329ad6 180px,#2aa9da 188px,#28b1cc 196px,#2cb5bf 200px,#48bb98 210px,#7dc171 222px,#86c16c 225px,#85c16d 226px,#698b87 227px,#4f49a2 228px,#4e48a1 236px,#4a409c 243px,#4a409c 252px,#4f48a1 261px,#504ca4 383px,#5056aa 419px,#5056aa78 420px,#0000 421px);--q72:linear-gradient(90deg,#0000 49px,#4976c05c 50px,#4a75bf 51px,#4e65b5 66px,#4f61b2 116px,#4e66b6 156px,#4c6dba 163px,#4878c1 169px,#3399d5 181px,#2aa8db 189px,#28b1ce 197px,#2cb5be 202px,#48bb98 212px,#77c076 223px,#7fc171 226px,#7bbd73 227px,#5d7492 228px,#4f49a2 229px,#4f48a1 240px,#4a3f9c 249px,#4f48a1 260px,#504ca3 386px,#5055a9 419px,#5055a9f8 420px,#5055a978 421px,#0000 422px);--q73:linear-gradient(90deg,#0000 49px,#4a74bf07 50px,#4b72bebf 51px,#4b72be 52px,#4f62b3 66px,#4f60b1 116px,#4e64b4 156px,#4b70bc 167px,#4383c8 175px,#3597d4 182px,#2aa9db 191px,#28b1cd 199px,#2db5bd 204px,#49bb98 214px,#71bf7a 224px,#78c075 227px,#72b97a 228px,#55609b 229px,#4f49a2 230px,#4f48a1 243px,#4b419d 251px,#4f48a1 259px,#4f49a2 368px,#5054a9 421px,#5054a978 422px,#5053a807 423px,#0000 424px);--q74:linear-gradient(90deg,#0000 50px,#4b71bd2a 51px,#4b6fbcea 52px,#4c6fbc 53px,#4f60b2 67px,#4f5fb1 117px,#4e63b4 158px,#4d6ab8 165px,#4879c2 173px,#329bd6 185px,#2aa9db 193px,#28b0cf 200px,#2bb4c1 205px,#49bb98 216px,#6bbf7e 225px,#71bf7a 228px,#68ab83 229px,#51539f 230px,#4f49a2 231px,#4f48a1 246px,#4d449e 252px,#4f48a1 262px,#4f4aa3 352px,#4e46a0 368px,#5053a8 422px,#5053a88e 423px,#5053a807 424px,#0000 425px);--q75:linear-gradient(90deg,#0000 51px,#4c6dbb6a 52px,#4c6cba 53px,#505eb0 67px,#4f61b2 158px,#4d68b7 166px,#4978c1 174px,#3499d5 186px,#2aa9db 195px,#28b1cd 203px,#2bb4c0 207px,#38b8ab 212px,#4cbb94 219px,#66be82 226px,#6abe7f 229px,#5f9d8b 230px,#4f4ca1 231px,#4f49a2 232px,#4e46a0 253px,#4f4aa2 352px,#4d449f 369px,#5052a8 423px,#5052a89c 424px,#5052a715 425px,#0000 426px);--q76:linear-gradient(90deg,#0000 51px,#4c6cba07 52px,#4d6bb9b8 53px,#4d6ab8 54px,#505caf 68px,#4f5fb1 158px,#4e64b5 165px,#4b6fbc 172px,#467ec5 178px,#3399d5 188px,#2aa9db 197px,#28b1cf 204px,#2bb5c0 209px,#46ba9b 219px,#65be83 229px,#65be83 230px,#588a93 231px,#4f49a2 232px,#4e46a0 255px,#4f4aa2 353px,#4c429e 370px,#4f49a2 385px,#5052a7 424px,#5052a7c6 425px,#5052a71c 426px,#0000 427px);--q77:linear-gradient(90deg,#0000 52px,#4d69b815 53px,#4d68b7ea 54px,#4d67b7 55px,#505aad 68px,#4f5eb0 160px,#4e67b6 169px,#4977c1 177px,#3498d4 189px,#2aa8db 198px,#28aed4 203px,#2ab4c3 210px,#40b9a1 219px,#5abd8b 227px,#56bc91 228px,#3fb8aa 229px,#40b9a6 230px,#4bbb99 231px,#507c9a 232px,#4f49a2 233px,#4e46a0 256px,#4f4aa2 353px,#4c439e 363px,#4b419d 372px,#4f49a2 388px,#5051a7 425px,#5051a7dc 426px,#5051a740 427px,#0000 428px);--q78:linear-gradient(90deg,#0000 53px,#4e67b655 54px,#4e66b6f8 55px,#4e65b5 56px,#5059ac 69px,#505daf 160px,#4e66b6 170px,#4a75c0 178px,#3498d4 191px,#2aa8db 200px,#28add6 204px,#2ab4c3 212px,#39b8ab 218px,#4fbc92 226px,#4bb99d 227px,#2eb1c9 228px,#29b2c9 229px,#2db5be 230px,#41b6a1 232px,#4d699f 233px,#4f49a2 234px,#4e46a0 258px,#4f49a2 353px,#4b429d 364px,#4b419d 375px,#4f49a2 390px,#5051a7 426px,#5051a7f1 427px,#5051a663 428px,#5051a607 429px,#0000 430px);--q79:linear-gradient(90deg,#0000 54px,#4e65b587 55px,#4e64b4 56px,#5057ab 69px,#505cae 161px,#4e65b5 171px,#4878c2 181px,#3498d5 193px,#2aa9db 202px,#28aed4 207px,#2ab4c2 214px,#45ba9b 225px,#44b7a2 226px,#2eabd2 227px,#29add7 228px,#29b2ca 230px,#2cb4c0 231px,#34b7b2 232px,#40b0a3 233px,#4d5ca1 234px,#4f49a2 235px,#4e46a0 259px,#4f49a2 354px,#4b419d 364px,#4b419d 378px,#4f49a2 391px,#5050a6 427px,#5050a6f8 428px,#5050a68e 429px,#5050a60e 430px,#0000 431px);--q80:linear-gradient(90deg,#0000 54px,#4e64b407 55px,#4f62b3bf 56px,#4f62b3 57px,#5056aa 70px,#505aad 161px,#4e64b4 172px,#4976c0 182px,#3597d4 194px,#2aa8db 203px,#29add7 207px,#29b3c5 215px,#3eb9a4 224px,#40b8a2 225px,#35a6c9 226px,#2ca4da 227px,#2aa8da 228px,#28afd2 230px,#2bb4c1 232px,#33b7b3 233px,#409da6 234px,#4f4da2 235px,#4f49a2 236px,#4e47a0 260px,#4f49a2 355px,#4b419d 365px,#4b419d 380px,#4f49a2 393px,#5050a6 429px,#5050a6bf 430px,#5050a632 431px,#0000 432px);--q81:linear-gradient(90deg,#0000 55px,#4f62b32a 56px,#4f61b2e3 57px,#4f60b1 58px,#5055a9 71px,#5059ac 163px,#4e64b4 174px,#4a74bf 183px,#3597d4 196px,#2aa8db 205px,#28aed5 210px,#2ab3c4 217px,#39b8aa 224px,#3ba8b8 225px,#3498d4 226px,#2ca3da 228px,#29abd8 230px,#28aed3 231px,#2bb4c3 233px,#32b6b5 234px,#4578a7 235px,#4f4aa2 236px,#4e47a0 262px,#4f49a2 356px,#4b419d 366px,#4b419d 382px,#4f48a1 394px,#5050a6 430px,#5050a6e3 431px,#5050a663 432px,#5050a607 433px,#0000 434px);--q82:linear-gradient(90deg,#0000 56px,#4f60b140 57px,#4f5fb1f8 58px,#505eb0 59px,#5054a9 72px,#5058ac 164px,#4e63b3 175px,#4a75c0 185px,#3598d4 198px,#2ba7db 206px,#29acd8 210px,#28b1cc 216px,#2ab3c4 219px,#32b7b4 223px,#36b4b1 224px,#408bc8 225px,#3b8fcf 226px,#319dd7 228px,#29abd9 231px,#2ab3c5 234px,#32adb7 235px,#4d53a4 236px,#4f4aa2 237px,#4e47a0 263px,#4f49a2 358px,#4b419d 367px,#4a409d 383px,#4f48a1 396px,#5050a6 431px,#5050a6f8 432px,#5050a69c 433px,#5050a615 434px,#0000 435px);--q83:linear-gradient(90deg,#0000 57px,#505eb071 58px,#505daf 59px,#5053a8 72px,#5057ab 164px,#4e63b4 177px,#4a75c0 187px,#3696d3 199px,#2ba6db 207px,#28add6 213px,#29b3c7 220px,#2db5bc 223px,#3e93bb 224px,#467dc4 225px,#3695d3 228px,#2ba6da 231px,#28add5 233px,#29b3c7 235px,#3c85b2 236px,#4f4aa2 237px,#4e46a0 264px,#4f49a2 359px,#4b419d 368px,#4a409c 384px,#4f48a1 397px,#5050a6 433px,#5050a6d4 434px,#504fa640 435px,#0000 436px);--q84:linear-gradient(90deg,#0000 58px,#505daf8e 59px,#505cae 60px,#5053a8 73px,#5056aa 165px,#4e63b4 179px,#4976c0 189px,#3696d3 201px,#2ca4da 208px,#29acd8 214px,#29b3c6 222px,#2dadc2 223px,#4b6fb9 224px,#477bc3 226px,#3893d2 229px,#2ca5da 232px,#29add6 234px,#28b0d0 235px,#2bacc7 236px,#4c53a6 237px,#4f4aa3 238px,#4e45a0 266px,#4f48a1 318px,#4d449f 330px,#4f49a2 360px,#4b419d 370px,#4a409c 386px,#4f48a1 399px,#504fa6 434px,#504fa6f1 435px,#504fa687 436px,#504fa607 437px,#0000 438px);--q85:linear-gradient(90deg,#0000 58px,#505caf07 59px,#505baeb1 60px,#505aad 61px,#5052a7 73px,#5055aa 167px,#4f62b3 180px,#4a74bf 190px,#3597d4 203px,#2ca5da 210px,#29abd9 215px,#28b2cb 222px,#349ac2aa 223px,#4f62b3ea 224px,#4d69b8 225px,#4879c2 227px,#3499d5 231px,#2aa9da 234px,#28afd1 236px,#3a84ba 237px,#4f4ba3 238px,#4d449f 267px,#4f48a1 287px,#4f48a1 319px,#4c429e 331px,#4f48a1 344px,#4f49a2 362px,#4b419d 371px,#4a409c 387px,#4f48a1 400px,#504fa6 436px,#504fa6b8 437px,#504fa539 438px,#0000 439px);--q86:linear-gradient(90deg,#0000 59px,#505bae0e 60px,#505aadbf 61px,#5059ac 62px,#5051a7 73px,#5054a9 167px,#4f61b2 181px,#4a74bf 192px,#2ea2d9 210px,#2aa9db 215px,#28b0d1 221px,#28b0cff1 222px,#28b2cb15 223px,#505daf39 224px,#4f61b2c6 225px,#4e67b6 226px,#457fc6 229px,#3597d4 232px,#2da3da 234px,#29abd8 236px,#2aa9d0 237px,#4c54a7 238px,#4f4ba3 239px,#4f48a1 258px,#4b429d 268px,#4f48a1 289px,#4f48a1 316px,#4b419d 334px,#4f48a1 346px,#4f49a2 361px,#4f48a1 366px,#4a409d 373px,#4a409c 388px,#4f48a1 402px,#504fa6 437px,#504fa6ea 438px,#504fa56a 439px,#504fa507 440px,#0000 441px);--q87:linear-gradient(90deg,#0000 60px,#505aad1c 61px,#5059accd 62px,#5058ab 63px,#5051a7 74px,#5054a9 113px,#5053a8 168px,#4f60b2 182px,#4b72be 193px,#2fa0d8 211px,#2aa8db 216px,#28aed5 221px,#28afd38e 222px,#0000 223px,#0000 224px,#505daf15 225px,#4f60b1aa 226px,#4e65b5 227px,#467dc5 230px,#3696d3 233px,#2da2d9 235px,#29abd9 237px,#3b7fbe 238px,#504ca3 239px,#4f48a1 258px,#4a409c 269px,#4f48a1 292px,#4f48a1 320px,#4b419d 328px,#4b419d 334px,#4f48a1 349px,#4f49a2 361px,#4e47a1 368px,#4b409d 374px,#4a409c 389px,#4f48a1 403px,#504fa6 439px,#504fa5b8 440px,#504fa523 441px,#0000 442px);--q88:linear-gradient(90deg,#0000 61px,#5058ac1c 62px,#5058abcd 63px,#5057ab 64px,#5050a6 75px,#5054a9 114px,#5053a8 169px,#4f60b2 184px,#4a73be 195px,#329ad6 210px,#2ba5db 216px,#29abd9 220px,#29acd8f8 221px,#28aed523 222px,#0000 223px,#0000 225px,#505cae07 226px,#4f5fb178 227px,#4e64b4f8 228px,#4c6bb9 229px,#477bc3 231px,#3794d2 234px,#2ba6da 237px,#2da2d5 238px,#4e51a7 239px,#504ca4 240px,#4f48a1 259px,#4a409c 270px,#4f48a1 300px,#4f48a1 321px,#4b419d 328px,#4b419d 334px,#4b419d 342px,#4f48a1 351px,#4f48a1 367px,#4b419d 375px,#4a409c 391px,#4f48a1 404px,#504fa6 440px,#504fa5e3 441px,#504fa563 442px,#504fa507 443px,#0000 444px);--q89:linear-gradient(90deg,#0000 62px,#5057ab2a 63px,#5057abe3 64px,#5056aa 65px,#5050a6 75px,#5052a8 171px,#4f61b2 186px,#4a74bf 197px,#3499d5 211px,#2aa9db 220px,#29aadaaa 221px,#0000 222px,#0000 227px,#4f5eb055 228px,#4f63b3e3 229px,#4d6ab8 230px,#4879c2 232px,#3992d1 235px,#2ca5da 238px,#3f75bc 239px,#504ca4 240px,#4f48a1 259px,#4b419d 266px,#4b419d 284px,#4f48a1 295px,#4f48a1 319px,#4e47a1 324px,#4b419d 329px,#4b419d 341px,#4f48a1 352px,#4f48a1 365px,#4e47a1 371px,#4a409d 377px,#4a409c 394px,#4f48a1 406px,#504fa5 441px,#504fa5f8 442px,#504fa5aa 443px,#504fa523 444px,#0000 445px);--q90:linear-gradient(90deg,#0000 63px,#5056aa32 64px,#5056aacd 65px,#5055a9 66px,#504fa6 76px,#5051a7 171px,#505bae 183px,#4d6ab8 194px,#467cc4 202px,#3399d5 213px,#2ba6db 220px,#2aa8db39 221px,#0000 222px,#0000 228px,#505eb032 229px,#4f61b2cd 230px,#4d68b7 231px,#4580c6 234px,#309ed8 238px,#3197d2 239px,#4f4fa6 240px,#4f48a1 261px,#4b419d 267px,#4b419d 286px,#4f48a1 297px,#4f48a1 320px,#4f48a1 325px,#4b419d 330px,#4b419d 343px,#4f48a1 353px,#4f48a1 366px,#4f48a1 372px,#4a409c 379px,#4a409c 396px,#4f48a1 407px,#504fa5 443px,#504fa5e3 444px,#504fa555 445px,#504fa507 446px,#0000 447px);--q91:linear-gradient(90deg,#0000 64px,#5055aa2a 65px,#5055a9dc 66px,#5054a9 67px,#504fa5 77px,#5051a7 173px,#505bae 185px,#4d68b7 195px,#477ac3 203px,#2ea2d9 219px,#2ca3dac6 220px,#0000 221px,#0000 223px,#0000 229px,#505daf1c 230px,#4f60b2b1 231px,#4e66b6 232px,#467ec5 235px,#319dd7 239px,#446bb7 240px,#504da4 241px,#4f48a1 262px,#4b419d 268px,#4b419d 287px,#4f48a1 298px,#4f48a1 321px,#4f48a1 326px,#4b419d 332px,#4b419d 345px,#4f48a1 355px,#4f48a1 368px,#4e47a1 374px,#4a409c 380px,#4a409c 397px,#4f48a1 409px,#504fa5 444px,#504fa5f8 445px,#504fa5aa 446px,#504fa51c 447px,#0000 448px);--q92:linear-gradient(90deg,#0000 65px,#5054a91c 66px,#5054a9cd 67px,#5053a8 68px,#504ea5 79px,#5050a6 174px,#505aad 186px,#4d69b8 197px,#4480c6 207px,#309ed8 219px,#2ea1d955 220px,#0000 221px,#0000 230px,#505cae0e 231px,#4f5fb18e 232px,#4e64b5f8 233px,#4c6cba 234px,#477cc4 236px,#3795d3 239px,#388ccc 240px,#504da4 241px,#4f48a1 263px,#4b419d 270px,#4b419d 289px,#4f48a1 299px,#4f48a1 322px,#4e47a1 328px,#4b419d 333px,#4b419d 347px,#4f48a1 356px,#4f48a1 369px,#4f48a1 375px,#4a409c 382px,#4a409c 399px,#4f48a1 410px,#504fa5 446px,#504fa5dc 447px,#504fa555 448px,#504fa507 449px,#0000 450px);--q93:linear-gradient(90deg,#0000 66px,#5054a91c 67px,#5053a8bf 68px,#5053a8 69px,#504ea5 80px,#5050a6 175px,#505aad 188px,#4d69b8 199px,#477bc3 207px,#3498d5 218px,#329bd6dc 219px,#2f9fd807 220px,#0000 221px,#0000 231px,#5059ac07 232px,#4f5eb071 233px,#4e63b3f1 234px,#4d6ab8 235px,#477ac3 237px,#3893d2 240px,#4864b3 241px,#504ea4 242px,#4f48a1 265px,#4b419d 271px,#4b419d 290px,#4f48a1 301px,#4f48a1 324px,#4f48a1 329px,#4b419d 335px,#4b419d 348px,#4f48a1 358px,#4f48a1 371px,#4e47a1 377px,#4a409c 383px,#4a409c 400px,#4f48a1 412px,#504fa5 447px,#504fa5f8 448px,#504fa59c 449px,#504fa51c 450px,#0000 451px);--q94:linear-gradient(90deg,#0000 67px,#5053a80e 68px,#5053a8b1 69px,#5052a7 70px,#504ea4 81px,#504fa5 176px,#5058ac 188px,#4d68b7 200px,#4879c2 208px,#3794d2 218px,#3597d471 219px,#0000 220px,#0000 221px,#0000 233px,#505eb040 234px,#4f61b2e3 235px,#4d68b7 236px,#3f89cc 240px,#4081c6 241px,#504ea5 242px,#4f48a1 266px,#4b419d 272px,#4a409c 278px,#4b419d 292px,#4e47a1 300px,#4f48a1 309px,#4f48a1 329px,#4b419d 335px,#4b409d 341px,#4b419d 352px,#4f48a1 360px,#4f48a1 375px,#4b409d 384px,#4a409c 402px,#4f48a1 413px,#504fa5 449px,#504fa5dc 450px,#504fa555 451px,#0000 452px);--q95:linear-gradient(90deg,#0000 68px,#5052a80e 69px,#5052a78e 70px,#5051a7f8 71px,#5051a7 72px,#504da4 82px,#504ea5 177px,#5056aa 188px,#4e65b5 200px,#4978c1 209px,#3d8dce 217px,#3b90d0f1 218px,#3794d30e 219px,#0000 220px,#0000 234px,#505daf23 235px,#4f60b1c6 236px,#4e66b6 237px,#4087ca 241px,#4b5fb0 242px,#504ea5 243px,#4f48a1 268px,#4b419d 274px,#4a409c 280px,#4b419d 293px,#4f48a1 302px,#4f48a1 311px,#4f48a1 331px,#4b419d 337px,#4b409d 342px,#4b419d 353px,#4f48a1 361px,#4f48a1 377px,#4a409c 386px,#4a409c 403px,#4f48a1 415px,#504fa5 450px,#504fa5f8 451px,#504fa595 452px,#504fa515 453px,#0000 454px);--q96:linear-gradient(90deg,#0000 69px,#5052a707 70px,#5051a771 71px,#5051a7f8 72px,#5051a6 73px,#504da4 82px,#504ca3 114px,#504da4 177px,#5056aa 189px,#4e65b5 202px,#4976c0 210px,#4088cb 217px,#3e8bcd8e 218px,#0000 219px,#0000 224px,#0000 235px,#505cae15 236px,#4f5fb1aa 237px,#4e65b5 238px,#467cc4 241px,#4676bf 242px,#504ea5 243px,#4f48a1 269px,#4b419d 275px,#4a409c 281px,#4b419d 295px,#4e47a1 303px,#4f48a1 313px,#4f48a1 332px,#4b419d 338px,#4b409d 344px,#4b419d 355px,#4f48a1 363px,#4f48a1 378px,#4b409d 387px,#4a409c 405px,#4f48a1 416px,#504fa5 452px,#504fa5d4 453px,#504fa547 454px,#0000 455px);--q97:linear-gradient(90deg,#0000 71px,#5051a755 72px,#5051a6ea 73px,#5050a6 74px,#4f49a2 114px,#504ea5 138px,#504da4 178px,#5054a9 189px,#4f61b2 201px,#4481c7 216px,#4384c8f8 217px,#4088cb15 218px,#0000 219px,#0000 225px,#0000 236px,#505cae07 237px,#4f5eb078 238px,#4e63b4f8 239px,#4d6ab9 240px,#477ac3 242px,#4d5daf 243px,#504ea5 244px,#4f48a1 271px,#4b429d 276px,#4a409c 282px,#4b419d 297px,#4f48a1 305px,#4f48a1 312px,#4f48a1 334px,#4b419d 340px,#4b419d 354px,#4f48a1 363px,#4f48a1 373px,#4f48a1 382px,#4a409c 389px,#4a409c 406px,#4f48a1 418px,#504fa5 453px,#504fa5f8 454px,#504fa595 455px,#504fa515 456px,#0000 457px);--q98:linear-gradient(90deg,#0000 72px,#5051a639 73px,#5050a6dc 74px,#5050a6 75px,#4e47a1 115px,#504da4 140px,#504ca4 179px,#5053a8 190px,#4f5fb1 201px,#477cc4 216px,#457fc6a3 217px,#0000 218px,#0000 238px,#505db055 239px,#4f62b3ea 240px,#4d69b7 241px,#4b70bc 242px,#4b6dba 243px,#504ea5 244px,#4f48a1 272px,#4b419d 278px,#4a409c 284px,#4b419d 298px,#4f48a1 307px,#4f48a1 317px,#4f48a1 335px,#4b419d 341px,#4b409d 347px,#4b419d 358px,#4f48a1 366px,#4f48a1 381px,#4a409d 390px,#4a409c 408px,#4f48a1 419px,#504fa5 455px,#504fa5d4 456px,#504fa540 457px,#0000 458px);--q99:linear-gradient(90deg,#0000 73px,#5050a61c 74px,#5050a6bf 75px,#5050a6 76px,#4e46a0 113px,#504da4 143px,#4f48a1 164px,#504ca3 180px,#505daf 201px,#4a75c0 215px,#4977c1f8 216px,#477bc423 217px,#0000 218px,#0000 232px,#0000 239px,#505caf39 240px,#4f60b1dc 241px,#4e67b6 242px,#4c6ebb 243px,#4e5aad 244px,#504ea5 245px,#4f48a1 274px,#4b429d 279px,#4a409c 285px,#4b419d 299px,#4f48a1 308px,#4f48a1 315px,#4f48a1 337px,#4b419d 343px,#4b419d 357px,#4f48a1 367px,#4f48a1 377px,#4f48a1 385px,#4a409c 392px,#4a409c 409px,#4f48a1 421px,#504fa5 453px,#504fa5d4 455px,#504fa5d4 456px,#504fa5b1 457px,#504fa547 458px,#0000 459px);--q100:linear-gradient(90deg,#0000 74px,#5050a60e 75px,#5050a687 76px,#504fa6f8 77px,#504fa5 78px,#4e459f 109px,#4e46a0 130px,#504ca4 147px,#4e46a0 167px,#5051a7 192px,#4f62b3 207px,#4b71bd 215px,#4a74bfa3 216px,#0000 217px,#0000 240px,#505caf1c 241px,#4f5fb1bf 242px,#4e65b5 243px,#4d67b6 244px,#5050a6 245px,#504ea5 246px,#4f48a1 275px,#4b419d 283px,#4b419d 301px,#4f48a1 311px,#4f48a1 332px,#4f48a1 339px,#4b419d 345px,#4b419d 358px,#4f48a1 368px,#4f48a1 380px,#4e47a1 387px,#4a409d 393px,#4a409c 410px,#4f48a1 422px,#504ca4 448px,#504da4f1 449px,#504da4cd 450px,#504ea578 452px,#504fa540 453px,#504fa515 455px,#504fa515 456px,#0000 457px);--q101:linear-gradient(90deg,#0000 76px,#504fa663 77px,#504fa5e3 78px,#504fa5 79px,#4d459f 107px,#4e459f 132px,#504ca3 150px,#4d449f 168px,#5052a7 194px,#4f60b1 207px,#4c6cba 214px,#4c6ebbf1 215px,#4b71bd15 216px,#0000 217px,#0000 232px,#0000 241px,#505bae0e 242px,#4f5eb09c 243px,#4e63b4 244px,#4f5daf 245px,#504fa5 246px,#4f48a1 277px,#4b409d 285px,#4b419d 302px,#4f48a1 311px,#4f48a1 321px,#4f48a1 340px,#4b419d 346px,#4b419d 360px,#4f48a1 370px,#4f48a1 382px,#4f48a1 388px,#4a409c 395px,#4a409c 412px,#4f48a1 424px,#4f4aa2 444px,#4f4ba3c6 446px,#4f4ba3a3 447px,#504ca35c 448px,#504ca432 449px,#504da40e 450px,#0000 451px);--q102:linear-gradient(90deg,#0000 77px,#504fa532 78px,#504fa5c6 79px,#504ea5 80px,#4d449f 106px,#4d459f 134px,#4f4ba3 151px,#4d449f 162px,#4d439e 170px,#5050a6 194px,#4d69b7 214px,#4d6bb987 215px,#0000 216px,#0000 220px,#0000 242px,#505aad07 243px,#505daf78 244px,#4f61b2f8 245px,#5054a9 246px,#504fa5 247px,#504ea5 248px,#4f48a1 278px,#4b419d 284px,#4a409c 290px,#4b419d 304px,#4e48a1 312px,#4f48a1 319px,#4f48a1 341px,#4b419d 348px,#4b419d 362px,#4f48a1 371px,#4f48a1 382px,#4e47a1 390px,#4a409d 396px,#4a409c 413px,#4f48a1 425px,#4f49a2 437px,#4f49a2ea 438px,#4f49a2cd 440px,#4f49a295 442px,#4f4aa240 444px,#4f4ba307 446px,#0000 447px);--q103:linear-gradient(90deg,#0000 78px,#504fa515 79px,#504fa59c 80px,#504ea5f8 81px,#504ea5 82px,#4d439e 106px,#4d449f 136px,#4f4ba3 153px,#4d439e 162px,#4c439e 173px,#5050a6 196px,#4e64b4 213px,#4e66b6dc 214px,#4d69b80e 215px,#0000 216px,#0000 244px,#505cae55 245px,#4f5cafe3 246px,#5051a7 247px,#504da4 251px,#4f48a1 280px,#4b419d 286px,#4a409c 292px,#4b419d 305px,#4f48a1 314px,#4f48a1 321px,#4f48a1 343px,#4b419d 349px,#4b419d 363px,#4f48a1 372px,#4f48a1 383px,#4f48a1 391px,#4a409c 398px,#4a409c 415px,#4f48a1 429px,#4f48a1ea 430px,#4f48a1dc 431px,#4f48a1b1 433px,#4f48a195 434px,#4f49a16a 435px,#4f49a24e 436px,#4f49a240 437px,#4f49a22a 438px,#0000 441px);--q104:linear-gradient(90deg,#0000 79px,#504fa507 80px,#504ea563 81px,#504ea5e3 82px,#504ea5 83px,#4d439e 106px,#4d449f 137px,#4f4aa3 154px,#4d439e 162px,#4c429e 174px,#504fa6 197px,#4f61b2 213px,#4e63b45c 214px,#0000 215px,#0000 216px,#0000 245px,#505bae32 246px,#5058accd 247px,#5050a6 248px,#4f48a1 281px,#4b419d 287px,#4a409c 293px,#4b419d 307px,#4f48a1 320px,#4f48a1 344px,#4b409d 353px,#4b419d 366px,#4f48a1 377px,#4f48a1 392px,#4a409c 401px,#4d449e 423px,#4e47a1bf 426px,#4f48a140 429px,#4f48a107 432px,#0000 433px);--q105:linear-gradient(90deg,#0000 81px,#504ea532 82px,#504ea5bf 83px,#504ea5 84px,#4c439e 107px,#4d439e 139px,#4f4aa2 155px,#4c439e 163px,#4c429d 176px,#504ea5 197px,#505daf 212px,#4f5fb0dc 213px,#4f62b307 214px,#0000 215px,#0000 221px,#0000 246px,#505aad1c 247px,#5055a9aa 248px,#5051a6 249px,#504da4 254px,#4f48a1 283px,#4b429d 288px,#4a409c 294px,#4b419d 308px,#4f48a1 317px,#4f48a1 324px,#4f48a1 346px,#4b419d 352px,#4b419d 366px,#4f48a1 381px,#4f48a1f8 382px,#4f48a1d4 385px,#4f48a1d4 393px,#4f48a1ea 394px,#4e47a1ea 395px,#4e46a0f1 396px,#4d449f 397px,#4a409c 401px,#4a409c 417px,#4a409dbf 420px,#4c439e40 423px,#0000 426px);--q106:linear-gradient(90deg,#0000 82px,#504ea50e 83px,#504ea587 84px,#504ea5f8 85px,#504da4 86px,#4c429e 108px,#4c439e 140px,#4f4aa2 156px,#4c429e 164px,#4c429d 178px,#504ea5 199px,#505bae 212px,#505caf71 213px,#0000 214px,#0000 218px,#0000 247px,#505aad07 248px,#5054a987 249px,#5051a7f8 250px,#504fa5 251px,#4f48a1 284px,#4b409d 293px,#4b419d 310px,#4f48a1 322px,#4f48a1 347px,#4b409d 356px,#4b419d 369px,#4e45a0 374px,#4e47a0f1 375px,#4f48a1b1 378px,#4f48a187 379px,#4f48a16a 380px,#4f48a140 381px,#4f48a123 384px,#4f48a115 385px,#4f48a115 393px,#4f48a12a 394px,#4e47a12a 395px,#4e47a032 396px,#4d449f4e 398px,#4c429e6a 399px,#4b419d6a 400px,#4b419d95 401px,#4a409c95 402px,#4a409ca3 403px,#4a409cbf 404px,#4a409cbf 405px,#4a409cc6 406px,#4a409cd4 407px,#4a409cd4 411px,#4a409ccd 412px,#4a409cbf 413px,#4a409c95 414px,#4a409c40 417px,#0000 420px);--q107:linear-gradient(90deg,#0000 84px,#504ea547 85px,#504ea4dc 86px,#504da4 87px,#4c429e 109px,#4c439e 141px,#4f49a2 157px,#4c429e 165px,#4b419d 179px,#504da4 199px,#5058ab 211px,#5059acbf 212px,#505bae0e 213px,#0000 214px,#0000 218px,#0000 249px,#5053a855 250px,#5051a7d4 251px,#504fa5 252px,#4f48a1 285px,#4b419d 294px,#4b419d 311px,#4f48a1 320px,#4f48a1 330px,#4f48a1f1 331px,#4f48a1ea 332px,#4f48a1d4 333px,#4f48a1d4 334px,#4f48a1c6 335px,#4f48a1bf 336px,#4f48a1bf 337px,#4f48a1b1 338px,#4f48a195 339px,#4f48a195 345px,#4f48a1a3 346px,#4f48a1bf 347px,#4f48a1bf 348px,#4f48a1cd 349px,#4d459fea 352px,#4c439e 353px,#4b409d 368px,#4b419df8 369px,#4b419dcd 371px,#4c429db1 372px,#4e46a032 375px,#4f48a107 377px,#0000 378px,#0000 405px,#4a409c07 406px,#4a409c15 407px,#4a409c15 411px,#4a409c0e 412px,#0000 413px);--q108:linear-gradient(90deg,#0000 85px,#504ea51c 86px,#504da49c 87px,#504da4 88px,#4c429d 110px,#4c429e 143px,#4f49a2 158px,#4c429e 166px,#4b419d 180px,#5055a9 210px,#5056aad4 211px,#5058ac1c 212px,#0000 213px,#0000 250px,#5052a715 251px,#5050a687 252px,#504fa5d4 253px,#504ea5f8 254px,#504da4 255px,#4f48a1 287px,#4b409d 296px,#4b419d 313px,#4f48a1 323px,#4f48a1bf 326px,#4f48a195 327px,#4f48a140 330px,#4f48a132 331px,#4f48a12a 332px,#4f48a115 333px,#4f48a115 334px,#4f48a107 335px,#0000 336px,#0000 348px,#4e47a123 351px,#4e46a02a 352px,#4d449f40 353px,#4c429e4e 354px,#4b419d6a 355px,#4b419d78 356px,#4b419d95 357px,#4b409da3 358px,#4b409dbf 359px,#4b409dbf 360px,#4b409dc6 361px,#4b409dd4 362px,#4b409dd4 363px,#4b409dcd 364px,#4b409dbf 365px,#4b409da3 366px,#4b409d78 367px,#4b409d5c 368px,#4b419d39 369px,#4b419d0e 371px,#0000 372px);--q109:linear-gradient(90deg,#0000 86px,#504ea407 87px,#504da46a 88px,#504da4ea 89px,#504da4 90px,#4b429d 112px,#4c429e 144px,#4f49a2 160px,#4b419d 168px,#4b419d 181px,#5052a7 209px,#5053a8e3 210px,#5055a932 211px,#0000 212px,#0000 252px,#504fa515 253px,#504da478 255px,#504da4b1 256px,#504ca4bf 257px,#504ca3d4 258px,#4f49a2d4 277px,#4f49a2dc 278px,#4f49a2ea 279px,#4f49a2ea 282px,#4f49a2 283px,#4f48a1 289px,#4b419d 296px,#4c429e 317px,#4d439ef1 318px,#4e46a0c6 320px,#4e47a195 321px,#4f48a140 323px,#0000 326px,#0000 360px,#4b409d07 361px,#4b409d15 362px,#4b409d15 363px,#4b409d0e 364px,#0000 365px);--q110:linear-gradient(90deg,#0000 88px,#504da42a 89px,#504da4bf 90px,#504da4 91px,#4b419d 113px,#4c429d 145px,#4f48a1 161px,#4b419d 169px,#4b419d 182px,#504fa6 208px,#5051a6c6 209px,#5052a732 210px,#0000 211px,#0000 257px,#504ca315 258px,#4f4aa215 277px,#4f49a21c 278px,#4f49a22a 279px,#4f49a22a 282px,#4f49a240 283px,#4f49a240 285px,#4f49a26a 286px,#4f49a26a 287px,#4f49a287 288px,#4f48a195 289px,#4f48a1b1 290px,#4e48a1bf 291px,#4e47a0d4 292px,#4e459fe3 293px,#4d439eea 294px,#4c429e 295px,#4b409d 312px,#4b419df1 313px,#4b419ddc 314px,#4b419dbf 315px,#4b419d87 316px,#4c439e32 318px,#4e459f07 320px,#0000 321px);--q111:linear-gradient(90deg,#0000 89px,#504da40e 90px,#504da478 91px,#504da4f1 92px,#504ca4 93px,#4b419d 114px,#4b429d 147px,#4f48a1 162px,#4b419d 170px,#4b419d 182px,#504ca4 206px,#504da4f8 207px,#504ea59c 208px,#5050a615 209px,#0000 210px,#0000 291px,#4e47a115 292px,#4e46a023 293px,#4d449f2a 294px,#4c439e40 295px,#4b419d95 298px,#4b419dbf 299px,#4b409dcd 300px,#4b409de3 301px,#4a409c 303px,#4a409d 307px,#4a409df1 308px,#4a409ddc 309px,#4b409dbf 310px,#4b409d87 311px,#4b409d32 313px,#4b419d1c 314px,#0000 315px);--q112:linear-gradient(90deg,#0000 91px,#504da440 92px,#504da4c6 93px,#504da4 94px,#4b419d 118px,#4b419d 148px,#4f48a1 164px,#4b419d 172px,#4b419d 186px,#4f4aa2 204px,#4f4ba3f8 205px,#4f4ba3b8 206px,#504ca447 207px,#504da407 208px,#0000 209px,#0000 299px,#4b419d0e 300px,#4b409d23 301px,#4a409d40 303px,#4a409c6a 304px,#4a409c6a 306px,#4a409d32 308px,#4a409d1c 309px,#0000 310px);--q113:linear-gradient(90deg,#0000 92px,#504da415 93px,#504da495 94px,#504da4f8 95px,#504ca4 96px,#4b419d 119px,#4b419d 149px,#4e48a1 165px,#4b419d 173px,#4a409c 187px,#4f48a1 201px,#4f48a1f8 202px,#4f49a2dc 203px,#4f49a295 204px,#4f4aa247 205px,#4f4ba307 206px,#0000 207px);--q114:linear-gradient(90deg,#0000 94px,#504da455 95px,#504da4dc 96px,#504ca4 97px,#4b419d 120px,#4b419d 151px,#4e47a1 167px,#4b419d 174px,#4a409c 188px,#4e47a0 197px,#4e47a1f8 198px,#4e47a1bf 200px,#4f48a187 201px,#4f48a139 202px,#0000 204px);--q115:linear-gradient(90deg,#0000 95px,#504da41c 96px,#504da49c 97px,#504ca4f8 98px,#504ca3 99px,#4b419d 120px,#4b419d 152px,#4e47a1 168px,#4b409d 176px,#4b419d 192px,#4b419df8 193px,#4c439ee3 194px,#4d449fc6 195px,#4e45a0a3 196px,#4e46a06a 197px,#4e47a039 198px,#0000 200px);--q116:linear-gradient(90deg,#0000 96px,#504da407 97px,#504da463 98px,#504ca4dc 99px,#504ca4 100px,#4a409d 122px,#4b419d 153px,#4e46a0 163px,#4e46a0ea 164px,#4e47a0ea 166px,#4e47a1dc 167px,#4e47a1d4 168px,#4e47a1d4 170px,#4e47a0dc 171px,#4e46a0ea 172px,#4d449fea 174px,#4c429ef1 175px,#4b419d 176px,#4a409c 187px,#4a409cbf 190px,#4a409c6a 192px,#4b419d39 193px,#4c429d23 194px,#4c439e07 195px,#0000 196px);--q117:linear-gradient(90deg,#0000 98px,#504da41c 99px,#504ca440 100px,#504ca34e 101px,#4f4ba3a3 103px,#4f4aa2c6 104px,#4f49a2f1 106px,#4f48a1 107px,#4b409d 122px,#4a409c 151px,#4a409cf8 152px,#4a409ddc 154px,#4b419dd4 155px,#4b419dbf 156px,#4b419db1 157px,#4b429d95 158px,#4c429e87 159px,#4c439e6a 160px,#4d449e5c 161px,#4d449f40 162px,#4e459f40 163px,#4e46a02a 164px,#4e46a02a 166px,#4e47a01c 167px,#4e47a115 168px,#4e47a115 170px,#4e47a11c 171px,#4e47a02a 172px,#4e459f2a 174px,#4d439e32 175px,#4c429d40 176px,#4b419d40 177px,#4a409c4e 178px,#4a409c6a 179px,#4a409c6a 185px,#4a409c5c 186px,#4a409c40 187px,#0000 190px);--q118:linear-gradient(90deg,#0000 103px,#4f4aa307 104px,#4f49a232 106px,#4f49a24e 107px,#4f48a178 108px,#4f48a195 109px,#4e48a1bf 110px,#4e47a1c6 111px,#4e46a0ea 114px,#4e459fea 116px,#4d449ff1 117px,#4d439e 118px,#4a409c 140px,#4a409cf1 141px,#4a409cea 142px,#4a409cdc 143px,#4a409cbf 146px,#4a409ca3 147px,#4a409c95 148px,#4a409c6a 149px,#4a409c6a 150px,#4a409c40 151px,#4a409c39 152px,#4a409c1c 154px,#4b409d15 155px,#0000 156px);--q119:linear-gradient(90deg,#0000 110px,#4e47a01c 113px,#4e46a02a 114px,#4e45a02a 116px,#4d459f32 117px,#4d449f40 118px,#4a409c40 127px,#4a409c5c 128px,#4a409c6a 129px,#4a409c6a 131px,#4a409c5c 132px,#4a409c40 133px,#4a409c40 140px,#4a409c1c 143px,#0000 146px)}
</style></head><body><div id="c">
<svg class="l" width="1438" height="1070" viewBox="0 0 1438 1070">
<rect x="69.3" y="28.1" width="650.2" height="494.6" fill="#fff" stroke="#6c6c6c" stroke-width="2"/>
<rect x="736.1" y="28.1" width="650.3" height="494.6" fill="#fff" stroke="#6c6c6c" stroke-width="2"/>
<rect x="69.3" y="549.0" width="650.2" height="494.3" fill="#fff" stroke="#6c6c6c" stroke-width="2"/>
<rect x="736.1" y="549.0" width="650.3" height="494.3" fill="#fff" stroke="#6c6c6c" stroke-width="2"/>
<path d="M854.0 333.5L854.0 97.8M854.0 333.5L938.0 465.5M884.9 331.4L884.9 95.7M884.9 331.4L968.9 463.4M915.8 329.3L915.8 93.6M915.8 329.3L999.8 461.3M946.7 327.3L946.7 91.6M946.7 327.3L1030.7 459.3M977.6 325.2L977.6 89.5M977.6 325.2L1061.6 457.2M1008.5 323.1L1008.5 87.4M1008.5 323.1L1092.5 455.1M1039.4 321.0L1039.4 85.3M1039.4 321.0L1123.4 453.0M1070.3 319.0L1070.3 83.3M1070.3 319.0L1154.3 451.0M1101.2 316.9L1101.2 81.2M1101.2 316.9L1185.2 448.9M1132.0 314.8L1132.0 79.1M1132.0 314.8L1216.0 446.8M1162.9 312.7L1162.9 77.0M1162.9 312.7L1246.9 444.7M1193.8 310.6L1193.8 74.9M1193.8 310.6L1277.8 442.6M1224.7 308.6L1224.7 72.9M1224.7 308.6L1308.7 440.6M862.4 346.7L1274.3 319.0M1274.3 319.0L1274.3 83.3M870.8 359.9L1282.7 332.2M1282.7 332.2L1282.7 96.5M879.2 373.1L1291.1 345.4M1291.1 345.4L1291.1 109.7M887.6 386.3L1299.5 358.6M1299.5 358.6L1299.5 122.9M896.0 399.5L1307.9 371.8M1307.9 371.8L1307.9 136.1M904.4 412.7L1316.3 385.0M1316.3 385.0L1316.3 149.3M912.8 425.9L1324.7 398.2M1324.7 398.2L1324.7 162.5M921.2 439.1L1333.1 411.4M1333.1 411.4L1333.1 175.7M929.6 452.3L1341.5 424.6M1341.5 424.6L1341.5 188.9M938.0 465.5L1349.9 437.8M1349.9 437.8L1349.9 202.1M854.0 333.5L1265.9 305.8M1265.9 305.8L1349.9 437.8M854.0 274.6L1265.9 246.9M1265.9 246.9L1349.9 378.9M854.0 215.7L1265.9 188.0M1265.9 188.0L1349.9 320.0M854.0 156.7L1265.9 129.0M1265.9 129.0L1349.9 261.0M854.0 97.8L1265.9 70.1M1265.9 70.1L1349.9 202.1" stroke="#e9e9e9" stroke-width="1.1" fill="none"/>
<path d="M842.7 823.4L842.7 604.7M842.7 823.4L947.6 964.8M872.6 820.7L872.6 602.0M872.6 820.7L977.5 962.1M902.6 818.0L902.6 599.3M902.6 818.0L1007.5 959.4M932.5 815.3L932.5 596.6M932.5 815.3L1037.4 956.7M962.5 812.6L962.5 593.9M962.5 812.6L1067.4 954.0M992.4 809.9L992.4 591.2M992.4 809.9L1097.3 951.3M1022.3 807.2L1022.3 588.5M1022.3 807.2L1127.2 948.6M1052.3 804.4L1052.3 585.7M1052.3 804.4L1157.2 945.8M1082.2 801.7L1082.2 583.0M1082.2 801.7L1187.1 943.1M1112.2 799.0L1112.2 580.3M1112.2 799.0L1217.1 940.4M1142.1 796.3L1142.1 577.6M1142.1 796.3L1247.0 937.7M1172.0 793.6L1172.0 574.9M1172.0 793.6L1276.9 935.0M1202.0 790.9L1202.0 572.2M1202.0 790.9L1306.9 932.3M853.2 837.5L1252.4 801.4M1252.4 801.4L1252.4 582.7M863.7 851.7L1262.9 815.6M1262.9 815.6L1262.9 596.9M874.2 865.8L1273.4 829.7M1273.4 829.7L1273.4 611.0M884.7 880.0L1283.9 843.9M1283.9 843.9L1283.9 625.2M895.2 894.1L1294.4 858.0M1294.4 858.0L1294.4 639.3M905.6 908.2L1304.8 872.1M1304.8 872.1L1304.8 653.4M916.1 922.4L1315.3 886.3M1315.3 886.3L1315.3 667.6M926.6 936.5L1325.8 900.4M1325.8 900.4L1325.8 681.7M937.1 950.7L1336.3 914.6M1336.3 914.6L1336.3 695.9M947.6 964.8L1346.8 928.7M1346.8 928.7L1346.8 710.0M842.7 823.4L1241.9 787.3M1241.9 787.3L1346.8 928.7M842.7 750.5L1241.9 714.4M1241.9 714.4L1346.8 855.8M842.7 677.6L1241.9 641.5M1241.9 641.5L1346.8 782.9M842.7 604.7L1241.9 568.6M1241.9 568.6L1346.8 710.0" stroke="#e9e9e9" stroke-width="1.1" fill="none"/>
</svg>
<div class="h" style="left:146.0px;top:55.5px;width:444.8px;height:407.3px"><div style="top:0.00px;height:9.55px;background:var(--c0)"></div><div class="m" style="top:0.00px;height:9.55px;background:var(--c1)"></div><div style="top:9.05px;height:9.55px;background:var(--c1)"></div><div class="m" style="top:9.05px;height:9.55px;background:var(--c2)"></div><div style="top:18.10px;height:9.55px;background:var(--c2)"></div><div class="m" style="top:18.10px;height:9.55px;background:var(--c3)"></div><div style="top:27.15px;height:9.55px;background:var(--c3)"></div><div class="m" style="top:27.15px;height:9.55px;background:var(--c4)"></div><div style="top:36.20px;height:9.55px;background:var(--c4)"></div><div class="m" style="top:36.20px;height:9.55px;background:var(--c5)"></div><div style="top:45.26px;height:9.55px;background:var(--c5)"></div><div class="m" style="top:45.26px;height:9.55px;background:var(--c6)"></div><div style="top:54.31px;height:9.55px;background:var(--c6)"></div><div class="m" style="top:54.31px;height:9.55px;background:var(--c7)"></div><div style="top:63.36px;height:9.55px;background:var(--c7)"></div><div class="m" style="top:63.36px;height:9.55px;background:var(--c8)"></div><div style="top:72.41px;height:9.55px;background:var(--c8)"></div><div class="m" style="top:72.41px;height:9.55px;background:var(--c9)"></div><div style="top:81.46px;height:9.55px;background:var(--c9)"></div><div class="m" style="top:81.46px;height:9.55px;background:var(--c10)"></div><div style="top:90.51px;height:9.55px;background:var(--c10)"></div><div class="m" style="top:90.51px;height:9.55px;background:var(--c11)"></div><div style="top:99.56px;height:9.55px;background:var(--c11)"></div><div class="m" style="top:99.56px;height:9.55px;background:var(--c12)"></div><div style="top:108.61px;height:9.55px;background:var(--c12)"></div><div class="m" style="top:108.61px;height:9.55px;background:var(--c13)"></div><div style="top:117.66px;height:9.55px;background:var(--c13)"></div><div class="m" style="top:117.66px;height:9.55px;background:var(--c14)"></div><div style="top:126.72px;height:9.55px;background:var(--c14)"></div><div class="m" style="top:126.72px;height:9.55px;background:var(--c15)"></div><div style="top:135.77px;height:9.55px;background:var(--c15)"></div><div class="m" style="top:135.77px;height:9.55px;background:var(--c16)"></div><div style="top:144.82px;height:9.55px;background:var(--c16)"></div><div class="m" style="top:144.82px;height:9.55px;background:var(--c17)"></div><div style="top:153.87px;height:9.55px;background:var(--c17)"></div><div class="m" style="top:153.87px;height:9.55px;background:var(--c18)"></div><div style="top:162.92px;height:9.55px;background:var(--c18)"></div><div class="m" style="top:162.92px;height:9.55px;background:var(--c19)"></div><div style="top:171.97px;height:9.55px;background:var(--c19)"></div><div class="m" style="top:171.97px;height:9.55px;background:var(--c20)"></div><div style="top:181.02px;height:9.55px;background:var(--c20)"></div><div class="m" style="top:181.02px;height:9.55px;background:var(--c21)"></div><div style="top:190.07px;height:9.55px;background:var(--c21)"></div><div class="m" style="top:190.07px;height:9.55px;background:var(--c22)"></div><div style="top:199.12px;height:9.55px;background:var(--c22)"></div><div class="m" style="top:199.12px;height:9.55px;background:var(--c23)"></div><div style="top:208.18px;height:9.55px;background:var(--c23)"></div><div class="m" style="top:208.18px;height:9.55px;background:var(--c24)"></div><div style="top:217.23px;height:9.55px;background:var(--c24)"></div><div class="m" style="top:217.23px;height:9.55px;background:var(--c25)"></div><div style="top:226.28px;height:9.55px;background:var(--c25)"></div><div class="m" style="top:226.28px;height:9.55px;background:var(--c26)"></div><div style="top:235.33px;height:9.55px;background:var(--c26)"></div><div class="m" style="top:235.33px;height:9.55px;background:var(--c27)"></div><div style="top:244.38px;height:9.55px;background:var(--c27)"></div><div class="m" style="top:244.38px;height:9.55px;background:var(--c28)"></div><div style="top:253.43px;height:9.55px;background:var(--c28)"></div><div class="m" style="top:253.43px;height:9.55px;background:var(--c29)"></div><div style="top:262.48px;height:9.55px;background:var(--c29)"></div><div class="m" style="top:262.48px;height:9.55px;background:var(--c30)"></div><div style="top:271.53px;height:9.55px;background:var(--c30)"></div><div class="m" style="top:271.53px;height:9.55px;background:var(--c31)"></div><div style="top:280.58px;height:9.55px;background:var(--c31)"></div><div class="m" style="top:280.58px;height:9.55px;background:var(--c32)"></div><div style="top:289.64px;height:9.55px;background:var(--c32)"></div><div class="m" style="top:289.64px;height:9.55px;background:var(--c33)"></div><div style="top:298.69px;height:9.55px;background:var(--c33)"></div><div class="m" style="top:298.69px;height:9.55px;background:var(--c34)"></div><div style="top:307.74px;height:9.55px;background:var(--c34)"></div><div class="m" style="top:307.74px;height:9.55px;background:var(--c35)"></div><div style="top:316.79px;height:9.55px;background:var(--c35)"></div><div class="m" style="top:316.79px;height:9.55px;background:var(--c36)"></div><div style="top:325.84px;height:9.55px;background:var(--c36)"></div><div class="m" style="top:325.84px;height:9.55px;background:var(--c37)"></div><div style="top:334.89px;height:9.55px;background:var(--c37)"></div><div class="m" style="top:334.89px;height:9.55px;background:var(--c38)"></div><div style="top:343.94px;height:9.55px;background:var(--c38)"></div><div class="m" style="top:343.94px;height:9.55px;background:var(--c39)"></div><div style="top:352.99px;height:9.55px;background:var(--c39)"></div><div class="m" style="top:352.99px;height:9.55px;background:var(--c40)"></div><div style="top:362.04px;height:9.55px;background:var(--c40)"></div><div class="m" style="top:362.04px;height:9.55px;background:var(--c41)"></div><div style="top:371.10px;height:9.55px;background:var(--c41)"></div><div class="m" style="top:371.10px;height:9.55px;background:var(--c42)"></div><div style="top:380.15px;height:9.55px;background:var(--c42)"></div><div class="m" style="top:380.15px;height:9.55px;background:var(--c43)"></div><div style="top:389.20px;height:9.55px;background:var(--c43)"></div><div class="m" style="top:389.20px;height:9.55px;background:var(--c44)"></div><div style="top:398.25px;height:9.55px;background:var(--c44)"></div><div class="m" style="top:398.25px;height:9.55px;background:var(--c45)"></div></div>
<div style="position:absolute;left:618.6px;top:55.4px;width:32.4px;height:407.8px;background:linear-gradient(180deg,#f0ea3c,#f1e839,#f3e538,#f5e138,#f7db39,#f9d23c,#fac93f,#fabf43,#faba46,#f6bb47,#edbd48,#e2bf49,#d3c14b,#c2c24e,#b0c255,#9cc25f,#88c16a,#74c078,#62be85,#53bc8f,#46ba9a,#3db9a5,#35b7b0,#2db5bd,#29b3c8,#28b0cf,#28add6,#29aada,#2ba6db,#2ea1d9,#329bd6,#3893d2,#3e8bcd,#4383c8,#477ac3,#4a73be,#4c6cba,#4e66b6,#4f61b2,#505daf,#5059ac,#5055a9,#5050a6,#504ca4,#4f48a1,#4d449f,#4b419d,#483e9b)"></div>
<div class="h" style="left:151.1px;top:576.7px;width:438.6px;height:401.9px"><div style="top:0.00px;height:9.43px;background:var(--d0)"></div><div class="m" style="top:0.00px;height:9.43px;background:var(--d1)"></div><div style="top:8.93px;height:9.43px;background:var(--d1)"></div><div class="m" style="top:8.93px;height:9.43px;background:var(--d2)"></div><div style="top:17.86px;height:9.43px;background:var(--d2)"></div><div class="m" style="top:17.86px;height:9.43px;background:var(--d3)"></div><div style="top:26.79px;height:9.43px;background:var(--d3)"></div><div class="m" style="top:26.79px;height:9.43px;background:var(--d4)"></div><div style="top:35.72px;height:9.43px;background:var(--d4)"></div><div class="m" style="top:35.72px;height:9.43px;background:var(--d5)"></div><div style="top:44.66px;height:9.43px;background:var(--d5)"></div><div class="m" style="top:44.66px;height:9.43px;background:var(--d6)"></div><div style="top:53.59px;height:9.43px;background:var(--d6)"></div><div class="m" style="top:53.59px;height:9.43px;background:var(--d7)"></div><div style="top:62.52px;height:9.43px;background:var(--d7)"></div><div class="m" style="top:62.52px;height:9.43px;background:var(--d8)"></div><div style="top:71.45px;height:9.43px;background:var(--d8)"></div><div class="m" style="top:71.45px;height:9.43px;background:var(--d9)"></div><div style="top:80.38px;height:9.43px;background:var(--d9)"></div><div class="m" style="top:80.38px;height:9.43px;background:var(--d10)"></div><div style="top:89.31px;height:9.43px;background:var(--d10)"></div><div class="m" style="top:89.31px;height:9.43px;background:var(--d11)"></div><div style="top:98.24px;height:9.43px;background:var(--d11)"></div><div class="m" style="top:98.24px;height:9.43px;background:var(--d12)"></div><div style="top:107.17px;height:9.43px;background:var(--d12)"></div><div class="m" style="top:107.17px;height:9.43px;background:var(--d13)"></div><div style="top:116.10px;height:9.43px;background:var(--d13)"></div><div class="m" style="top:116.10px;height:9.43px;background:var(--d14)"></div><div style="top:125.04px;height:9.43px;background:var(--d14)"></div><div class="m" style="top:125.04px;height:9.43px;background:var(--d15)"></div><div style="top:133.97px;height:9.43px;background:var(--d15)"></div><div class="m" style="top:133.97px;height:9.43px;background:var(--d16)"></div><div style="top:142.90px;height:9.43px;background:var(--d16)"></div><div class="m" style="top:142.90px;height:9.43px;background:var(--d17)"></div><div style="top:151.83px;height:9.43px;background:var(--d17)"></div><div class="m" style="top:151.83px;height:9.43px;background:var(--d18)"></div><div style="top:160.76px;height:9.43px;background:var(--d18)"></div><div class="m" style="top:160.76px;height:9.43px;background:var(--d19)"></div><div style="top:169.69px;height:9.43px;background:var(--d19)"></div><div class="m" style="top:169.69px;height:9.43px;background:var(--d20)"></div><div style="top:178.62px;height:9.43px;background:var(--d20)"></div><div class="m" style="top:178.62px;height:9.43px;background:var(--d21)"></div><div style="top:187.55px;height:9.43px;background:var(--d21)"></div><div class="m" style="top:187.55px;height:9.43px;background:var(--d22)"></div><div style="top:196.48px;height:9.43px;background:var(--d22)"></div><div class="m" style="top:196.48px;height:9.43px;background:var(--d23)"></div><div style="top:205.42px;height:9.43px;background:var(--d23)"></div><div class="m" style="top:205.42px;height:9.43px;background:var(--d24)"></div><div style="top:214.35px;height:9.43px;background:var(--d24)"></div><div class="m" style="top:214.35px;height:9.43px;background:var(--d25)"></div><div style="top:223.28px;height:9.43px;background:var(--d25)"></div><div class="m" style="top:223.28px;height:9.43px;background:var(--d26)"></div><div style="top:232.21px;height:9.43px;background:var(--d26)"></div><div class="m" style="top:232.21px;height:9.43px;background:var(--d27)"></div><div style="top:241.14px;height:9.43px;background:var(--d27)"></div><div class="m" style="top:241.14px;height:9.43px;background:var(--d28)"></div><div style="top:250.07px;height:9.43px;background:var(--d28)"></div><div class="m" style="top:250.07px;height:9.43px;background:var(--d29)"></div><div style="top:259.00px;height:9.43px;background:var(--d29)"></div><div class="m" style="top:259.00px;height:9.43px;background:var(--d30)"></div><div style="top:267.93px;height:9.43px;background:var(--d30)"></div><div class="m" style="top:267.93px;height:9.43px;background:var(--d31)"></div><div style="top:276.86px;height:9.43px;background:var(--d31)"></div><div class="m" style="top:276.86px;height:9.43px;background:var(--d32)"></div><div style="top:285.80px;height:9.43px;background:var(--d32)"></div><div class="m" style="top:285.80px;height:9.43px;background:var(--d33)"></div><div style="top:294.73px;height:9.43px;background:var(--d33)"></div><div class="m" style="top:294.73px;height:9.43px;background:var(--d34)"></div><div style="top:303.66px;height:9.43px;background:var(--d34)"></div><div class="m" style="top:303.66px;height:9.43px;background:var(--d35)"></div><div style="top:312.59px;height:9.43px;background:var(--d35)"></div><div class="m" style="top:312.59px;height:9.43px;background:var(--d36)"></div><div style="top:321.52px;height:9.43px;background:var(--d36)"></div><div class="m" style="top:321.52px;height:9.43px;background:var(--d37)"></div><div style="top:330.45px;height:9.43px;background:var(--d37)"></div><div class="m" style="top:330.45px;height:9.43px;background:var(--d38)"></div><div style="top:339.38px;height:9.43px;background:var(--d38)"></div><div class="m" style="top:339.38px;height:9.43px;background:var(--d39)"></div><div style="top:348.31px;height:9.43px;background:var(--d39)"></div><div class="m" style="top:348.31px;height:9.43px;background:var(--d40)"></div><div style="top:357.24px;height:9.43px;background:var(--d40)"></div><div class="m" style="top:357.24px;height:9.43px;background:var(--d41)"></div><div style="top:366.18px;height:9.43px;background:var(--d41)"></div><div class="m" style="top:366.18px;height:9.43px;background:var(--d42)"></div><div style="top:375.11px;height:9.43px;background:var(--d42)"></div><div class="m" style="top:375.11px;height:9.43px;background:var(--d43)"></div><div style="top:384.04px;height:9.43px;background:var(--d43)"></div><div class="m" style="top:384.04px;height:9.43px;background:var(--d44)"></div><div style="top:392.97px;height:9.43px;background:var(--d44)"></div><div class="m" style="top:392.97px;height:9.43px;background:var(--d45)"></div></div>
<div style="position:absolute;left:617.0px;top:576.4px;width:32.8px;height:402.4px;background:linear-gradient(180deg,#f0ea3c,#f1e839,#f3e538,#f5e138,#f7db39,#f9d23c,#fac93f,#fabf43,#faba46,#f6bb47,#edbd48,#e2bf49,#d3c14b,#c2c24e,#b0c255,#9cc25f,#88c16a,#74c078,#62be85,#53bc8f,#46ba9a,#3db9a5,#35b7b0,#2db5bd,#29b3c8,#28b0cf,#28add6,#29aada,#2ba6db,#2ea1d9,#329bd6,#3893d2,#3e8bcd,#4383c8,#477ac3,#4a73be,#4c6cba,#4e66b6,#4f61b2,#505daf,#5059ac,#5055a9,#5050a6,#504ca4,#4f48a1,#4d449f,#4b419d,#483e9b)"></div>
<div class="r" style="left:856.5px;top:140px;width:460px;height:310px"><div class="d" style="top:16.5px;background:var(--p9)"></div><div class="u" style="top:18.5px;background:var(--p9)"></div><div class="d" style="top:18.5px;background:var(--p10)"></div><div class="u" style="top:20.5px;background:var(--p10)"></div><div class="d" style="top:20.5px;background:var(--p11)"></div><div class="u" style="top:22.5px;background:var(--p11)"></div><div class="d" style="top:22.5px;background:var(--p12)"></div><div class="u" style="top:24.5px;background:var(--p12)"></div><div class="d" style="top:24.5px;background:var(--p13)"></div><div class="u" style="top:26.5px;background:var(--p13)"></div><div class="d" style="top:26.5px;background:var(--p14)"></div><div class="u" style="top:28.5px;background:var(--p14)"></div><div class="d" style="top:28.5px;background:var(--p15)"></div><div class="u" style="top:30.5px;background:var(--p15)"></div><div class="d" style="top:30.5px;background:var(--p16)"></div><div class="u" style="top:32.5px;background:var(--p16)"></div><div class="d" style="top:32.5px;background:var(--p17)"></div><div class="u" style="top:34.5px;background:var(--p17)"></div><div class="d" style="top:34.5px;background:var(--p18)"></div><div class="u" style="top:36.5px;background:var(--p18)"></div><div class="d" style="top:36.5px;background:var(--p19)"></div><div class="u" style="top:38.5px;background:var(--p19)"></div><div class="d" style="top:38.5px;background:var(--p20)"></div><div class="u" style="top:40.5px;background:var(--p20)"></div><div class="d" style="top:40.5px;background:var(--p21)"></div><div class="u" style="top:42.5px;background:var(--p21)"></div><div class="d" style="top:42.5px;background:var(--p22)"></div><div class="u" style="top:44.5px;background:var(--p22)"></div><div class="d" style="top:44.5px;background:var(--p23)"></div><div class="u" style="top:46.5px;background:var(--p23)"></div><div class="d" style="top:46.5px;background:var(--p24)"></div><div class="u" style="top:48.5px;background:var(--p24)"></div><div class="d" style="top:48.5px;background:var(--p25)"></div><div class="u" style="top:50.5px;background:var(--p25)"></div><div class="d" style="top:50.5px;background:var(--p26)"></div><div class="u" style="top:52.5px;background:var(--p26)"></div><div class="d" style="top:52.5px;background:var(--p27)"></div><div class="u" style="top:54.5px;background:var(--p27)"></div><div class="d" style="top:54.5px;background:var(--p28)"></div><div class="u" style="top:56.5px;background:var(--p28)"></div><div class="d" style="top:56.5px;background:var(--p29)"></div><div class="u" style="top:58.5px;background:var(--p29)"></div><div class="d" style="top:58.5px;background:var(--p30)"></div><div class="u" style="top:60.5px;background:var(--p30)"></div><div class="d" style="top:60.5px;background:var(--p31)"></div><div class="u" style="top:62.5px;background:var(--p31)"></div><div class="d" style="top:62.5px;background:var(--p32)"></div><div class="u" style="top:64.5px;background:var(--p32)"></div><div class="d" style="top:64.5px;background:var(--p33)"></div><div class="u" style="top:66.5px;background:var(--p33)"></div><div class="d" style="top:66.5px;background:var(--p34)"></div><div class="u" style="top:68.5px;background:var(--p34)"></div><div class="d" style="top:68.5px;background:var(--p35)"></div><div class="u" style="top:70.5px;background:var(--p35)"></div><div class="d" style="top:70.5px;background:var(--p36)"></div><div class="u" style="top:72.5px;background:var(--p36)"></div><div class="d" style="top:72.5px;background:var(--p37)"></div><div class="u" style="top:74.5px;background:var(--p37)"></div><div class="d" style="top:74.5px;background:var(--p38)"></div><div class="u" style="top:76.5px;background:var(--p38)"></div><div class="d" style="top:76.5px;background:var(--p39)"></div><div class="u" style="top:78.5px;background:var(--p39)"></div><div class="d" style="top:78.5px;background:var(--p40)"></div><div class="u" style="top:80.5px;background:var(--p40)"></div><div class="d" style="top:80.5px;background:var(--p41)"></div><div class="u" style="top:82.5px;background:var(--p41)"></div><div class="d" style="top:82.5px;background:var(--p42)"></div><div class="u" style="top:84.5px;background:var(--p42)"></div><div class="d" style="top:84.5px;background:var(--p43)"></div><div class="u" style="top:86.5px;background:var(--p43)"></div><div class="d" style="top:86.5px;background:var(--p44)"></div><div class="u" style="top:88.5px;background:var(--p44)"></div><div class="d" style="top:88.5px;background:var(--p45)"></div><div class="u" style="top:90.5px;background:var(--p45)"></div><div class="d" style="top:90.5px;background:var(--p46)"></div><div class="u" style="top:92.5px;background:var(--p46)"></div><div class="d" style="top:92.5px;background:var(--p47)"></div><div class="u" style="top:94.5px;background:var(--p47)"></div><div class="d" style="top:94.5px;background:var(--p48)"></div><div class="u" style="top:96.5px;background:var(--p48)"></div><div class="d" style="top:96.5px;background:var(--p49)"></div><div class="u" style="top:98.5px;background:var(--p49)"></div><div class="d" style="top:98.5px;background:var(--p50)"></div><div class="u" style="top:100.5px;background:var(--p50)"></div><div class="d" style="top:100.5px;background:var(--p51)"></div><div class="u" style="top:102.5px;background:var(--p51)"></div><div class="d" style="top:102.5px;background:var(--p52)"></div><div class="u" style="top:104.5px;background:var(--p52)"></div><div class="d" style="top:104.5px;background:var(--p53)"></div><div class="u" style="top:106.5px;background:var(--p53)"></div><div class="d" style="top:106.5px;background:var(--p54)"></div><div class="u" style="top:108.5px;background:var(--p54)"></div><div class="d" style="top:108.5px;background:var(--p55)"></div><div class="u" style="top:110.5px;background:var(--p55)"></div><div class="d" style="top:110.5px;background:var(--p56)"></div><div class="u" style="top:112.5px;background:var(--p56)"></div><div class="d" style="top:112.5px;background:var(--p57)"></div><div class="u" style="top:114.5px;background:var(--p57)"></div><div class="d" style="top:114.5px;background:var(--p58)"></div><div class="u" style="top:116.5px;background:var(--p58)"></div><div class="d" style="top:116.5px;background:var(--p59)"></div><div class="u" style="top:118.5px;background:var(--p59)"></div><div class="d" style="top:118.5px;background:var(--p60)"></div><div class="u" style="top:120.5px;background:var(--p60)"></div><div class="d" style="top:120.5px;background:var(--p61)"></div><div class="u" style="top:122.5px;background:var(--p61)"></div><div class="d" style="top:122.5px;background:var(--p62)"></div><div class="u" style="top:124.5px;background:var(--p62)"></div><div class="d" style="top:124.5px;background:var(--p63)"></div><div class="u" style="top:126.5px;background:var(--p63)"></div><div class="d" style="top:126.5px;background:var(--p64)"></div><div class="u" style="top:128.5px;background:var(--p64)"></div><div class="d" style="top:128.5px;background:var(--p65)"></div><div class="u" style="top:130.5px;background:var(--p65)"></div><div class="d" style="top:130.5px;background:var(--p66)"></div><div class="u" style="top:132.5px;background:var(--p66)"></div><div class="d" style="top:132.5px;background:var(--p67)"></div><div class="u" style="top:134.5px;background:var(--p67)"></div><div class="d" style="top:134.5px;background:var(--p68)"></div><div class="u" style="top:136.5px;background:var(--p68)"></div><div class="d" style="top:136.5px;background:var(--p69)"></div><div class="u" style="top:138.5px;background:var(--p69)"></div><div class="d" style="top:138.5px;background:var(--p70)"></div><div class="u" style="top:140.5px;background:var(--p70)"></div><div class="d" style="top:140.5px;background:var(--p71)"></div><div class="u" style="top:142.5px;background:var(--p71)"></div><div class="d" style="top:142.5px;background:var(--p72)"></div><div class="u" style="top:144.5px;background:var(--p72)"></div><div class="d" style="top:144.5px;background:var(--p73)"></div><div class="u" style="top:146.5px;background:var(--p73)"></div><div class="d" style="top:146.5px;background:var(--p74)"></div><div class="u" style="top:148.5px;background:var(--p74)"></div><div class="d" style="top:148.5px;background:var(--p75)"></div><div class="u" style="top:150.5px;background:var(--p75)"></div><div class="d" style="top:150.5px;background:var(--p76)"></div><div class="u" style="top:152.5px;background:var(--p76)"></div><div class="d" style="top:152.5px;background:var(--p77)"></div><div class="u" style="top:154.5px;background:var(--p77)"></div><div class="d" style="top:154.5px;background:var(--p78)"></div><div class="u" style="top:156.5px;background:var(--p78)"></div><div class="d" style="top:156.5px;background:var(--p79)"></div><div class="u" style="top:158.5px;background:var(--p79)"></div><div class="d" style="top:158.5px;background:var(--p80)"></div><div class="u" style="top:160.5px;background:var(--p80)"></div><div class="d" style="top:160.5px;background:var(--p81)"></div><div class="u" style="top:162.5px;background:var(--p81)"></div><div class="d" style="top:162.5px;background:var(--p82)"></div><div class="u" style="top:164.5px;background:var(--p82)"></div><div class="d" style="top:164.5px;background:var(--p83)"></div><div class="u" style="top:166.5px;background:var(--p83)"></div><div class="d" style="top:166.5px;background:var(--p84)"></div><div class="u" style="top:168.5px;background:var(--p84)"></div><div class="d" style="top:168.5px;background:var(--p85)"></div><div class="u" style="top:170.5px;background:var(--p85)"></div><div class="d" style="top:170.5px;background:var(--p86)"></div><div class="u" style="top:172.5px;background:var(--p86)"></div><div class="d" style="top:172.5px;background:var(--p87)"></div><div class="u" style="top:174.5px;background:var(--p87)"></div><div class="d" style="top:174.5px;background:var(--p88)"></div><div class="u" style="top:176.5px;background:var(--p88)"></div><div class="d" style="top:176.5px;background:var(--p89)"></div><div class="u" style="top:178.5px;background:var(--p89)"></div><div class="d" style="top:178.5px;background:var(--p90)"></div><div class="u" style="top:180.5px;background:var(--p90)"></div><div class="d" style="top:180.5px;background:var(--p91)"></div><div class="u" style="top:182.5px;background:var(--p91)"></div><div class="d" style="top:182.5px;background:var(--p92)"></div><div class="u" style="top:184.5px;background:var(--p92)"></div><div class="d" style="top:184.5px;background:var(--p93)"></div><div class="u" style="top:186.5px;background:var(--p93)"></div><div class="d" style="top:186.5px;background:var(--p94)"></div><div class="u" style="top:188.5px;background:var(--p94)"></div><div class="d" style="top:188.5px;background:var(--p95)"></div><div class="u" style="top:190.5px;background:var(--p95)"></div><div class="d" style="top:190.5px;background:var(--p96)"></div><div class="u" style="top:192.5px;background:var(--p96)"></div><div class="d" style="top:192.5px;background:var(--p97)"></div><div class="u" style="top:194.5px;background:var(--p97)"></div><div class="d" style="top:194.5px;background:var(--p98)"></div><div class="u" style="top:196.5px;background:var(--p98)"></div><div class="d" style="top:196.5px;background:var(--p99)"></div><div class="u" style="top:198.5px;background:var(--p99)"></div><div class="d" style="top:198.5px;background:var(--p100)"></div><div class="u" style="top:200.5px;background:var(--p100)"></div><div class="d" style="top:200.5px;background:var(--p101)"></div><div class="u" style="top:202.5px;background:var(--p101)"></div><div class="d" style="top:202.5px;background:var(--p102)"></div><div class="u" style="top:204.5px;background:var(--p102)"></div><div class="d" style="top:204.5px;background:var(--p103)"></div><div class="u" style="top:206.5px;background:var(--p103)"></div><div class="d" style="top:206.5px;background:var(--p104)"></div><div class="u" style="top:208.5px;background:var(--p104)"></div><div class="d" style="top:208.5px;background:var(--p105)"></div><div class="u" style="top:210.5px;background:var(--p105)"></div><div class="d" style="top:210.5px;background:var(--p106)"></div><div class="u" style="top:212.5px;background:var(--p106)"></div><div class="d" style="top:212.5px;background:var(--p107)"></div><div class="u" style="top:214.5px;background:var(--p107)"></div><div class="d" style="top:214.5px;background:var(--p108)"></div><div class="u" style="top:216.5px;background:var(--p108)"></div><div class="d" style="top:216.5px;background:var(--p109)"></div><div class="u" style="top:218.5px;background:var(--p109)"></div><div class="d" style="top:218.5px;background:var(--p110)"></div><div class="u" style="top:220.5px;background:var(--p110)"></div><div class="d" style="top:220.5px;background:var(--p111)"></div><div class="u" style="top:222.5px;background:var(--p111)"></div><div class="d" style="top:222.5px;background:var(--p112)"></div><div class="u" style="top:224.5px;background:var(--p112)"></div><div class="d" style="top:224.5px;background:var(--p113)"></div><div class="u" style="top:226.5px;background:var(--p113)"></div><div class="d" style="top:226.5px;background:var(--p114)"></div><div class="u" style="top:228.5px;background:var(--p114)"></div><div class="d" style="top:228.5px;background:var(--p115)"></div><div class="u" style="top:230.5px;background:var(--p115)"></div><div class="d" style="top:230.5px;background:var(--p116)"></div><div class="u" style="top:232.5px;background:var(--p116)"></div><div class="d" style="top:232.5px;background:var(--p117)"></div><div class="u" style="top:234.5px;background:var(--p117)"></div><div class="d" style="top:234.5px;background:var(--p118)"></div><div class="u" style="top:236.5px;background:var(--p118)"></div><div class="d" style="top:236.5px;background:var(--p119)"></div><div class="u" style="top:238.5px;background:var(--p119)"></div><div class="d" style="top:238.5px;background:var(--p120)"></div><div class="u" style="top:240.5px;background:var(--p120)"></div><div class="d" style="top:240.5px;background:var(--p121)"></div><div class="u" style="top:242.5px;background:var(--p121)"></div><div class="d" style="top:242.5px;background:var(--p122)"></div><div class="u" style="top:244.5px;background:var(--p122)"></div><div class="d" style="top:244.5px;background:var(--p123)"></div><div class="u" style="top:246.5px;background:var(--p123)"></div><div class="d" style="top:246.5px;background:var(--p124)"></div><div class="u" style="top:248.5px;background:var(--p124)"></div><div class="d" style="top:248.5px;background:var(--p125)"></div><div class="u" style="top:250.5px;background:var(--p125)"></div><div class="d" style="top:250.5px;background:var(--p126)"></div><div class="u" style="top:252.5px;background:var(--p126)"></div><div class="d" style="top:252.5px;background:var(--p127)"></div><div class="u" style="top:254.5px;background:var(--p127)"></div><div class="d" style="top:254.5px;background:var(--p128)"></div><div class="u" style="top:256.5px;background:var(--p128)"></div><div class="d" style="top:256.5px;background:var(--p129)"></div><div class="u" style="top:258.5px;background:var(--p129)"></div><div class="d" style="top:258.5px;background:var(--p130)"></div><div class="u" style="top:260.5px;background:var(--p130)"></div><div class="d" style="top:260.5px;background:var(--p131)"></div><div class="u" style="top:262.5px;background:var(--p131)"></div><div class="d" style="top:262.5px;background:var(--p132)"></div><div class="u" style="top:264.5px;background:var(--p132)"></div><div class="d" style="top:264.5px;background:var(--p133)"></div><div class="u" style="top:266.5px;background:var(--p133)"></div><div class="d" style="top:266.5px;background:var(--p134)"></div><div class="u" style="top:268.5px;background:var(--p134)"></div><div class="d" style="top:268.5px;background:var(--p135)"></div><div class="u" style="top:270.5px;background:var(--p135)"></div><div class="d" style="top:270.5px;background:var(--p136)"></div><div class="u" style="top:272.5px;background:var(--p136)"></div><div class="d" style="top:272.5px;background:var(--p137)"></div><div class="u" style="top:274.5px;background:var(--p137)"></div><div class="d" style="top:274.5px;background:var(--p138)"></div><div class="u" style="top:276.5px;background:var(--p138)"></div><div class="d" style="top:276.5px;background:var(--p139)"></div><div class="u" style="top:278.5px;background:var(--p139)"></div><div class="d" style="top:278.5px;background:var(--p140)"></div><div class="u" style="top:280.5px;background:var(--p140)"></div><div class="d" style="top:280.5px;background:var(--p141)"></div><div class="u" style="top:282.5px;background:var(--p141)"></div></div>
<div class="r" style="left:848.5px;top:700px;width:466px;height:250px"><div class="d" style="top:22.5px;background:var(--q12)"></div><div class="u" style="top:24.5px;background:var(--q12)"></div><div class="d" style="top:24.5px;background:var(--q13)"></div><div class="u" style="top:26.5px;background:var(--q13)"></div><div class="d" style="top:26.5px;background:var(--q14)"></div><div class="u" style="top:28.5px;background:var(--q14)"></div><div class="d" style="top:28.5px;background:var(--q15)"></div><div class="u" style="top:30.5px;background:var(--q15)"></div><div class="d" style="top:30.5px;background:var(--q16)"></div><div class="u" style="top:32.5px;background:var(--q16)"></div><div class="d" style="top:32.5px;background:var(--q17)"></div><div class="u" style="top:34.5px;background:var(--q17)"></div><div class="d" style="top:34.5px;background:var(--q18)"></div><div class="u" style="top:36.5px;background:var(--q18)"></div><div class="d" style="top:36.5px;background:var(--q19)"></div><div class="u" style="top:38.5px;background:var(--q19)"></div><div class="d" style="top:38.5px;background:var(--q20)"></div><div class="u" style="top:40.5px;background:var(--q20)"></div><div class="d" style="top:40.5px;background:var(--q21)"></div><div class="u" style="top:42.5px;background:var(--q21)"></div><div class="d" style="top:42.5px;background:var(--q22)"></div><div class="u" style="top:44.5px;background:var(--q22)"></div><div class="d" style="top:44.5px;background:var(--q23)"></div><div class="u" style="top:46.5px;background:var(--q23)"></div><div class="d" style="top:46.5px;background:var(--q24)"></div><div class="u" style="top:48.5px;background:var(--q24)"></div><div class="d" style="top:48.5px;background:var(--q25)"></div><div class="u" style="top:50.5px;background:var(--q25)"></div><div class="d" style="top:50.5px;background:var(--q26)"></div><div class="u" style="top:52.5px;background:var(--q26)"></div><div class="d" style="top:52.5px;background:var(--q27)"></div><div class="u" style="top:54.5px;background:var(--q27)"></div><div class="d" style="top:54.5px;background:var(--q28)"></div><div class="u" style="top:56.5px;background:var(--q28)"></div><div class="d" style="top:56.5px;background:var(--q29)"></div><div class="u" style="top:58.5px;background:var(--q29)"></div><div class="d" style="top:58.5px;background:var(--q30)"></div><div class="u" style="top:60.5px;background:var(--q30)"></div><div class="d" style="top:60.5px;background:var(--q31)"></div><div class="u" style="top:62.5px;background:var(--q31)"></div><div class="d" style="top:62.5px;background:var(--q32)"></div><div class="u" style="top:64.5px;background:var(--q32)"></div><div class="d" style="top:64.5px;background:var(--q33)"></div><div class="u" style="top:66.5px;background:var(--q33)"></div><div class="d" style="top:66.5px;background:var(--q34)"></div><div class="u" style="top:68.5px;background:var(--q34)"></div><div class="d" style="top:68.5px;background:var(--q35)"></div><div class="u" style="top:70.5px;background:var(--q35)"></div><div class="d" style="top:70.5px;background:var(--q36)"></div><div class="u" style="top:72.5px;background:var(--q36)"></div><div class="d" style="top:72.5px;background:var(--q37)"></div><div class="u" style="top:74.5px;background:var(--q37)"></div><div class="d" style="top:74.5px;background:var(--q38)"></div><div class="u" style="top:76.5px;background:var(--q38)"></div><div class="d" style="top:76.5px;background:var(--q39)"></div><div class="u" style="top:78.5px;background:var(--q39)"></div><div class="d" style="top:78.5px;background:var(--q40)"></div><div class="u" style="top:80.5px;background:var(--q40)"></div><div class="d" style="top:80.5px;background:var(--q41)"></div><div class="u" style="top:82.5px;background:var(--q41)"></div><div class="d" style="top:82.5px;background:var(--q42)"></div><div class="u" style="top:84.5px;background:var(--q42)"></div><div class="d" style="top:84.5px;background:var(--q43)"></div><div class="u" style="top:86.5px;background:var(--q43)"></div><div class="d" style="top:86.5px;background:var(--q44)"></div><div class="u" style="top:88.5px;background:var(--q44)"></div><div class="d" style="top:88.5px;background:var(--q45)"></div><div class="u" style="top:90.5px;background:var(--q45)"></div><div class="d" style="top:90.5px;background:var(--q46)"></div><div class="u" style="top:92.5px;background:var(--q46)"></div><div class="d" style="top:92.5px;background:var(--q47)"></div><div class="u" style="top:94.5px;background:var(--q47)"></div><div class="d" style="top:94.5px;background:var(--q48)"></div><div class="u" style="top:96.5px;background:var(--q48)"></div><div class="d" style="top:96.5px;background:var(--q49)"></div><div class="u" style="top:98.5px;background:var(--q49)"></div><div class="d" style="top:98.5px;background:var(--q50)"></div><div class="u" style="top:100.5px;background:var(--q50)"></div><div class="d" style="top:100.5px;background:var(--q51)"></div><div class="u" style="top:102.5px;background:var(--q51)"></div><div class="d" style="top:102.5px;background:var(--q52)"></div><div class="u" style="top:104.5px;background:var(--q52)"></div><div class="d" style="top:104.5px;background:var(--q53)"></div><div class="u" style="top:106.5px;background:var(--q53)"></div><div class="d" style="top:106.5px;background:var(--q54)"></div><div class="u" style="top:108.5px;background:var(--q54)"></div><div class="d" style="top:108.5px;background:var(--q55)"></div><div class="u" style="top:110.5px;background:var(--q55)"></div><div class="d" style="top:110.5px;background:var(--q56)"></div><div class="u" style="top:112.5px;background:var(--q56)"></div><div class="d" style="top:112.5px;background:var(--q57)"></div><div class="u" style="top:114.5px;background:var(--q57)"></div><div class="d" style="top:114.5px;background:var(--q58)"></div><div class="u" style="top:116.5px;background:var(--q58)"></div><div class="d" style="top:116.5px;background:var(--q59)"></div><div class="u" style="top:118.5px;background:var(--q59)"></div><div class="d" style="top:118.5px;background:var(--q60)"></div><div class="u" style="top:120.5px;background:var(--q60)"></div><div class="d" style="top:120.5px;background:var(--q61)"></div><div class="u" style="top:122.5px;background:var(--q61)"></div><div class="d" style="top:122.5px;background:var(--q62)"></div><div class="u" style="top:124.5px;background:var(--q62)"></div><div class="d" style="top:124.5px;background:var(--q63)"></div><div class="u" style="top:126.5px;background:var(--q63)"></div><div class="d" style="top:126.5px;background:var(--q64)"></div><div class="u" style="top:128.5px;background:var(--q64)"></div><div class="d" style="top:128.5px;background:var(--q65)"></div><div class="u" style="top:130.5px;background:var(--q65)"></div><div class="d" style="top:130.5px;background:var(--q66)"></div><div class="u" style="top:132.5px;background:var(--q66)"></div><div class="d" style="top:132.5px;background:var(--q67)"></div><div class="u" style="top:134.5px;background:var(--q67)"></div><div class="d" style="top:134.5px;background:var(--q68)"></div><div class="u" style="top:136.5px;background:var(--q68)"></div><div class="d" style="top:136.5px;background:var(--q69)"></div><div class="u" style="top:138.5px;background:var(--q69)"></div><div class="d" style="top:138.5px;background:var(--q70)"></div><div class="u" style="top:140.5px;background:var(--q70)"></div><div class="d" style="top:140.5px;background:var(--q71)"></div><div class="u" style="top:142.5px;background:var(--q71)"></div><div class="d" style="top:142.5px;background:var(--q72)"></div><div class="u" style="top:144.5px;background:var(--q72)"></div><div class="d" style="top:144.5px;background:var(--q73)"></div><div class="u" style="top:146.5px;background:var(--q73)"></div><div class="d" style="top:146.5px;background:var(--q74)"></div><div class="u" style="top:148.5px;background:var(--q74)"></div><div class="d" style="top:148.5px;background:var(--q75)"></div><div class="u" style="top:150.5px;background:var(--q75)"></div><div class="d" style="top:150.5px;background:var(--q76)"></div><div class="u" style="top:152.5px;background:var(--q76)"></div><div class="d" style="top:152.5px;background:var(--q77)"></div><div class="u" style="top:154.5px;background:var(--q77)"></div><div class="d" style="top:154.5px;background:var(--q78)"></div><div class="u" style="top:156.5px;background:var(--q78)"></div><div class="d" style="top:156.5px;background:var(--q79)"></div><div class="u" style="top:158.5px;background:var(--q79)"></div><div class="d" style="top:158.5px;background:var(--q80)"></div><div class="u" style="top:160.5px;background:var(--q80)"></div><div class="d" style="top:160.5px;background:var(--q81)"></div><div class="u" style="top:162.5px;background:var(--q81)"></div><div class="d" style="top:162.5px;background:var(--q82)"></div><div class="u" style="top:164.5px;background:var(--q82)"></div><div class="d" style="top:164.5px;background:var(--q83)"></div><div class="u" style="top:166.5px;background:var(--q83)"></div><div class="d" style="top:166.5px;background:var(--q84)"></div><div class="u" style="top:168.5px;background:var(--q84)"></div><div class="d" style="top:168.5px;background:var(--q85)"></div><div class="u" style="top:170.5px;background:var(--q85)"></div><div class="d" style="top:170.5px;background:var(--q86)"></div><div class="u" style="top:172.5px;background:var(--q86)"></div><div class="d" style="top:172.5px;background:var(--q87)"></div><div class="u" style="top:174.5px;background:var(--q87)"></div><div class="d" style="top:174.5px;background:var(--q88)"></div><div class="u" style="top:176.5px;background:var(--q88)"></div><div class="d" style="top:176.5px;background:var(--q89)"></div><div class="u" style="top:178.5px;background:var(--q89)"></div><div class="d" style="top:178.5px;background:var(--q90)"></div><div class="u" style="top:180.5px;background:var(--q90)"></div><div class="d" style="top:180.5px;background:var(--q91)"></div><div class="u" style="top:182.5px;background:var(--q91)"></div><div class="d" style="top:182.5px;background:var(--q92)"></div><div class="u" style="top:184.5px;background:var(--q92)"></div><div class="d" style="top:184.5px;background:var(--q93)"></div><div class="u" style="top:186.5px;background:var(--q93)"></div><div class="d" style="top:186.5px;background:var(--q94)"></div><div class="u" style="top:188.5px;background:var(--q94)"></div><div class="d" style="top:188.5px;background:var(--q95)"></div><div class="u" style="top:190.5px;background:var(--q95)"></div><div class="d" style="top:190.5px;background:var(--q96)"></div><div class="u" style="top:192.5px;background:var(--q96)"></div><div class="d" style="top:192.5px;background:var(--q97)"></div><div class="u" style="top:194.5px;background:var(--q97)"></div><div class="d" style="top:194.5px;background:var(--q98)"></div><div class="u" style="top:196.5px;background:var(--q98)"></div><div class="d" style="top:196.5px;background:var(--q99)"></div><div class="u" style="top:198.5px;background:var(--q99)"></div><div class="d" style="top:198.5px;background:var(--q100)"></div><div class="u" style="top:200.5px;background:var(--q100)"></div><div class="d" style="top:200.5px;background:var(--q101)"></div><div class="u" style="top:202.5px;background:var(--q101)"></div><div class="d" style="top:202.5px;background:var(--q102)"></div><div class="u" style="top:204.5px;background:var(--q102)"></div><div class="d" style="top:204.5px;background:var(--q103)"></div><div class="u" style="top:206.5px;background:var(--q103)"></div><div class="d" style="top:206.5px;background:var(--q104)"></div><div class="u" style="top:208.5px;background:var(--q104)"></div><div class="d" style="top:208.5px;background:var(--q105)"></div><div class="u" style="top:210.5px;background:var(--q105)"></div><div class="d" style="top:210.5px;background:var(--q106)"></div><div class="u" style="top:212.5px;background:var(--q106)"></div><div class="d" style="top:212.5px;background:var(--q107)"></div><div class="u" style="top:214.5px;background:var(--q107)"></div><div class="d" style="top:214.5px;background:var(--q108)"></div><div class="u" style="top:216.5px;background:var(--q108)"></div><div class="d" style="top:216.5px;background:var(--q109)"></div><div class="u" style="top:218.5px;background:var(--q109)"></div><div class="d" style="top:218.5px;background:var(--q110)"></div><div class="u" style="top:220.5px;background:var(--q110)"></div><div class="d" style="top:220.5px;background:var(--q111)"></div><div class="u" style="top:222.5px;background:var(--q111)"></div><div class="d" style="top:222.5px;background:var(--q112)"></div><div class="u" style="top:224.5px;background:var(--q112)"></div><div class="d" style="top:224.5px;background:var(--q113)"></div><div class="u" style="top:226.5px;background:var(--q113)"></div><div class="d" style="top:226.5px;background:var(--q114)"></div><div class="u" style="top:228.5px;background:var(--q114)"></div><div class="d" style="top:228.5px;background:var(--q115)"></div><div class="u" style="top:230.5px;background:var(--q115)"></div><div class="d" style="top:230.5px;background:var(--q116)"></div><div class="u" style="top:232.5px;background:var(--q116)"></div><div class="d" style="top:232.5px;background:var(--q117)"></div><div class="u" style="top:234.5px;background:var(--q117)"></div><div class="d" style="top:234.5px;background:var(--q118)"></div><div class="u" style="top:236.5px;background:var(--q118)"></div><div class="d" style="top:236.5px;background:var(--q119)"></div><div class="u" style="top:238.5px;background:var(--q119)"></div></div>
<svg class="l" width="1438" height="1070" viewBox="0 0 1438 1070">
<rect x="68.89999999999999" y="27.599999999999998" width="46.4" height="41.6" fill="#0a4561"/>
<text transform="translate(91.2 58.8) scale(.65 1)" font-size="26" font-weight="700" fill="#f4fbff" stroke="none" style="stroke:none" text-anchor="middle">3c</text>
<rect x="68.89999999999999" y="548.7" width="46.4" height="41.6" fill="#0a4561"/>
<text transform="translate(91.8 579.4) scale(.65 1)" font-size="26" font-weight="700" fill="#f4fbff" stroke="none" style="stroke:none" text-anchor="middle">3d</text>
<rect x="618.6" y="55.4" width="32.4" height="407.8" fill="none" stroke="#3a3a20" stroke-opacity=".75" stroke-width="1"/>
<path d="M651.0 463.2h-4" stroke="#333" stroke-opacity=".7" stroke-width="1"/>
<text x="657.2" y="469.1" font-size="13.6" fill="#5c5c5c">0</text>
<path d="M651.0 420.8h-4" stroke="#333" stroke-opacity=".7" stroke-width="1"/>
<text x="657.2" y="426.7" font-size="13.6" fill="#5c5c5c">0.2</text>
<path d="M651.0 378.4h-4" stroke="#333" stroke-opacity=".7" stroke-width="1"/>
<text x="657.2" y="384.3" font-size="13.6" fill="#5c5c5c">0.4</text>
<path d="M651.0 336.0h-4" stroke="#333" stroke-opacity=".7" stroke-width="1"/>
<text x="657.2" y="341.9" font-size="13.6" fill="#5c5c5c">0.6</text>
<path d="M651.0 293.6h-4" stroke="#333" stroke-opacity=".7" stroke-width="1"/>
<text x="657.2" y="299.5" font-size="13.6" fill="#5c5c5c">0.8</text>
<path d="M651.0 251.2h-4" stroke="#333" stroke-opacity=".7" stroke-width="1"/>
<text x="657.2" y="257.1" font-size="13.6" fill="#5c5c5c">1</text>
<path d="M651.0 208.8h-4" stroke="#333" stroke-opacity=".7" stroke-width="1"/>
<text x="657.2" y="214.7" font-size="13.6" fill="#5c5c5c">1.2</text>
<path d="M651.0 166.4h-4" stroke="#333" stroke-opacity=".7" stroke-width="1"/>
<text x="657.2" y="172.3" font-size="13.6" fill="#5c5c5c">1.4</text>
<path d="M651.0 124.0h-4" stroke="#333" stroke-opacity=".7" stroke-width="1"/>
<text x="657.2" y="129.9" font-size="13.6" fill="#5c5c5c">1.6</text>
<path d="M651.0 81.6h-4" stroke="#333" stroke-opacity=".7" stroke-width="1"/>
<text x="657.2" y="87.5" font-size="13.6" fill="#5c5c5c">1.8</text>
<rect x="146.0" y="55.5" width="444.8" height="407.3" fill="none" stroke="#20304a" stroke-opacity=".6" stroke-width="1.1"/>
<text x="141.9" y="486.1" font-size="15.9" fill="#5c5c5c" text-anchor="middle">0</text>
<text x="180.8" y="486.1" font-size="15.9" fill="#5c5c5c" text-anchor="middle">30</text>
<text x="218.4" y="486.1" font-size="15.9" fill="#5c5c5c" text-anchor="middle">60</text>
<text x="255.6" y="486.1" font-size="15.9" fill="#5c5c5c" text-anchor="middle">90</text>
<text x="294.9" y="486.1" font-size="15.9" fill="#5c5c5c" text-anchor="middle">120</text>
<text x="332.4" y="486.1" font-size="15.9" fill="#5c5c5c" text-anchor="middle">150</text>
<text x="369.6" y="486.1" font-size="15.9" fill="#5c5c5c" text-anchor="middle">180</text>
<text x="405.8" y="486.1" font-size="15.9" fill="#5c5c5c" text-anchor="middle">210</text>
<text x="443.0" y="486.1" font-size="15.9" fill="#5c5c5c" text-anchor="middle">240</text>
<text x="479.2" y="486.1" font-size="15.9" fill="#5c5c5c" text-anchor="middle">270</text>
<text x="516.4" y="486.1" font-size="15.9" fill="#5c5c5c" text-anchor="middle">300</text>
<text x="552.9" y="486.1" font-size="15.9" fill="#5c5c5c" text-anchor="middle">330</text>
<text x="589.4" y="486.1" font-size="15.9" fill="#5c5c5c" text-anchor="middle">360</text>
<text x="136.10000000000002" y="64.2" font-size="15.9" fill="#5c5c5c" text-anchor="end">0</text>
<text x="140.3" y="109.1" font-size="15.9" fill="#5c5c5c" text-anchor="end">10</text>
<text x="140.3" y="153.9" font-size="15.9" fill="#5c5c5c" text-anchor="end">20</text>
<text x="140.3" y="198.8" font-size="15.9" fill="#5c5c5c" text-anchor="end">30</text>
<text x="140.3" y="243.7" font-size="15.9" fill="#5c5c5c" text-anchor="end">40</text>
<text x="140.3" y="288.5" font-size="15.9" fill="#5c5c5c" text-anchor="end">50</text>
<text x="140.3" y="333.4" font-size="15.9" fill="#5c5c5c" text-anchor="end">60</text>
<text x="140.3" y="378.3" font-size="15.9" fill="#5c5c5c" text-anchor="end">70</text>
<text x="140.3" y="423.2" font-size="15.9" fill="#5c5c5c" text-anchor="end">80</text>
<text x="140.3" y="468.0" font-size="15.9" fill="#5c5c5c" text-anchor="end">90</text>
<path d="M146.0 462.8v-4.5M146.0 55.5v4.5M183.1 462.8v-4.5M183.1 55.5v4.5M220.1 462.8v-4.5M220.1 55.5v4.5M257.2 462.8v-4.5M257.2 55.5v4.5M294.3 462.8v-4.5M294.3 55.5v4.5M331.3 462.8v-4.5M331.3 55.5v4.5M368.4 462.8v-4.5M368.4 55.5v4.5M405.5 462.8v-4.5M405.5 55.5v4.5M442.5 462.8v-4.5M442.5 55.5v4.5M479.6 462.8v-4.5M479.6 55.5v4.5M516.7 462.8v-4.5M516.7 55.5v4.5M553.7 462.8v-4.5M553.7 55.5v4.5M590.8 462.8v-4.5M590.8 55.5v4.5M146.0 55.5h4.5M590.8 55.5h-4.5M146.0 100.8h4.5M590.8 100.8h-4.5M146.0 146.0h4.5M590.8 146.0h-4.5M146.0 191.3h4.5M590.8 191.3h-4.5M146.0 236.5h4.5M590.8 236.5h-4.5M146.0 281.8h4.5M590.8 281.8h-4.5M146.0 327.0h4.5M590.8 327.0h-4.5M146.0 372.3h4.5M590.8 372.3h-4.5M146.0 417.5h4.5M590.8 417.5h-4.5M146.0 462.8h4.5M590.8 462.8h-4.5" stroke="#1c2c40" stroke-opacity=".6" stroke-width="1.1" fill="none"/>
<text x="366.0" y="508.8" font-size="16.3" fill="#5c5c5c" text-anchor="middle">azimuth, deg</text>
<text transform="translate(112.6 259.0) rotate(-90)" font-size="16.3" fill="#5c5c5c" text-anchor="middle">elevation, deg</text>
<circle cx="289.6" cy="217.6" r="1.3" fill="#3a3208" fill-opacity=".8"/>
<rect x="617.0" y="576.4" width="32.8" height="402.4" fill="none" stroke="#3a3a20" stroke-opacity=".75" stroke-width="1"/>
<path d="M649.8 952.4h-4" stroke="#333" stroke-opacity=".7" stroke-width="1"/>
<text x="654.8" y="958.3" font-size="13.6" fill="#5c5c5c">0.2</text>
<path d="M649.8 906.2h-4" stroke="#333" stroke-opacity=".7" stroke-width="1"/>
<text x="654.8" y="912.1" font-size="13.6" fill="#5c5c5c">0.3</text>
<path d="M649.8 859.9h-4" stroke="#333" stroke-opacity=".7" stroke-width="1"/>
<text x="654.8" y="865.8" font-size="13.6" fill="#5c5c5c">0.4</text>
<path d="M649.8 813.7h-4" stroke="#333" stroke-opacity=".7" stroke-width="1"/>
<text x="654.8" y="819.5" font-size="13.6" fill="#5c5c5c">0.5</text>
<path d="M649.8 767.4h-4" stroke="#333" stroke-opacity=".7" stroke-width="1"/>
<text x="654.8" y="773.3" font-size="13.6" fill="#5c5c5c">0.6</text>
<path d="M649.8 721.2h-4" stroke="#333" stroke-opacity=".7" stroke-width="1"/>
<text x="654.8" y="727.0" font-size="13.6" fill="#5c5c5c">0.7</text>
<path d="M649.8 674.9h-4" stroke="#333" stroke-opacity=".7" stroke-width="1"/>
<text x="654.8" y="680.8" font-size="13.6" fill="#5c5c5c">0.8</text>
<path d="M649.8 628.7h-4" stroke="#333" stroke-opacity=".7" stroke-width="1"/>
<text x="654.8" y="634.5" font-size="13.6" fill="#5c5c5c">0.9</text>
<path d="M649.8 582.4h-4" stroke="#333" stroke-opacity=".7" stroke-width="1"/>
<text x="654.8" y="588.3" font-size="13.6" fill="#5c5c5c">1</text>
<rect x="151.1" y="576.7" width="438.6" height="401.9" fill="none" stroke="#20304a" stroke-opacity=".6" stroke-width="1.1"/>
<text x="147.1" y="1002.4" font-size="15.9" fill="#5c5c5c" text-anchor="middle">0</text>
<text x="186.1" y="1002.4" font-size="15.9" fill="#5c5c5c" text-anchor="middle">30</text>
<text x="222.6" y="1002.4" font-size="15.9" fill="#5c5c5c" text-anchor="middle">60</text>
<text x="258.6" y="1002.4" font-size="15.9" fill="#5c5c5c" text-anchor="middle">90</text>
<text x="297.3" y="1002.4" font-size="15.9" fill="#5c5c5c" text-anchor="middle">120</text>
<text x="333.8" y="1002.4" font-size="15.9" fill="#5c5c5c" text-anchor="middle">150</text>
<text x="370.3" y="1002.4" font-size="15.9" fill="#5c5c5c" text-anchor="middle">180</text>
<text x="406.6" y="1002.4" font-size="15.9" fill="#5c5c5c" text-anchor="middle">210</text>
<text x="443.2" y="1002.4" font-size="15.9" fill="#5c5c5c" text-anchor="middle">240</text>
<text x="479.4" y="1002.4" font-size="15.9" fill="#5c5c5c" text-anchor="middle">270</text>
<text x="516.2" y="1002.4" font-size="15.9" fill="#5c5c5c" text-anchor="middle">300</text>
<text x="552.4" y="1002.4" font-size="15.9" fill="#5c5c5c" text-anchor="middle">330</text>
<text x="588.7" y="1002.4" font-size="15.9" fill="#5c5c5c" text-anchor="middle">360</text>
<text x="139.60000000000002" y="584.9" font-size="15.9" fill="#5c5c5c" text-anchor="end">0</text>
<text x="143.8" y="629.4" font-size="15.9" fill="#5c5c5c" text-anchor="end">10</text>
<text x="143.8" y="673.9" font-size="15.9" fill="#5c5c5c" text-anchor="end">20</text>
<text x="143.8" y="718.4" font-size="15.9" fill="#5c5c5c" text-anchor="end">30</text>
<text x="143.8" y="762.9" font-size="15.9" fill="#5c5c5c" text-anchor="end">40</text>
<text x="143.8" y="807.4" font-size="15.9" fill="#5c5c5c" text-anchor="end">50</text>
<text x="143.8" y="851.9" font-size="15.9" fill="#5c5c5c" text-anchor="end">60</text>
<text x="143.8" y="896.4" font-size="15.9" fill="#5c5c5c" text-anchor="end">70</text>
<text x="143.8" y="940.9" font-size="15.9" fill="#5c5c5c" text-anchor="end">80</text>
<text x="143.8" y="985.4" font-size="15.9" fill="#5c5c5c" text-anchor="end">90</text>
<path d="M151.1 978.6v-4.5M151.1 576.7v4.5M187.7 978.6v-4.5M187.7 576.7v4.5M224.2 978.6v-4.5M224.2 576.7v4.5M260.8 978.6v-4.5M260.8 576.7v4.5M297.3 978.6v-4.5M297.3 576.7v4.5M333.9 978.6v-4.5M333.9 576.7v4.5M370.4 978.6v-4.5M370.4 576.7v4.5M407.0 978.6v-4.5M407.0 576.7v4.5M443.5 978.6v-4.5M443.5 576.7v4.5M480.0 978.6v-4.5M480.0 576.7v4.5M516.6 978.6v-4.5M516.6 576.7v4.5M553.1 978.6v-4.5M553.1 576.7v4.5M589.7 978.6v-4.5M589.7 576.7v4.5M151.1 576.7h4.5M589.7 576.7h-4.5M151.1 621.4h4.5M589.7 621.4h-4.5M151.1 666.0h4.5M589.7 666.0h-4.5M151.1 710.7h4.5M589.7 710.7h-4.5M151.1 755.3h4.5M589.7 755.3h-4.5M151.1 800.0h4.5M589.7 800.0h-4.5M151.1 844.6h4.5M589.7 844.6h-4.5M151.1 889.3h4.5M589.7 889.3h-4.5M151.1 933.9h4.5M589.7 933.9h-4.5M151.1 978.6h4.5M589.7 978.6h-4.5" stroke="#1c2c40" stroke-opacity=".6" stroke-width="1.1" fill="none"/>
<text x="367.9" y="1023.5" font-size="16.3" fill="#5c5c5c" text-anchor="middle">azimuth, deg</text>
<text transform="translate(119.6 777.0) rotate(-90)" font-size="16.3" fill="#5c5c5c" text-anchor="middle">elevation, deg</text>
<path d="M854.0 333.5L854.0 97.8M854.0 333.5L938.0 465.5M938.0 465.5L1349.9 437.8M854.0 333.5l-7 -9.1M854.0 274.6l-7 -9.1M854.0 215.7l-7 -9.1M854.0 156.7l-7 -9.1M854.0 97.8l-7 -9.1M862.4 346.7l-9.3 1.4M870.8 359.9l-9.3 1.4M879.2 373.1l-9.3 1.4M887.6 386.3l-9.3 1.4M896.0 399.5l-9.3 1.4M904.4 412.7l-9.3 1.4M912.8 425.9l-9.3 1.4M921.2 439.1l-9.3 1.4M929.6 452.3l-9.3 1.4M938.0 465.5l-9.3 1.4M938.0 465.5l4.2 9.3M968.9 463.4l4.2 9.3M999.8 461.3l4.2 9.3M1030.7 459.3l4.2 9.3M1061.6 457.2l4.2 9.3M1092.5 455.1l4.2 9.3M1123.4 453.0l4.2 9.3M1154.3 451.0l4.2 9.3M1185.2 448.9l4.2 9.3M1216.0 446.8l4.2 9.3M1246.9 444.7l4.2 9.3M1277.8 442.6l4.2 9.3M1308.7 440.6l4.2 9.3" stroke="#666666" stroke-width="1.35" fill="none" stroke-linecap="round"/>
<text x="843.6" y="326.8" font-size="15.0" fill="#5c5c5c" text-anchor="end">0</text>
<text x="843.6" y="267.7" font-size="15.0" fill="#5c5c5c" text-anchor="end">0.5</text>
<text x="843.6" y="208.6" font-size="15.0" fill="#5c5c5c" text-anchor="end">1</text>
<text x="843.6" y="149.5" font-size="15.0" fill="#5c5c5c" text-anchor="end">1.5</text>
<text x="843.6" y="90.4" font-size="15.0" fill="#5c5c5c" text-anchor="end">2</text>
<text x="836.7" y="366.0" font-size="15.0" fill="#5c5c5c" text-anchor="middle">0</text>
<text x="845.0" y="378.9" font-size="15.0" fill="#5c5c5c" text-anchor="middle">10</text>
<text x="853.3" y="391.8" font-size="15.0" fill="#5c5c5c" text-anchor="middle">20</text>
<text x="861.5" y="404.7" font-size="15.0" fill="#5c5c5c" text-anchor="middle">30</text>
<text x="869.8" y="417.6" font-size="15.0" fill="#5c5c5c" text-anchor="middle">40</text>
<text x="878.1" y="430.5" font-size="15.0" fill="#5c5c5c" text-anchor="middle">50</text>
<text x="886.4" y="443.4" font-size="15.0" fill="#5c5c5c" text-anchor="middle">60</text>
<text x="894.7" y="456.3" font-size="15.0" fill="#5c5c5c" text-anchor="middle">70</text>
<text x="902.9" y="469.2" font-size="15.0" fill="#5c5c5c" text-anchor="middle">80</text>
<text x="911.2" y="482.1" font-size="15.0" fill="#5c5c5c" text-anchor="middle">90</text>
<text x="946.6" y="495.3" font-size="15.0" fill="#5c5c5c" text-anchor="start">0</text>
<text x="977.6" y="493.3" font-size="15.0" fill="#5c5c5c" text-anchor="start">30</text>
<text x="1008.6" y="491.4" font-size="15.0" fill="#5c5c5c" text-anchor="start">60</text>
<text x="1039.6" y="489.4" font-size="15.0" fill="#5c5c5c" text-anchor="start">90</text>
<text x="1070.6" y="487.5" font-size="15.0" fill="#5c5c5c" text-anchor="start">120</text>
<text x="1101.6" y="485.5" font-size="15.0" fill="#5c5c5c" text-anchor="start">150</text>
<text x="1132.6" y="483.6" font-size="15.0" fill="#5c5c5c" text-anchor="start">180</text>
<text x="1163.6" y="481.6" font-size="15.0" fill="#5c5c5c" text-anchor="start">210</text>
<text x="1194.6" y="479.7" font-size="15.0" fill="#5c5c5c" text-anchor="start">240</text>
<text x="1225.6" y="477.7" font-size="15.0" fill="#5c5c5c" text-anchor="start">270</text>
<text x="1256.6" y="475.8" font-size="15.0" fill="#5c5c5c" text-anchor="start">300</text>
<text x="1287.6" y="473.8" font-size="15.0" fill="#5c5c5c" text-anchor="start">330</text>
<text x="1318.6" y="471.9" font-size="15.0" fill="#5c5c5c" text-anchor="start">360</text>
<text x="818.4" y="480.5" font-size="16.7" fill="#5c5c5c" text-anchor="middle">elevation, deg</text>
<text x="1143.2" y="505.8" font-size="16.7" fill="#5c5c5c" text-anchor="middle">azimuth, deg</text>
<path d="M842.7 823.4L842.7 604.7M842.7 823.4L947.6 964.8M947.6 964.8L1346.8 928.7M842.7 823.4l-7 -9.1M842.7 750.5l-7 -9.1M842.7 677.6l-7 -9.1M842.7 604.7l-7 -9.1M853.2 837.5l-9.3 1.4M863.7 851.7l-9.3 1.4M874.2 865.8l-9.3 1.4M884.7 880.0l-9.3 1.4M895.2 894.1l-9.3 1.4M905.6 908.2l-9.3 1.4M916.1 922.4l-9.3 1.4M926.6 936.5l-9.3 1.4M937.1 950.7l-9.3 1.4M947.6 964.8l-9.3 1.4M947.6 964.8l4.2 9.3M977.5 962.1l4.2 9.3M1007.5 959.4l4.2 9.3M1037.4 956.7l4.2 9.3M1067.4 954.0l4.2 9.3M1097.3 951.3l4.2 9.3M1127.2 948.6l4.2 9.3M1157.2 945.8l4.2 9.3M1187.1 943.1l4.2 9.3M1217.1 940.4l4.2 9.3M1247.0 937.7l4.2 9.3M1276.9 935.0l4.2 9.3M1306.9 932.3l4.2 9.3" stroke="#666666" stroke-width="1.35" fill="none" stroke-linecap="round"/>
<text x="831.0" y="818.8" font-size="15.0" fill="#5c5c5c" text-anchor="end">0</text>
<text x="831.0" y="745.2" font-size="15.0" fill="#5c5c5c" text-anchor="end">0.5</text>
<text x="831.0" y="671.6" font-size="15.0" fill="#5c5c5c" text-anchor="end">1</text>
<text x="831.0" y="598.0" font-size="15.0" fill="#5c5c5c" text-anchor="end">1.5</text>
<text x="826.5" y="856.9" font-size="15.0" fill="#5c5c5c" text-anchor="middle">0</text>
<text x="837.1" y="871.0" font-size="15.0" fill="#5c5c5c" text-anchor="middle">10</text>
<text x="847.7" y="885.1" font-size="15.0" fill="#5c5c5c" text-anchor="middle">20</text>
<text x="858.3" y="899.2" font-size="15.0" fill="#5c5c5c" text-anchor="middle">30</text>
<text x="868.9" y="913.3" font-size="15.0" fill="#5c5c5c" text-anchor="middle">40</text>
<text x="879.5" y="927.4" font-size="15.0" fill="#5c5c5c" text-anchor="middle">50</text>
<text x="890.1" y="941.5" font-size="15.0" fill="#5c5c5c" text-anchor="middle">60</text>
<text x="900.7" y="955.6" font-size="15.0" fill="#5c5c5c" text-anchor="middle">70</text>
<text x="911.3" y="969.7" font-size="15.0" fill="#5c5c5c" text-anchor="middle">80</text>
<text x="921.9" y="983.8" font-size="15.0" fill="#5c5c5c" text-anchor="middle">90</text>
<text x="957.2" y="995.3" font-size="15.0" fill="#5c5c5c" text-anchor="start">0</text>
<text x="987.3" y="992.6" font-size="15.0" fill="#5c5c5c" text-anchor="start">30</text>
<text x="1017.4" y="989.9" font-size="15.0" fill="#5c5c5c" text-anchor="start">60</text>
<text x="1047.5" y="987.2" font-size="15.0" fill="#5c5c5c" text-anchor="start">90</text>
<text x="1077.6" y="984.5" font-size="15.0" fill="#5c5c5c" text-anchor="start">120</text>
<text x="1107.7" y="981.9" font-size="15.0" fill="#5c5c5c" text-anchor="start">150</text>
<text x="1137.8" y="979.2" font-size="15.0" fill="#5c5c5c" text-anchor="start">180</text>
<text x="1167.9" y="976.5" font-size="15.0" fill="#5c5c5c" text-anchor="start">210</text>
<text x="1198.0" y="973.8" font-size="15.0" fill="#5c5c5c" text-anchor="start">240</text>
<text x="1228.1" y="971.1" font-size="15.0" fill="#5c5c5c" text-anchor="start">270</text>
<text x="1258.2" y="968.5" font-size="15.0" fill="#5c5c5c" text-anchor="start">300</text>
<text x="1288.3" y="965.8" font-size="15.0" fill="#5c5c5c" text-anchor="start">330</text>
<text x="1318.4" y="963.1" font-size="15.0" fill="#5c5c5c" text-anchor="start">360</text>
<text x="822.0" y="978.2" font-size="16.7" fill="#5c5c5c" text-anchor="middle">elevation, deg</text>
<text x="1151.7" y="1004.3" font-size="16.7" fill="#5c5c5c" text-anchor="middle">azimuth, deg</text>
</svg>
</div></body></html>
